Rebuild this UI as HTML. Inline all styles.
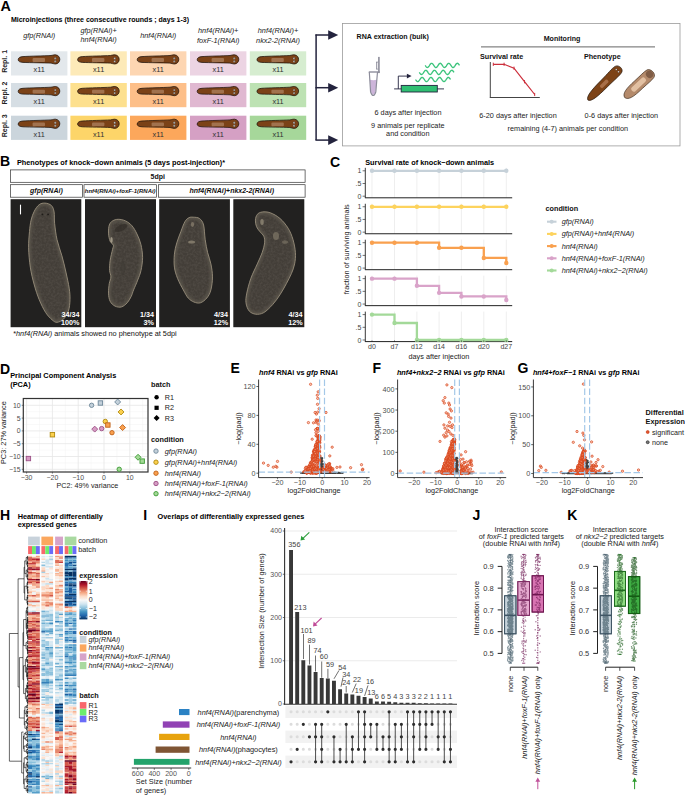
<!DOCTYPE html>
<html><head><meta charset="utf-8"><style>
html,body{margin:0;padding:0;background:#fff;width:685px;height:795px;overflow:hidden}
svg{display:block;font-family:"Liberation Sans", sans-serif}
</style></head><body>
<svg width="685" height="795" viewBox="0 0 685 795">
<defs>
<g id="worm">
<path d="M0.2,5 C0.2,2.8 2,2.1 5,1.8 C12,1.3 26,1.1 33,0.7 C35,0.4 36,-0.1 37.5,0 C40.5,0.3 41.8,2.5 41.8,4.6 C41.8,7 40,9.2 37.3,9.2 C35.5,9.2 34.5,8.4 33,8.3 C26,8.0 12,7.9 5,7.6 C2,7.4 0.2,6.6 0.2,5 Z" fill="#7b4217" stroke="#1e1209" stroke-width="0.75"/>
<rect x="14.6" y="3.3" width="12.4" height="3.8" rx="1" fill="#a87a58" opacity="0.85"/>
<circle cx="37.3" cy="3.6" r="0.95" fill="#fff" stroke="#222" stroke-width="0.35"/><circle cx="37.6" cy="3.6" r="0.4" fill="#222"/>
<circle cx="37.3" cy="6.6" r="0.95" fill="#fff" stroke="#222" stroke-width="0.35"/><circle cx="37.6" cy="6.6" r="0.4" fill="#222"/>
</g>
<filter id="bl" x="-20%" y="-20%" width="140%" height="140%"><feGaussianBlur stdDeviation="1.3"/></filter>
<filter id="grain" x="0" y="0" width="100%" height="100%"><feTurbulence type="fractalNoise" baseFrequency="0.45" numOctaves="2" seed="3" result="n"/><feColorMatrix in="n" type="matrix" values="0 0 0 0 0.54  0 0 0 0 0.5  0 0 0 0 0.44  0 0 0 1.6 -0.55" result="m"/><feComposite in="m" in2="SourceGraphic" operator="in"/></filter>
<radialGradient id="wg" cx="50%" cy="50%" r="60%">
<stop offset="0" stop-color="#46423b"/><stop offset="0.75" stop-color="#4f4a42"/><stop offset="1" stop-color="#6a6356"/>
</radialGradient>
</defs>
<text x="0.4" y="10.5" font-size="14.4" font-weight="bold">A</text>
<text x="10.9" y="22.3" font-size="7.04" font-weight="bold">Microinjections (three consecutive rounds ; days 1-3)</text>
<text x="39.2" y="37.6" font-size="7.3" text-anchor="middle" font-style="italic" fill="#222">gfp(RNAi)</text>
<rect x="11.00" y="51.30" width="56.40" height="24.20" fill="#e3e8ec"/>
<use href="#worm" x="18.00" y="54.80"/>
<text x="39.2" y="72.3" font-size="7.3" text-anchor="middle" fill="#333">x11</text>
<rect x="11.00" y="83.00" width="56.40" height="24.20" fill="#d6dee4"/>
<use href="#worm" x="18.00" y="86.50"/>
<text x="39.2" y="104.0" font-size="7.3" text-anchor="middle" fill="#333">x11</text>
<rect x="11.00" y="115.70" width="56.40" height="24.20" fill="#cbd5dc"/>
<use href="#worm" x="18.00" y="119.20"/>
<text x="39.2" y="136.7" font-size="7.3" text-anchor="middle" fill="#333">x11</text>
<text x="98.6" y="32.9" font-size="7.3" text-anchor="middle" font-style="italic" fill="#222">gfp(RNAi)+</text>
<text x="98.6" y="42.2" font-size="7.3" text-anchor="middle" font-style="italic" fill="#222">hnf4(RNAi)</text>
<rect x="70.40" y="51.30" width="56.40" height="24.20" fill="#fdeab8"/>
<use href="#worm" x="77.40" y="54.80"/>
<text x="98.6" y="72.3" font-size="7.3" text-anchor="middle" fill="#333">x11</text>
<rect x="70.40" y="83.00" width="56.40" height="24.20" fill="#fde08e"/>
<use href="#worm" x="77.40" y="86.50"/>
<text x="98.6" y="104.0" font-size="7.3" text-anchor="middle" fill="#333">x11</text>
<rect x="70.40" y="115.70" width="56.40" height="24.20" fill="#fdd569"/>
<use href="#worm" x="77.40" y="119.20"/>
<text x="98.6" y="136.7" font-size="7.3" text-anchor="middle" fill="#333">x11</text>
<text x="158.2" y="37.6" font-size="7.3" text-anchor="middle" font-style="italic" fill="#222">hnf4(RNAi)</text>
<rect x="130.00" y="51.30" width="56.40" height="24.20" fill="#fdd6b2"/>
<use href="#worm" x="137.00" y="54.80"/>
<text x="158.2" y="72.3" font-size="7.3" text-anchor="middle" fill="#333">x11</text>
<rect x="130.00" y="83.00" width="56.40" height="24.20" fill="#fdbf89"/>
<use href="#worm" x="137.00" y="86.50"/>
<text x="158.2" y="104.0" font-size="7.3" text-anchor="middle" fill="#333">x11</text>
<rect x="130.00" y="115.70" width="56.40" height="24.20" fill="#fca75b"/>
<use href="#worm" x="137.00" y="119.20"/>
<text x="158.2" y="136.7" font-size="7.3" text-anchor="middle" fill="#333">x11</text>
<text x="218.2" y="32.9" font-size="7.3" text-anchor="middle" font-style="italic" fill="#222">hnf4(RNAi)+</text>
<text x="218.2" y="42.5" font-size="7.3" text-anchor="middle" font-style="italic" fill="#222">foxF-1(RNAi)</text>
<rect x="190.00" y="51.30" width="56.40" height="24.20" fill="#ecd4e3"/>
<use href="#worm" x="197.00" y="54.80"/>
<text x="218.2" y="72.3" font-size="7.3" text-anchor="middle" fill="#333">x11</text>
<rect x="190.00" y="83.00" width="56.40" height="24.20" fill="#e0b8d1"/>
<use href="#worm" x="197.00" y="86.50"/>
<text x="218.2" y="104.0" font-size="7.3" text-anchor="middle" fill="#333">x11</text>
<rect x="190.00" y="115.70" width="56.40" height="24.20" fill="#d5a0c4"/>
<use href="#worm" x="197.00" y="119.20"/>
<text x="218.2" y="136.7" font-size="7.3" text-anchor="middle" fill="#333">x11</text>
<text x="278.0" y="32.9" font-size="7.3" text-anchor="middle" font-style="italic" fill="#222">hnf4(RNAi)+</text>
<text x="278.0" y="42.5" font-size="7.3" text-anchor="middle" font-style="italic" fill="#222">nkx2-2(RNAi)</text>
<rect x="249.80" y="51.30" width="56.40" height="24.20" fill="#d6edd0"/>
<use href="#worm" x="256.80" y="54.80"/>
<text x="278.0" y="72.3" font-size="7.3" text-anchor="middle" fill="#333">x11</text>
<rect x="249.80" y="83.00" width="56.40" height="24.20" fill="#bde2b3"/>
<use href="#worm" x="256.80" y="86.50"/>
<text x="278.0" y="104.0" font-size="7.3" text-anchor="middle" fill="#333">x11</text>
<rect x="249.80" y="115.70" width="56.40" height="24.20" fill="#a6d79a"/>
<use href="#worm" x="256.80" y="119.20"/>
<text x="278.0" y="136.7" font-size="7.3" text-anchor="middle" fill="#333">x11</text>
<text transform="translate(7.3,61.4) rotate(-90)" font-size="7.0" font-weight="bold" text-anchor="middle" fill="#222">Repl. 1</text>
<text transform="translate(7.3,93.1) rotate(-90)" font-size="7.0" font-weight="bold" text-anchor="middle" fill="#222">Repl. 2</text>
<text transform="translate(7.3,125.8) rotate(-90)" font-size="7.0" font-weight="bold" text-anchor="middle" fill="#222">Repl. 3</text>
<line x1="316.10" y1="34.60" x2="316.10" y2="140.10" stroke="#23233d" stroke-width="1.5"/>
<line x1="315.40" y1="35.00" x2="330.00" y2="35.00" stroke="#23233d" stroke-width="1.5"/>
<path d="M328.2,30.2 L338.2,35.0 L328.2,39.8 Z" fill="#23233d"/>
<line x1="315.40" y1="87.70" x2="330.00" y2="87.70" stroke="#23233d" stroke-width="1.5"/>
<path d="M328.2,82.9 L338.2,87.7 L328.2,92.5 Z" fill="#23233d"/>
<line x1="315.40" y1="140.10" x2="330.00" y2="140.10" stroke="#23233d" stroke-width="1.5"/>
<path d="M328.2,135.3 L338.2,140.1 L328.2,144.9 Z" fill="#23233d"/>
<rect x="342.40" y="23.40" width="337.60" height="122.50" fill="#fff" stroke="#9a9a9a" stroke-width="0.8"/>
<text x="356.6" y="38.6" font-size="7.1" font-weight="bold" fill="#111">RNA extraction (bulk)</text>
<path d="M369.8,79.8 L371.0,92 Q373.2,97.8 375.4,92 L376.9,79.8 Q373.4,80.6 369.8,79.8 Z" fill="#cdb5da"/>
<path d="M369.3,72 L370.6,92 Q373.2,99 375.8,92 L377.5,72" fill="none" stroke="#8d8d9b" stroke-width="1.2"/>
<line x1="368.80" y1="72.00" x2="379.80" y2="72.00" stroke="#8d8d9b" stroke-width="1.4"/>
<rect x="378.10" y="56.90" width="1.60" height="16.20" fill="#8d8d9b"/>
<rect x="376.40" y="62.10" width="1.80" height="7.00" fill="#fff" stroke="#8d8d9b" stroke-width="0.8"/>
<line x1="394.10" y1="88.90" x2="444.00" y2="88.90" stroke="#23233d" stroke-width="0.9"/>
<rect x="401.20" y="85.40" width="36.10" height="6.60" fill="#2fbf72" stroke="#23233d" stroke-width="0.9"/>
<path d="M398.3,88.9 L398.3,76.1 L407.6,76.1" fill="none" stroke="#23233d" stroke-width="0.9"/>
<path d="M406.9,73.7 L411.6,76.1 L406.9,78.5 Z" fill="#23233d"/>
<polyline points="425.20,65.40 425.55,65.93 425.90,66.43 426.25,66.86 426.60,67.20 426.95,67.41 427.30,67.50 427.65,67.45 428.00,67.26 428.35,66.95 428.70,66.55 429.05,66.06 429.40,65.53 429.75,65.00 430.10,64.49 430.45,64.04 430.80,63.68 431.15,63.43 431.50,63.31 431.85,63.33 432.20,63.48 432.55,63.76 432.90,64.14 433.25,64.61 433.60,65.13 433.95,65.67 434.30,66.19 434.65,66.66 435.00,67.04 435.35,67.32 435.70,67.47 436.05,67.49 436.40,67.37 436.75,67.12 437.10,66.76 437.45,66.31 437.80,65.80 438.15,65.27 438.50,64.74 438.85,64.25 439.20,63.85 439.55,63.54 439.90,63.35 440.25,63.30 440.60,63.39 440.95,63.60 441.30,63.94 441.65,64.37 442.00,64.87 442.35,65.40 442.70,65.93 443.05,66.43 443.40,66.86 443.75,67.20 444.10,67.41 444.45,67.50 444.80,67.45 445.15,67.26 445.50,66.95 445.85,66.55 446.20,66.06 446.55,65.53 446.90,65.00 447.25,64.49 447.60,64.04 447.95,63.68 448.30,63.43 448.65,63.31 449.00,63.33 449.35,63.48 449.70,63.76 450.05,64.14 450.40,64.61 450.75,65.13 451.10,65.67 451.45,66.19 451.80,66.66 452.15,67.04 452.50,67.32 452.85,67.47 453.20,67.49 453.55,67.37 453.90,67.12 454.25,66.76 454.60,66.31 454.95,65.80 455.30,65.27 455.65,64.74 456.00,64.25 456.35,63.85 456.70,63.54 457.05,63.35 457.40,63.30 457.75,63.39 458.10,63.60 458.45,63.94 458.80,64.37 459.15,64.87 459.50,65.40" fill="none" stroke="#3cc47c" stroke-width="1.35"/>
<polyline points="419.30,72.40 419.65,72.93 420.00,73.42 420.35,73.85 420.70,74.18 421.05,74.41 421.40,74.50 421.75,74.46 422.10,74.28 422.45,73.99 422.81,73.59 423.16,73.12 423.51,72.60 423.86,72.07 424.21,71.56 424.56,71.10 424.91,70.73 425.26,70.46 425.61,70.32 425.96,70.31 426.31,70.44 426.66,70.69 427.01,71.05 427.36,71.50 427.71,72.00 428.06,72.53 428.41,73.06 428.76,73.54 429.11,73.94 429.46,74.25 429.82,74.44 430.17,74.50 430.52,74.42 430.87,74.22 431.22,73.90 431.57,73.48 431.92,72.99 432.27,72.47 432.62,71.94 432.97,71.44 433.32,71.00 433.67,70.65 434.02,70.42 434.37,70.31 434.72,70.33 435.07,70.49 435.42,70.77 435.77,71.15 436.12,71.62 436.47,72.13 436.83,72.67 437.18,73.18 437.53,73.65 437.88,74.03 438.23,74.31 438.58,74.47 438.93,74.49 439.28,74.38 439.63,74.15 439.98,73.80 440.33,73.36 440.68,72.86 441.03,72.33 441.38,71.81 441.73,71.32 442.08,70.90 442.43,70.58 442.78,70.38 443.13,70.30 443.48,70.36 443.84,70.55 444.19,70.86 444.54,71.26 444.89,71.74 445.24,72.27 445.59,72.80 445.94,73.30 446.29,73.75 446.64,74.11 446.99,74.36 447.34,74.49 447.69,74.48 448.04,74.34 448.39,74.07 448.74,73.70 449.09,73.24 449.44,72.73 449.79,72.20 450.14,71.68 450.49,71.21 450.85,70.81 451.20,70.52 451.55,70.34 451.90,70.30 452.25,70.39 452.60,70.62 452.95,70.95 453.30,71.38 453.65,71.87 454.00,72.40" fill="none" stroke="#3cc47c" stroke-width="1.35"/>
<polyline points="415.60,79.50 415.95,80.03 416.31,80.52 416.66,80.95 417.01,81.28 417.36,81.51 417.72,81.60 418.07,81.56 418.42,81.38 418.77,81.09 419.13,80.69 419.48,80.22 419.83,79.70 420.18,79.17 420.54,78.66 420.89,78.20 421.24,77.83 421.59,77.56 421.95,77.42 422.30,77.41 422.65,77.54 423.00,77.79 423.36,78.15 423.71,78.60 424.06,79.10 424.41,79.63 424.77,80.16 425.12,80.64 425.47,81.04 425.82,81.35 426.18,81.54 426.53,81.60 426.88,81.52 427.23,81.32 427.59,81.00 427.94,80.58 428.29,80.09 428.64,79.57 429.00,79.04 429.35,78.54 429.70,78.10 430.05,77.75 430.41,77.52 430.76,77.41 431.11,77.43 431.46,77.59 431.82,77.87 432.17,78.25 432.52,78.72 432.87,79.23 433.23,79.77 433.58,80.28 433.93,80.75 434.28,81.13 434.64,81.41 434.99,81.57 435.34,81.59 435.69,81.48 436.05,81.25 436.40,80.90 436.75,80.46 437.10,79.96 437.46,79.43 437.81,78.91 438.16,78.42 438.51,78.00 438.87,77.68 439.22,77.48 439.57,77.40 439.92,77.46 440.28,77.65 440.63,77.96 440.98,78.36 441.33,78.84 441.69,79.37 442.04,79.90 442.39,80.40 442.74,80.85 443.10,81.21 443.45,81.46 443.80,81.59 444.15,81.58 444.51,81.44 444.86,81.17 445.21,80.80 445.56,80.34 445.92,79.83 446.27,79.30 446.62,78.78 446.97,78.31 447.33,77.91 447.68,77.62 448.03,77.44 448.38,77.40 448.74,77.49 449.09,77.72 449.44,78.05 449.79,78.48 450.15,78.97 450.50,79.50" fill="none" stroke="#3cc47c" stroke-width="1.35"/>
<text x="408.0" y="114.8" font-size="7.3" text-anchor="middle" fill="#222">6 days after injection</text>
<text x="407.8" y="128.0" font-size="7.3" text-anchor="middle" fill="#222">9 animals per replicate</text>
<text x="407.8" y="136.2" font-size="7.3" text-anchor="middle" fill="#222">and condition</text>
<text x="562.0" y="41.3" font-size="7.1" text-anchor="middle" font-weight="bold" fill="#111">Monitoring</text>
<line x1="481.00" y1="46.90" x2="655.00" y2="46.90" stroke="#555" stroke-width="0.9"/>
<text x="480.0" y="59.0" font-size="7.2" font-weight="bold" fill="#111">Survival rate</text>
<text x="583.9" y="59.0" font-size="7.2" font-weight="bold" fill="#111">Phenotype</text>
<line x1="490.30" y1="62.00" x2="490.30" y2="97.50" stroke="#444" stroke-width="1.0"/>
<line x1="489.80" y1="97.50" x2="539.80" y2="97.50" stroke="#444" stroke-width="1.0"/>
<polyline points="493.3,64.3 504.1,64.3 514.0,68.2 524.5,81.7 534.7,94.5" fill="none" stroke="#cc2f3c" stroke-width="1.2"/>
<line x1="493.30" y1="62.70" x2="493.30" y2="65.90" stroke="#cc2f3c" stroke-width="1.0"/>
<line x1="504.10" y1="62.70" x2="504.10" y2="65.90" stroke="#cc2f3c" stroke-width="1.0"/>
<line x1="514.00" y1="66.60" x2="514.00" y2="69.80" stroke="#cc2f3c" stroke-width="1.0"/>
<line x1="524.50" y1="80.10" x2="524.50" y2="83.30" stroke="#cc2f3c" stroke-width="1.0"/>
<line x1="534.70" y1="92.90" x2="534.70" y2="96.10" stroke="#cc2f3c" stroke-width="1.0"/>
<text x="518.0" y="118.3" font-size="7.3" text-anchor="middle" fill="#222">6-20 days after injection</text>
<text x="621.3" y="118.3" font-size="7.3" text-anchor="middle" fill="#222">0-6 days after injection</text>
<text x="567.8" y="130.8" font-size="7.3" text-anchor="middle" fill="#222">remaining (4-7) animals per condition</text>
<g transform="translate(604.2,83.8) rotate(-45)"><path d="M-23,0 C-22,-3.6 -14,-4.6 0,-4.6 C10,-4.6 16,-5.6 20,-4.6 C24,-3.6 24.5,3.6 20,4.4 C16,5.2 10,4.4 0,4.4 C-14,4.4 -22,3.6 -23,0 Z" fill="#7d4317" stroke="#2a1a0e" stroke-width="0.7"/><rect x="-5" y="-1.8" width="10" height="3.6" rx="1.2" fill="#a86f48"/><circle cx="18.6" cy="-1.6" r="0.8" fill="#fff" stroke="#222" stroke-width="0.3"/><circle cx="18.6" cy="1.6" r="0.8" fill="#fff" stroke="#222" stroke-width="0.3"/></g>
<g transform="translate(638.6,84.6) rotate(-43)"><path d="M-19,0 C-18,-4.6 -12,-5.6 0,-5.4 C8,-5.3 12,-5.8 16,-5 C20,-4 20.5,4.2 16,5.2 C12,6 8,5.4 0,5.4 C-12,5.6 -18,4.6 -19,0 Z" fill="#b48a6b" stroke="#4a3526" stroke-width="0.7"/><rect x="-9" y="-2.6" width="18" height="5.2" rx="2.2" fill="#e2c0a2"/><ellipse cx="15" cy="0" rx="3.6" ry="3.8" fill="#6a4a36" opacity="0.7"/></g>
<text x="0.0" y="166.2" font-size="14.0" font-weight="bold">B</text>
<text x="16.9" y="164.9" font-size="7.3" font-weight="bold">Phenotypes of knock−down animals (5 days post-injection)*</text>
<rect x="10.40" y="169.90" width="294.70" height="12.40" fill="#fff" stroke="#333" stroke-width="0.7"/>
<text x="157.8" y="178.6" font-size="7.0" text-anchor="middle" font-weight="bold" fill="#111">5dpi</text>
<rect x="10.40" y="184.70" width="72.00" height="12.50" fill="#fff" stroke="#333" stroke-width="0.7"/>
<text x="46.4" y="193.3" font-size="7.0" text-anchor="middle" font-weight="bold" fill="#111"><tspan font-style="italic">gfp(RNAi)</tspan></text>
<rect x="84.00" y="184.70" width="72.40" height="12.50" fill="#fff" stroke="#333" stroke-width="0.7"/>
<text x="120.2" y="193.3" font-size="5.95" text-anchor="middle" font-weight="bold" fill="#111"><tspan font-style="italic">hnf4(RNAi)</tspan>+<tspan font-style="italic">foxF-1(RNAi)</tspan></text>
<rect x="158.50" y="184.70" width="146.60" height="12.50" fill="#fff" stroke="#333" stroke-width="0.7"/>
<text x="231.8" y="193.3" font-size="7.0" text-anchor="middle" font-weight="bold" fill="#111"><tspan font-style="italic">hnf4(RNAi)</tspan>+<tspan font-style="italic">nkx2-2(RNAi)</tspan></text>
<rect x="10.60" y="199.20" width="70.70" height="128.00" fill="#222120"/>
<rect x="85.00" y="199.20" width="71.00" height="128.00" fill="#222120"/>
<rect x="159.20" y="199.20" width="70.70" height="128.00" fill="#222120"/>
<rect x="233.30" y="199.20" width="71.00" height="128.00" fill="#222120"/>
<clipPath id="wc0"><path d="M44.9,203.1 C46.9,203.2 49.9,204.0 51.4,205.5 C52.9,207.0 53.6,209.0 54.1,212.0 C54.6,215.0 54.1,218.7 54.6,223.3 C55.1,227.9 55.8,234.2 57.0,239.6 C58.2,245.0 60.4,250.4 61.9,255.8 C63.4,261.2 64.7,266.6 65.9,272.0 C67.1,277.4 68.5,283.6 69.2,288.2 C69.9,292.8 70.1,295.8 70.0,299.6 C69.9,303.4 69.5,307.8 68.4,311.0 C67.3,314.2 65.4,317.2 63.5,319.1 C61.6,321.0 58.9,322.2 57.0,322.3 C55.1,322.4 54.1,321.5 52.2,319.9 C50.3,318.3 47.9,316.0 45.7,312.6 C43.5,309.2 41.1,304.2 39.2,299.6 C37.3,295.0 35.8,290.4 34.3,285.0 C32.8,279.6 31.2,273.3 30.3,267.1 C29.4,260.9 28.7,253.6 28.6,247.7 C28.5,241.8 29.1,236.1 29.5,231.5 C29.9,226.9 30.3,223.5 31.1,220.1 C31.9,216.7 32.9,213.8 34.3,211.2 C35.6,208.6 37.4,206.0 39.2,204.7 C41.0,203.3 42.9,203.0 44.9,203.1 Z"/></clipPath>
<path d="M44.9,203.1 C46.9,203.2 49.9,204.0 51.4,205.5 C52.9,207.0 53.6,209.0 54.1,212.0 C54.6,215.0 54.1,218.7 54.6,223.3 C55.1,227.9 55.8,234.2 57.0,239.6 C58.2,245.0 60.4,250.4 61.9,255.8 C63.4,261.2 64.7,266.6 65.9,272.0 C67.1,277.4 68.5,283.6 69.2,288.2 C69.9,292.8 70.1,295.8 70.0,299.6 C69.9,303.4 69.5,307.8 68.4,311.0 C67.3,314.2 65.4,317.2 63.5,319.1 C61.6,321.0 58.9,322.2 57.0,322.3 C55.1,322.4 54.1,321.5 52.2,319.9 C50.3,318.3 47.9,316.0 45.7,312.6 C43.5,309.2 41.1,304.2 39.2,299.6 C37.3,295.0 35.8,290.4 34.3,285.0 C32.8,279.6 31.2,273.3 30.3,267.1 C29.4,260.9 28.7,253.6 28.6,247.7 C28.5,241.8 29.1,236.1 29.5,231.5 C29.9,226.9 30.3,223.5 31.1,220.1 C31.9,216.7 32.9,213.8 34.3,211.2 C35.6,208.6 37.4,206.0 39.2,204.7 C41.0,203.3 42.9,203.0 44.9,203.1 Z" fill="#433e38"/>
<path d="M44.9,203.1 C46.9,203.2 49.9,204.0 51.4,205.5 C52.9,207.0 53.6,209.0 54.1,212.0 C54.6,215.0 54.1,218.7 54.6,223.3 C55.1,227.9 55.8,234.2 57.0,239.6 C58.2,245.0 60.4,250.4 61.9,255.8 C63.4,261.2 64.7,266.6 65.9,272.0 C67.1,277.4 68.5,283.6 69.2,288.2 C69.9,292.8 70.1,295.8 70.0,299.6 C69.9,303.4 69.5,307.8 68.4,311.0 C67.3,314.2 65.4,317.2 63.5,319.1 C61.6,321.0 58.9,322.2 57.0,322.3 C55.1,322.4 54.1,321.5 52.2,319.9 C50.3,318.3 47.9,316.0 45.7,312.6 C43.5,309.2 41.1,304.2 39.2,299.6 C37.3,295.0 35.8,290.4 34.3,285.0 C32.8,279.6 31.2,273.3 30.3,267.1 C29.4,260.9 28.7,253.6 28.6,247.7 C28.5,241.8 29.1,236.1 29.5,231.5 C29.9,226.9 30.3,223.5 31.1,220.1 C31.9,216.7 32.9,213.8 34.3,211.2 C35.6,208.6 37.4,206.0 39.2,204.7 C41.0,203.3 42.9,203.0 44.9,203.1 Z" fill="#8a8070" filter="url(#grain)" opacity="0.13"/>
<g clip-path="url(#wc0)"><path d="M44.9,203.1 C46.9,203.2 49.9,204.0 51.4,205.5 C52.9,207.0 53.6,209.0 54.1,212.0 C54.6,215.0 54.1,218.7 54.6,223.3 C55.1,227.9 55.8,234.2 57.0,239.6 C58.2,245.0 60.4,250.4 61.9,255.8 C63.4,261.2 64.7,266.6 65.9,272.0 C67.1,277.4 68.5,283.6 69.2,288.2 C69.9,292.8 70.1,295.8 70.0,299.6 C69.9,303.4 69.5,307.8 68.4,311.0 C67.3,314.2 65.4,317.2 63.5,319.1 C61.6,321.0 58.9,322.2 57.0,322.3 C55.1,322.4 54.1,321.5 52.2,319.9 C50.3,318.3 47.9,316.0 45.7,312.6 C43.5,309.2 41.1,304.2 39.2,299.6 C37.3,295.0 35.8,290.4 34.3,285.0 C32.8,279.6 31.2,273.3 30.3,267.1 C29.4,260.9 28.7,253.6 28.6,247.7 C28.5,241.8 29.1,236.1 29.5,231.5 C29.9,226.9 30.3,223.5 31.1,220.1 C31.9,216.7 32.9,213.8 34.3,211.2 C35.6,208.6 37.4,206.0 39.2,204.7 C41.0,203.3 42.9,203.0 44.9,203.1 Z" fill="none" stroke="#58524a" stroke-width="5" filter="url(#bl)"/></g>
<path d="M44.9,203.1 C46.9,203.2 49.9,204.0 51.4,205.5 C52.9,207.0 53.6,209.0 54.1,212.0 C54.6,215.0 54.1,218.7 54.6,223.3 C55.1,227.9 55.8,234.2 57.0,239.6 C58.2,245.0 60.4,250.4 61.9,255.8 C63.4,261.2 64.7,266.6 65.9,272.0 C67.1,277.4 68.5,283.6 69.2,288.2 C69.9,292.8 70.1,295.8 70.0,299.6 C69.9,303.4 69.5,307.8 68.4,311.0 C67.3,314.2 65.4,317.2 63.5,319.1 C61.6,321.0 58.9,322.2 57.0,322.3 C55.1,322.4 54.1,321.5 52.2,319.9 C50.3,318.3 47.9,316.0 45.7,312.6 C43.5,309.2 41.1,304.2 39.2,299.6 C37.3,295.0 35.8,290.4 34.3,285.0 C32.8,279.6 31.2,273.3 30.3,267.1 C29.4,260.9 28.7,253.6 28.6,247.7 C28.5,241.8 29.1,236.1 29.5,231.5 C29.9,226.9 30.3,223.5 31.1,220.1 C31.9,216.7 32.9,213.8 34.3,211.2 C35.6,208.6 37.4,206.0 39.2,204.7 C41.0,203.3 42.9,203.0 44.9,203.1 Z" fill="none" stroke="#918876" stroke-width="0.95"/>
<clipPath id="wc1"><path d="M118.2,219.3 C120.4,219.3 123.2,219.8 125.5,220.9 C127.8,222.0 130.1,223.6 132.0,225.8 C133.9,228.0 135.4,230.8 136.9,233.9 C138.4,237.0 140.0,240.5 140.9,244.4 C141.8,248.3 142.6,253.1 142.6,257.4 C142.6,261.7 141.8,266.6 141.0,270.4 C140.2,274.2 138.9,276.9 137.7,280.1 C136.5,283.4 134.7,287.2 133.6,289.9 C132.5,292.6 132.3,294.2 131.2,296.4 C130.1,298.5 128.8,301.1 127.2,302.8 C125.6,304.6 123.5,306.3 121.5,306.9 C119.5,307.4 116.9,307.1 115.0,306.1 C113.1,305.2 111.2,303.4 110.1,301.2 C109.0,299.0 108.6,296.1 108.5,293.1 C108.4,290.1 108.9,286.1 109.3,283.4 C109.7,280.7 110.9,279.1 110.9,276.9 C111.0,274.7 109.7,273.1 109.6,270.4 C109.5,267.7 109.6,264.2 110.1,260.7 C110.6,257.2 112.0,251.9 112.6,249.3 C113.1,246.7 113.8,246.5 113.4,245.2 C113.0,243.8 110.9,243.2 110.1,241.2 C109.3,239.2 108.6,235.8 108.5,233.1 C108.4,230.4 108.6,227.0 109.3,225.0 C110.0,223.0 111.1,221.8 112.6,220.9 C114.1,220.0 116.0,219.3 118.2,219.3 Z"/></clipPath>
<path d="M118.2,219.3 C120.4,219.3 123.2,219.8 125.5,220.9 C127.8,222.0 130.1,223.6 132.0,225.8 C133.9,228.0 135.4,230.8 136.9,233.9 C138.4,237.0 140.0,240.5 140.9,244.4 C141.8,248.3 142.6,253.1 142.6,257.4 C142.6,261.7 141.8,266.6 141.0,270.4 C140.2,274.2 138.9,276.9 137.7,280.1 C136.5,283.4 134.7,287.2 133.6,289.9 C132.5,292.6 132.3,294.2 131.2,296.4 C130.1,298.5 128.8,301.1 127.2,302.8 C125.6,304.6 123.5,306.3 121.5,306.9 C119.5,307.4 116.9,307.1 115.0,306.1 C113.1,305.2 111.2,303.4 110.1,301.2 C109.0,299.0 108.6,296.1 108.5,293.1 C108.4,290.1 108.9,286.1 109.3,283.4 C109.7,280.7 110.9,279.1 110.9,276.9 C111.0,274.7 109.7,273.1 109.6,270.4 C109.5,267.7 109.6,264.2 110.1,260.7 C110.6,257.2 112.0,251.9 112.6,249.3 C113.1,246.7 113.8,246.5 113.4,245.2 C113.0,243.8 110.9,243.2 110.1,241.2 C109.3,239.2 108.6,235.8 108.5,233.1 C108.4,230.4 108.6,227.0 109.3,225.0 C110.0,223.0 111.1,221.8 112.6,220.9 C114.1,220.0 116.0,219.3 118.2,219.3 Z" fill="#433e38"/>
<path d="M118.2,219.3 C120.4,219.3 123.2,219.8 125.5,220.9 C127.8,222.0 130.1,223.6 132.0,225.8 C133.9,228.0 135.4,230.8 136.9,233.9 C138.4,237.0 140.0,240.5 140.9,244.4 C141.8,248.3 142.6,253.1 142.6,257.4 C142.6,261.7 141.8,266.6 141.0,270.4 C140.2,274.2 138.9,276.9 137.7,280.1 C136.5,283.4 134.7,287.2 133.6,289.9 C132.5,292.6 132.3,294.2 131.2,296.4 C130.1,298.5 128.8,301.1 127.2,302.8 C125.6,304.6 123.5,306.3 121.5,306.9 C119.5,307.4 116.9,307.1 115.0,306.1 C113.1,305.2 111.2,303.4 110.1,301.2 C109.0,299.0 108.6,296.1 108.5,293.1 C108.4,290.1 108.9,286.1 109.3,283.4 C109.7,280.7 110.9,279.1 110.9,276.9 C111.0,274.7 109.7,273.1 109.6,270.4 C109.5,267.7 109.6,264.2 110.1,260.7 C110.6,257.2 112.0,251.9 112.6,249.3 C113.1,246.7 113.8,246.5 113.4,245.2 C113.0,243.8 110.9,243.2 110.1,241.2 C109.3,239.2 108.6,235.8 108.5,233.1 C108.4,230.4 108.6,227.0 109.3,225.0 C110.0,223.0 111.1,221.8 112.6,220.9 C114.1,220.0 116.0,219.3 118.2,219.3 Z" fill="#8a8070" filter="url(#grain)" opacity="0.13"/>
<g clip-path="url(#wc1)"><path d="M118.2,219.3 C120.4,219.3 123.2,219.8 125.5,220.9 C127.8,222.0 130.1,223.6 132.0,225.8 C133.9,228.0 135.4,230.8 136.9,233.9 C138.4,237.0 140.0,240.5 140.9,244.4 C141.8,248.3 142.6,253.1 142.6,257.4 C142.6,261.7 141.8,266.6 141.0,270.4 C140.2,274.2 138.9,276.9 137.7,280.1 C136.5,283.4 134.7,287.2 133.6,289.9 C132.5,292.6 132.3,294.2 131.2,296.4 C130.1,298.5 128.8,301.1 127.2,302.8 C125.6,304.6 123.5,306.3 121.5,306.9 C119.5,307.4 116.9,307.1 115.0,306.1 C113.1,305.2 111.2,303.4 110.1,301.2 C109.0,299.0 108.6,296.1 108.5,293.1 C108.4,290.1 108.9,286.1 109.3,283.4 C109.7,280.7 110.9,279.1 110.9,276.9 C111.0,274.7 109.7,273.1 109.6,270.4 C109.5,267.7 109.6,264.2 110.1,260.7 C110.6,257.2 112.0,251.9 112.6,249.3 C113.1,246.7 113.8,246.5 113.4,245.2 C113.0,243.8 110.9,243.2 110.1,241.2 C109.3,239.2 108.6,235.8 108.5,233.1 C108.4,230.4 108.6,227.0 109.3,225.0 C110.0,223.0 111.1,221.8 112.6,220.9 C114.1,220.0 116.0,219.3 118.2,219.3 Z" fill="none" stroke="#58524a" stroke-width="5" filter="url(#bl)"/></g>
<path d="M118.2,219.3 C120.4,219.3 123.2,219.8 125.5,220.9 C127.8,222.0 130.1,223.6 132.0,225.8 C133.9,228.0 135.4,230.8 136.9,233.9 C138.4,237.0 140.0,240.5 140.9,244.4 C141.8,248.3 142.6,253.1 142.6,257.4 C142.6,261.7 141.8,266.6 141.0,270.4 C140.2,274.2 138.9,276.9 137.7,280.1 C136.5,283.4 134.7,287.2 133.6,289.9 C132.5,292.6 132.3,294.2 131.2,296.4 C130.1,298.5 128.8,301.1 127.2,302.8 C125.6,304.6 123.5,306.3 121.5,306.9 C119.5,307.4 116.9,307.1 115.0,306.1 C113.1,305.2 111.2,303.4 110.1,301.2 C109.0,299.0 108.6,296.1 108.5,293.1 C108.4,290.1 108.9,286.1 109.3,283.4 C109.7,280.7 110.9,279.1 110.9,276.9 C111.0,274.7 109.7,273.1 109.6,270.4 C109.5,267.7 109.6,264.2 110.1,260.7 C110.6,257.2 112.0,251.9 112.6,249.3 C113.1,246.7 113.8,246.5 113.4,245.2 C113.0,243.8 110.9,243.2 110.1,241.2 C109.3,239.2 108.6,235.8 108.5,233.1 C108.4,230.4 108.6,227.0 109.3,225.0 C110.0,223.0 111.1,221.8 112.6,220.9 C114.1,220.0 116.0,219.3 118.2,219.3 Z" fill="none" stroke="#918876" stroke-width="0.95"/>
<clipPath id="wc2"><path d="M193.1,217.2 C194.8,217.3 197.8,217.2 199.5,218.5 C201.2,219.8 202.7,221.5 203.6,225.0 C204.5,228.5 204.5,235.0 205.2,239.6 C205.9,244.2 206.6,248.4 207.6,252.5 C208.6,256.6 210.1,259.8 210.9,263.9 C211.7,268.0 212.5,272.6 212.5,276.9 C212.5,281.2 211.8,286.4 210.9,289.9 C210.0,293.4 208.6,295.9 206.8,298.0 C205.1,300.1 202.6,302.1 200.4,302.8 C198.2,303.5 195.9,302.8 193.9,302.0 C191.9,301.2 190.0,300.0 188.2,298.0 C186.4,296.0 185.1,293.1 183.3,289.9 C181.5,286.6 179.1,282.3 177.6,278.5 C176.1,274.7 174.9,271.2 174.4,267.1 C173.9,263.1 174.0,258.2 174.4,254.2 C174.8,250.1 175.7,246.6 176.8,242.8 C177.9,239.0 179.6,235.0 180.9,231.5 C182.2,228.0 183.6,224.0 184.9,221.7 C186.2,219.4 187.6,218.4 189.0,217.7 C190.4,216.9 191.3,217.1 193.1,217.2 Z"/></clipPath>
<path d="M193.1,217.2 C194.8,217.3 197.8,217.2 199.5,218.5 C201.2,219.8 202.7,221.5 203.6,225.0 C204.5,228.5 204.5,235.0 205.2,239.6 C205.9,244.2 206.6,248.4 207.6,252.5 C208.6,256.6 210.1,259.8 210.9,263.9 C211.7,268.0 212.5,272.6 212.5,276.9 C212.5,281.2 211.8,286.4 210.9,289.9 C210.0,293.4 208.6,295.9 206.8,298.0 C205.1,300.1 202.6,302.1 200.4,302.8 C198.2,303.5 195.9,302.8 193.9,302.0 C191.9,301.2 190.0,300.0 188.2,298.0 C186.4,296.0 185.1,293.1 183.3,289.9 C181.5,286.6 179.1,282.3 177.6,278.5 C176.1,274.7 174.9,271.2 174.4,267.1 C173.9,263.1 174.0,258.2 174.4,254.2 C174.8,250.1 175.7,246.6 176.8,242.8 C177.9,239.0 179.6,235.0 180.9,231.5 C182.2,228.0 183.6,224.0 184.9,221.7 C186.2,219.4 187.6,218.4 189.0,217.7 C190.4,216.9 191.3,217.1 193.1,217.2 Z" fill="#433e38"/>
<path d="M193.1,217.2 C194.8,217.3 197.8,217.2 199.5,218.5 C201.2,219.8 202.7,221.5 203.6,225.0 C204.5,228.5 204.5,235.0 205.2,239.6 C205.9,244.2 206.6,248.4 207.6,252.5 C208.6,256.6 210.1,259.8 210.9,263.9 C211.7,268.0 212.5,272.6 212.5,276.9 C212.5,281.2 211.8,286.4 210.9,289.9 C210.0,293.4 208.6,295.9 206.8,298.0 C205.1,300.1 202.6,302.1 200.4,302.8 C198.2,303.5 195.9,302.8 193.9,302.0 C191.9,301.2 190.0,300.0 188.2,298.0 C186.4,296.0 185.1,293.1 183.3,289.9 C181.5,286.6 179.1,282.3 177.6,278.5 C176.1,274.7 174.9,271.2 174.4,267.1 C173.9,263.1 174.0,258.2 174.4,254.2 C174.8,250.1 175.7,246.6 176.8,242.8 C177.9,239.0 179.6,235.0 180.9,231.5 C182.2,228.0 183.6,224.0 184.9,221.7 C186.2,219.4 187.6,218.4 189.0,217.7 C190.4,216.9 191.3,217.1 193.1,217.2 Z" fill="#8a8070" filter="url(#grain)" opacity="0.13"/>
<g clip-path="url(#wc2)"><path d="M193.1,217.2 C194.8,217.3 197.8,217.2 199.5,218.5 C201.2,219.8 202.7,221.5 203.6,225.0 C204.5,228.5 204.5,235.0 205.2,239.6 C205.9,244.2 206.6,248.4 207.6,252.5 C208.6,256.6 210.1,259.8 210.9,263.9 C211.7,268.0 212.5,272.6 212.5,276.9 C212.5,281.2 211.8,286.4 210.9,289.9 C210.0,293.4 208.6,295.9 206.8,298.0 C205.1,300.1 202.6,302.1 200.4,302.8 C198.2,303.5 195.9,302.8 193.9,302.0 C191.9,301.2 190.0,300.0 188.2,298.0 C186.4,296.0 185.1,293.1 183.3,289.9 C181.5,286.6 179.1,282.3 177.6,278.5 C176.1,274.7 174.9,271.2 174.4,267.1 C173.9,263.1 174.0,258.2 174.4,254.2 C174.8,250.1 175.7,246.6 176.8,242.8 C177.9,239.0 179.6,235.0 180.9,231.5 C182.2,228.0 183.6,224.0 184.9,221.7 C186.2,219.4 187.6,218.4 189.0,217.7 C190.4,216.9 191.3,217.1 193.1,217.2 Z" fill="none" stroke="#58524a" stroke-width="5" filter="url(#bl)"/></g>
<path d="M193.1,217.2 C194.8,217.3 197.8,217.2 199.5,218.5 C201.2,219.8 202.7,221.5 203.6,225.0 C204.5,228.5 204.5,235.0 205.2,239.6 C205.9,244.2 206.6,248.4 207.6,252.5 C208.6,256.6 210.1,259.8 210.9,263.9 C211.7,268.0 212.5,272.6 212.5,276.9 C212.5,281.2 211.8,286.4 210.9,289.9 C210.0,293.4 208.6,295.9 206.8,298.0 C205.1,300.1 202.6,302.1 200.4,302.8 C198.2,303.5 195.9,302.8 193.9,302.0 C191.9,301.2 190.0,300.0 188.2,298.0 C186.4,296.0 185.1,293.1 183.3,289.9 C181.5,286.6 179.1,282.3 177.6,278.5 C176.1,274.7 174.9,271.2 174.4,267.1 C173.9,263.1 174.0,258.2 174.4,254.2 C174.8,250.1 175.7,246.6 176.8,242.8 C177.9,239.0 179.6,235.0 180.9,231.5 C182.2,228.0 183.6,224.0 184.9,221.7 C186.2,219.4 187.6,218.4 189.0,217.7 C190.4,216.9 191.3,217.1 193.1,217.2 Z" fill="none" stroke="#918876" stroke-width="0.95"/>
<clipPath id="wc3"><path d="M262.2,212.0 C264.4,211.7 267.3,211.7 270.3,212.8 C273.3,213.9 277.0,215.9 280.0,218.5 C283.0,221.1 285.9,224.7 288.1,228.2 C290.3,231.7 291.8,235.5 293.0,239.6 C294.2,243.7 295.1,248.4 295.4,252.5 C295.7,256.6 295.3,260.4 294.6,263.9 C293.9,267.4 292.8,270.4 291.4,273.6 C290.0,276.9 288.4,279.9 286.5,283.4 C284.6,286.9 282.3,291.2 280.0,294.7 C277.7,298.2 275.4,301.5 272.7,304.5 C270.0,307.5 266.6,311.0 263.8,312.6 C261.0,314.2 258.1,314.5 255.7,314.2 C253.3,313.9 250.8,312.9 249.2,311.0 C247.6,309.1 246.4,305.8 246.0,302.8 C245.6,299.8 246.0,297.2 246.8,293.1 C247.6,289.1 249.1,283.4 250.8,278.5 C252.6,273.6 255.4,268.2 257.3,263.9 C259.2,259.6 261.0,256.0 262.2,252.5 C263.4,249.0 264.3,245.5 264.6,242.8 C264.9,240.1 264.6,238.2 263.8,236.3 C263.0,234.4 261.0,233.1 259.8,231.5 C258.6,229.9 257.2,228.5 256.5,226.6 C255.8,224.7 255.3,222.1 255.4,220.1 C255.5,218.1 256.2,215.8 257.3,214.4 C258.4,213.1 260.0,212.3 262.2,212.0 Z"/></clipPath>
<path d="M262.2,212.0 C264.4,211.7 267.3,211.7 270.3,212.8 C273.3,213.9 277.0,215.9 280.0,218.5 C283.0,221.1 285.9,224.7 288.1,228.2 C290.3,231.7 291.8,235.5 293.0,239.6 C294.2,243.7 295.1,248.4 295.4,252.5 C295.7,256.6 295.3,260.4 294.6,263.9 C293.9,267.4 292.8,270.4 291.4,273.6 C290.0,276.9 288.4,279.9 286.5,283.4 C284.6,286.9 282.3,291.2 280.0,294.7 C277.7,298.2 275.4,301.5 272.7,304.5 C270.0,307.5 266.6,311.0 263.8,312.6 C261.0,314.2 258.1,314.5 255.7,314.2 C253.3,313.9 250.8,312.9 249.2,311.0 C247.6,309.1 246.4,305.8 246.0,302.8 C245.6,299.8 246.0,297.2 246.8,293.1 C247.6,289.1 249.1,283.4 250.8,278.5 C252.6,273.6 255.4,268.2 257.3,263.9 C259.2,259.6 261.0,256.0 262.2,252.5 C263.4,249.0 264.3,245.5 264.6,242.8 C264.9,240.1 264.6,238.2 263.8,236.3 C263.0,234.4 261.0,233.1 259.8,231.5 C258.6,229.9 257.2,228.5 256.5,226.6 C255.8,224.7 255.3,222.1 255.4,220.1 C255.5,218.1 256.2,215.8 257.3,214.4 C258.4,213.1 260.0,212.3 262.2,212.0 Z" fill="#433e38"/>
<path d="M262.2,212.0 C264.4,211.7 267.3,211.7 270.3,212.8 C273.3,213.9 277.0,215.9 280.0,218.5 C283.0,221.1 285.9,224.7 288.1,228.2 C290.3,231.7 291.8,235.5 293.0,239.6 C294.2,243.7 295.1,248.4 295.4,252.5 C295.7,256.6 295.3,260.4 294.6,263.9 C293.9,267.4 292.8,270.4 291.4,273.6 C290.0,276.9 288.4,279.9 286.5,283.4 C284.6,286.9 282.3,291.2 280.0,294.7 C277.7,298.2 275.4,301.5 272.7,304.5 C270.0,307.5 266.6,311.0 263.8,312.6 C261.0,314.2 258.1,314.5 255.7,314.2 C253.3,313.9 250.8,312.9 249.2,311.0 C247.6,309.1 246.4,305.8 246.0,302.8 C245.6,299.8 246.0,297.2 246.8,293.1 C247.6,289.1 249.1,283.4 250.8,278.5 C252.6,273.6 255.4,268.2 257.3,263.9 C259.2,259.6 261.0,256.0 262.2,252.5 C263.4,249.0 264.3,245.5 264.6,242.8 C264.9,240.1 264.6,238.2 263.8,236.3 C263.0,234.4 261.0,233.1 259.8,231.5 C258.6,229.9 257.2,228.5 256.5,226.6 C255.8,224.7 255.3,222.1 255.4,220.1 C255.5,218.1 256.2,215.8 257.3,214.4 C258.4,213.1 260.0,212.3 262.2,212.0 Z" fill="#8a8070" filter="url(#grain)" opacity="0.13"/>
<g clip-path="url(#wc3)"><path d="M262.2,212.0 C264.4,211.7 267.3,211.7 270.3,212.8 C273.3,213.9 277.0,215.9 280.0,218.5 C283.0,221.1 285.9,224.7 288.1,228.2 C290.3,231.7 291.8,235.5 293.0,239.6 C294.2,243.7 295.1,248.4 295.4,252.5 C295.7,256.6 295.3,260.4 294.6,263.9 C293.9,267.4 292.8,270.4 291.4,273.6 C290.0,276.9 288.4,279.9 286.5,283.4 C284.6,286.9 282.3,291.2 280.0,294.7 C277.7,298.2 275.4,301.5 272.7,304.5 C270.0,307.5 266.6,311.0 263.8,312.6 C261.0,314.2 258.1,314.5 255.7,314.2 C253.3,313.9 250.8,312.9 249.2,311.0 C247.6,309.1 246.4,305.8 246.0,302.8 C245.6,299.8 246.0,297.2 246.8,293.1 C247.6,289.1 249.1,283.4 250.8,278.5 C252.6,273.6 255.4,268.2 257.3,263.9 C259.2,259.6 261.0,256.0 262.2,252.5 C263.4,249.0 264.3,245.5 264.6,242.8 C264.9,240.1 264.6,238.2 263.8,236.3 C263.0,234.4 261.0,233.1 259.8,231.5 C258.6,229.9 257.2,228.5 256.5,226.6 C255.8,224.7 255.3,222.1 255.4,220.1 C255.5,218.1 256.2,215.8 257.3,214.4 C258.4,213.1 260.0,212.3 262.2,212.0 Z" fill="none" stroke="#58524a" stroke-width="5" filter="url(#bl)"/></g>
<path d="M262.2,212.0 C264.4,211.7 267.3,211.7 270.3,212.8 C273.3,213.9 277.0,215.9 280.0,218.5 C283.0,221.1 285.9,224.7 288.1,228.2 C290.3,231.7 291.8,235.5 293.0,239.6 C294.2,243.7 295.1,248.4 295.4,252.5 C295.7,256.6 295.3,260.4 294.6,263.9 C293.9,267.4 292.8,270.4 291.4,273.6 C290.0,276.9 288.4,279.9 286.5,283.4 C284.6,286.9 282.3,291.2 280.0,294.7 C277.7,298.2 275.4,301.5 272.7,304.5 C270.0,307.5 266.6,311.0 263.8,312.6 C261.0,314.2 258.1,314.5 255.7,314.2 C253.3,313.9 250.8,312.9 249.2,311.0 C247.6,309.1 246.4,305.8 246.0,302.8 C245.6,299.8 246.0,297.2 246.8,293.1 C247.6,289.1 249.1,283.4 250.8,278.5 C252.6,273.6 255.4,268.2 257.3,263.9 C259.2,259.6 261.0,256.0 262.2,252.5 C263.4,249.0 264.3,245.5 264.6,242.8 C264.9,240.1 264.6,238.2 263.8,236.3 C263.0,234.4 261.0,233.1 259.8,231.5 C258.6,229.9 257.2,228.5 256.5,226.6 C255.8,224.7 255.3,222.1 255.4,220.1 C255.5,218.1 256.2,215.8 257.3,214.4 C258.4,213.1 260.0,212.3 262.2,212.0 Z" fill="none" stroke="#918876" stroke-width="0.95"/>
<ellipse cx="121" cy="228" rx="7" ry="3" fill="#2e2a25" opacity="0.6" transform="rotate(-25 121 228)"/>
<ellipse cx="111.5" cy="240" rx="1.2" ry="3" fill="#bdb3a0" opacity="0.7"/>
<ellipse cx="123" cy="268" rx="2.2" ry="7" fill="#3e3a33" opacity="0.5"/>
<ellipse cx="191.6" cy="242" rx="3.5" ry="1.6" fill="#8d8473" opacity="0.8"/>
<ellipse cx="192.5" cy="224.5" rx="1.6" ry="2.4" fill="#847b6a" opacity="0.8"/>
<ellipse cx="276" cy="236" rx="3" ry="4" fill="#8a8270" opacity="0.6"/>
<ellipse cx="285" cy="242" rx="3" ry="1.8" fill="#8a8270" opacity="0.5"/>
<ellipse cx="262" cy="222" rx="1.8" ry="3" fill="#9a917e" opacity="0.7"/>
<circle cx="42.40" cy="214.40" r="0.9" fill="#1e1b18"/>
<circle cx="48.10" cy="214.40" r="0.9" fill="#1e1b18"/>
<line x1="20.50" y1="204.70" x2="20.50" y2="214.40" stroke="#fff" stroke-width="1.1"/>
<text x="79.4" y="316.8" font-size="7.2" text-anchor="end" font-weight="bold" fill="#fff">34/34</text>
<text x="79.4" y="325.0" font-size="7.2" text-anchor="end" font-weight="bold" fill="#fff">100%</text>
<text x="154.0" y="316.8" font-size="7.2" text-anchor="end" font-weight="bold" fill="#fff">1/34</text>
<text x="154.0" y="325.0" font-size="7.2" text-anchor="end" font-weight="bold" fill="#fff">3%</text>
<text x="228.1" y="316.8" font-size="7.2" text-anchor="end" font-weight="bold" fill="#fff">4/34</text>
<text x="228.1" y="325.0" font-size="7.2" text-anchor="end" font-weight="bold" fill="#fff">12%</text>
<text x="302.6" y="316.8" font-size="7.2" text-anchor="end" font-weight="bold" fill="#fff">4/34</text>
<text x="302.6" y="325.0" font-size="7.2" text-anchor="end" font-weight="bold" fill="#fff">12%</text>
<text x="13.2" y="336.0" font-size="7.3" fill="#111">*<tspan font-style="italic">hnf4(RNAi)</tspan> animals showed no phenotype at 5dpi</text>
<text x="330.0" y="166.5" font-size="14.0" font-weight="bold">C</text>
<text x="365.2" y="164.9" font-size="7.33" font-weight="bold">Survival rate of knock−down animals</text>
<line x1="372.00" y1="167.80" x2="372.00" y2="197.80" stroke="#e3e3e3" stroke-width="0.6"/>
<line x1="394.50" y1="167.80" x2="394.50" y2="197.80" stroke="#e3e3e3" stroke-width="0.6"/>
<line x1="416.90" y1="167.80" x2="416.90" y2="197.80" stroke="#e3e3e3" stroke-width="0.6"/>
<line x1="439.10" y1="167.80" x2="439.10" y2="197.80" stroke="#e3e3e3" stroke-width="0.6"/>
<line x1="461.40" y1="167.80" x2="461.40" y2="197.80" stroke="#e3e3e3" stroke-width="0.6"/>
<line x1="483.80" y1="167.80" x2="483.80" y2="197.80" stroke="#e3e3e3" stroke-width="0.6"/>
<line x1="506.30" y1="167.80" x2="506.30" y2="197.80" stroke="#e3e3e3" stroke-width="0.6"/>
<line x1="365.30" y1="167.80" x2="365.30" y2="197.80" stroke="#222" stroke-width="0.9"/>
<line x1="364.90" y1="197.80" x2="512.20" y2="197.80" stroke="#222" stroke-width="1.0"/>
<line x1="362.60" y1="170.80" x2="365.30" y2="170.80" stroke="#333" stroke-width="0.7"/>
<text x="361.3" y="173.3" font-size="7.0" text-anchor="end" fill="#444">1</text>
<line x1="362.60" y1="183.50" x2="365.30" y2="183.50" stroke="#333" stroke-width="0.7"/>
<text x="361.3" y="186.0" font-size="7.0" text-anchor="end" fill="#444">.5</text>
<line x1="362.60" y1="196.20" x2="365.30" y2="196.20" stroke="#333" stroke-width="0.7"/>
<text x="361.3" y="198.7" font-size="7.0" text-anchor="end" fill="#444">0</text>
<path d="M372.0,170.8 H394.5 V170.8 H416.9 V170.8 H439.1 V170.8 H461.4 V170.8 H483.8 V170.8 H506.3 V170.8" fill="none" stroke="#c6d1d9" stroke-width="2.3"/>
<circle cx="372.00" cy="170.80" r="2.2" fill="#c6d1d9"/>
<circle cx="394.50" cy="170.80" r="2.2" fill="#c6d1d9"/>
<circle cx="416.90" cy="170.80" r="2.2" fill="#c6d1d9"/>
<circle cx="439.10" cy="170.80" r="2.2" fill="#c6d1d9"/>
<circle cx="461.40" cy="170.80" r="2.2" fill="#c6d1d9"/>
<circle cx="483.80" cy="170.80" r="2.2" fill="#c6d1d9"/>
<circle cx="506.30" cy="170.80" r="2.2" fill="#c6d1d9"/>
<line x1="372.00" y1="203.75" x2="372.00" y2="233.75" stroke="#e3e3e3" stroke-width="0.6"/>
<line x1="394.50" y1="203.75" x2="394.50" y2="233.75" stroke="#e3e3e3" stroke-width="0.6"/>
<line x1="416.90" y1="203.75" x2="416.90" y2="233.75" stroke="#e3e3e3" stroke-width="0.6"/>
<line x1="439.10" y1="203.75" x2="439.10" y2="233.75" stroke="#e3e3e3" stroke-width="0.6"/>
<line x1="461.40" y1="203.75" x2="461.40" y2="233.75" stroke="#e3e3e3" stroke-width="0.6"/>
<line x1="483.80" y1="203.75" x2="483.80" y2="233.75" stroke="#e3e3e3" stroke-width="0.6"/>
<line x1="506.30" y1="203.75" x2="506.30" y2="233.75" stroke="#e3e3e3" stroke-width="0.6"/>
<line x1="365.30" y1="203.75" x2="365.30" y2="233.75" stroke="#222" stroke-width="0.9"/>
<line x1="364.90" y1="233.75" x2="512.20" y2="233.75" stroke="#222" stroke-width="1.0"/>
<line x1="362.60" y1="206.75" x2="365.30" y2="206.75" stroke="#333" stroke-width="0.7"/>
<text x="361.3" y="209.2" font-size="7.0" text-anchor="end" fill="#444">1</text>
<line x1="362.60" y1="219.45" x2="365.30" y2="219.45" stroke="#333" stroke-width="0.7"/>
<text x="361.3" y="222.0" font-size="7.0" text-anchor="end" fill="#444">.5</text>
<line x1="362.60" y1="232.15" x2="365.30" y2="232.15" stroke="#333" stroke-width="0.7"/>
<text x="361.3" y="234.7" font-size="7.0" text-anchor="end" fill="#444">0</text>
<path d="M372.0,206.8 H394.5 V206.8 H416.9 V206.8 H439.1 V206.8 H461.4 V206.8 H483.8 V206.8 H506.3 V206.8" fill="none" stroke="#fdd35d" stroke-width="2.3"/>
<circle cx="372.00" cy="206.75" r="2.2" fill="#fdd35d"/>
<circle cx="394.50" cy="206.75" r="2.2" fill="#fdd35d"/>
<circle cx="416.90" cy="206.75" r="2.2" fill="#fdd35d"/>
<circle cx="439.10" cy="206.75" r="2.2" fill="#fdd35d"/>
<circle cx="461.40" cy="206.75" r="2.2" fill="#fdd35d"/>
<circle cx="483.80" cy="206.75" r="2.2" fill="#fdd35d"/>
<circle cx="506.30" cy="206.75" r="2.2" fill="#fdd35d"/>
<line x1="372.00" y1="239.70" x2="372.00" y2="269.70" stroke="#e3e3e3" stroke-width="0.6"/>
<line x1="394.50" y1="239.70" x2="394.50" y2="269.70" stroke="#e3e3e3" stroke-width="0.6"/>
<line x1="416.90" y1="239.70" x2="416.90" y2="269.70" stroke="#e3e3e3" stroke-width="0.6"/>
<line x1="439.10" y1="239.70" x2="439.10" y2="269.70" stroke="#e3e3e3" stroke-width="0.6"/>
<line x1="461.40" y1="239.70" x2="461.40" y2="269.70" stroke="#e3e3e3" stroke-width="0.6"/>
<line x1="483.80" y1="239.70" x2="483.80" y2="269.70" stroke="#e3e3e3" stroke-width="0.6"/>
<line x1="506.30" y1="239.70" x2="506.30" y2="269.70" stroke="#e3e3e3" stroke-width="0.6"/>
<line x1="365.30" y1="239.70" x2="365.30" y2="269.70" stroke="#222" stroke-width="0.9"/>
<line x1="364.90" y1="269.70" x2="512.20" y2="269.70" stroke="#222" stroke-width="1.0"/>
<line x1="362.60" y1="242.70" x2="365.30" y2="242.70" stroke="#333" stroke-width="0.7"/>
<text x="361.3" y="245.2" font-size="7.0" text-anchor="end" fill="#444">1</text>
<line x1="362.60" y1="255.40" x2="365.30" y2="255.40" stroke="#333" stroke-width="0.7"/>
<text x="361.3" y="257.9" font-size="7.0" text-anchor="end" fill="#444">.5</text>
<line x1="362.60" y1="268.10" x2="365.30" y2="268.10" stroke="#333" stroke-width="0.7"/>
<text x="361.3" y="270.6" font-size="7.0" text-anchor="end" fill="#444">0</text>
<path d="M372.0,242.7 H394.5 V242.7 H416.9 V242.7 H439.1 V247.8 H461.4 V247.8 H483.8 V257.9 H506.3 V263.0" fill="none" stroke="#f9a04e" stroke-width="2.3"/>
<circle cx="372.00" cy="242.70" r="2.2" fill="#f9a04e"/>
<circle cx="394.50" cy="242.70" r="2.2" fill="#f9a04e"/>
<circle cx="416.90" cy="242.70" r="2.2" fill="#f9a04e"/>
<circle cx="439.10" cy="247.78" r="2.2" fill="#f9a04e"/>
<circle cx="461.40" cy="247.78" r="2.2" fill="#f9a04e"/>
<circle cx="483.80" cy="257.94" r="2.2" fill="#f9a04e"/>
<circle cx="506.30" cy="263.02" r="2.2" fill="#f9a04e"/>
<line x1="372.00" y1="275.65" x2="372.00" y2="305.65" stroke="#e3e3e3" stroke-width="0.6"/>
<line x1="394.50" y1="275.65" x2="394.50" y2="305.65" stroke="#e3e3e3" stroke-width="0.6"/>
<line x1="416.90" y1="275.65" x2="416.90" y2="305.65" stroke="#e3e3e3" stroke-width="0.6"/>
<line x1="439.10" y1="275.65" x2="439.10" y2="305.65" stroke="#e3e3e3" stroke-width="0.6"/>
<line x1="461.40" y1="275.65" x2="461.40" y2="305.65" stroke="#e3e3e3" stroke-width="0.6"/>
<line x1="483.80" y1="275.65" x2="483.80" y2="305.65" stroke="#e3e3e3" stroke-width="0.6"/>
<line x1="506.30" y1="275.65" x2="506.30" y2="305.65" stroke="#e3e3e3" stroke-width="0.6"/>
<line x1="365.30" y1="275.65" x2="365.30" y2="305.65" stroke="#222" stroke-width="0.9"/>
<line x1="364.90" y1="305.65" x2="512.20" y2="305.65" stroke="#222" stroke-width="1.0"/>
<line x1="362.60" y1="278.65" x2="365.30" y2="278.65" stroke="#333" stroke-width="0.7"/>
<text x="361.3" y="281.2" font-size="7.0" text-anchor="end" fill="#444">1</text>
<line x1="362.60" y1="291.35" x2="365.30" y2="291.35" stroke="#333" stroke-width="0.7"/>
<text x="361.3" y="293.9" font-size="7.0" text-anchor="end" fill="#444">.5</text>
<line x1="362.60" y1="304.05" x2="365.30" y2="304.05" stroke="#333" stroke-width="0.7"/>
<text x="361.3" y="306.6" font-size="7.0" text-anchor="end" fill="#444">0</text>
<path d="M372.0,278.7 H394.5 V278.7 H416.9 V285.8 H439.1 V292.9 H461.4 V296.4 H483.8 V296.4 H506.3 V300.0" fill="none" stroke="#d9a3c9" stroke-width="2.3"/>
<circle cx="372.00" cy="278.65" r="2.2" fill="#d9a3c9"/>
<circle cx="394.50" cy="278.65" r="2.2" fill="#d9a3c9"/>
<circle cx="416.90" cy="285.76" r="2.2" fill="#d9a3c9"/>
<circle cx="439.10" cy="292.87" r="2.2" fill="#d9a3c9"/>
<circle cx="461.40" cy="296.43" r="2.2" fill="#d9a3c9"/>
<circle cx="483.80" cy="296.43" r="2.2" fill="#d9a3c9"/>
<circle cx="506.30" cy="299.99" r="2.2" fill="#d9a3c9"/>
<line x1="372.00" y1="311.60" x2="372.00" y2="341.60" stroke="#e3e3e3" stroke-width="0.6"/>
<line x1="394.50" y1="311.60" x2="394.50" y2="341.60" stroke="#e3e3e3" stroke-width="0.6"/>
<line x1="416.90" y1="311.60" x2="416.90" y2="341.60" stroke="#e3e3e3" stroke-width="0.6"/>
<line x1="439.10" y1="311.60" x2="439.10" y2="341.60" stroke="#e3e3e3" stroke-width="0.6"/>
<line x1="461.40" y1="311.60" x2="461.40" y2="341.60" stroke="#e3e3e3" stroke-width="0.6"/>
<line x1="483.80" y1="311.60" x2="483.80" y2="341.60" stroke="#e3e3e3" stroke-width="0.6"/>
<line x1="506.30" y1="311.60" x2="506.30" y2="341.60" stroke="#e3e3e3" stroke-width="0.6"/>
<line x1="365.30" y1="311.60" x2="365.30" y2="341.60" stroke="#222" stroke-width="0.9"/>
<line x1="364.90" y1="341.60" x2="512.20" y2="341.60" stroke="#222" stroke-width="1.0"/>
<line x1="362.60" y1="314.60" x2="365.30" y2="314.60" stroke="#333" stroke-width="0.7"/>
<text x="361.3" y="317.1" font-size="7.0" text-anchor="end" fill="#444">1</text>
<line x1="362.60" y1="327.30" x2="365.30" y2="327.30" stroke="#333" stroke-width="0.7"/>
<text x="361.3" y="329.8" font-size="7.0" text-anchor="end" fill="#444">.5</text>
<line x1="362.60" y1="340.00" x2="365.30" y2="340.00" stroke="#333" stroke-width="0.7"/>
<text x="361.3" y="342.5" font-size="7.0" text-anchor="end" fill="#444">0</text>
<path d="M372.0,314.6 H394.5 V323.0 H416.9 V340.0 H439.1 V340.0 H461.4 V340.0 H483.8 V340.0 H506.3 V340.0" fill="none" stroke="#a3d999" stroke-width="2.3"/>
<circle cx="372.00" cy="314.60" r="2.2" fill="#a3d999"/>
<circle cx="394.50" cy="322.98" r="2.2" fill="#a3d999"/>
<circle cx="416.90" cy="340.00" r="2.2" fill="#a3d999"/>
<circle cx="439.10" cy="340.00" r="2.2" fill="#a3d999"/>
<circle cx="461.40" cy="340.00" r="2.2" fill="#a3d999"/>
<circle cx="483.80" cy="340.00" r="2.2" fill="#a3d999"/>
<circle cx="506.30" cy="340.00" r="2.2" fill="#a3d999"/>
<line x1="372.00" y1="340.40" x2="372.00" y2="342.00" stroke="#222" stroke-width="0.6"/>
<text x="372.0" y="349.3" font-size="7.0" text-anchor="middle" fill="#444">d0</text>
<line x1="394.50" y1="340.40" x2="394.50" y2="342.00" stroke="#222" stroke-width="0.6"/>
<text x="394.5" y="349.3" font-size="7.0" text-anchor="middle" fill="#444">d7</text>
<line x1="416.90" y1="340.40" x2="416.90" y2="342.00" stroke="#222" stroke-width="0.6"/>
<text x="416.9" y="349.3" font-size="7.0" text-anchor="middle" fill="#444">d12</text>
<line x1="439.10" y1="340.40" x2="439.10" y2="342.00" stroke="#222" stroke-width="0.6"/>
<text x="439.1" y="349.3" font-size="7.0" text-anchor="middle" fill="#444">d14</text>
<line x1="461.40" y1="340.40" x2="461.40" y2="342.00" stroke="#222" stroke-width="0.6"/>
<text x="461.4" y="349.3" font-size="7.0" text-anchor="middle" fill="#444">d16</text>
<line x1="483.80" y1="340.40" x2="483.80" y2="342.00" stroke="#222" stroke-width="0.6"/>
<text x="483.8" y="349.3" font-size="7.0" text-anchor="middle" fill="#444">d20</text>
<line x1="506.30" y1="340.40" x2="506.30" y2="342.00" stroke="#222" stroke-width="0.6"/>
<text x="506.3" y="349.3" font-size="7.0" text-anchor="middle" fill="#444">d27</text>
<text x="438.9" y="358.6" font-size="7.3" text-anchor="middle" fill="#222">days after injection</text>
<text transform="translate(348.5,249.3) rotate(-90)" font-size="7.3" text-anchor="middle" fill="#222">fraction of surviving animals</text>
<text x="545.5" y="210.8" font-size="7.25" font-weight="bold" fill="#111">condition</text>
<line x1="547.00" y1="221.70" x2="556.50" y2="221.70" stroke="#c6d1d9" stroke-width="2.1"/>
<circle cx="551.70" cy="221.70" r="2.0" fill="#c6d1d9"/>
<text x="561.7" y="224.2" font-size="7.3" font-style="italic" fill="#222">gfp(RNAi)</text>
<line x1="547.00" y1="233.90" x2="556.50" y2="233.90" stroke="#fdd35d" stroke-width="2.1"/>
<circle cx="551.70" cy="233.90" r="2.0" fill="#fdd35d"/>
<text x="561.7" y="236.4" font-size="7.3" font-style="italic" fill="#222">gfp(RNAi)+hnf4(RNAi)</text>
<line x1="547.00" y1="246.10" x2="556.50" y2="246.10" stroke="#f9a04e" stroke-width="2.1"/>
<circle cx="551.70" cy="246.10" r="2.0" fill="#f9a04e"/>
<text x="561.7" y="248.6" font-size="7.3" font-style="italic" fill="#222">hnf4(RNAi)</text>
<line x1="547.00" y1="258.30" x2="556.50" y2="258.30" stroke="#d9a3c9" stroke-width="2.1"/>
<circle cx="551.70" cy="258.30" r="2.0" fill="#d9a3c9"/>
<text x="561.7" y="260.8" font-size="7.3" font-style="italic" fill="#222">hnf4(RNAi)+foxF-1(RNAi)</text>
<line x1="547.00" y1="270.50" x2="556.50" y2="270.50" stroke="#a3d999" stroke-width="2.1"/>
<circle cx="551.70" cy="270.50" r="2.0" fill="#a3d999"/>
<text x="561.7" y="273.0" font-size="7.3" font-style="italic" fill="#222">hnf4(RNAi)+nkx2−2(RNAi)</text>
<text x="0.0" y="374.0" font-size="14.0" font-weight="bold">D</text>
<text x="10.2" y="377.8" font-size="7.36" font-weight="bold">Principal Component Analysis</text>
<text x="10.2" y="386.5" font-size="7.36" font-weight="bold">(PCA)</text>
<line x1="39.50" y1="398.50" x2="39.50" y2="472.00" stroke="#f3f3f3" stroke-width="0.5"/>
<line x1="65.30" y1="398.50" x2="65.30" y2="472.00" stroke="#f3f3f3" stroke-width="0.5"/>
<line x1="91.10" y1="398.50" x2="91.10" y2="472.00" stroke="#f3f3f3" stroke-width="0.5"/>
<line x1="116.90" y1="398.50" x2="116.90" y2="472.00" stroke="#f3f3f3" stroke-width="0.5"/>
<line x1="142.70" y1="398.50" x2="142.70" y2="472.00" stroke="#f3f3f3" stroke-width="0.5"/>
<line x1="23.30" y1="462.90" x2="148.00" y2="462.90" stroke="#f3f3f3" stroke-width="0.5"/>
<line x1="23.30" y1="450.10" x2="148.00" y2="450.10" stroke="#f3f3f3" stroke-width="0.5"/>
<line x1="23.30" y1="437.30" x2="148.00" y2="437.30" stroke="#f3f3f3" stroke-width="0.5"/>
<line x1="23.30" y1="424.50" x2="148.00" y2="424.50" stroke="#f3f3f3" stroke-width="0.5"/>
<line x1="23.30" y1="411.70" x2="148.00" y2="411.70" stroke="#f3f3f3" stroke-width="0.5"/>
<line x1="23.30" y1="398.90" x2="148.00" y2="398.90" stroke="#f3f3f3" stroke-width="0.5"/>
<line x1="26.60" y1="398.50" x2="26.60" y2="472.00" stroke="#e6e6e6" stroke-width="0.8"/>
<line x1="52.40" y1="398.50" x2="52.40" y2="472.00" stroke="#e6e6e6" stroke-width="0.8"/>
<line x1="78.20" y1="398.50" x2="78.20" y2="472.00" stroke="#e6e6e6" stroke-width="0.8"/>
<line x1="104.00" y1="398.50" x2="104.00" y2="472.00" stroke="#e6e6e6" stroke-width="0.8"/>
<line x1="129.80" y1="398.50" x2="129.80" y2="472.00" stroke="#e6e6e6" stroke-width="0.8"/>
<line x1="23.30" y1="469.30" x2="148.00" y2="469.30" stroke="#e6e6e6" stroke-width="0.8"/>
<line x1="23.30" y1="456.50" x2="148.00" y2="456.50" stroke="#e6e6e6" stroke-width="0.8"/>
<line x1="23.30" y1="443.70" x2="148.00" y2="443.70" stroke="#e6e6e6" stroke-width="0.8"/>
<line x1="23.30" y1="430.90" x2="148.00" y2="430.90" stroke="#e6e6e6" stroke-width="0.8"/>
<line x1="23.30" y1="418.10" x2="148.00" y2="418.10" stroke="#e6e6e6" stroke-width="0.8"/>
<line x1="23.30" y1="405.30" x2="148.00" y2="405.30" stroke="#e6e6e6" stroke-width="0.8"/>
<rect x="23.30" y="398.50" width="124.70" height="73.50" fill="none" stroke="#333" stroke-width="1.2"/>
<line x1="26.60" y1="472.00" x2="26.60" y2="473.60" stroke="#333" stroke-width="0.6"/>
<text x="26.6" y="480.0" font-size="6.9" text-anchor="middle" fill="#4d4d4d">−30</text>
<line x1="52.40" y1="472.00" x2="52.40" y2="473.60" stroke="#333" stroke-width="0.6"/>
<text x="52.4" y="480.0" font-size="6.9" text-anchor="middle" fill="#4d4d4d">−20</text>
<line x1="78.20" y1="472.00" x2="78.20" y2="473.60" stroke="#333" stroke-width="0.6"/>
<text x="78.2" y="480.0" font-size="6.9" text-anchor="middle" fill="#4d4d4d">−10</text>
<line x1="104.00" y1="472.00" x2="104.00" y2="473.60" stroke="#333" stroke-width="0.6"/>
<text x="104.0" y="480.0" font-size="6.9" text-anchor="middle" fill="#4d4d4d">0</text>
<line x1="129.80" y1="472.00" x2="129.80" y2="473.60" stroke="#333" stroke-width="0.6"/>
<text x="129.8" y="480.0" font-size="6.9" text-anchor="middle" fill="#4d4d4d">10</text>
<line x1="21.70" y1="469.30" x2="23.30" y2="469.30" stroke="#333" stroke-width="0.6"/>
<text x="20.6" y="471.7" font-size="6.9" text-anchor="end" fill="#4d4d4d">−15</text>
<line x1="21.70" y1="456.50" x2="23.30" y2="456.50" stroke="#333" stroke-width="0.6"/>
<text x="20.6" y="458.9" font-size="6.9" text-anchor="end" fill="#4d4d4d">−10</text>
<line x1="21.70" y1="443.70" x2="23.30" y2="443.70" stroke="#333" stroke-width="0.6"/>
<text x="20.6" y="446.1" font-size="6.9" text-anchor="end" fill="#4d4d4d">−5</text>
<line x1="21.70" y1="430.90" x2="23.30" y2="430.90" stroke="#333" stroke-width="0.6"/>
<text x="20.6" y="433.3" font-size="6.9" text-anchor="end" fill="#4d4d4d">0</text>
<line x1="21.70" y1="418.10" x2="23.30" y2="418.10" stroke="#333" stroke-width="0.6"/>
<text x="20.6" y="420.5" font-size="6.9" text-anchor="end" fill="#4d4d4d">5</text>
<line x1="21.70" y1="405.30" x2="23.30" y2="405.30" stroke="#333" stroke-width="0.6"/>
<text x="20.6" y="407.7" font-size="6.9" text-anchor="end" fill="#4d4d4d">10</text>
<text x="87.4" y="488.0" font-size="7.23" text-anchor="middle" fill="#222">PC2: 49% variance</text>
<text transform="translate(5.7,432.6) rotate(-90)" font-size="7.35" text-anchor="middle" fill="#222">PC3: 27% variance</text>
<circle cx="91.62" cy="405.30" r="2.2" fill="#c3d0da" stroke="#6d8799" stroke-width="0.9"/>
<rect x="98.19" y="400.80" width="4.40" height="4.40" fill="#c3d0da" stroke="#6d8799" stroke-width="0.9"/>
<path d="M117.67,399.00 L120.64,401.97 L117.67,404.94 L114.70,401.97 Z" fill="#c3d0da" stroke="#6d8799" stroke-width="0.9"/>
<path d="M121.03,408.99 L124.00,411.96 L121.03,414.93 L118.06,411.96 Z" fill="#fcd04e" stroke="#b08a10" stroke-width="0.9"/>
<circle cx="105.29" cy="421.43" r="2.2" fill="#fcd04e" stroke="#b08a10" stroke-width="0.9"/>
<rect x="50.20" y="432.54" width="4.40" height="4.40" fill="#fcd04e" stroke="#b08a10" stroke-width="0.9"/>
<rect x="105.67" y="422.81" width="4.40" height="4.40" fill="#f9a04e" stroke="#c0621a" stroke-width="0.9"/>
<path d="M122.58,424.60 L125.55,427.57 L122.58,430.54 L119.61,427.57 Z" fill="#f9a04e" stroke="#c0621a" stroke-width="0.9"/>
<circle cx="112.00" cy="432.69" r="2.2" fill="#f9a04e" stroke="#c0621a" stroke-width="0.9"/>
<path d="M94.71,426.14 L97.68,429.11 L94.71,432.08 L91.74,429.11 Z" fill="#d69bc3" stroke="#9c4f86" stroke-width="0.9"/>
<circle cx="101.68" cy="428.60" r="2.2" fill="#d69bc3" stroke="#9c4f86" stroke-width="0.9"/>
<rect x="26.21" y="456.35" width="4.40" height="4.40" fill="#d69bc3" stroke="#9c4f86" stroke-width="0.9"/>
<path d="M138.06,454.30 L141.03,457.27 L138.06,460.24 L135.09,457.27 Z" fill="#a3d996" stroke="#3c9a34" stroke-width="0.9"/>
<rect x="139.98" y="458.91" width="4.40" height="4.40" fill="#a3d996" stroke="#3c9a34" stroke-width="0.9"/>
<circle cx="119.22" cy="469.30" r="2.2" fill="#a3d996" stroke="#3c9a34" stroke-width="0.9"/>
<text x="151.0" y="387.0" font-size="7.3" font-weight="bold" fill="#111">batch</text>
<circle cx="156.60" cy="397.30" r="2.2" fill="#000"/>
<text x="164.8" y="399.8" font-size="7.2" fill="#222">R1</text>
<rect x="154.50" y="405.70" width="4.20" height="4.20" fill="#000"/>
<text x="164.8" y="410.3" font-size="7.2" fill="#222">R2</text>
<path d="M156.6,415.0 L159.6,418.0 L156.6,421.0 L153.6,418.0 Z" fill="#000"/>
<text x="164.8" y="420.5" font-size="7.2" fill="#222">R3</text>
<text x="151.0" y="442.0" font-size="7.3" font-weight="bold" fill="#111">condition</text>
<circle cx="156.00" cy="451.10" r="2.2" fill="#c3d0da" stroke="#6d8799" stroke-width="0.9"/>
<text x="164.8" y="453.6" font-size="7.3" font-style="italic" fill="#222">gfp(RNAi)</text>
<circle cx="156.00" cy="462.20" r="2.2" fill="#fcd04e" stroke="#b08a10" stroke-width="0.9"/>
<text x="164.8" y="464.7" font-size="7.3" font-style="italic" fill="#222">gfp(RNAi)+hnf4(RNAi)</text>
<circle cx="156.00" cy="473.20" r="2.2" fill="#f9a04e" stroke="#c0621a" stroke-width="0.9"/>
<text x="164.8" y="475.7" font-size="7.3" font-style="italic" fill="#222">hnf4(RNAi)</text>
<circle cx="156.00" cy="483.50" r="2.2" fill="#d69bc3" stroke="#9c4f86" stroke-width="0.9"/>
<text x="164.8" y="486.0" font-size="7.3" font-style="italic" fill="#222">hnf4(RNAi)+foxF-1(RNAi)</text>
<circle cx="156.00" cy="493.70" r="2.2" fill="#a3d996" stroke="#3c9a34" stroke-width="0.9"/>
<text x="164.8" y="496.2" font-size="7.3" font-style="italic" fill="#222">hnf4(RNAi)+nkx2−2(RNAi)</text>
<text x="230.6" y="373.4" font-size="14.0" font-weight="bold">E</text>
<text x="259.1" y="374.9" font-size="7.3" font-weight="bold"><tspan font-style="italic">hnf4</tspan> RNAi vs <tspan font-style="italic">gfp</tspan> RNAi</text>
<path d="M307.1 473.1h0M315.8 473.0h0M335.3 473.1h0M311.1 473.2h0M319.7 472.7h0M330.1 473.0h0M328.3 472.8h0M332.0 472.7h0M331.6 472.6h0M334.5 473.1h0M308.3 473.1h0M325.2 472.9h0M317.8 473.1h0M320.7 472.2h0M318.4 473.1h0M324.9 472.9h0M316.0 472.4h0M329.3 473.1h0M331.9 472.9h0M323.1 473.0h0M331.3 473.1h0M305.3 472.8h0M326.4 473.2h0M324.7 473.0h0M323.5 472.7h0M316.9 473.1h0M325.1 473.0h0M329.2 472.7h0M317.9 472.8h0M326.4 472.9h0M321.0 472.5h0M329.2 473.1h0M300.8 473.0h0M315.9 473.2h0M342.8 473.0h0M325.0 472.9h0M311.6 473.1h0M318.0 472.2h0M318.6 473.0h0M332.3 473.2h0M311.2 472.8h0M319.4 472.8h0M325.1 473.0h0M319.2 473.0h0M329.5 472.9h0M303.8 472.4h0M321.1 472.8h0M331.2 472.8h0M338.8 473.2h0M331.6 472.7h0M328.4 473.1h0M321.4 473.1h0M312.2 473.2h0M333.6 473.1h0M326.9 473.0h0M324.5 472.9h0M325.6 473.1h0M325.0 473.0h0M311.7 473.1h0M331.5 472.7h0M319.3 472.9h0M329.0 473.1h0M308.3 473.1h0M313.5 472.8h0M329.2 473.0h0M327.7 473.0h0M310.8 472.9h0M322.9 473.1h0M315.8 472.9h0M318.3 472.2h0M324.0 473.1h0M316.4 473.0h0M317.3 472.9h0M330.0 473.1h0M329.9 472.8h0M330.5 473.2h0M328.2 473.2h0M314.3 472.8h0M318.3 473.2h0M314.3 473.1h0M318.7 473.1h0M325.3 473.0h0M309.6 473.1h0M330.4 473.0h0M312.0 473.0h0M325.6 473.1h0M326.0 473.1h0M324.1 472.9h0M317.7 472.7h0M321.3 473.1h0M305.7 473.0h0M327.5 473.2h0M323.0 472.8h0M330.3 472.6h0M320.4 473.0h0M311.9 472.9h0M323.1 472.9h0M333.0 473.0h0M327.6 472.6h0M321.3 473.0h0M311.3 472.9h0M335.0 472.9h0M315.8 473.0h0M330.6 472.9h0M333.2 472.8h0M321.3 473.1h0M305.6 473.0h0M342.5 473.1h0M318.0 473.0h0M325.5 472.8h0M315.8 472.9h0M340.3 473.0h0M329.8 472.6h0M339.1 472.7h0M336.8 472.8h0M319.1 473.0h0M319.6 472.4h0M307.2 473.0h0M311.2 472.8h0M333.8 473.0h0M340.7 473.2h0M333.8 473.1h0M317.2 473.1h0M321.1 473.0h0M323.3 472.4h0M320.5 473.1h0M315.8 473.0h0M309.3 472.9h0M330.3 473.2h0M320.7 473.1h0M331.7 473.0h0M329.1 473.0h0M319.9 473.0h0M321.3 472.9h0M318.9 473.1h0M320.3 473.1h0M317.8 472.8h0M319.1 472.9h0M323.9 472.9h0M312.6 473.2h0M307.3 472.2h0M324.8 472.9h0M307.3 472.9h0M327.4 472.6h0M314.4 472.8h0M320.4 472.6h0M330.2 473.2h0M324.9 473.1h0M303.3 473.2h0M310.2 473.2h0M314.6 473.1h0M320.3 473.0h0M329.1 472.9h0M322.1 472.7h0M326.6 473.0h0M321.1 473.1h0M330.6 473.2h0M325.6 472.5h0M309.9 472.9h0M306.7 472.7h0M329.9 473.1h0M336.8 472.6h0M314.3 472.7h0M331.4 472.9h0M330.0 473.2h0M322.1 473.2h0M329.7 473.1h0M325.1 472.7h0M312.1 473.0h0M327.2 473.1h0M320.8 472.5h0M325.9 473.1h0M332.0 472.4h0M312.3 473.0h0M323.2 473.0h0M341.6 473.0h0M318.6 473.0h0M315.1 473.0h0M323.1 472.4h0M302.1 473.1h0M334.3 473.0h0M339.4 473.1h0M323.5 473.2h0M314.5 472.7h0M311.6 473.2h0M317.5 473.0h0M302.4 473.1h0M323.4 473.2h0M329.7 473.1h0M316.5 473.1h0M328.1 472.9h0M308.6 472.9h0M331.6 472.9h0M314.3 473.2h0M329.7 472.8h0M316.3 473.1h0M334.8 472.4h0M335.9 472.8h0M326.2 473.1h0M321.7 473.0h0M317.9 473.2h0M338.3 473.0h0M326.0 473.2h0M315.5 473.1h0M333.3 472.9h0M339.7 473.1h0M322.0 472.7h0M325.8 472.7h0M335.8 473.0h0M322.2 472.8h0M317.8 472.9h0M332.3 473.1h0M311.7 472.6h0M321.6 473.0h0M312.3 473.0h0M320.5 473.2h0M316.9 473.0h0M318.1 472.7h0M327.8 473.1h0M306.8 473.2h0M332.5 473.1h0M333.8 473.1h0M322.2 472.8h0M314.1 472.6h0M314.2 473.1h0M326.8 472.8h0M323.4 472.9h0M326.1 473.2h0M338.1 472.6h0M330.8 472.8h0M317.5 473.1h0M315.8 473.0h0M328.3 472.9h0M324.2 472.9h0M314.7 473.2h0M334.1 472.7h0M330.9 473.1h0M328.2 472.9h0M333.7 472.9h0M308.5 472.9h0M325.6 473.1h0M326.9 473.1h0M321.7 472.7h0M323.2 473.0h0M321.8 472.7h0M326.3 473.0h0M323.8 473.1h0M319.1 473.0h0M326.9 473.1h0M323.8 472.2h0M328.6 473.2h0M307.7 473.2h0M329.0 473.0h0M320.1 472.5h0M327.2 473.0h0M328.3 472.8h0M320.8 472.9h0M324.4 473.1h0M319.7 472.9h0M333.7 472.9h0M313.2 472.9h0M315.7 472.7h0M332.9 472.8h0M332.8 473.1h0M330.3 473.0h0M332.5 473.1h0M327.4 473.1h0M332.0 473.1h0M331.3 472.7h0M321.6 473.1h0M317.6 473.1h0M324.5 473.1h0M314.3 473.2h0M323.9 473.1h0M328.5 472.6h0M334.8 473.1h0M315.3 473.1h0M326.2 472.9h0M318.9 473.1h0M307.9 473.1h0M321.2 473.1h0M330.1 472.6h0M331.4 473.0h0M335.8 473.1h0M321.8 473.0h0M326.3 473.0h0M323.5 473.1h0M320.9 473.1h0M330.9 473.0h0M320.9 473.1h0M315.5 473.1h0M309.1 473.1h0M327.0 473.1h0M336.1 472.9h0M327.1 473.0h0M317.4 473.1h0M330.1 473.2h0M324.7 472.8h0M324.1 472.7h0M315.7 472.9h0M321.1 472.9h0M304.6 473.1h0M335.5 472.8h0M302.9 473.0h0M317.4 473.1h0M319.3 472.9h0M326.1 472.9h0M325.4 473.0h0M331.4 473.2h0M327.4 472.9h0M328.0 473.0h0M333.6 473.2h0M326.1 473.0h0M330.0 473.0h0M331.8 473.1h0M311.4 473.2h0M320.4 473.0h0M327.6 472.9h0M325.7 472.8h0M325.7 472.9h0M317.0 473.1h0M328.3 472.9h0M323.4 472.9h0M314.9 473.2h0M335.4 473.1h0M331.5 472.6h0M307.5 472.9h0M331.1 472.7h0M316.8 472.9h0M313.3 472.9h0M327.1 473.1h0M338.8 473.0h0M316.2 473.1h0M320.9 473.0h0M330.2 473.1h0M330.1 473.0h0M321.5 473.1h0M328.2 473.1h0M316.3 472.8h0M322.3 473.0h0M326.3 472.7h0M322.7 472.8h0M318.5 472.6h0M315.9 472.9h0M320.6 472.8h0M337.5 473.0h0M335.3 473.0h0M309.4 472.6h0M318.5 473.0h0M332.7 472.8h0M322.9 473.0h0M327.6 473.2h0M311.2 473.2h0M328.9 473.1h0M327.2 473.0h0M321.8 473.1h0M323.5 472.8h0M330.6 472.9h0M328.6 473.1h0M312.1 472.9h0M337.5 473.1h0M320.0 473.2h0M332.8 473.1h0M313.7 473.1h0M315.6 473.1h0M314.4 472.9h0M335.2 472.9h0M308.2 472.9h0M318.4 473.1h0M310.2 472.9h0M308.2 473.0h0M328.4 473.1h0M316.5 473.2h0M323.6 472.6h0M311.3 473.0h0M321.3 473.1h0M313.6 473.0h0M315.6 472.3h0M311.3 472.7h0M326.5 473.1h0M324.0 473.1h0M336.3 473.0h0M322.0 473.2h0M324.0 472.8h0M319.5 473.0h0M327.7 473.0h0M306.0 473.1h0M330.9 472.8h0M311.9 472.9h0M321.1 473.1h0M311.7 473.1h0M317.4 473.1h0M326.0 473.0h0M319.4 473.0h0M322.5 473.2h0M323.8 473.0h0M320.2 473.0h0M317.1 473.1h0M332.3 473.0h0M327.4 473.1h0M323.2 473.0h0M317.4 473.0h0M324.9 472.1h0M325.4 473.0h0M339.3 472.9h0M323.1 473.1h0M313.8 472.8h0M326.2 473.0h0M311.8 473.1h0M343.0 472.5h0M300.6 472.6h0M328.1 473.2h0M316.7 473.0h0M323.1 473.1h0M324.6 472.9h0M333.8 473.1h0M332.2 473.0h0M322.6 473.2h0M321.9 472.6h0M319.4 473.1h0M308.1 472.7h0M331.7 472.9h0M308.7 473.1h0M321.8 472.9h0M319.4 473.1h0M315.7 473.1h0M321.2 473.0h0M319.2 473.0h0M327.7 472.9h0M308.6 472.9h0M331.8 473.0h0M327.9 473.0h0M317.8 473.0h0M326.7 473.2h0M316.1 473.2h0M311.0 473.1h0M317.1 473.1h0M325.3 473.0h0M329.9 472.8h0M322.8 473.0h0M326.7 472.4h0M317.1 473.0h0M339.9 473.0h0M335.7 472.5h0M338.8 472.5h0M331.9 473.1h0M331.2 473.1h0M316.8 473.1h0M335.5 472.9h0M319.7 473.1h0M329.9 473.0h0M321.9 473.0h0M315.7 473.1h0M317.4 472.7h0M309.7 472.9h0M312.3 472.8h0M321.8 472.7h0M333.4 473.1h0M313.1 473.0h0M314.2 473.0h0M326.5 472.9h0M315.3 473.1h0M322.0 473.0h0M315.2 472.8h0M315.6 473.0h0M320.1 472.2h0M327.7 473.2h0M314.5 473.1h0M307.5 472.8h0M341.2 472.5h0M315.7 473.2h0M329.1 472.8h0M337.7 473.0h0M325.4 472.8h0M325.5 473.2h0M331.8 472.8h0M322.1 472.6h0M311.6 473.1h0M326.1 473.0h0M319.8 472.8h0M332.4 473.0h0M324.6 472.8h0M323.0 472.6h0M331.6 472.8h0M303.7 473.0h0M323.7 473.0h0M319.5 473.1h0M330.2 473.1h0M333.4 472.7h0M326.4 473.1h0M308.9 472.8h0M307.9 472.7h0M333.8 473.1h0M334.3 472.8h0M312.1 473.0h0M334.7 473.1h0M322.9 473.1h0M322.0 466.3h0M321.4 464.9h0M322.4 472.5h0M322.2 469.2h0M322.3 472.8h0M322.7 466.7h0M322.6 470.7h0M322.3 465.0h0M323.6 464.0h0M321.2 470.0h0M322.0 472.7h0M321.1 462.1h0M321.0 470.0h0M320.8 458.9h0M321.7 470.8h0M321.4 467.3h0M321.1 471.5h0M321.9 461.2h0M321.1 465.3h0M320.0 470.3h0M322.0 463.9h0M320.9 473.1h0M321.1 469.9h0M321.4 458.6h0M322.2 471.5h0M321.2 471.9h0M320.6 470.0h0M322.5 471.9h0M322.6 469.9h0M320.9 461.3h0M322.6 467.0h0M321.2 460.1h0M321.4 473.0h0M321.1 464.3h0M322.0 465.5h0M320.7 458.7h0M322.7 473.2h0M321.0 470.7h0M321.0 469.2h0M321.1 466.8h0M322.4 458.1h0M323.6 470.2h0M321.2 461.9h0M320.9 457.4h0M320.7 473.1h0M320.9 465.8h0M321.7 472.2h0M322.0 470.5h0M321.5 472.7h0M320.7 473.0h0M322.2 472.6h0M321.0 463.9h0M320.8 471.9h0M321.9 463.1h0M320.5 472.9h0M321.4 461.1h0M321.6 458.9h0M321.6 470.8h0M321.4 468.0h0M321.2 462.8h0M321.5 471.4h0M321.2 467.5h0M321.5 472.8h0M322.2 471.4h0M322.0 463.1h0M321.5 473.1h0M322.2 472.2h0M320.7 469.3h0M321.8 461.3h0M322.6 472.6h0M322.3 458.1h0M320.9 466.6h0M321.4 461.0h0M322.2 473.2h0M321.4 472.7h0M322.0 464.6h0M320.5 472.6h0M321.4 472.9h0M321.5 471.4h0M322.5 461.4h0M321.3 473.1h0M321.3 471.8h0M321.7 472.9h0M322.1 468.8h0M321.2 465.8h0M322.8 467.5h0M320.5 468.6h0M322.1 471.4h0M321.1 464.0h0M321.5 469.7h0M322.2 469.0h0M321.1 469.4h0M322.1 473.1h0M321.7 468.2h0M321.3 467.8h0M321.1 473.0h0M321.8 470.5h0M321.2 472.1h0M322.2 463.7h0M321.4 470.1h0M321.5 458.3h0M322.4 458.4h0M321.6 470.6h0M321.0 471.4h0M321.2 466.7h0M321.0 468.7h0M321.2 468.4h0M321.5 473.0h0M321.3 471.9h0M321.4 469.8h0M322.7 461.1h0M321.1 465.3h0M321.8 473.0h0M322.8 471.1h0M321.4 471.2h0M322.0 466.0h0M320.5 473.1h0M321.5 466.4h0M321.3 467.7h0M322.4 473.2h0M321.1 459.1h0M321.5 473.2h0M320.6 464.0h0M320.6 457.8h0M322.0 459.6h0M322.6 469.6h0M322.1 463.7h0M321.0 469.6h0M322.0 472.9h0M321.1 473.1h0M322.5 472.9h0M322.0 467.8h0M320.7 472.9h0M322.0 458.6h0M321.9 467.6h0M321.9 469.9h0M321.3 468.0h0M321.7 460.7h0M321.2 469.1h0M322.2 470.4h0M321.7 465.4h0M322.2 465.1h0M321.2 470.3h0M321.6 463.9h0M321.2 472.6h0M321.1 470.8h0M321.3 472.6h0M321.0 468.3h0M322.3 470.3h0M320.4 470.7h0M321.0 467.2h0M319.7 471.1h0M321.8 464.9h0M321.6 464.2h0M322.0 467.3h0M321.5 462.0h0M321.8 470.4h0M321.4 466.5h0M320.8 467.6h0M323.0 469.3h0" stroke="#000" stroke-opacity="0.75" stroke-width="1.7" stroke-linecap="round"/>
<g fill="#f0a080" fill-opacity="0.55" stroke="#d9441a" stroke-width="0.7"><circle cx="313.6" cy="462.2" r="1.15"/><circle cx="318.7" cy="440.0" r="1.15"/><circle cx="313.8" cy="460.1" r="1.15"/><circle cx="312.4" cy="470.5" r="1.15"/><circle cx="313.6" cy="454.8" r="1.15"/><circle cx="314.8" cy="472.2" r="1.15"/><circle cx="308.4" cy="472.3" r="1.15"/><circle cx="319.6" cy="451.9" r="1.15"/><circle cx="318.5" cy="436.7" r="1.15"/><circle cx="315.0" cy="453.8" r="1.15"/><circle cx="319.7" cy="471.1" r="1.15"/><circle cx="319.2" cy="459.2" r="1.15"/><circle cx="315.9" cy="470.3" r="1.15"/><circle cx="312.5" cy="473.0" r="1.15"/><circle cx="310.9" cy="462.7" r="1.15"/><circle cx="313.5" cy="459.6" r="1.15"/><circle cx="313.1" cy="460.4" r="1.15"/><circle cx="316.4" cy="462.0" r="1.15"/><circle cx="318.8" cy="435.8" r="1.15"/><circle cx="316.9" cy="444.5" r="1.15"/><circle cx="316.5" cy="466.9" r="1.15"/><circle cx="318.7" cy="467.7" r="1.15"/><circle cx="317.4" cy="448.3" r="1.15"/><circle cx="318.2" cy="444.2" r="1.15"/><circle cx="318.3" cy="438.0" r="1.15"/><circle cx="316.1" cy="473.2" r="1.15"/><circle cx="318.5" cy="440.7" r="1.15"/><circle cx="319.4" cy="436.8" r="1.15"/><circle cx="310.5" cy="472.5" r="1.15"/><circle cx="318.3" cy="447.7" r="1.15"/><circle cx="314.4" cy="472.3" r="1.15"/><circle cx="318.5" cy="437.7" r="1.15"/><circle cx="315.7" cy="471.8" r="1.15"/><circle cx="318.7" cy="472.1" r="1.15"/><circle cx="318.9" cy="446.8" r="1.15"/><circle cx="315.4" cy="457.9" r="1.15"/><circle cx="309.8" cy="470.3" r="1.15"/><circle cx="310.5" cy="471.6" r="1.15"/><circle cx="313.3" cy="471.9" r="1.15"/><circle cx="315.6" cy="469.8" r="1.15"/><circle cx="318.6" cy="437.3" r="1.15"/><circle cx="309.1" cy="467.3" r="1.15"/><circle cx="314.0" cy="469.8" r="1.15"/><circle cx="317.3" cy="443.8" r="1.15"/><circle cx="306.4" cy="472.1" r="1.15"/><circle cx="315.8" cy="469.8" r="1.15"/><circle cx="317.9" cy="448.0" r="1.15"/><circle cx="318.7" cy="467.5" r="1.15"/><circle cx="311.1" cy="472.3" r="1.15"/><circle cx="311.6" cy="469.0" r="1.15"/><circle cx="314.1" cy="465.1" r="1.15"/><circle cx="319.0" cy="438.0" r="1.15"/><circle cx="312.3" cy="457.3" r="1.15"/><circle cx="317.2" cy="470.5" r="1.15"/><circle cx="317.5" cy="440.8" r="1.15"/><circle cx="316.8" cy="468.8" r="1.15"/><circle cx="314.3" cy="449.7" r="1.15"/><circle cx="307.5" cy="470.2" r="1.15"/><circle cx="317.8" cy="442.3" r="1.15"/><circle cx="318.4" cy="463.4" r="1.15"/><circle cx="306.4" cy="473.0" r="1.15"/><circle cx="310.5" cy="469.1" r="1.15"/><circle cx="309.3" cy="468.6" r="1.15"/><circle cx="317.0" cy="456.3" r="1.15"/><circle cx="309.9" cy="470.7" r="1.15"/><circle cx="315.9" cy="472.6" r="1.15"/><circle cx="312.2" cy="457.9" r="1.15"/><circle cx="317.2" cy="455.5" r="1.15"/><circle cx="319.4" cy="440.3" r="1.15"/><circle cx="315.2" cy="473.1" r="1.15"/><circle cx="319.1" cy="462.5" r="1.15"/><circle cx="314.2" cy="470.7" r="1.15"/><circle cx="318.4" cy="457.4" r="1.15"/><circle cx="309.6" cy="465.4" r="1.15"/><circle cx="319.0" cy="436.8" r="1.15"/><circle cx="315.6" cy="452.0" r="1.15"/><circle cx="319.3" cy="471.4" r="1.15"/><circle cx="307.0" cy="473.1" r="1.15"/><circle cx="313.6" cy="451.5" r="1.15"/><circle cx="310.3" cy="473.1" r="1.15"/><circle cx="312.3" cy="461.1" r="1.15"/><circle cx="308.1" cy="466.8" r="1.15"/><circle cx="311.5" cy="472.5" r="1.15"/><circle cx="314.5" cy="449.8" r="1.15"/><circle cx="315.5" cy="449.8" r="1.15"/><circle cx="315.3" cy="447.0" r="1.15"/><circle cx="311.5" cy="465.8" r="1.15"/><circle cx="317.3" cy="441.2" r="1.15"/><circle cx="311.1" cy="463.5" r="1.15"/><circle cx="317.6" cy="443.3" r="1.15"/><circle cx="316.5" cy="455.1" r="1.15"/><circle cx="314.4" cy="456.9" r="1.15"/><circle cx="310.4" cy="472.4" r="1.15"/><circle cx="318.9" cy="436.0" r="1.15"/><circle cx="317.2" cy="450.2" r="1.15"/><circle cx="316.1" cy="449.9" r="1.15"/><circle cx="310.9" cy="462.7" r="1.15"/><circle cx="309.1" cy="472.4" r="1.15"/><circle cx="310.7" cy="473.0" r="1.15"/><circle cx="317.1" cy="461.1" r="1.15"/><circle cx="316.3" cy="451.7" r="1.15"/><circle cx="312.5" cy="455.5" r="1.15"/><circle cx="319.8" cy="468.7" r="1.15"/><circle cx="311.2" cy="467.4" r="1.15"/><circle cx="317.0" cy="470.0" r="1.15"/><circle cx="317.9" cy="441.0" r="1.15"/><circle cx="310.5" cy="462.6" r="1.15"/><circle cx="311.5" cy="466.6" r="1.15"/><circle cx="313.4" cy="470.1" r="1.15"/><circle cx="315.5" cy="446.3" r="1.15"/><circle cx="318.5" cy="442.4" r="1.15"/><circle cx="316.7" cy="456.9" r="1.15"/><circle cx="312.4" cy="471.5" r="1.15"/><circle cx="316.3" cy="444.7" r="1.15"/><circle cx="313.8" cy="451.0" r="1.15"/><circle cx="317.2" cy="468.1" r="1.15"/><circle cx="316.4" cy="462.3" r="1.15"/><circle cx="313.7" cy="469.8" r="1.15"/><circle cx="315.6" cy="455.0" r="1.15"/><circle cx="309.7" cy="466.9" r="1.15"/><circle cx="319.3" cy="436.7" r="1.15"/><circle cx="319.3" cy="472.5" r="1.15"/><circle cx="319.9" cy="442.8" r="1.15"/><circle cx="315.9" cy="451.2" r="1.15"/><circle cx="310.1" cy="467.1" r="1.15"/><circle cx="317.3" cy="473.1" r="1.15"/><circle cx="319.6" cy="462.1" r="1.15"/><circle cx="318.7" cy="445.1" r="1.15"/><circle cx="319.0" cy="471.4" r="1.15"/><circle cx="316.0" cy="454.9" r="1.15"/><circle cx="314.5" cy="454.8" r="1.15"/><circle cx="315.4" cy="446.2" r="1.15"/><circle cx="318.2" cy="452.3" r="1.15"/><circle cx="317.6" cy="461.3" r="1.15"/><circle cx="312.4" cy="473.2" r="1.15"/><circle cx="318.5" cy="450.9" r="1.15"/><circle cx="314.8" cy="468.2" r="1.15"/><circle cx="316.1" cy="451.7" r="1.15"/><circle cx="313.6" cy="455.5" r="1.15"/><circle cx="310.9" cy="464.3" r="1.15"/><circle cx="319.7" cy="440.9" r="1.15"/><circle cx="318.1" cy="439.5" r="1.15"/><circle cx="312.9" cy="471.6" r="1.15"/><circle cx="312.7" cy="455.0" r="1.15"/><circle cx="312.9" cy="464.9" r="1.15"/><circle cx="317.1" cy="442.4" r="1.15"/><circle cx="318.9" cy="438.8" r="1.15"/><circle cx="318.0" cy="453.9" r="1.15"/><circle cx="314.7" cy="450.5" r="1.15"/><circle cx="314.2" cy="454.3" r="1.15"/><circle cx="308.1" cy="469.8" r="1.15"/><circle cx="318.5" cy="436.8" r="1.15"/><circle cx="312.4" cy="458.9" r="1.15"/><circle cx="309.0" cy="466.8" r="1.15"/><circle cx="318.4" cy="443.7" r="1.15"/><circle cx="312.9" cy="472.4" r="1.15"/><circle cx="312.8" cy="458.3" r="1.15"/><circle cx="319.6" cy="460.9" r="1.15"/><circle cx="319.6" cy="446.1" r="1.15"/><circle cx="318.9" cy="446.6" r="1.15"/><circle cx="310.3" cy="466.3" r="1.15"/><circle cx="317.2" cy="471.4" r="1.15"/><circle cx="312.7" cy="459.7" r="1.15"/><circle cx="316.9" cy="444.5" r="1.15"/><circle cx="318.8" cy="438.7" r="1.15"/><circle cx="319.9" cy="438.5" r="1.15"/><circle cx="312.4" cy="469.6" r="1.15"/><circle cx="310.6" cy="467.7" r="1.15"/><circle cx="315.5" cy="454.4" r="1.15"/><circle cx="317.5" cy="444.3" r="1.15"/><circle cx="314.6" cy="467.0" r="1.15"/><circle cx="316.2" cy="444.2" r="1.15"/><circle cx="308.6" cy="469.9" r="1.15"/><circle cx="319.0" cy="437.5" r="1.15"/><circle cx="317.7" cy="457.4" r="1.15"/><circle cx="314.8" cy="458.9" r="1.15"/><circle cx="319.7" cy="455.9" r="1.15"/><circle cx="319.0" cy="437.4" r="1.15"/><circle cx="310.8" cy="464.1" r="1.15"/><circle cx="315.1" cy="457.8" r="1.15"/><circle cx="319.4" cy="452.0" r="1.15"/><circle cx="315.6" cy="458.8" r="1.15"/><circle cx="318.1" cy="438.1" r="1.15"/><circle cx="313.3" cy="468.3" r="1.15"/><circle cx="313.1" cy="471.7" r="1.15"/><circle cx="315.7" cy="445.8" r="1.15"/><circle cx="316.1" cy="461.3" r="1.15"/><circle cx="311.1" cy="470.3" r="1.15"/><circle cx="319.6" cy="439.9" r="1.15"/><circle cx="319.9" cy="447.7" r="1.15"/><circle cx="316.1" cy="470.2" r="1.15"/><circle cx="317.3" cy="452.2" r="1.15"/><circle cx="312.2" cy="465.6" r="1.15"/><circle cx="309.4" cy="472.1" r="1.15"/><circle cx="312.1" cy="471.7" r="1.15"/><circle cx="316.7" cy="468.8" r="1.15"/><circle cx="315.3" cy="459.1" r="1.15"/><circle cx="314.5" cy="465.0" r="1.15"/><circle cx="318.0" cy="459.2" r="1.15"/><circle cx="311.1" cy="470.0" r="1.15"/><circle cx="315.5" cy="454.5" r="1.15"/><circle cx="317.4" cy="443.9" r="1.15"/><circle cx="318.9" cy="443.6" r="1.15"/><circle cx="315.0" cy="449.6" r="1.15"/><circle cx="318.9" cy="441.1" r="1.15"/><circle cx="308.8" cy="466.9" r="1.15"/><circle cx="307.1" cy="469.7" r="1.15"/><circle cx="319.5" cy="442.0" r="1.15"/><circle cx="310.2" cy="469.1" r="1.15"/><circle cx="318.2" cy="468.6" r="1.15"/><circle cx="317.9" cy="444.9" r="1.15"/><circle cx="319.2" cy="447.1" r="1.15"/><circle cx="312.0" cy="464.0" r="1.15"/><circle cx="316.2" cy="473.1" r="1.15"/><circle cx="313.6" cy="452.4" r="1.15"/><circle cx="319.8" cy="437.5" r="1.15"/><circle cx="312.3" cy="460.1" r="1.15"/><circle cx="312.9" cy="460.3" r="1.15"/><circle cx="318.6" cy="470.4" r="1.15"/><circle cx="319.2" cy="472.0" r="1.15"/><circle cx="314.8" cy="458.3" r="1.15"/><circle cx="318.3" cy="457.5" r="1.15"/><circle cx="316.4" cy="470.5" r="1.15"/><circle cx="315.8" cy="444.5" r="1.15"/><circle cx="319.8" cy="439.8" r="1.15"/><circle cx="306.6" cy="472.7" r="1.15"/><circle cx="311.8" cy="461.8" r="1.15"/><circle cx="313.7" cy="466.6" r="1.15"/><circle cx="315.3" cy="459.8" r="1.15"/><circle cx="319.9" cy="456.1" r="1.15"/><circle cx="314.2" cy="451.5" r="1.15"/><circle cx="313.1" cy="470.5" r="1.15"/><circle cx="317.2" cy="449.7" r="1.15"/><circle cx="317.1" cy="470.2" r="1.15"/><circle cx="319.8" cy="459.9" r="1.15"/><circle cx="317.3" cy="441.7" r="1.15"/><circle cx="314.2" cy="451.4" r="1.15"/><circle cx="316.3" cy="454.9" r="1.15"/><circle cx="315.3" cy="456.2" r="1.15"/><circle cx="318.8" cy="436.6" r="1.15"/><circle cx="308.4" cy="468.6" r="1.15"/><circle cx="315.2" cy="449.4" r="1.15"/><circle cx="317.8" cy="445.9" r="1.15"/><circle cx="317.2" cy="441.5" r="1.15"/><circle cx="314.6" cy="451.8" r="1.15"/><circle cx="317.4" cy="448.4" r="1.15"/><circle cx="319.4" cy="450.5" r="1.15"/><circle cx="313.7" cy="466.1" r="1.15"/><circle cx="313.9" cy="473.2" r="1.15"/><circle cx="314.8" cy="454.4" r="1.15"/><circle cx="307.8" cy="469.3" r="1.15"/><circle cx="317.1" cy="453.2" r="1.15"/><circle cx="315.4" cy="453.5" r="1.15"/><circle cx="315.8" cy="459.0" r="1.15"/><circle cx="319.2" cy="435.6" r="1.15"/><circle cx="314.7" cy="451.5" r="1.15"/><circle cx="320.1" cy="436.8" r="1.15"/><circle cx="313.8" cy="455.5" r="1.15"/><circle cx="314.1" cy="468.6" r="1.15"/><circle cx="316.4" cy="472.8" r="1.15"/><circle cx="318.4" cy="465.0" r="1.15"/><circle cx="308.4" cy="468.8" r="1.15"/><circle cx="314.9" cy="458.3" r="1.15"/><circle cx="318.9" cy="437.5" r="1.15"/><circle cx="319.2" cy="435.9" r="1.15"/><circle cx="319.6" cy="446.1" r="1.15"/><circle cx="313.4" cy="456.3" r="1.15"/><circle cx="306.8" cy="472.9" r="1.15"/><circle cx="312.8" cy="471.0" r="1.15"/><circle cx="312.5" cy="470.8" r="1.15"/><circle cx="319.3" cy="455.7" r="1.15"/><circle cx="319.0" cy="438.8" r="1.15"/><circle cx="313.9" cy="459.3" r="1.15"/><circle cx="315.9" cy="465.3" r="1.15"/><circle cx="315.4" cy="453.7" r="1.15"/><circle cx="310.6" cy="467.9" r="1.15"/><circle cx="319.8" cy="467.5" r="1.15"/><circle cx="319.2" cy="469.0" r="1.15"/><circle cx="309.4" cy="471.1" r="1.15"/><circle cx="309.8" cy="464.5" r="1.15"/><circle cx="316.8" cy="436.2" r="1.15"/><circle cx="316.0" cy="420.0" r="1.15"/><circle cx="319.3" cy="420.7" r="1.15"/><circle cx="318.0" cy="428.4" r="1.15"/><circle cx="316.0" cy="432.7" r="1.15"/><circle cx="317.7" cy="420.1" r="1.15"/><circle cx="316.9" cy="428.6" r="1.15"/><circle cx="316.0" cy="422.3" r="1.15"/><circle cx="317.4" cy="435.0" r="1.15"/><circle cx="317.3" cy="428.8" r="1.15"/><circle cx="310.6" cy="384.3" r="1.15"/><circle cx="318.2" cy="391.8" r="1.15"/><circle cx="317.3" cy="395.2" r="1.15"/><circle cx="317.7" cy="398.4" r="1.15"/><circle cx="317.5" cy="404.3" r="1.15"/><circle cx="319.1" cy="408.7" r="1.15"/><circle cx="315.1" cy="412.5" r="1.15"/><circle cx="316.4" cy="414.0" r="1.15"/><circle cx="317.7" cy="412.1" r="1.15"/><circle cx="326.0" cy="412.5" r="1.15"/><circle cx="308.4" cy="422.6" r="1.15"/><circle cx="313.5" cy="422.8" r="1.15"/><circle cx="316.8" cy="421.2" r="1.15"/><circle cx="318.2" cy="424.1" r="1.15"/><circle cx="317.5" cy="428.4" r="1.15"/><circle cx="315.5" cy="429.8" r="1.15"/><circle cx="318.2" cy="431.3" r="1.15"/><circle cx="312.2" cy="439.2" r="1.15"/><circle cx="315.9" cy="435.6" r="1.15"/><circle cx="332.2" cy="447.2" r="1.15"/><circle cx="329.8" cy="455.9" r="1.15"/><circle cx="350.6" cy="467.7" r="1.15"/><circle cx="361.5" cy="464.7" r="1.15"/><circle cx="362.8" cy="469.2" r="1.15"/><circle cx="362.4" cy="469.9" r="1.15"/><circle cx="291.2" cy="472.1" r="1.15"/><circle cx="263.5" cy="463.1" r="1.15"/><circle cx="268.2" cy="465.4" r="1.15"/><circle cx="273.3" cy="467.2" r="1.15"/><circle cx="276.9" cy="467.2" r="1.15"/><circle cx="277.5" cy="461.4" r="1.15"/><circle cx="275.8" cy="466.3" r="1.15"/><circle cx="309.8" cy="471.8" r="1.15"/><circle cx="322.2" cy="471.4" r="1.15"/><circle cx="318.9" cy="468.5" r="1.15"/><circle cx="319.4" cy="470.7" r="1.15"/><circle cx="324.2" cy="469.8" r="1.15"/><circle cx="331.6" cy="469.2" r="1.15"/><circle cx="340.0" cy="467.0" r="1.15"/><circle cx="330.0" cy="470.8" r="1.15"/><circle cx="306.4" cy="467.3" r="1.15"/><circle cx="331.9" cy="468.7" r="1.15"/><circle cx="315.7" cy="470.6" r="1.15"/><circle cx="328.1" cy="469.1" r="1.15"/><circle cx="324.6" cy="468.7" r="1.15"/><circle cx="330.7" cy="471.1" r="1.15"/><circle cx="311.6" cy="466.8" r="1.15"/><circle cx="336.9" cy="467.4" r="1.15"/><circle cx="303.6" cy="471.8" r="1.15"/><circle cx="312.4" cy="469.8" r="1.15"/><circle cx="325.8" cy="471.6" r="1.15"/><circle cx="322.7" cy="471.7" r="1.15"/><circle cx="305.4" cy="468.5" r="1.15"/><circle cx="323.0" cy="468.7" r="1.15"/><circle cx="316.3" cy="469.5" r="1.15"/><circle cx="310.1" cy="470.3" r="1.15"/><circle cx="330.4" cy="467.6" r="1.15"/><circle cx="304.9" cy="471.5" r="1.15"/><circle cx="332.8" cy="468.7" r="1.15"/><circle cx="331.3" cy="471.0" r="1.15"/><circle cx="318.2" cy="470.7" r="1.15"/><circle cx="332.8" cy="470.1" r="1.15"/><circle cx="326.9" cy="466.8" r="1.15"/><circle cx="314.5" cy="469.1" r="1.15"/><circle cx="330.4" cy="467.1" r="1.15"/><circle cx="318.3" cy="470.1" r="1.15"/><circle cx="305.8" cy="467.4" r="1.15"/><circle cx="305.1" cy="471.7" r="1.15"/><circle cx="323.5" cy="469.5" r="1.15"/><circle cx="328.1" cy="470.5" r="1.15"/><circle cx="331.5" cy="471.7" r="1.15"/><circle cx="310.2" cy="468.5" r="1.15"/><circle cx="305.2" cy="470.5" r="1.15"/><circle cx="329.6" cy="468.4" r="1.15"/><circle cx="312.8" cy="471.3" r="1.15"/><circle cx="315.7" cy="468.2" r="1.15"/><circle cx="316.0" cy="471.5" r="1.15"/><circle cx="328.3" cy="467.0" r="1.15"/><circle cx="329.5" cy="463.6" r="1.15"/><circle cx="329.5" cy="468.2" r="1.15"/><circle cx="328.9" cy="469.4" r="1.15"/><circle cx="326.1" cy="468.5" r="1.15"/><circle cx="329.6" cy="464.0" r="1.15"/><circle cx="325.7" cy="468.8" r="1.15"/><circle cx="326.3" cy="468.8" r="1.15"/><circle cx="326.5" cy="468.6" r="1.15"/><circle cx="325.3" cy="467.0" r="1.15"/><circle cx="328.8" cy="467.2" r="1.15"/><circle cx="329.1" cy="467.0" r="1.15"/><circle cx="325.2" cy="465.3" r="1.15"/><circle cx="329.3" cy="469.6" r="1.15"/><circle cx="324.3" cy="467.5" r="1.15"/><circle cx="327.4" cy="467.0" r="1.15"/><circle cx="329.8" cy="466.2" r="1.15"/><circle cx="328.9" cy="471.5" r="1.15"/><circle cx="327.4" cy="465.0" r="1.15"/><circle cx="324.7" cy="471.4" r="1.15"/><circle cx="328.5" cy="464.0" r="1.15"/><circle cx="324.7" cy="466.4" r="1.15"/><circle cx="325.0" cy="465.4" r="1.15"/><circle cx="328.0" cy="469.9" r="1.15"/><circle cx="325.5" cy="465.2" r="1.15"/></g>
<line x1="319.6" y1="379.5" x2="319.6" y2="477.6" stroke="#a4c8e8" stroke-width="1.2" stroke-dasharray="6.5,2.6"/>
<line x1="324.5" y1="379.5" x2="324.5" y2="477.6" stroke="#a4c8e8" stroke-width="1.2" stroke-dasharray="6.5,2.6"/>
<line x1="258.6" y1="472.1" x2="369.6" y2="472.1" stroke="#a4c8e8" stroke-width="1.2" stroke-dasharray="6.5,2.6"/>
<line x1="258.60" y1="379.50" x2="258.60" y2="477.60" stroke="#222" stroke-width="0.9"/>
<line x1="258.60" y1="477.60" x2="369.60" y2="477.60" stroke="#222" stroke-width="0.9"/>
<line x1="277.54" y1="477.60" x2="277.54" y2="479.20" stroke="#222" stroke-width="0.6"/>
<text x="277.5" y="485.1" font-size="7.2" text-anchor="middle" fill="#4d4d4d">−20</text>
<line x1="299.87" y1="477.60" x2="299.87" y2="479.20" stroke="#222" stroke-width="0.6"/>
<text x="299.9" y="485.1" font-size="7.2" text-anchor="middle" fill="#4d4d4d">−10</text>
<line x1="322.20" y1="477.60" x2="322.20" y2="479.20" stroke="#222" stroke-width="0.6"/>
<text x="322.2" y="485.1" font-size="7.2" text-anchor="middle" fill="#4d4d4d">0</text>
<line x1="344.53" y1="477.60" x2="344.53" y2="479.20" stroke="#222" stroke-width="0.6"/>
<text x="344.5" y="485.1" font-size="7.2" text-anchor="middle" fill="#4d4d4d">10</text>
<line x1="366.86" y1="477.60" x2="366.86" y2="479.20" stroke="#222" stroke-width="0.6"/>
<text x="366.9" y="485.1" font-size="7.2" text-anchor="middle" fill="#4d4d4d">20</text>
<line x1="256.40" y1="473.20" x2="258.60" y2="473.20" stroke="#222" stroke-width="0.7"/>
<text x="255.5" y="475.8" font-size="7.2" text-anchor="end" fill="#4d4d4d">0</text>
<line x1="256.40" y1="444.30" x2="258.60" y2="444.30" stroke="#222" stroke-width="0.7"/>
<text x="255.5" y="446.9" font-size="7.2" text-anchor="end" fill="#4d4d4d">40</text>
<line x1="256.40" y1="415.40" x2="258.60" y2="415.40" stroke="#222" stroke-width="0.7"/>
<text x="255.5" y="418.0" font-size="7.2" text-anchor="end" fill="#4d4d4d">80</text>
<line x1="256.40" y1="386.50" x2="258.60" y2="386.50" stroke="#222" stroke-width="0.7"/>
<text x="255.5" y="389.1" font-size="7.2" text-anchor="end" fill="#4d4d4d">120</text>
<text x="314.1" y="492.6" font-size="7.23" text-anchor="middle" fill="#222">log2FoldChange</text>
<text transform="translate(240.6,428.6) rotate(-90)" font-size="7.23" text-anchor="middle" fill="#222">−log(padj)</text>
<text x="372.4" y="373.4" font-size="14.0" font-weight="bold">F</text>
<text x="396.9" y="374.7" font-size="7.3" font-weight="bold"><tspan font-style="italic">hnf4+nkx2−2</tspan> RNAi vs <tspan font-style="italic">gfp</tspan> RNAi</text>
<path d="M454.9 473.1h0M451.2 473.4h0M464.5 473.2h0M455.5 473.1h0M452.6 473.3h0M457.7 473.4h0M453.2 473.0h0M462.3 473.1h0M472.2 473.4h0M456.1 473.3h0M453.1 473.3h0M447.1 473.5h0M454.8 472.9h0M459.8 473.4h0M460.8 473.3h0M458.0 472.7h0M460.1 473.4h0M462.0 473.4h0M453.3 473.2h0M450.1 473.4h0M456.4 473.2h0M454.6 473.4h0M452.5 473.5h0M452.9 472.7h0M457.8 473.5h0M462.8 473.1h0M452.1 473.3h0M459.0 473.5h0M462.9 473.2h0M448.3 473.0h0M455.9 473.3h0M452.3 473.4h0M449.3 473.2h0M460.1 473.2h0M462.8 473.4h0M457.7 473.2h0M456.5 473.4h0M460.6 472.9h0M448.8 473.3h0M464.5 473.0h0M457.2 473.3h0M455.2 473.3h0M467.5 472.9h0M463.7 473.3h0M458.1 472.9h0M459.9 473.1h0M449.4 473.5h0M446.2 472.9h0M461.3 473.4h0M460.5 473.4h0M457.6 473.3h0M452.5 473.4h0M458.3 473.3h0M449.5 473.4h0M456.2 473.3h0M460.9 473.4h0M460.3 473.4h0M466.6 473.4h0M460.8 473.2h0M455.7 473.3h0M464.4 473.2h0M456.9 473.4h0M457.5 473.3h0M454.2 473.5h0M458.0 473.2h0M451.3 473.2h0M462.6 473.3h0M455.8 473.1h0M464.4 473.2h0M465.0 473.4h0M456.1 473.4h0M462.8 473.5h0M445.1 473.3h0M442.3 473.4h0M463.5 473.2h0M447.8 472.8h0M469.7 473.5h0M443.4 473.2h0M464.4 472.8h0M453.4 472.9h0M450.5 472.9h0M457.1 473.1h0M442.7 473.3h0M462.7 473.3h0M455.8 473.5h0M454.8 473.3h0M453.2 473.3h0M465.6 473.4h0M464.2 472.9h0M441.4 473.5h0M463.7 473.4h0M453.0 473.4h0M453.5 473.2h0M455.0 473.5h0M457.2 473.2h0M457.3 473.3h0M455.6 473.4h0M456.1 473.3h0M446.3 473.4h0M467.2 472.9h0M451.9 473.4h0M452.4 473.3h0M456.8 473.1h0M455.6 473.3h0M460.9 472.7h0M460.0 473.1h0M458.2 473.4h0M453.4 473.4h0M456.1 473.1h0M449.0 472.8h0M460.1 473.4h0M464.6 473.4h0M461.9 473.1h0M444.3 473.3h0M454.9 473.4h0M456.2 473.4h0M457.4 473.4h0M458.5 473.4h0M453.7 473.5h0M447.0 473.1h0M455.3 473.4h0M451.9 473.0h0M463.7 473.2h0M445.3 473.2h0M449.0 472.7h0M454.5 473.0h0M452.0 473.2h0M465.0 473.5h0M456.4 473.1h0M449.0 473.5h0M460.6 473.4h0M449.0 473.2h0M469.4 473.5h0M455.3 473.2h0M444.8 473.5h0M445.0 473.1h0M450.3 473.5h0M450.8 473.5h0M459.3 473.5h0M454.9 473.4h0M455.5 473.3h0M461.5 473.2h0M447.8 473.2h0M451.8 473.4h0M447.5 473.0h0M457.4 473.5h0M463.2 473.3h0M459.7 473.4h0M466.0 473.2h0M466.7 473.3h0M458.9 473.2h0M455.4 473.4h0M462.9 473.4h0M464.6 473.1h0M458.7 473.4h0M452.7 473.2h0M467.1 473.2h0M457.8 473.4h0M451.0 473.3h0M452.4 472.8h0M459.7 473.1h0M471.2 473.2h0M466.3 473.4h0M452.5 473.0h0M467.3 473.2h0M465.1 473.4h0M462.7 473.2h0M470.3 473.3h0M457.3 473.1h0M455.5 473.3h0M456.7 473.0h0M453.5 473.2h0M453.5 473.0h0M453.8 473.5h0M460.7 473.4h0M460.9 473.2h0M453.2 473.3h0M454.3 473.4h0M466.5 473.4h0M464.6 473.1h0M449.5 473.2h0M458.4 473.1h0M470.2 472.9h0M448.9 473.2h0M452.2 473.3h0M450.6 473.2h0M453.4 473.3h0M464.2 473.0h0M451.3 473.0h0M449.8 473.2h0M457.2 473.2h0M467.1 473.2h0M462.3 473.4h0M454.7 473.4h0M463.3 473.1h0M459.4 473.4h0M456.9 473.0h0M459.3 472.9h0M452.5 473.2h0M458.9 473.2h0M452.3 473.4h0M457.0 473.4h0M449.2 473.1h0M455.1 473.3h0M459.2 473.4h0M459.6 473.1h0M464.7 473.5h0M452.3 473.3h0M464.2 473.4h0M446.0 472.8h0M447.3 472.9h0M463.3 473.2h0M466.0 473.1h0M464.6 473.3h0M459.7 473.4h0M453.8 473.4h0M466.2 473.5h0M471.0 473.0h0M457.7 473.0h0M445.4 473.4h0M455.2 473.3h0M450.2 473.4h0M446.4 473.5h0M453.9 473.1h0M460.3 472.9h0M460.4 473.4h0M461.1 473.4h0M462.9 473.4h0M450.1 473.4h0M452.1 473.4h0M458.3 473.2h0M464.2 473.0h0M465.9 473.5h0M469.1 473.1h0M462.1 473.4h0M458.3 473.1h0M453.7 473.2h0M452.6 473.5h0M452.0 473.4h0M455.7 473.4h0M460.2 473.3h0M448.3 473.4h0M457.6 473.3h0M451.4 473.2h0M468.0 473.3h0M456.6 473.5h0M444.5 473.3h0M455.4 473.4h0M460.0 473.4h0M471.9 473.2h0M453.0 473.3h0M461.8 473.5h0M467.1 473.4h0M445.5 473.2h0M460.1 473.2h0M458.5 473.0h0M460.1 473.4h0M451.3 473.3h0M455.6 473.2h0M459.1 473.4h0M458.6 473.2h0M460.7 472.9h0M452.5 473.2h0M458.3 473.3h0M461.6 473.2h0M464.2 473.3h0M451.5 473.4h0M460.1 473.0h0M458.3 473.4h0M468.2 473.5h0M454.4 473.4h0M462.8 473.4h0M446.0 473.4h0M464.3 473.3h0M463.3 473.4h0M452.0 473.2h0M442.8 472.9h0M446.9 473.3h0M455.6 473.3h0M457.0 473.4h0M453.9 473.4h0M464.2 473.2h0M448.4 473.3h0M471.3 473.2h0M451.1 473.3h0M459.0 473.4h0M464.1 473.1h0M453.9 473.4h0M454.8 473.5h0M468.3 473.4h0M461.4 473.4h0M458.1 473.2h0M461.7 473.2h0M462.4 473.5h0M458.4 473.4h0M451.7 473.2h0M457.6 473.5h0M459.4 473.4h0M462.7 473.4h0M458.3 473.4h0M457.4 473.3h0M452.7 473.1h0M460.1 473.4h0M457.7 473.4h0M448.6 473.2h0M457.5 473.5h0M449.1 473.3h0M444.6 473.1h0M450.4 473.3h0M450.4 473.1h0M455.3 472.9h0M455.2 473.4h0M455.4 473.5h0M447.7 472.9h0M448.5 473.2h0M459.6 473.0h0M469.0 473.3h0M464.8 473.2h0M466.3 473.0h0M458.0 473.3h0M470.6 473.3h0M457.4 473.4h0M443.1 473.5h0M451.8 473.1h0M462.5 473.5h0M454.8 473.1h0M453.8 473.1h0M458.8 473.4h0M459.9 472.9h0M446.6 473.3h0M462.5 473.4h0M467.4 473.3h0M461.1 473.2h0M461.4 473.1h0M460.9 472.8h0M451.4 473.0h0M450.1 473.5h0M462.3 473.1h0M459.7 473.3h0M453.2 473.2h0M456.9 473.4h0M457.6 473.4h0M468.0 473.4h0M455.5 473.5h0M462.3 473.3h0M442.9 473.5h0M460.4 472.7h0M453.4 473.4h0M449.6 473.5h0M445.5 473.2h0M456.9 473.0h0M455.6 473.3h0M466.0 473.0h0M471.8 473.4h0M462.0 472.7h0M453.0 473.0h0M451.2 473.2h0M446.8 473.4h0M456.1 473.4h0M444.2 473.5h0M455.5 473.0h0M461.4 472.8h0M458.3 473.2h0M456.8 473.3h0M448.1 473.4h0M451.0 473.4h0M455.2 473.1h0M450.7 473.4h0M450.0 473.4h0M464.4 473.3h0M449.3 473.5h0M457.6 473.3h0M460.3 473.5h0M462.0 473.1h0M462.6 473.1h0M451.8 472.9h0M459.0 473.1h0M450.1 473.3h0M453.0 473.4h0M459.4 473.4h0M455.2 473.2h0M443.5 473.3h0M449.0 473.2h0M440.9 473.1h0M456.1 473.5h0M449.8 473.2h0M463.4 473.2h0M456.8 473.5h0M461.9 473.1h0M466.4 473.5h0M464.3 473.1h0M464.9 473.5h0M462.7 473.3h0M463.3 473.5h0M444.4 472.7h0M452.8 473.3h0M456.1 473.4h0M454.8 473.2h0M463.8 473.2h0M446.2 473.2h0M447.1 472.8h0M460.0 473.1h0M457.4 473.4h0M452.5 472.9h0M455.1 473.1h0M451.9 473.5h0M454.7 473.5h0M453.9 473.3h0M461.9 473.0h0M454.4 473.1h0M464.8 473.1h0M460.6 473.4h0M457.0 472.9h0M469.1 473.5h0M462.1 473.2h0M450.5 473.2h0M469.2 472.9h0M451.8 473.5h0M463.9 473.5h0M466.5 473.3h0M456.9 473.3h0M454.2 473.1h0M452.9 473.1h0M445.4 473.0h0M447.2 473.5h0M470.0 473.1h0M462.1 473.4h0M458.6 473.3h0M456.1 473.4h0M449.0 472.9h0M457.3 472.9h0M462.5 473.3h0M449.9 473.4h0M457.7 473.5h0M455.4 472.8h0M454.6 473.4h0M454.1 473.4h0M446.7 473.2h0M467.6 473.2h0M453.8 473.2h0M456.3 473.3h0M471.2 473.2h0M466.8 473.4h0M460.5 472.7h0M457.4 473.5h0M455.1 473.4h0M458.3 473.4h0M449.9 473.2h0M462.7 473.4h0M457.7 473.3h0M458.2 473.4h0M450.0 473.5h0M445.8 472.9h0M452.2 473.0h0M454.1 473.5h0M466.5 473.4h0M458.8 473.4h0M455.7 473.3h0M452.2 472.9h0M456.5 473.3h0M467.2 472.8h0M470.7 473.1h0M455.0 473.5h0M446.9 473.0h0M462.5 473.4h0M470.9 473.3h0M455.5 473.4h0M454.3 473.3h0M448.5 473.3h0M455.5 473.4h0M454.9 473.5h0M445.5 473.3h0M456.2 472.9h0M457.5 473.2h0M457.4 473.5h0M449.2 473.4h0M453.5 472.7h0M455.5 473.3h0M459.7 473.2h0M455.5 473.1h0M466.2 473.2h0M455.3 473.4h0M468.9 473.0h0M465.5 473.0h0M441.9 472.9h0M462.5 473.1h0M461.6 473.4h0M460.8 473.5h0M467.9 473.2h0M451.1 473.3h0M464.6 473.2h0M459.6 473.4h0M449.0 473.2h0M461.2 472.9h0M461.0 473.3h0M457.0 473.5h0M457.1 461.2h0M456.1 469.1h0M455.5 460.1h0M457.2 462.7h0M455.5 472.5h0M456.4 463.7h0M456.7 469.4h0M457.1 470.0h0M456.5 461.2h0M457.6 460.8h0M456.3 459.7h0M456.4 473.4h0M457.4 465.6h0M457.3 473.0h0M456.3 467.7h0M457.2 473.3h0M456.8 470.2h0M457.0 461.6h0M455.6 469.6h0M456.4 463.1h0M456.6 467.7h0M456.3 469.6h0M456.8 473.4h0M456.7 470.1h0M456.7 473.1h0M457.0 461.2h0M455.8 468.0h0M456.8 461.9h0M457.0 467.5h0M456.0 473.4h0M455.8 472.6h0M455.4 459.2h0M457.1 467.3h0M456.5 467.9h0M456.8 470.3h0M457.0 472.6h0M456.4 473.5h0M457.7 461.1h0M456.8 473.0h0M457.4 472.2h0M456.6 466.9h0M457.5 471.9h0M456.0 467.0h0M456.3 472.1h0M457.6 461.2h0M456.0 471.2h0M455.3 458.9h0M456.1 466.3h0M456.3 471.6h0M456.7 467.0h0M456.7 472.3h0M457.5 473.0h0M457.2 463.9h0M456.5 459.5h0M457.2 462.2h0M457.5 467.1h0M455.0 459.4h0M455.9 471.4h0M456.0 470.7h0M456.1 466.4h0M456.3 461.3h0M456.5 473.5h0M456.1 470.9h0M455.4 468.1h0M457.1 468.6h0M455.9 465.6h0M456.1 468.0h0M456.1 473.1h0M456.4 469.9h0M457.7 471.8h0M455.5 467.6h0M455.9 472.8h0M456.5 463.1h0M457.0 471.9h0M456.8 472.6h0M456.6 468.6h0M456.8 472.8h0M456.0 466.7h0M455.9 469.3h0M456.1 469.5h0M456.2 465.4h0M456.8 467.4h0M457.6 458.4h0M455.9 463.6h0M456.0 471.8h0M456.1 464.4h0M457.0 464.7h0M457.2 458.1h0M458.0 469.0h0M457.5 470.7h0M456.5 473.3h0M457.4 464.8h0M456.6 466.9h0M456.7 464.2h0M455.9 467.1h0M456.0 465.8h0M455.9 467.9h0M457.4 465.1h0M457.1 470.1h0M457.3 472.9h0M456.4 468.8h0M456.3 460.7h0M456.9 472.8h0M456.5 468.7h0M456.2 457.7h0M457.6 473.5h0M457.2 458.3h0M457.1 466.4h0M456.2 469.6h0M456.9 469.9h0M457.1 461.2h0M457.2 469.4h0M457.1 468.0h0M456.8 471.4h0M455.7 458.9h0M456.1 468.1h0M456.3 461.2h0M457.4 469.1h0M456.8 471.8h0M456.8 469.9h0M456.9 470.1h0M456.1 466.8h0M456.3 469.4h0M456.9 472.3h0M455.4 458.3h0M456.0 472.1h0M456.4 464.9h0M455.7 472.1h0M456.9 461.4h0M456.4 469.9h0M457.9 470.4h0M455.9 468.1h0M456.2 467.9h0M457.6 473.3h0M456.2 458.0h0M456.8 462.4h0M456.6 471.9h0M456.9 469.0h0M456.6 461.8h0M456.9 473.5h0M456.6 473.4h0M456.3 458.5h0M457.2 466.2h0M457.1 460.1h0M455.9 465.7h0M456.6 469.3h0M457.2 473.2h0M457.2 472.6h0M456.2 469.1h0M456.7 467.4h0M456.1 473.3h0M456.6 468.9h0M457.0 465.4h0M456.7 467.4h0M457.5 464.0h0M457.1 457.7h0M456.5 469.7h0M456.2 473.3h0M456.5 466.3h0" stroke="#000" stroke-opacity="0.75" stroke-width="1.7" stroke-linecap="round"/>
<g fill="#f0a080" fill-opacity="0.55" stroke="#d9441a" stroke-width="0.7"><circle cx="451.9" cy="460.3" r="1.15"/><circle cx="454.0" cy="449.7" r="1.15"/><circle cx="444.7" cy="466.4" r="1.15"/><circle cx="444.3" cy="473.1" r="1.15"/><circle cx="449.8" cy="457.2" r="1.15"/><circle cx="452.3" cy="465.6" r="1.15"/><circle cx="453.1" cy="440.9" r="1.15"/><circle cx="454.1" cy="447.4" r="1.15"/><circle cx="453.4" cy="448.4" r="1.15"/><circle cx="447.1" cy="469.5" r="1.15"/><circle cx="453.4" cy="455.6" r="1.15"/><circle cx="451.5" cy="449.2" r="1.15"/><circle cx="452.0" cy="443.3" r="1.15"/><circle cx="452.0" cy="452.4" r="1.15"/><circle cx="453.2" cy="440.9" r="1.15"/><circle cx="444.4" cy="466.9" r="1.15"/><circle cx="452.8" cy="450.8" r="1.15"/><circle cx="454.3" cy="468.2" r="1.15"/><circle cx="452.0" cy="458.4" r="1.15"/><circle cx="450.9" cy="466.8" r="1.15"/><circle cx="447.4" cy="471.2" r="1.15"/><circle cx="450.5" cy="467.5" r="1.15"/><circle cx="447.9" cy="467.3" r="1.15"/><circle cx="454.0" cy="444.4" r="1.15"/><circle cx="451.6" cy="445.0" r="1.15"/><circle cx="450.2" cy="455.6" r="1.15"/><circle cx="451.4" cy="450.5" r="1.15"/><circle cx="448.5" cy="453.6" r="1.15"/><circle cx="453.1" cy="448.8" r="1.15"/><circle cx="441.6" cy="472.8" r="1.15"/><circle cx="445.8" cy="464.6" r="1.15"/><circle cx="448.3" cy="468.6" r="1.15"/><circle cx="446.4" cy="464.4" r="1.15"/><circle cx="453.5" cy="441.2" r="1.15"/><circle cx="451.3" cy="457.3" r="1.15"/><circle cx="442.9" cy="468.6" r="1.15"/><circle cx="442.0" cy="471.7" r="1.15"/><circle cx="454.0" cy="453.7" r="1.15"/><circle cx="454.4" cy="443.2" r="1.15"/><circle cx="453.3" cy="457.3" r="1.15"/><circle cx="454.3" cy="439.1" r="1.15"/><circle cx="454.5" cy="444.5" r="1.15"/><circle cx="454.1" cy="453.3" r="1.15"/><circle cx="445.8" cy="473.2" r="1.15"/><circle cx="453.7" cy="439.4" r="1.15"/><circle cx="451.8" cy="445.2" r="1.15"/><circle cx="453.7" cy="459.0" r="1.15"/><circle cx="452.6" cy="458.8" r="1.15"/><circle cx="451.0" cy="458.8" r="1.15"/><circle cx="452.3" cy="459.8" r="1.15"/><circle cx="451.8" cy="451.7" r="1.15"/><circle cx="453.6" cy="460.3" r="1.15"/><circle cx="449.0" cy="460.3" r="1.15"/><circle cx="453.7" cy="439.9" r="1.15"/><circle cx="449.7" cy="471.2" r="1.15"/><circle cx="446.4" cy="465.5" r="1.15"/><circle cx="452.5" cy="441.5" r="1.15"/><circle cx="452.8" cy="440.9" r="1.15"/><circle cx="451.3" cy="445.1" r="1.15"/><circle cx="446.9" cy="473.3" r="1.15"/><circle cx="449.0" cy="456.4" r="1.15"/><circle cx="449.7" cy="455.5" r="1.15"/><circle cx="454.5" cy="441.7" r="1.15"/><circle cx="446.3" cy="459.1" r="1.15"/><circle cx="452.4" cy="473.2" r="1.15"/><circle cx="451.4" cy="444.6" r="1.15"/><circle cx="453.9" cy="473.3" r="1.15"/><circle cx="451.7" cy="446.4" r="1.15"/><circle cx="449.1" cy="459.1" r="1.15"/><circle cx="450.3" cy="449.5" r="1.15"/><circle cx="453.2" cy="473.5" r="1.15"/><circle cx="450.2" cy="447.9" r="1.15"/><circle cx="452.8" cy="446.2" r="1.15"/><circle cx="450.0" cy="465.5" r="1.15"/><circle cx="443.4" cy="473.4" r="1.15"/><circle cx="447.0" cy="467.8" r="1.15"/><circle cx="451.2" cy="458.8" r="1.15"/><circle cx="451.3" cy="453.0" r="1.15"/><circle cx="443.6" cy="468.6" r="1.15"/><circle cx="452.0" cy="470.2" r="1.15"/><circle cx="448.1" cy="468.0" r="1.15"/><circle cx="452.8" cy="448.4" r="1.15"/><circle cx="446.1" cy="468.5" r="1.15"/><circle cx="447.6" cy="467.8" r="1.15"/><circle cx="443.9" cy="468.0" r="1.15"/><circle cx="450.8" cy="469.9" r="1.15"/><circle cx="450.0" cy="466.6" r="1.15"/><circle cx="450.6" cy="450.8" r="1.15"/><circle cx="451.9" cy="448.1" r="1.15"/><circle cx="443.7" cy="472.4" r="1.15"/><circle cx="451.2" cy="468.3" r="1.15"/><circle cx="444.7" cy="462.9" r="1.15"/><circle cx="450.1" cy="464.4" r="1.15"/><circle cx="452.0" cy="442.7" r="1.15"/><circle cx="452.7" cy="463.8" r="1.15"/><circle cx="450.9" cy="448.1" r="1.15"/><circle cx="445.6" cy="465.4" r="1.15"/><circle cx="450.9" cy="464.1" r="1.15"/><circle cx="448.7" cy="456.3" r="1.15"/><circle cx="446.8" cy="460.7" r="1.15"/><circle cx="446.7" cy="473.4" r="1.15"/><circle cx="453.6" cy="464.0" r="1.15"/><circle cx="454.3" cy="442.6" r="1.15"/><circle cx="443.4" cy="469.4" r="1.15"/><circle cx="453.0" cy="440.5" r="1.15"/><circle cx="444.3" cy="465.3" r="1.15"/><circle cx="444.7" cy="471.0" r="1.15"/><circle cx="454.2" cy="441.1" r="1.15"/><circle cx="445.1" cy="471.1" r="1.15"/><circle cx="452.3" cy="444.0" r="1.15"/><circle cx="453.7" cy="441.0" r="1.15"/><circle cx="452.9" cy="464.3" r="1.15"/><circle cx="443.5" cy="467.5" r="1.15"/><circle cx="451.3" cy="472.5" r="1.15"/><circle cx="453.8" cy="465.1" r="1.15"/><circle cx="451.9" cy="466.4" r="1.15"/><circle cx="446.8" cy="471.4" r="1.15"/><circle cx="449.4" cy="458.3" r="1.15"/><circle cx="451.7" cy="449.3" r="1.15"/><circle cx="454.5" cy="441.1" r="1.15"/><circle cx="453.2" cy="468.9" r="1.15"/><circle cx="445.6" cy="466.3" r="1.15"/><circle cx="453.3" cy="442.1" r="1.15"/><circle cx="449.4" cy="470.6" r="1.15"/><circle cx="451.8" cy="457.2" r="1.15"/><circle cx="450.2" cy="448.0" r="1.15"/><circle cx="448.4" cy="461.3" r="1.15"/><circle cx="452.7" cy="445.7" r="1.15"/><circle cx="442.6" cy="469.8" r="1.15"/><circle cx="454.7" cy="439.6" r="1.15"/><circle cx="452.3" cy="449.3" r="1.15"/><circle cx="451.6" cy="472.9" r="1.15"/><circle cx="444.7" cy="470.2" r="1.15"/><circle cx="454.3" cy="469.2" r="1.15"/><circle cx="444.4" cy="469.0" r="1.15"/><circle cx="448.3" cy="459.8" r="1.15"/><circle cx="452.4" cy="461.1" r="1.15"/><circle cx="449.4" cy="473.4" r="1.15"/><circle cx="450.1" cy="473.0" r="1.15"/><circle cx="451.5" cy="455.2" r="1.15"/><circle cx="448.3" cy="460.8" r="1.15"/><circle cx="449.8" cy="466.1" r="1.15"/><circle cx="452.7" cy="444.0" r="1.15"/><circle cx="448.6" cy="462.8" r="1.15"/><circle cx="450.8" cy="461.3" r="1.15"/><circle cx="454.0" cy="442.6" r="1.15"/><circle cx="452.7" cy="441.6" r="1.15"/><circle cx="454.1" cy="444.0" r="1.15"/><circle cx="445.9" cy="459.5" r="1.15"/><circle cx="452.0" cy="467.0" r="1.15"/><circle cx="453.0" cy="451.0" r="1.15"/><circle cx="453.0" cy="456.6" r="1.15"/><circle cx="454.0" cy="441.1" r="1.15"/><circle cx="444.7" cy="472.0" r="1.15"/><circle cx="447.9" cy="465.1" r="1.15"/><circle cx="446.2" cy="459.9" r="1.15"/><circle cx="450.7" cy="459.3" r="1.15"/><circle cx="446.7" cy="473.5" r="1.15"/><circle cx="447.1" cy="467.6" r="1.15"/><circle cx="450.9" cy="454.7" r="1.15"/><circle cx="447.0" cy="472.1" r="1.15"/><circle cx="448.3" cy="460.5" r="1.15"/><circle cx="454.2" cy="440.0" r="1.15"/><circle cx="453.5" cy="461.9" r="1.15"/><circle cx="453.4" cy="447.7" r="1.15"/><circle cx="451.4" cy="446.4" r="1.15"/><circle cx="443.6" cy="468.0" r="1.15"/><circle cx="450.2" cy="459.7" r="1.15"/><circle cx="446.8" cy="457.7" r="1.15"/><circle cx="449.7" cy="460.2" r="1.15"/><circle cx="444.6" cy="466.9" r="1.15"/><circle cx="451.0" cy="459.7" r="1.15"/><circle cx="451.1" cy="469.6" r="1.15"/><circle cx="451.4" cy="446.2" r="1.15"/><circle cx="453.3" cy="439.6" r="1.15"/><circle cx="449.5" cy="452.6" r="1.15"/><circle cx="449.7" cy="451.5" r="1.15"/><circle cx="453.7" cy="447.6" r="1.15"/><circle cx="453.1" cy="447.0" r="1.15"/><circle cx="443.4" cy="468.3" r="1.15"/><circle cx="446.6" cy="473.3" r="1.15"/><circle cx="445.6" cy="465.3" r="1.15"/><circle cx="447.8" cy="455.6" r="1.15"/><circle cx="453.1" cy="441.7" r="1.15"/><circle cx="444.8" cy="472.6" r="1.15"/><circle cx="441.5" cy="471.7" r="1.15"/><circle cx="453.5" cy="444.5" r="1.15"/><circle cx="445.2" cy="469.9" r="1.15"/><circle cx="449.6" cy="449.5" r="1.15"/><circle cx="453.4" cy="455.1" r="1.15"/><circle cx="454.2" cy="450.8" r="1.15"/><circle cx="452.0" cy="444.7" r="1.15"/><circle cx="450.5" cy="448.3" r="1.15"/><circle cx="447.0" cy="457.2" r="1.15"/><circle cx="450.8" cy="454.4" r="1.15"/><circle cx="450.2" cy="463.9" r="1.15"/><circle cx="451.6" cy="473.3" r="1.15"/><circle cx="453.4" cy="447.9" r="1.15"/><circle cx="449.2" cy="453.8" r="1.15"/><circle cx="451.1" cy="452.2" r="1.15"/><circle cx="450.8" cy="466.1" r="1.15"/><circle cx="445.8" cy="469.9" r="1.15"/><circle cx="448.7" cy="452.5" r="1.15"/><circle cx="444.2" cy="465.7" r="1.15"/><circle cx="453.8" cy="442.7" r="1.15"/><circle cx="453.4" cy="440.8" r="1.15"/><circle cx="453.3" cy="440.4" r="1.15"/><circle cx="450.8" cy="465.6" r="1.15"/><circle cx="449.9" cy="459.0" r="1.15"/><circle cx="442.4" cy="473.1" r="1.15"/><circle cx="450.1" cy="458.5" r="1.15"/><circle cx="453.0" cy="450.1" r="1.15"/><circle cx="446.6" cy="469.5" r="1.15"/><circle cx="449.8" cy="468.4" r="1.15"/><circle cx="453.5" cy="472.5" r="1.15"/><circle cx="448.2" cy="464.9" r="1.15"/><circle cx="453.3" cy="441.0" r="1.15"/><circle cx="449.8" cy="462.9" r="1.15"/><circle cx="448.0" cy="468.5" r="1.15"/><circle cx="454.5" cy="440.5" r="1.15"/><circle cx="447.4" cy="462.2" r="1.15"/><circle cx="451.6" cy="449.3" r="1.15"/><circle cx="448.1" cy="454.3" r="1.15"/><circle cx="453.9" cy="443.1" r="1.15"/><circle cx="446.3" cy="458.3" r="1.15"/><circle cx="452.5" cy="458.8" r="1.15"/><circle cx="454.3" cy="449.1" r="1.15"/><circle cx="446.6" cy="470.8" r="1.15"/><circle cx="445.6" cy="467.5" r="1.15"/><circle cx="452.5" cy="450.8" r="1.15"/><circle cx="451.2" cy="449.1" r="1.15"/><circle cx="451.6" cy="451.7" r="1.15"/><circle cx="453.2" cy="462.2" r="1.15"/><circle cx="445.7" cy="460.7" r="1.15"/><circle cx="454.5" cy="443.8" r="1.15"/><circle cx="450.0" cy="472.5" r="1.15"/><circle cx="451.6" cy="452.2" r="1.15"/><circle cx="448.1" cy="471.3" r="1.15"/><circle cx="448.4" cy="457.0" r="1.15"/><circle cx="447.5" cy="463.3" r="1.15"/><circle cx="450.4" cy="452.7" r="1.15"/><circle cx="444.2" cy="472.9" r="1.15"/><circle cx="453.5" cy="471.3" r="1.15"/><circle cx="454.5" cy="460.8" r="1.15"/><circle cx="448.3" cy="472.5" r="1.15"/><circle cx="453.3" cy="461.0" r="1.15"/><circle cx="453.0" cy="440.8" r="1.15"/><circle cx="448.7" cy="460.3" r="1.15"/><circle cx="443.5" cy="466.1" r="1.15"/><circle cx="449.6" cy="471.5" r="1.15"/><circle cx="443.7" cy="469.0" r="1.15"/><circle cx="450.4" cy="459.5" r="1.15"/><circle cx="445.3" cy="463.4" r="1.15"/><circle cx="444.8" cy="467.9" r="1.15"/><circle cx="451.6" cy="451.6" r="1.15"/><circle cx="449.2" cy="464.5" r="1.15"/><circle cx="451.0" cy="461.5" r="1.15"/><circle cx="451.2" cy="455.0" r="1.15"/><circle cx="445.4" cy="466.5" r="1.15"/><circle cx="449.5" cy="461.4" r="1.15"/><circle cx="453.1" cy="444.2" r="1.15"/><circle cx="445.0" cy="464.2" r="1.15"/><circle cx="453.4" cy="439.7" r="1.15"/><circle cx="447.3" cy="463.3" r="1.15"/><circle cx="452.7" cy="450.2" r="1.15"/><circle cx="449.2" cy="450.9" r="1.15"/><circle cx="449.8" cy="453.8" r="1.15"/><circle cx="447.7" cy="462.2" r="1.15"/><circle cx="444.7" cy="468.8" r="1.15"/><circle cx="446.4" cy="458.3" r="1.15"/><circle cx="446.3" cy="465.3" r="1.15"/><circle cx="447.8" cy="473.4" r="1.15"/><circle cx="453.1" cy="449.1" r="1.15"/><circle cx="452.6" cy="455.5" r="1.15"/><circle cx="444.4" cy="463.4" r="1.15"/><circle cx="443.0" cy="469.6" r="1.15"/><circle cx="445.8" cy="472.7" r="1.15"/><circle cx="451.1" cy="446.7" r="1.15"/><circle cx="447.9" cy="463.7" r="1.15"/><circle cx="450.0" cy="451.4" r="1.15"/><circle cx="451.3" cy="450.0" r="1.15"/><circle cx="445.6" cy="468.1" r="1.15"/><circle cx="449.7" cy="457.5" r="1.15"/><circle cx="454.5" cy="439.2" r="1.15"/><circle cx="452.8" cy="448.5" r="1.15"/><circle cx="449.3" cy="450.8" r="1.15"/><circle cx="447.3" cy="467.4" r="1.15"/><circle cx="449.9" cy="458.8" r="1.15"/><circle cx="445.9" cy="470.4" r="1.15"/><circle cx="452.6" cy="443.5" r="1.15"/><circle cx="444.9" cy="467.0" r="1.15"/><circle cx="452.7" cy="462.7" r="1.15"/><circle cx="450.7" cy="455.8" r="1.15"/><circle cx="446.2" cy="458.7" r="1.15"/><circle cx="447.0" cy="457.2" r="1.15"/><circle cx="446.0" cy="465.0" r="1.15"/><circle cx="449.6" cy="472.4" r="1.15"/><circle cx="450.1" cy="452.3" r="1.15"/><circle cx="452.9" cy="446.4" r="1.15"/><circle cx="449.6" cy="467.4" r="1.15"/><circle cx="446.9" cy="384.9" r="1.15"/><circle cx="451.8" cy="387.6" r="1.15"/><circle cx="444.9" cy="397.6" r="1.15"/><circle cx="443.2" cy="400.7" r="1.15"/><circle cx="444.3" cy="403.1" r="1.15"/><circle cx="448.8" cy="403.1" r="1.15"/><circle cx="449.5" cy="405.0" r="1.15"/><circle cx="450.1" cy="409.0" r="1.15"/><circle cx="451.4" cy="410.9" r="1.15"/><circle cx="446.2" cy="412.8" r="1.15"/><circle cx="448.2" cy="414.1" r="1.15"/><circle cx="449.5" cy="422.3" r="1.15"/><circle cx="444.9" cy="428.2" r="1.15"/><circle cx="450.1" cy="426.3" r="1.15"/><circle cx="452.0" cy="427.6" r="1.15"/><circle cx="446.2" cy="432.7" r="1.15"/><circle cx="443.7" cy="435.2" r="1.15"/><circle cx="444.9" cy="437.1" r="1.15"/><circle cx="450.8" cy="433.9" r="1.15"/><circle cx="440.0" cy="441.4" r="1.15"/><circle cx="451.4" cy="441.6" r="1.15"/><circle cx="447.5" cy="430.1" r="1.15"/><circle cx="452.5" cy="424.9" r="1.15"/><circle cx="446.9" cy="435.9" r="1.15"/><circle cx="449.0" cy="431.6" r="1.15"/><circle cx="451.0" cy="418.1" r="1.15"/><circle cx="448.6" cy="416.4" r="1.15"/><circle cx="443.9" cy="424.9" r="1.15"/><circle cx="452.9" cy="435.4" r="1.15"/><circle cx="447.7" cy="425.9" r="1.15"/><circle cx="465.6" cy="451.7" r="1.15"/><circle cx="461.1" cy="454.9" r="1.15"/><circle cx="400.2" cy="471.0" r="1.15"/><circle cx="423.9" cy="472.2" r="1.15"/><circle cx="501.3" cy="472.0" r="1.15"/><circle cx="436.1" cy="472.7" r="1.15"/><circle cx="465.6" cy="473.5" r="1.15"/><circle cx="463.2" cy="465.9" r="1.15"/><circle cx="460.5" cy="471.2" r="1.15"/><circle cx="471.1" cy="460.2" r="1.15"/><circle cx="461.7" cy="472.6" r="1.15"/><circle cx="460.2" cy="473.2" r="1.15"/><circle cx="469.7" cy="464.4" r="1.15"/><circle cx="461.8" cy="468.8" r="1.15"/><circle cx="468.1" cy="473.5" r="1.15"/><circle cx="470.1" cy="461.9" r="1.15"/><circle cx="461.2" cy="465.1" r="1.15"/><circle cx="468.1" cy="470.9" r="1.15"/><circle cx="471.2" cy="472.2" r="1.15"/><circle cx="464.6" cy="471.2" r="1.15"/><circle cx="464.2" cy="462.9" r="1.15"/><circle cx="466.1" cy="466.8" r="1.15"/><circle cx="473.1" cy="472.2" r="1.15"/><circle cx="461.3" cy="466.6" r="1.15"/><circle cx="460.5" cy="459.5" r="1.15"/><circle cx="462.8" cy="469.5" r="1.15"/><circle cx="464.0" cy="462.6" r="1.15"/><circle cx="471.8" cy="465.6" r="1.15"/><circle cx="460.8" cy="470.7" r="1.15"/><circle cx="468.2" cy="472.2" r="1.15"/><circle cx="471.2" cy="461.6" r="1.15"/><circle cx="461.4" cy="470.6" r="1.15"/><circle cx="461.4" cy="464.8" r="1.15"/><circle cx="459.6" cy="465.2" r="1.15"/><circle cx="459.7" cy="462.3" r="1.15"/><circle cx="465.7" cy="467.3" r="1.15"/><circle cx="460.0" cy="473.4" r="1.15"/><circle cx="463.0" cy="459.1" r="1.15"/><circle cx="466.5" cy="461.8" r="1.15"/><circle cx="459.7" cy="473.1" r="1.15"/><circle cx="459.4" cy="465.2" r="1.15"/><circle cx="460.8" cy="471.6" r="1.15"/><circle cx="467.6" cy="465.2" r="1.15"/><circle cx="462.6" cy="469.1" r="1.15"/><circle cx="462.1" cy="467.6" r="1.15"/><circle cx="463.0" cy="470.6" r="1.15"/><circle cx="461.6" cy="471.4" r="1.15"/><circle cx="461.8" cy="473.5" r="1.15"/><circle cx="462.4" cy="467.1" r="1.15"/><circle cx="461.9" cy="473.0" r="1.15"/><circle cx="470.6" cy="469.1" r="1.15"/><circle cx="465.2" cy="471.2" r="1.15"/><circle cx="471.3" cy="464.1" r="1.15"/><circle cx="466.9" cy="465.9" r="1.15"/><circle cx="468.0" cy="468.6" r="1.15"/><circle cx="463.8" cy="470.2" r="1.15"/><circle cx="465.1" cy="469.1" r="1.15"/><circle cx="465.5" cy="468.1" r="1.15"/><circle cx="469.6" cy="461.2" r="1.15"/><circle cx="461.3" cy="473.5" r="1.15"/><circle cx="462.3" cy="473.4" r="1.15"/><circle cx="449.6" cy="470.7" r="1.15"/><circle cx="441.4" cy="472.3" r="1.15"/><circle cx="450.8" cy="469.9" r="1.15"/><circle cx="447.8" cy="470.4" r="1.15"/><circle cx="448.8" cy="471.3" r="1.15"/><circle cx="443.2" cy="471.0" r="1.15"/><circle cx="451.0" cy="469.3" r="1.15"/><circle cx="451.6" cy="469.9" r="1.15"/><circle cx="438.0" cy="472.1" r="1.15"/><circle cx="452.4" cy="471.0" r="1.15"/><circle cx="445.1" cy="471.9" r="1.15"/><circle cx="450.7" cy="471.1" r="1.15"/><circle cx="452.7" cy="472.8" r="1.15"/><circle cx="452.8" cy="473.0" r="1.15"/><circle cx="439.2" cy="471.6" r="1.15"/><circle cx="447.1" cy="472.7" r="1.15"/><circle cx="445.8" cy="469.5" r="1.15"/><circle cx="443.8" cy="470.2" r="1.15"/><circle cx="446.3" cy="470.9" r="1.15"/><circle cx="439.6" cy="471.3" r="1.15"/></g>
<line x1="454.7" y1="379.5" x2="454.7" y2="477.6" stroke="#a4c8e8" stroke-width="1.2" stroke-dasharray="6.5,2.6"/>
<line x1="459.4" y1="379.5" x2="459.4" y2="477.6" stroke="#a4c8e8" stroke-width="1.2" stroke-dasharray="6.5,2.6"/>
<line x1="397.6" y1="473.2" x2="506.2" y2="473.2" stroke="#a4c8e8" stroke-width="1.2" stroke-dasharray="6.5,2.6"/>
<line x1="397.60" y1="379.50" x2="397.60" y2="477.60" stroke="#222" stroke-width="0.9"/>
<line x1="397.60" y1="477.60" x2="506.20" y2="477.60" stroke="#222" stroke-width="0.9"/>
<line x1="414.20" y1="477.60" x2="414.20" y2="479.20" stroke="#222" stroke-width="0.6"/>
<text x="414.2" y="485.1" font-size="7.2" text-anchor="middle" fill="#4d4d4d">−20</text>
<line x1="435.70" y1="477.60" x2="435.70" y2="479.20" stroke="#222" stroke-width="0.6"/>
<text x="435.7" y="485.1" font-size="7.2" text-anchor="middle" fill="#4d4d4d">−10</text>
<line x1="457.20" y1="477.60" x2="457.20" y2="479.20" stroke="#222" stroke-width="0.6"/>
<text x="457.2" y="485.1" font-size="7.2" text-anchor="middle" fill="#4d4d4d">0</text>
<line x1="478.70" y1="477.60" x2="478.70" y2="479.20" stroke="#222" stroke-width="0.6"/>
<text x="478.7" y="485.1" font-size="7.2" text-anchor="middle" fill="#4d4d4d">10</text>
<line x1="500.20" y1="477.60" x2="500.20" y2="479.20" stroke="#222" stroke-width="0.6"/>
<text x="500.2" y="485.1" font-size="7.2" text-anchor="middle" fill="#4d4d4d">20</text>
<line x1="395.40" y1="473.50" x2="397.60" y2="473.50" stroke="#222" stroke-width="0.7"/>
<text x="394.5" y="476.1" font-size="7.2" text-anchor="end" fill="#4d4d4d">0</text>
<line x1="395.40" y1="452.35" x2="397.60" y2="452.35" stroke="#222" stroke-width="0.7"/>
<text x="394.5" y="455.0" font-size="7.2" text-anchor="end" fill="#4d4d4d">100</text>
<line x1="395.40" y1="431.20" x2="397.60" y2="431.20" stroke="#222" stroke-width="0.7"/>
<text x="394.5" y="433.8" font-size="7.2" text-anchor="end" fill="#4d4d4d">200</text>
<line x1="395.40" y1="410.05" x2="397.60" y2="410.05" stroke="#222" stroke-width="0.7"/>
<text x="394.5" y="412.7" font-size="7.2" text-anchor="end" fill="#4d4d4d">300</text>
<line x1="395.40" y1="388.90" x2="397.60" y2="388.90" stroke="#222" stroke-width="0.7"/>
<text x="394.5" y="391.5" font-size="7.2" text-anchor="end" fill="#4d4d4d">400</text>
<text x="451.9" y="492.6" font-size="7.23" text-anchor="middle" fill="#222">log2FoldChange</text>
<text transform="translate(379.0,428.6) rotate(-90)" font-size="7.23" text-anchor="middle" fill="#222">−log(padj)</text>
<text x="517.6" y="373.4" font-size="14.0" font-weight="bold">G</text>
<text x="532.9" y="374.7" font-size="7.3" font-weight="bold"><tspan font-style="italic">hnf4+foxF−1</tspan> RNAi vs <tspan font-style="italic">gfp</tspan> RNAi</text>
<path d="M597.5 473.5h0M589.2 473.2h0M591.6 473.5h0M572.9 473.4h0M610.2 473.4h0M579.3 473.1h0M591.2 473.4h0M603.0 473.2h0M608.9 473.3h0M583.1 473.5h0M589.6 473.2h0M590.5 473.1h0M581.7 473.4h0M590.1 473.4h0M579.8 473.4h0M590.6 473.5h0M587.8 473.4h0M606.0 473.1h0M590.1 473.1h0M578.6 473.4h0M584.2 473.4h0M584.2 473.2h0M572.2 473.2h0M597.1 473.4h0M573.1 473.0h0M582.6 473.4h0M585.8 473.5h0M583.6 473.5h0M595.4 473.2h0M580.6 473.5h0M579.8 473.4h0M586.5 473.4h0M593.6 473.2h0M591.5 473.3h0M584.3 473.4h0M593.7 473.4h0M584.1 473.4h0M594.6 473.4h0M593.4 473.1h0M583.2 473.4h0M593.2 473.3h0M582.9 473.1h0M590.2 473.2h0M573.8 473.4h0M581.9 473.4h0M600.4 473.2h0M577.9 473.3h0M585.0 473.5h0M591.8 473.2h0M592.3 473.0h0M598.4 473.3h0M586.0 473.1h0M584.4 473.2h0M587.9 473.3h0M594.3 473.3h0M590.6 473.2h0M588.7 473.3h0M588.4 473.0h0M577.7 473.0h0M587.5 473.2h0M601.2 473.5h0M578.1 473.5h0M578.0 473.4h0M597.0 473.2h0M598.2 473.5h0M599.6 473.4h0M574.5 473.1h0M578.5 473.3h0M571.7 473.3h0M566.0 473.2h0M579.0 473.2h0M583.6 473.3h0M584.4 473.4h0M598.8 473.3h0M602.6 473.5h0M587.0 473.4h0M601.3 473.2h0M596.9 473.4h0M588.5 473.2h0M599.4 473.3h0M576.8 473.3h0M575.3 473.5h0M608.3 473.5h0M570.2 473.3h0M578.3 473.1h0M591.5 473.5h0M589.3 473.3h0M597.3 472.9h0M589.3 473.2h0M600.2 473.2h0M568.9 473.2h0M591.5 473.4h0M595.8 473.5h0M574.6 473.2h0M585.1 473.3h0M602.6 473.2h0M592.0 473.5h0M575.7 473.2h0M603.4 473.4h0M586.6 473.4h0M591.2 473.3h0M579.3 473.4h0M590.1 473.4h0M580.1 473.0h0M596.3 473.3h0M597.2 473.5h0M569.2 473.4h0M608.2 473.4h0M590.1 473.1h0M580.9 473.2h0M590.9 473.5h0M600.3 473.3h0M593.1 473.5h0M591.8 473.2h0M590.7 473.2h0M585.7 473.4h0M591.8 473.2h0M586.8 473.4h0M595.0 473.4h0M579.5 473.4h0M589.4 473.4h0M571.9 473.0h0M572.1 473.0h0M597.4 473.2h0M574.3 473.1h0M575.9 473.3h0M609.6 473.1h0M594.7 473.3h0M598.8 473.3h0M590.1 473.1h0M586.7 473.5h0M591.6 473.4h0M586.1 473.2h0M604.1 473.3h0M586.4 473.4h0M583.6 473.4h0M583.0 473.5h0M585.3 473.2h0M573.1 473.4h0M595.8 473.4h0M583.4 473.3h0M586.7 473.2h0M589.1 473.3h0M570.3 473.2h0M570.1 473.3h0M574.1 473.4h0M587.1 473.2h0M586.8 473.4h0M580.0 473.4h0M585.1 473.3h0M591.8 473.2h0M594.8 473.4h0M586.9 473.3h0M595.4 473.1h0M591.7 473.4h0M590.9 473.3h0M568.0 473.5h0M597.8 473.0h0M589.9 473.5h0M581.9 473.2h0M597.0 473.5h0M602.0 473.1h0M589.7 473.3h0M596.6 473.0h0M595.9 473.3h0M588.9 473.3h0M603.8 473.5h0M586.7 473.2h0M583.7 473.4h0M581.9 473.2h0M591.4 472.9h0M589.2 473.0h0M587.3 473.5h0M585.3 473.4h0M594.3 472.8h0M592.3 473.1h0M586.3 473.4h0M595.5 473.4h0M589.2 473.2h0M575.0 473.5h0M604.5 473.2h0M571.7 473.2h0M591.8 473.3h0M586.1 473.4h0M587.0 473.5h0M606.1 473.4h0M583.9 473.5h0M586.0 473.0h0M586.3 473.4h0M575.4 473.3h0M594.5 473.3h0M571.6 473.3h0M605.0 473.5h0M604.6 473.0h0M598.4 473.3h0M585.7 473.3h0M567.9 473.1h0M603.0 473.2h0M585.0 473.4h0M571.6 473.2h0M583.3 473.3h0M605.0 473.4h0M563.2 473.2h0M593.1 473.4h0M580.6 472.9h0M590.4 473.4h0M571.6 473.4h0M597.1 473.5h0M583.3 473.4h0M571.6 472.8h0M593.4 473.1h0M571.8 473.4h0M597.4 473.4h0M599.2 473.5h0M604.5 473.2h0M604.0 473.4h0M587.1 473.4h0M577.5 473.3h0M605.0 473.1h0M582.1 473.4h0M598.6 473.3h0M574.5 472.9h0M580.3 473.3h0M589.3 473.4h0M582.1 473.1h0M575.3 473.5h0M568.6 473.2h0M594.5 473.4h0M589.9 473.3h0M582.1 473.2h0M582.6 473.1h0M598.3 473.3h0M585.4 473.3h0M586.3 473.2h0M584.1 473.4h0M582.1 473.2h0M578.7 473.3h0M600.0 473.4h0M592.9 473.3h0M591.2 473.1h0M588.0 473.4h0M600.4 473.3h0M600.5 473.2h0M569.8 473.2h0M592.2 473.3h0M567.1 473.0h0M601.3 473.4h0M581.1 473.3h0M595.2 473.4h0M589.2 473.1h0M579.4 473.2h0M587.8 473.5h0M588.8 473.4h0M571.9 473.1h0M569.5 473.4h0M591.4 473.3h0M590.1 473.3h0M585.8 473.1h0M586.1 473.4h0M568.5 472.9h0M581.6 473.3h0M601.2 473.5h0M583.6 473.2h0M580.2 473.3h0M586.2 473.3h0M589.7 473.1h0M591.9 473.4h0M586.1 473.4h0M572.5 473.5h0M580.5 473.4h0M587.4 473.4h0M587.2 473.4h0M591.0 473.3h0M597.1 473.5h0M591.5 473.0h0M604.9 472.9h0M585.3 473.4h0M592.7 473.5h0M586.2 473.3h0M599.5 472.9h0M582.3 473.4h0M580.0 473.4h0M563.5 472.9h0M571.4 473.5h0M569.5 473.4h0M577.2 472.9h0M577.0 473.4h0M586.5 473.0h0M594.3 473.4h0M576.1 473.1h0M580.6 473.4h0M603.3 473.5h0M586.6 473.2h0M583.3 473.5h0M586.2 473.4h0M595.4 473.4h0M602.2 473.4h0M573.2 473.4h0M584.8 473.4h0M597.6 473.4h0M571.3 472.9h0M586.3 473.1h0M584.3 473.4h0M576.2 473.3h0M569.3 473.4h0M582.3 473.1h0M590.5 473.4h0M581.4 473.2h0M573.6 473.4h0M592.6 473.3h0M575.5 473.2h0M606.5 473.4h0M606.5 473.4h0M585.8 473.4h0M575.1 473.2h0M581.8 473.3h0M591.4 473.4h0M580.1 473.4h0M586.1 473.5h0M586.2 473.4h0M562.7 473.3h0M599.9 473.4h0M589.4 473.3h0M577.3 473.5h0M584.9 473.4h0M593.9 473.5h0M585.5 473.2h0M588.9 473.1h0M600.5 473.4h0M581.6 473.5h0M577.8 473.5h0M572.5 473.2h0M592.4 473.2h0M592.8 473.1h0M582.1 473.2h0M594.7 473.3h0M573.8 473.4h0M592.7 473.4h0M612.5 473.1h0M601.3 473.1h0M584.0 473.2h0M600.0 472.8h0M587.2 473.1h0M587.4 473.3h0M574.2 473.3h0M599.5 473.1h0M594.3 473.5h0M580.6 473.4h0M593.3 473.2h0M584.6 472.8h0M595.7 473.4h0M567.6 473.4h0M587.4 473.4h0M590.6 473.3h0M594.1 472.7h0M591.1 473.3h0M586.2 473.3h0M601.5 473.2h0M586.4 473.2h0M587.9 473.3h0M575.1 473.2h0M591.1 473.5h0M601.1 473.0h0M591.5 473.1h0M583.8 473.3h0M579.2 473.2h0M598.4 473.4h0M597.0 473.3h0M583.4 473.3h0M577.7 473.4h0M587.1 473.3h0M589.5 473.1h0M580.8 472.9h0M574.3 473.3h0M591.1 473.5h0M574.4 473.4h0M610.5 473.5h0M591.5 472.9h0M582.2 473.2h0M572.5 473.2h0M579.6 473.5h0M593.5 473.0h0M594.3 472.8h0M577.8 473.4h0M575.3 473.3h0M581.7 473.1h0M576.8 473.2h0M607.4 473.4h0M578.8 473.5h0M576.7 473.4h0M576.1 473.1h0M570.5 473.3h0M580.0 473.2h0M598.1 473.4h0M583.5 473.3h0M587.0 473.4h0M582.5 473.4h0M595.0 473.4h0M600.5 473.2h0M576.4 473.2h0M573.6 473.3h0M594.4 473.4h0M581.8 473.5h0M564.3 473.4h0M584.9 473.3h0M583.8 473.2h0M597.9 473.4h0M592.8 473.2h0M579.5 473.2h0M584.7 473.1h0M575.6 473.4h0M571.7 473.4h0M577.3 473.4h0M583.6 473.2h0M593.0 473.4h0M580.7 473.3h0M585.4 473.2h0M588.1 473.3h0M586.4 473.5h0M602.1 473.3h0M594.7 473.1h0M604.4 473.2h0M592.3 473.5h0M611.6 473.2h0M597.3 473.2h0M592.6 473.2h0M610.0 473.0h0M594.9 473.3h0M588.9 473.2h0M586.7 473.3h0M589.4 473.3h0M597.1 473.3h0M593.4 473.2h0M589.4 473.4h0M598.8 473.2h0M581.3 473.5h0M576.2 473.3h0M611.4 473.3h0M593.4 473.3h0M592.8 473.4h0M607.3 473.4h0M599.7 473.4h0M584.1 473.4h0M589.8 473.1h0M583.1 473.1h0M568.2 473.3h0M594.9 473.4h0M578.9 473.2h0M583.4 473.4h0M584.7 473.2h0M597.7 473.3h0M577.3 473.2h0M574.0 473.1h0M595.9 473.4h0M587.0 473.1h0M575.8 473.3h0M582.8 473.5h0M584.7 473.3h0M587.5 473.2h0M587.2 473.2h0M584.1 473.5h0M572.5 473.5h0M594.2 473.5h0M596.6 473.2h0M593.0 473.4h0M586.9 473.3h0M586.3 473.5h0M585.6 473.4h0M576.1 473.3h0M564.2 472.9h0M586.8 473.5h0M593.5 473.4h0M586.2 473.0h0M574.6 473.0h0M591.3 473.3h0M576.1 473.4h0M589.7 473.3h0M599.4 473.3h0M582.5 473.2h0M590.7 473.2h0M589.2 473.5h0M583.2 473.3h0M587.0 473.0h0M584.2 473.4h0M581.6 473.0h0M589.3 473.5h0M570.5 473.2h0M575.9 473.4h0M576.4 473.3h0M599.3 473.3h0M587.2 473.2h0M600.6 473.2h0M586.2 471.9h0M586.8 460.2h0M586.6 469.2h0M586.6 470.5h0M586.4 461.9h0M586.5 469.8h0M587.1 462.3h0M586.3 468.8h0M586.1 461.1h0M586.6 468.6h0M586.2 470.1h0M586.7 472.2h0M586.3 473.4h0M587.0 471.2h0M587.8 473.3h0M587.0 461.9h0M586.6 468.8h0M587.3 472.0h0M586.7 461.6h0M586.2 473.5h0M588.1 466.4h0M587.3 472.2h0M586.4 469.4h0M586.3 472.1h0M585.9 463.2h0M586.6 472.3h0M586.0 462.6h0M586.4 469.8h0M587.8 470.7h0M585.6 470.8h0M587.7 469.1h0M586.6 464.7h0M586.2 467.0h0M586.3 472.3h0M586.7 465.8h0M586.9 463.7h0M586.7 465.1h0M585.0 473.3h0M586.1 473.3h0M588.2 462.5h0M586.9 472.7h0M586.4 465.6h0M586.7 469.1h0M586.7 472.8h0M587.3 473.5h0M586.2 470.9h0M588.3 462.3h0M586.9 465.9h0M588.4 472.2h0M586.8 467.1h0M586.9 473.2h0M585.9 472.4h0M586.8 471.1h0M586.5 461.3h0M586.5 467.1h0M587.0 471.4h0M587.0 463.6h0M586.2 463.7h0M587.2 470.3h0M587.6 473.2h0M587.3 467.8h0M586.5 473.4h0M588.6 466.5h0M586.2 473.1h0M586.4 469.9h0M586.2 472.6h0M587.6 467.9h0M587.9 465.3h0M586.8 468.8h0M586.1 471.9h0M586.4 464.6h0M586.2 472.0h0M586.6 473.5h0M587.0 472.6h0M587.5 471.1h0M586.9 462.5h0M588.7 473.3h0M587.3 463.6h0M586.5 467.8h0M587.2 471.3h0M587.2 466.6h0M586.9 465.8h0M587.3 464.9h0M586.8 471.5h0M586.3 470.7h0M586.8 461.7h0M586.8 461.8h0M587.5 470.2h0M587.1 471.4h0M586.0 465.8h0M586.4 459.7h0M586.3 473.3h0M587.5 466.0h0M585.9 469.9h0M586.8 466.8h0M586.6 462.8h0M585.9 466.3h0M587.4 469.5h0M586.9 473.2h0M586.0 469.2h0M586.8 470.1h0M586.4 463.5h0M588.2 471.4h0M586.9 471.3h0M586.5 472.0h0M586.0 473.0h0M585.6 459.8h0M587.5 465.9h0M586.5 461.7h0M585.8 473.0h0M587.6 473.5h0M587.9 469.2h0M585.6 467.6h0M587.7 472.6h0M587.5 468.8h0M587.1 470.0h0M586.6 471.3h0M586.7 463.6h0M586.7 472.9h0M587.2 461.1h0M587.3 471.6h0M586.3 471.2h0M587.9 460.8h0M585.8 463.0h0M586.7 461.1h0M586.5 472.9h0M586.8 473.5h0M586.2 467.0h0M586.8 472.9h0M588.2 466.8h0M586.6 472.1h0M586.9 471.8h0M587.0 461.2h0M585.7 473.0h0M587.0 471.7h0M587.5 472.7h0M586.8 469.0h0M586.7 473.1h0M586.6 470.0h0M587.3 461.1h0M586.8 459.9h0M586.1 472.3h0M587.2 464.8h0M587.7 465.8h0M585.7 471.6h0M586.8 460.9h0M586.7 468.9h0M585.6 461.6h0M585.2 470.3h0M587.1 460.9h0M586.5 468.6h0M587.6 468.8h0M587.6 472.9h0M585.7 466.1h0M586.1 473.2h0M586.7 461.8h0M587.9 468.4h0M586.7 473.3h0M586.6 473.3h0M587.4 471.1h0" stroke="#000" stroke-opacity="0.75" stroke-width="1.7" stroke-linecap="round"/>
<g fill="#f0a080" fill-opacity="0.55" stroke="#d9441a" stroke-width="0.7"><circle cx="584.5" cy="472.7" r="1.15"/><circle cx="579.2" cy="472.9" r="1.15"/><circle cx="582.0" cy="471.4" r="1.15"/><circle cx="583.0" cy="457.2" r="1.15"/><circle cx="578.2" cy="472.1" r="1.15"/><circle cx="584.2" cy="449.5" r="1.15"/><circle cx="580.7" cy="466.3" r="1.15"/><circle cx="580.9" cy="459.2" r="1.15"/><circle cx="583.9" cy="456.6" r="1.15"/><circle cx="584.6" cy="456.8" r="1.15"/><circle cx="579.6" cy="472.4" r="1.15"/><circle cx="579.3" cy="471.6" r="1.15"/><circle cx="576.9" cy="469.8" r="1.15"/><circle cx="578.8" cy="466.6" r="1.15"/><circle cx="584.1" cy="451.2" r="1.15"/><circle cx="582.8" cy="457.2" r="1.15"/><circle cx="583.7" cy="467.4" r="1.15"/><circle cx="580.1" cy="460.5" r="1.15"/><circle cx="583.2" cy="459.7" r="1.15"/><circle cx="582.3" cy="464.3" r="1.15"/><circle cx="578.8" cy="467.6" r="1.15"/><circle cx="579.6" cy="473.5" r="1.15"/><circle cx="583.7" cy="464.6" r="1.15"/><circle cx="583.7" cy="458.3" r="1.15"/><circle cx="582.7" cy="467.3" r="1.15"/><circle cx="582.1" cy="462.3" r="1.15"/><circle cx="582.6" cy="459.8" r="1.15"/><circle cx="582.7" cy="456.7" r="1.15"/><circle cx="579.7" cy="472.7" r="1.15"/><circle cx="581.8" cy="470.4" r="1.15"/><circle cx="584.1" cy="451.1" r="1.15"/><circle cx="584.2" cy="458.1" r="1.15"/><circle cx="584.2" cy="461.4" r="1.15"/><circle cx="583.5" cy="471.0" r="1.15"/><circle cx="575.9" cy="473.4" r="1.15"/><circle cx="584.4" cy="450.5" r="1.15"/><circle cx="577.4" cy="473.5" r="1.15"/><circle cx="584.8" cy="460.4" r="1.15"/><circle cx="584.7" cy="457.2" r="1.15"/><circle cx="577.8" cy="470.8" r="1.15"/><circle cx="583.9" cy="457.2" r="1.15"/><circle cx="579.4" cy="464.7" r="1.15"/><circle cx="581.6" cy="462.1" r="1.15"/><circle cx="584.1" cy="471.6" r="1.15"/><circle cx="579.6" cy="471.5" r="1.15"/><circle cx="582.0" cy="462.3" r="1.15"/><circle cx="581.6" cy="461.2" r="1.15"/><circle cx="582.5" cy="460.9" r="1.15"/><circle cx="583.2" cy="454.8" r="1.15"/><circle cx="582.4" cy="453.5" r="1.15"/><circle cx="582.4" cy="455.2" r="1.15"/><circle cx="582.1" cy="459.6" r="1.15"/><circle cx="583.8" cy="470.5" r="1.15"/><circle cx="583.4" cy="460.5" r="1.15"/><circle cx="581.6" cy="461.9" r="1.15"/><circle cx="582.2" cy="462.0" r="1.15"/><circle cx="581.7" cy="470.7" r="1.15"/><circle cx="580.7" cy="459.4" r="1.15"/><circle cx="581.9" cy="469.1" r="1.15"/><circle cx="581.4" cy="466.2" r="1.15"/><circle cx="580.7" cy="461.3" r="1.15"/><circle cx="581.7" cy="457.2" r="1.15"/><circle cx="580.6" cy="458.5" r="1.15"/><circle cx="581.3" cy="466.2" r="1.15"/><circle cx="583.0" cy="460.8" r="1.15"/><circle cx="583.5" cy="455.2" r="1.15"/><circle cx="581.4" cy="463.4" r="1.15"/><circle cx="585.0" cy="468.2" r="1.15"/><circle cx="580.4" cy="469.9" r="1.15"/><circle cx="584.8" cy="451.0" r="1.15"/><circle cx="582.7" cy="452.7" r="1.15"/><circle cx="583.8" cy="456.4" r="1.15"/><circle cx="576.2" cy="473.4" r="1.15"/><circle cx="581.5" cy="473.1" r="1.15"/><circle cx="583.6" cy="451.5" r="1.15"/><circle cx="582.1" cy="455.4" r="1.15"/><circle cx="579.8" cy="471.7" r="1.15"/><circle cx="580.7" cy="472.8" r="1.15"/><circle cx="579.2" cy="465.0" r="1.15"/><circle cx="578.9" cy="469.7" r="1.15"/><circle cx="582.0" cy="472.2" r="1.15"/><circle cx="578.8" cy="473.2" r="1.15"/><circle cx="580.5" cy="462.6" r="1.15"/><circle cx="577.9" cy="466.9" r="1.15"/><circle cx="582.2" cy="458.6" r="1.15"/><circle cx="584.5" cy="453.7" r="1.15"/><circle cx="579.8" cy="469.7" r="1.15"/><circle cx="579.4" cy="462.3" r="1.15"/><circle cx="584.8" cy="459.9" r="1.15"/><circle cx="584.1" cy="451.3" r="1.15"/><circle cx="577.8" cy="471.2" r="1.15"/><circle cx="580.2" cy="461.4" r="1.15"/><circle cx="583.0" cy="463.6" r="1.15"/><circle cx="581.3" cy="465.7" r="1.15"/><circle cx="579.9" cy="468.4" r="1.15"/><circle cx="582.0" cy="472.1" r="1.15"/><circle cx="584.7" cy="472.5" r="1.15"/><circle cx="579.9" cy="464.3" r="1.15"/><circle cx="578.0" cy="467.3" r="1.15"/><circle cx="581.0" cy="462.0" r="1.15"/><circle cx="577.2" cy="469.8" r="1.15"/><circle cx="578.0" cy="468.5" r="1.15"/><circle cx="576.6" cy="470.6" r="1.15"/><circle cx="583.9" cy="459.8" r="1.15"/><circle cx="584.2" cy="458.3" r="1.15"/><circle cx="581.5" cy="467.7" r="1.15"/><circle cx="581.5" cy="468.8" r="1.15"/><circle cx="580.7" cy="471.9" r="1.15"/><circle cx="577.0" cy="472.8" r="1.15"/><circle cx="578.9" cy="468.4" r="1.15"/><circle cx="577.7" cy="466.7" r="1.15"/><circle cx="583.0" cy="453.5" r="1.15"/><circle cx="582.1" cy="454.8" r="1.15"/><circle cx="584.1" cy="451.8" r="1.15"/><circle cx="584.5" cy="462.4" r="1.15"/><circle cx="581.9" cy="468.2" r="1.15"/><circle cx="585.1" cy="461.6" r="1.15"/><circle cx="584.7" cy="457.6" r="1.15"/><circle cx="580.9" cy="466.8" r="1.15"/><circle cx="582.9" cy="454.8" r="1.15"/><circle cx="578.3" cy="472.1" r="1.15"/><circle cx="579.1" cy="470.7" r="1.15"/><circle cx="577.7" cy="467.1" r="1.15"/><circle cx="582.6" cy="466.2" r="1.15"/><circle cx="577.0" cy="469.3" r="1.15"/><circle cx="582.6" cy="468.5" r="1.15"/><circle cx="580.4" cy="464.0" r="1.15"/><circle cx="584.9" cy="451.4" r="1.15"/><circle cx="578.7" cy="468.9" r="1.15"/><circle cx="580.0" cy="465.1" r="1.15"/><circle cx="584.4" cy="460.1" r="1.15"/><circle cx="582.7" cy="473.2" r="1.15"/><circle cx="583.0" cy="469.4" r="1.15"/><circle cx="583.7" cy="469.8" r="1.15"/><circle cx="579.2" cy="473.4" r="1.15"/><circle cx="584.2" cy="457.5" r="1.15"/><circle cx="577.6" cy="472.8" r="1.15"/><circle cx="583.2" cy="473.0" r="1.15"/><circle cx="582.5" cy="465.2" r="1.15"/><circle cx="582.9" cy="456.6" r="1.15"/><circle cx="582.1" cy="464.3" r="1.15"/><circle cx="576.7" cy="473.4" r="1.15"/><circle cx="578.4" cy="467.6" r="1.15"/><circle cx="580.2" cy="472.7" r="1.15"/><circle cx="583.7" cy="463.9" r="1.15"/><circle cx="575.9" cy="473.0" r="1.15"/><circle cx="583.1" cy="451.5" r="1.15"/><circle cx="580.1" cy="463.8" r="1.15"/><circle cx="581.9" cy="462.2" r="1.15"/><circle cx="578.6" cy="471.8" r="1.15"/><circle cx="579.7" cy="466.4" r="1.15"/><circle cx="581.5" cy="473.3" r="1.15"/><circle cx="577.4" cy="472.6" r="1.15"/><circle cx="582.6" cy="465.5" r="1.15"/><circle cx="582.8" cy="456.8" r="1.15"/><circle cx="581.1" cy="469.7" r="1.15"/><circle cx="584.1" cy="473.5" r="1.15"/><circle cx="575.5" cy="473.3" r="1.15"/><circle cx="583.4" cy="453.5" r="1.15"/><circle cx="583.9" cy="451.4" r="1.15"/><circle cx="584.4" cy="459.9" r="1.15"/><circle cx="580.1" cy="466.5" r="1.15"/><circle cx="579.7" cy="467.2" r="1.15"/><circle cx="579.3" cy="468.6" r="1.15"/><circle cx="580.0" cy="471.2" r="1.15"/><circle cx="580.7" cy="466.7" r="1.15"/><circle cx="582.0" cy="473.2" r="1.15"/><circle cx="584.1" cy="458.8" r="1.15"/><circle cx="578.0" cy="465.5" r="1.15"/><circle cx="580.6" cy="462.0" r="1.15"/><circle cx="581.1" cy="457.1" r="1.15"/><circle cx="581.4" cy="467.7" r="1.15"/><circle cx="585.0" cy="457.6" r="1.15"/><circle cx="582.7" cy="465.7" r="1.15"/><circle cx="580.2" cy="463.4" r="1.15"/><circle cx="583.4" cy="454.1" r="1.15"/><circle cx="584.5" cy="459.6" r="1.15"/><circle cx="580.1" cy="460.5" r="1.15"/><circle cx="581.9" cy="461.8" r="1.15"/><circle cx="581.8" cy="464.6" r="1.15"/><circle cx="582.7" cy="471.7" r="1.15"/><circle cx="582.9" cy="456.3" r="1.15"/><circle cx="578.4" cy="473.3" r="1.15"/><circle cx="582.7" cy="455.2" r="1.15"/><circle cx="576.2" cy="471.6" r="1.15"/><circle cx="579.8" cy="471.6" r="1.15"/><circle cx="583.5" cy="465.9" r="1.15"/><circle cx="582.9" cy="470.2" r="1.15"/><circle cx="584.5" cy="471.8" r="1.15"/><circle cx="581.2" cy="460.9" r="1.15"/><circle cx="576.6" cy="470.4" r="1.15"/><circle cx="581.1" cy="466.8" r="1.15"/><circle cx="583.6" cy="451.9" r="1.15"/><circle cx="579.4" cy="465.8" r="1.15"/><circle cx="583.5" cy="458.1" r="1.15"/><circle cx="577.5" cy="473.1" r="1.15"/><circle cx="582.3" cy="457.8" r="1.15"/><circle cx="577.6" cy="472.5" r="1.15"/><circle cx="577.4" cy="471.7" r="1.15"/><circle cx="581.2" cy="461.6" r="1.15"/><circle cx="580.8" cy="473.0" r="1.15"/><circle cx="584.4" cy="458.3" r="1.15"/><circle cx="580.3" cy="473.3" r="1.15"/><circle cx="583.0" cy="454.4" r="1.15"/><circle cx="584.0" cy="470.8" r="1.15"/><circle cx="582.2" cy="454.9" r="1.15"/><circle cx="583.8" cy="459.3" r="1.15"/><circle cx="585.1" cy="457.7" r="1.15"/><circle cx="581.4" cy="471.8" r="1.15"/><circle cx="585.1" cy="450.8" r="1.15"/><circle cx="583.4" cy="384.1" r="1.15"/><circle cx="577.0" cy="431.5" r="1.15"/><circle cx="582.9" cy="433.1" r="1.15"/><circle cx="583.8" cy="435.4" r="1.15"/><circle cx="584.5" cy="439.8" r="1.15"/><circle cx="573.3" cy="442.3" r="1.15"/><circle cx="591.6" cy="441.9" r="1.15"/><circle cx="579.7" cy="445.8" r="1.15"/><circle cx="582.5" cy="448.1" r="1.15"/><circle cx="598.0" cy="459.7" r="1.15"/><circle cx="596.0" cy="462.5" r="1.15"/><circle cx="602.8" cy="466.6" r="1.15"/><circle cx="598.9" cy="471.2" r="1.15"/><circle cx="622.5" cy="471.2" r="1.15"/><circle cx="638.5" cy="470.0" r="1.15"/><circle cx="540.4" cy="466.1" r="1.15"/><circle cx="541.3" cy="467.4" r="1.15"/><circle cx="538.8" cy="470.6" r="1.15"/><circle cx="545.9" cy="470.3" r="1.15"/><circle cx="561.2" cy="472.3" r="1.15"/><circle cx="609.2" cy="472.1" r="1.15"/><circle cx="592.1" cy="456.2" r="1.15"/><circle cx="590.9" cy="462.0" r="1.15"/><circle cx="593.2" cy="465.4" r="1.15"/><circle cx="574.4" cy="470.7" r="1.15"/><circle cx="593.6" cy="471.9" r="1.15"/><circle cx="571.7" cy="470.4" r="1.15"/><circle cx="600.3" cy="470.3" r="1.15"/><circle cx="587.3" cy="472.4" r="1.15"/><circle cx="592.9" cy="470.9" r="1.15"/><circle cx="595.8" cy="470.7" r="1.15"/><circle cx="585.3" cy="470.1" r="1.15"/><circle cx="584.0" cy="471.5" r="1.15"/><circle cx="589.6" cy="470.6" r="1.15"/><circle cx="588.0" cy="470.2" r="1.15"/><circle cx="577.9" cy="470.3" r="1.15"/><circle cx="597.3" cy="471.7" r="1.15"/><circle cx="570.1" cy="471.1" r="1.15"/><circle cx="589.0" cy="470.1" r="1.15"/><circle cx="587.1" cy="470.8" r="1.15"/><circle cx="593.5" cy="472.2" r="1.15"/><circle cx="590.6" cy="471.5" r="1.15"/><circle cx="576.1" cy="471.9" r="1.15"/><circle cx="580.8" cy="470.7" r="1.15"/><circle cx="586.9" cy="471.8" r="1.15"/><circle cx="571.0" cy="470.6" r="1.15"/><circle cx="593.3" cy="470.5" r="1.15"/><circle cx="594.4" cy="472.5" r="1.15"/><circle cx="578.2" cy="471.4" r="1.15"/><circle cx="578.7" cy="470.5" r="1.15"/><circle cx="575.8" cy="472.6" r="1.15"/><circle cx="583.7" cy="472.5" r="1.15"/><circle cx="570.1" cy="471.1" r="1.15"/><circle cx="588.6" cy="471.2" r="1.15"/><circle cx="590.3" cy="467.9" r="1.15"/><circle cx="593.4" cy="470.1" r="1.15"/><circle cx="591.3" cy="471.3" r="1.15"/><circle cx="593.1" cy="469.6" r="1.15"/><circle cx="593.8" cy="467.0" r="1.15"/><circle cx="591.7" cy="467.6" r="1.15"/><circle cx="591.6" cy="466.4" r="1.15"/><circle cx="591.2" cy="467.7" r="1.15"/><circle cx="594.8" cy="465.9" r="1.15"/><circle cx="593.4" cy="465.0" r="1.15"/><circle cx="596.5" cy="466.0" r="1.15"/><circle cx="592.2" cy="470.4" r="1.15"/><circle cx="594.1" cy="471.6" r="1.15"/><circle cx="591.0" cy="471.8" r="1.15"/><circle cx="594.2" cy="469.4" r="1.15"/><circle cx="596.1" cy="465.9" r="1.15"/><circle cx="593.4" cy="469.8" r="1.15"/><circle cx="592.0" cy="472.2" r="1.15"/><circle cx="590.5" cy="465.3" r="1.15"/><circle cx="591.8" cy="472.6" r="1.15"/></g>
<line x1="584.7" y1="379.5" x2="584.7" y2="477.6" stroke="#a4c8e8" stroke-width="1.2" stroke-dasharray="6.5,2.6"/>
<line x1="589.6" y1="379.5" x2="589.6" y2="477.6" stroke="#a4c8e8" stroke-width="1.2" stroke-dasharray="6.5,2.6"/>
<line x1="533.4" y1="472.6" x2="643.0" y2="472.6" stroke="#a4c8e8" stroke-width="1.2" stroke-dasharray="6.5,2.6"/>
<line x1="533.40" y1="379.50" x2="533.40" y2="477.60" stroke="#222" stroke-width="0.9"/>
<line x1="533.40" y1="477.60" x2="643.00" y2="477.60" stroke="#222" stroke-width="0.9"/>
<line x1="541.80" y1="477.60" x2="541.80" y2="479.20" stroke="#222" stroke-width="0.6"/>
<text x="541.8" y="485.1" font-size="7.2" text-anchor="middle" fill="#4d4d4d">−20</text>
<line x1="564.65" y1="477.60" x2="564.65" y2="479.20" stroke="#222" stroke-width="0.6"/>
<text x="564.6" y="485.1" font-size="7.2" text-anchor="middle" fill="#4d4d4d">−10</text>
<line x1="587.50" y1="477.60" x2="587.50" y2="479.20" stroke="#222" stroke-width="0.6"/>
<text x="587.5" y="485.1" font-size="7.2" text-anchor="middle" fill="#4d4d4d">0</text>
<line x1="610.35" y1="477.60" x2="610.35" y2="479.20" stroke="#222" stroke-width="0.6"/>
<text x="610.4" y="485.1" font-size="7.2" text-anchor="middle" fill="#4d4d4d">10</text>
<line x1="633.20" y1="477.60" x2="633.20" y2="479.20" stroke="#222" stroke-width="0.6"/>
<text x="633.2" y="485.1" font-size="7.2" text-anchor="middle" fill="#4d4d4d">20</text>
<line x1="531.20" y1="473.50" x2="533.40" y2="473.50" stroke="#222" stroke-width="0.7"/>
<text x="530.3" y="476.1" font-size="7.2" text-anchor="end" fill="#4d4d4d">0</text>
<line x1="531.20" y1="444.65" x2="533.40" y2="444.65" stroke="#222" stroke-width="0.7"/>
<text x="530.3" y="447.2" font-size="7.2" text-anchor="end" fill="#4d4d4d">50</text>
<line x1="531.20" y1="415.80" x2="533.40" y2="415.80" stroke="#222" stroke-width="0.7"/>
<text x="530.3" y="418.4" font-size="7.2" text-anchor="end" fill="#4d4d4d">100</text>
<line x1="531.20" y1="386.95" x2="533.40" y2="386.95" stroke="#222" stroke-width="0.7"/>
<text x="530.3" y="389.6" font-size="7.2" text-anchor="end" fill="#4d4d4d">150</text>
<text x="588.2" y="492.6" font-size="7.23" text-anchor="middle" fill="#222">log2FoldChange</text>
<text transform="translate(515.0,428.6) rotate(-90)" font-size="7.23" text-anchor="middle" fill="#222">−log(padj)</text>
<text x="645.6" y="414.9" font-size="7.3" font-weight="bold" fill="#111">Differential</text>
<text x="645.6" y="423.8" font-size="7.3" font-weight="bold" fill="#111">Expression</text>
<circle cx="647.70" cy="432.00" r="1.5" fill="#e4572e" stroke="#c0300c" stroke-width="0.6"/>
<text x="652.0" y="434.5" font-size="7.2" fill="#222">significant</text>
<circle cx="647.70" cy="442.20" r="1.5" fill="#777" stroke="#222" stroke-width="0.6"/>
<text x="652.0" y="444.7" font-size="7.2" fill="#222">none</text>
<text x="0.0" y="519.6" font-size="14.0" font-weight="bold">H</text>
<text x="17.7" y="518.5" font-size="7.3" font-weight="bold">Heatmap of differentially</text>
<text x="17.7" y="527.3" font-size="7.3" font-weight="bold">expressed genes</text>
<rect x="28.10" y="536.60" width="11.70" height="8.70" fill="#c8d2db"/>
<rect x="41.40" y="536.60" width="11.70" height="8.70" fill="#fba75e"/>
<rect x="55.10" y="536.60" width="7.90" height="8.70" fill="#d6a3c9"/>
<rect x="64.70" y="536.60" width="11.70" height="8.70" fill="#a9d9a0"/>
<rect x="28.10" y="546.10" width="3.90" height="8.00" fill="#f8676b"/>
<rect x="32.00" y="546.10" width="3.90" height="8.00" fill="#6ced6c"/>
<rect x="35.90" y="546.10" width="3.90" height="8.00" fill="#6a6cf8"/>
<rect x="41.40" y="546.10" width="3.90" height="8.00" fill="#f8676b"/>
<rect x="45.30" y="546.10" width="3.90" height="8.00" fill="#6ced6c"/>
<rect x="49.20" y="546.10" width="3.90" height="8.00" fill="#6a6cf8"/>
<rect x="55.10" y="546.10" width="3.90" height="8.00" fill="#f8676b"/>
<rect x="59.05" y="546.10" width="3.90" height="8.00" fill="#6a6cf8"/>
<rect x="64.70" y="546.10" width="3.90" height="8.00" fill="#f8676b"/>
<rect x="68.60" y="546.10" width="3.90" height="8.00" fill="#6ced6c"/>
<rect x="72.50" y="546.10" width="3.90" height="8.00" fill="#6a6cf8"/>
<text x="78.2" y="543.4" font-size="7.3" fill="#222">condition</text>
<text x="78.2" y="552.2" font-size="7.3" fill="#222">batch</text>
<path fill="#fac6ac" d="M28.1 555.7h3.9v1.50h-3.9zM55.1 563.0h3.9v1.50h-3.9zM35.9 570.2h3.9v1.50h-3.9zM45.3 573.1h3.9v1.50h-3.9zM59.05 573.1h3.9v1.50h-3.9zM55.1 574.6h3.9v1.50h-3.9zM41.4 576.0h3.9v1.50h-3.9zM32 577.5h3.9v1.50h-3.9zM41.4 580.4h3.9v1.50h-3.9zM55.1 580.4h3.9v1.50h-3.9zM55.1 584.7h3.9v1.50h-3.9zM41.4 586.2h3.9v1.50h-3.9zM55.1 586.2h3.9v1.50h-3.9zM45.3 587.6h3.9v1.50h-3.9zM28.1 590.5h3.9v1.50h-3.9zM41.4 592.0h3.9v1.50h-3.9zM55.1 594.9h3.9v1.50h-3.9zM32 596.3h3.9v1.50h-3.9zM55.1 596.3h3.9v1.50h-3.9zM32 599.2h3.9v1.50h-3.9zM35.9 599.2h3.9v1.50h-3.9zM45.3 600.7h3.9v1.50h-3.9zM41.4 602.1h3.9v1.50h-3.9zM28.1 603.6h3.9v1.50h-3.9zM28.1 605.0h3.9v1.50h-3.9zM41.4 605.0h3.9v1.50h-3.9zM55.1 605.0h3.9v1.50h-3.9zM55.1 606.5h3.9v1.50h-3.9zM28.1 615.2h3.9v1.50h-3.9zM32 615.2h3.9v1.50h-3.9zM35.9 616.6h3.9v1.50h-3.9zM35.9 645.6h3.9v1.50h-3.9zM28.1 648.5h3.9v1.50h-3.9zM32 664.5h3.9v1.50h-3.9zM35.9 679.0h3.9v1.50h-3.9zM32 702.2h3.9v1.50h-3.9zM28.1 706.5h3.9v1.50h-3.9zM32 706.5h3.9v1.50h-3.9zM72.5 706.5h3.9v1.50h-3.9zM32 708.0h3.9v1.50h-3.9zM32 709.4h3.9v1.50h-3.9zM64.7 710.9h3.9v1.50h-3.9zM72.5 712.3h3.9v1.50h-3.9zM32 713.8h3.9v1.50h-3.9zM41.4 718.1h3.9v1.50h-3.9zM68.6 721.0h3.9v1.50h-3.9zM72.5 723.9h3.9v1.50h-3.9zM45.3 726.8h3.9v1.50h-3.9zM32 728.3h3.9v1.50h-3.9zM41.4 728.3h3.9v1.50h-3.9zM72.5 728.3h3.9v1.50h-3.9zM32 729.7h3.9v1.50h-3.9zM45.3 729.7h3.9v1.50h-3.9zM45.3 731.2h3.9v1.50h-3.9zM64.7 731.2h3.9v1.50h-3.9zM59.05 734.1h3.9v1.50h-3.9zM41.4 735.5h3.9v1.50h-3.9zM41.4 737.0h3.9v1.50h-3.9zM68.6 737.0h3.9v1.50h-3.9zM72.5 737.0h3.9v1.50h-3.9zM59.05 741.3h3.9v1.50h-3.9zM59.05 742.8h3.9v1.50h-3.9zM72.5 742.8h3.9v1.50h-3.9zM55.1 744.2h3.9v1.50h-3.9zM41.4 745.7h3.9v1.50h-3.9zM49.2 745.7h3.9v1.50h-3.9zM68.6 745.7h3.9v1.50h-3.9zM45.3 747.1h3.9v1.50h-3.9zM68.6 747.1h3.9v1.50h-3.9zM68.6 748.6h3.9v1.50h-3.9zM45.3 750.0h3.9v1.50h-3.9zM64.7 751.5h3.9v1.50h-3.9zM68.6 751.5h3.9v1.50h-3.9zM55.1 752.9h3.9v1.50h-3.9zM72.5 752.9h3.9v1.50h-3.9zM59.05 754.4h3.9v1.50h-3.9zM64.7 758.7h3.9v1.50h-3.9zM45.3 761.6h3.9v1.50h-3.9zM55.1 770.3h3.9v1.50h-3.9zM59.05 777.6h3.9v1.50h-3.9zM41.4 784.8h3.9v1.50h-3.9zM45.3 792.1h3.9v1.40h-3.9z"/>
<path fill="#f9ede6" d="M32 555.7h3.9v1.50h-3.9zM41.4 557.2h3.9v1.50h-3.9zM49.2 557.2h3.9v1.50h-3.9zM59.05 558.6h3.9v1.50h-3.9zM49.2 568.8h3.9v1.50h-3.9zM45.3 570.2h3.9v1.50h-3.9zM49.2 573.1h3.9v1.50h-3.9zM41.4 574.6h3.9v1.50h-3.9zM45.3 574.6h3.9v1.50h-3.9zM55.1 576.0h3.9v1.50h-3.9zM55.1 577.5h3.9v1.50h-3.9zM49.2 580.4h3.9v1.50h-3.9zM45.3 581.8h3.9v1.50h-3.9zM59.05 581.8h3.9v1.50h-3.9zM59.05 583.3h3.9v1.50h-3.9zM49.2 586.2h3.9v1.50h-3.9zM35.9 587.6h3.9v1.50h-3.9zM35.9 590.5h3.9v1.50h-3.9zM41.4 590.5h3.9v1.50h-3.9zM32 593.4h3.9v1.50h-3.9zM59.05 596.3h3.9v1.50h-3.9zM41.4 600.7h3.9v1.50h-3.9zM59.05 600.7h3.9v1.50h-3.9zM55.1 602.1h3.9v1.50h-3.9zM32 606.5h3.9v1.50h-3.9zM45.3 606.5h3.9v1.50h-3.9zM35.9 607.9h3.9v1.50h-3.9zM45.3 607.9h3.9v1.50h-3.9zM32 609.4h3.9v1.50h-3.9zM64.7 609.4h3.9v1.50h-3.9zM59.05 636.9h3.9v1.50h-3.9zM49.2 638.4h3.9v1.50h-3.9zM28.1 639.8h3.9v1.50h-3.9zM59.05 639.8h3.9v1.50h-3.9zM72.5 642.7h3.9v1.50h-3.9zM49.2 658.7h3.9v1.50h-3.9zM59.05 667.4h3.9v1.50h-3.9zM45.3 692.0h3.9v1.50h-3.9zM45.3 693.5h3.9v1.50h-3.9zM55.1 694.9h3.9v1.50h-3.9zM64.7 705.1h3.9v1.50h-3.9zM64.7 706.5h3.9v1.50h-3.9zM41.4 708.0h3.9v1.50h-3.9zM45.3 708.0h3.9v1.50h-3.9zM49.2 708.0h3.9v1.50h-3.9zM68.6 709.4h3.9v1.50h-3.9zM68.6 712.3h3.9v1.50h-3.9zM45.3 713.8h3.9v1.50h-3.9zM28.1 715.2h3.9v1.50h-3.9zM68.6 715.2h3.9v1.50h-3.9zM72.5 716.7h3.9v1.50h-3.9zM45.3 718.1h3.9v1.50h-3.9zM49.2 721.0h3.9v1.50h-3.9zM64.7 722.5h3.9v1.50h-3.9zM49.2 723.9h3.9v1.50h-3.9zM41.4 725.4h3.9v1.50h-3.9zM49.2 725.4h3.9v1.50h-3.9zM49.2 726.8h3.9v1.50h-3.9zM64.7 726.8h3.9v1.50h-3.9zM72.5 729.7h3.9v1.50h-3.9zM72.5 731.2h3.9v1.50h-3.9zM45.3 732.6h3.9v1.50h-3.9zM41.4 734.1h3.9v1.50h-3.9zM45.3 734.1h3.9v1.50h-3.9zM72.5 735.5h3.9v1.50h-3.9zM45.3 737.0h3.9v1.50h-3.9zM41.4 738.4h3.9v1.50h-3.9zM49.2 738.4h3.9v1.50h-3.9zM49.2 739.9h3.9v1.50h-3.9zM64.7 739.9h3.9v1.50h-3.9zM64.7 741.3h3.9v1.50h-3.9zM68.6 741.3h3.9v1.50h-3.9zM45.3 744.2h3.9v1.50h-3.9zM68.6 744.2h3.9v1.50h-3.9zM64.7 745.7h3.9v1.50h-3.9zM49.2 747.1h3.9v1.50h-3.9zM49.2 751.5h3.9v1.50h-3.9zM41.4 752.9h3.9v1.50h-3.9zM41.4 755.8h3.9v1.50h-3.9zM45.3 755.8h3.9v1.50h-3.9zM49.2 757.3h3.9v1.50h-3.9zM49.2 761.6h3.9v1.50h-3.9zM41.4 767.4h3.9v1.50h-3.9zM49.2 767.4h3.9v1.50h-3.9zM45.3 770.3h3.9v1.50h-3.9zM45.3 771.8h3.9v1.50h-3.9zM41.4 777.6h3.9v1.50h-3.9zM64.7 784.8h3.9v1.50h-3.9zM49.2 789.2h3.9v1.50h-3.9z"/>
<path fill="#f19f7e" d="M35.9 555.7h3.9v1.50h-3.9zM55.1 555.7h3.9v1.50h-3.9zM32 557.2h3.9v1.50h-3.9zM59.05 560.1h3.9v1.50h-3.9zM28.1 564.4h3.9v1.50h-3.9zM32 564.4h3.9v1.50h-3.9zM28.1 565.9h3.9v1.50h-3.9zM41.4 570.2h3.9v1.50h-3.9zM32 573.1h3.9v1.50h-3.9zM32 576.0h3.9v1.50h-3.9zM32 581.8h3.9v1.50h-3.9zM49.2 581.8h3.9v1.50h-3.9zM35.9 583.3h3.9v1.50h-3.9zM49.2 587.6h3.9v1.50h-3.9zM59.05 590.5h3.9v1.50h-3.9zM49.2 592.0h3.9v1.50h-3.9zM35.9 593.4h3.9v1.50h-3.9zM41.4 593.4h3.9v1.50h-3.9zM45.3 593.4h3.9v1.50h-3.9zM49.2 593.4h3.9v1.50h-3.9zM35.9 594.9h3.9v1.50h-3.9zM45.3 596.3h3.9v1.50h-3.9zM45.3 603.6h3.9v1.50h-3.9zM55.1 603.6h3.9v1.50h-3.9zM68.6 606.5h3.9v1.50h-3.9zM64.7 610.8h3.9v1.50h-3.9zM32 616.6h3.9v1.50h-3.9zM32 622.4h3.9v1.50h-3.9zM35.9 622.4h3.9v1.50h-3.9zM28.1 623.9h3.9v1.50h-3.9zM35.9 623.9h3.9v1.50h-3.9zM35.9 626.8h3.9v1.50h-3.9zM35.9 631.1h3.9v1.50h-3.9zM28.1 632.6h3.9v1.50h-3.9zM32 634.0h3.9v1.50h-3.9zM35.9 639.8h3.9v1.50h-3.9zM32 648.5h3.9v1.50h-3.9zM28.1 652.9h3.9v1.50h-3.9zM28.1 657.2h3.9v1.50h-3.9zM28.1 658.7h3.9v1.50h-3.9zM32 660.1h3.9v1.50h-3.9zM28.1 664.5h3.9v1.50h-3.9zM35.9 673.2h3.9v1.50h-3.9zM32 679.0h3.9v1.50h-3.9zM28.1 710.9h3.9v1.50h-3.9zM32 712.3h3.9v1.50h-3.9zM35.9 712.3h3.9v1.50h-3.9zM32 716.7h3.9v1.50h-3.9zM28.1 718.1h3.9v1.50h-3.9zM35.9 718.1h3.9v1.50h-3.9zM28.1 719.6h3.9v1.50h-3.9zM35.9 725.4h3.9v1.50h-3.9zM28.1 726.8h3.9v1.50h-3.9zM41.4 726.8h3.9v1.50h-3.9zM59.05 731.2h3.9v1.50h-3.9zM55.1 732.6h3.9v1.50h-3.9zM68.6 732.6h3.9v1.50h-3.9zM64.7 738.4h3.9v1.50h-3.9zM68.6 738.4h3.9v1.50h-3.9zM59.05 744.2h3.9v1.50h-3.9zM59.05 745.7h3.9v1.50h-3.9zM72.5 745.7h3.9v1.50h-3.9zM41.4 747.1h3.9v1.50h-3.9zM68.6 754.4h3.9v1.50h-3.9zM68.6 757.3h3.9v1.50h-3.9zM68.6 758.7h3.9v1.50h-3.9zM72.5 784.8h3.9v1.50h-3.9z"/>
<path fill="#ddeaf2" d="M41.4 555.7h3.9v1.50h-3.9zM45.3 558.6h3.9v1.50h-3.9zM49.2 560.1h3.9v1.50h-3.9zM41.4 565.9h3.9v1.50h-3.9zM45.3 578.9h3.9v1.50h-3.9zM49.2 578.9h3.9v1.50h-3.9zM41.4 583.3h3.9v1.50h-3.9zM28.1 602.1h3.9v1.50h-3.9zM49.2 606.5h3.9v1.50h-3.9zM41.4 609.4h3.9v1.50h-3.9zM49.2 610.8h3.9v1.50h-3.9zM49.2 612.3h3.9v1.50h-3.9zM64.7 616.6h3.9v1.50h-3.9zM59.05 618.1h3.9v1.50h-3.9zM59.05 619.5h3.9v1.50h-3.9zM64.7 626.8h3.9v1.50h-3.9zM59.05 631.1h3.9v1.50h-3.9zM55.1 632.6h3.9v1.50h-3.9zM59.05 632.6h3.9v1.50h-3.9zM49.2 642.7h3.9v1.50h-3.9zM45.3 645.6h3.9v1.50h-3.9zM41.4 650.0h3.9v1.50h-3.9zM55.1 650.0h3.9v1.50h-3.9zM59.05 652.9h3.9v1.50h-3.9zM41.4 658.7h3.9v1.50h-3.9zM49.2 660.1h3.9v1.50h-3.9zM64.7 664.5h3.9v1.50h-3.9zM45.3 665.9h3.9v1.50h-3.9zM49.2 665.9h3.9v1.50h-3.9zM72.5 667.4h3.9v1.50h-3.9zM41.4 671.7h3.9v1.50h-3.9zM45.3 676.1h3.9v1.50h-3.9zM64.7 676.1h3.9v1.50h-3.9zM72.5 676.1h3.9v1.50h-3.9zM41.4 677.5h3.9v1.50h-3.9zM72.5 679.0h3.9v1.50h-3.9zM59.05 680.4h3.9v1.50h-3.9zM45.3 687.7h3.9v1.50h-3.9zM55.1 687.7h3.9v1.50h-3.9zM49.2 689.1h3.9v1.50h-3.9zM41.4 694.9h3.9v1.50h-3.9zM49.2 694.9h3.9v1.50h-3.9zM55.1 697.8h3.9v1.50h-3.9zM59.05 700.7h3.9v1.50h-3.9zM64.7 700.7h3.9v1.50h-3.9zM72.5 703.6h3.9v1.50h-3.9zM49.2 705.1h3.9v1.50h-3.9zM68.6 705.1h3.9v1.50h-3.9zM72.5 705.1h3.9v1.50h-3.9zM64.7 709.4h3.9v1.50h-3.9zM72.5 709.4h3.9v1.50h-3.9zM41.4 710.9h3.9v1.50h-3.9zM49.2 713.8h3.9v1.50h-3.9zM68.6 713.8h3.9v1.50h-3.9zM32 715.2h3.9v1.50h-3.9zM45.3 715.2h3.9v1.50h-3.9zM49.2 715.2h3.9v1.50h-3.9zM64.7 715.2h3.9v1.50h-3.9zM41.4 716.7h3.9v1.50h-3.9zM72.5 718.1h3.9v1.50h-3.9zM68.6 735.5h3.9v1.50h-3.9zM41.4 742.8h3.9v1.50h-3.9zM49.2 742.8h3.9v1.50h-3.9zM41.4 754.4h3.9v1.50h-3.9zM49.2 754.4h3.9v1.50h-3.9zM49.2 758.7h3.9v1.50h-3.9zM59.05 761.6h3.9v1.50h-3.9zM59.05 767.4h3.9v1.50h-3.9zM45.3 768.9h3.9v1.50h-3.9zM49.2 770.3h3.9v1.50h-3.9zM45.3 773.2h3.9v1.50h-3.9zM41.4 774.7h3.9v1.50h-3.9zM49.2 774.7h3.9v1.50h-3.9zM59.05 774.7h3.9v1.50h-3.9zM49.2 779.0h3.9v1.50h-3.9zM59.05 779.0h3.9v1.50h-3.9zM55.1 786.3h3.9v1.50h-3.9zM59.05 786.3h3.9v1.50h-3.9zM49.2 787.7h3.9v1.50h-3.9zM59.05 789.2h3.9v1.50h-3.9zM59.05 790.6h3.9v1.50h-3.9z"/>
<path fill="#eaf1f5" d="M45.3 555.7h3.9v1.50h-3.9zM49.2 561.5h3.9v1.50h-3.9zM45.3 564.4h3.9v1.50h-3.9zM45.3 568.8h3.9v1.50h-3.9zM49.2 571.7h3.9v1.50h-3.9zM55.1 571.7h3.9v1.50h-3.9zM59.05 578.9h3.9v1.50h-3.9zM41.4 584.7h3.9v1.50h-3.9zM35.9 589.1h3.9v1.50h-3.9zM32 592.0h3.9v1.50h-3.9zM32 602.1h3.9v1.50h-3.9zM35.9 602.1h3.9v1.50h-3.9zM59.05 602.1h3.9v1.50h-3.9zM32 603.6h3.9v1.50h-3.9zM28.1 606.5h3.9v1.50h-3.9zM35.9 606.5h3.9v1.50h-3.9zM49.2 607.9h3.9v1.50h-3.9zM45.3 609.4h3.9v1.50h-3.9zM35.9 610.8h3.9v1.50h-3.9zM59.05 610.8h3.9v1.50h-3.9zM45.3 621.0h3.9v1.50h-3.9zM55.1 622.4h3.9v1.50h-3.9zM45.3 626.8h3.9v1.50h-3.9zM49.2 626.8h3.9v1.50h-3.9zM55.1 631.1h3.9v1.50h-3.9zM45.3 632.6h3.9v1.50h-3.9zM41.4 635.5h3.9v1.50h-3.9zM45.3 635.5h3.9v1.50h-3.9zM59.05 642.7h3.9v1.50h-3.9zM64.7 642.7h3.9v1.50h-3.9zM55.1 644.2h3.9v1.50h-3.9zM55.1 648.5h3.9v1.50h-3.9zM55.1 657.2h3.9v1.50h-3.9zM41.4 661.6h3.9v1.50h-3.9zM41.4 676.1h3.9v1.50h-3.9zM49.2 676.1h3.9v1.50h-3.9zM41.4 687.7h3.9v1.50h-3.9zM59.05 690.6h3.9v1.50h-3.9zM55.1 693.5h3.9v1.50h-3.9zM59.05 693.5h3.9v1.50h-3.9zM59.05 694.9h3.9v1.50h-3.9zM64.7 697.8h3.9v1.50h-3.9zM72.5 697.8h3.9v1.50h-3.9zM41.4 700.7h3.9v1.50h-3.9zM64.7 713.8h3.9v1.50h-3.9zM41.4 715.2h3.9v1.50h-3.9zM64.7 718.1h3.9v1.50h-3.9zM68.6 718.1h3.9v1.50h-3.9zM45.3 719.6h3.9v1.50h-3.9zM45.3 722.5h3.9v1.50h-3.9zM68.6 726.8h3.9v1.50h-3.9zM45.3 738.4h3.9v1.50h-3.9zM41.4 739.9h3.9v1.50h-3.9zM45.3 742.8h3.9v1.50h-3.9zM41.4 744.2h3.9v1.50h-3.9zM68.6 750.0h3.9v1.50h-3.9zM41.4 751.5h3.9v1.50h-3.9zM45.3 752.9h3.9v1.50h-3.9zM45.3 754.4h3.9v1.50h-3.9zM55.1 758.7h3.9v1.50h-3.9zM59.05 760.2h3.9v1.50h-3.9zM55.1 761.6h3.9v1.50h-3.9zM59.05 763.1h3.9v1.50h-3.9zM41.4 764.5h3.9v1.50h-3.9zM59.05 764.5h3.9v1.50h-3.9zM41.4 766.0h3.9v1.50h-3.9zM45.3 766.0h3.9v1.50h-3.9zM59.05 766.0h3.9v1.50h-3.9zM45.3 767.4h3.9v1.50h-3.9zM41.4 768.9h3.9v1.50h-3.9zM59.05 768.9h3.9v1.50h-3.9zM41.4 773.2h3.9v1.50h-3.9zM41.4 779.0h3.9v1.50h-3.9zM55.1 779.0h3.9v1.50h-3.9zM49.2 783.4h3.9v1.50h-3.9zM45.3 786.3h3.9v1.50h-3.9zM45.3 790.6h3.9v1.50h-3.9z"/>
<path fill="#b9d9e9" d="M49.2 555.7h3.9v1.50h-3.9zM41.4 561.5h3.9v1.50h-3.9zM45.3 583.3h3.9v1.50h-3.9zM49.2 583.3h3.9v1.50h-3.9zM32 610.8h3.9v1.50h-3.9zM41.4 612.3h3.9v1.50h-3.9zM45.3 612.3h3.9v1.50h-3.9zM59.05 612.3h3.9v1.50h-3.9zM41.4 613.7h3.9v1.50h-3.9zM55.1 613.7h3.9v1.50h-3.9zM55.1 615.2h3.9v1.50h-3.9zM68.6 615.2h3.9v1.50h-3.9zM45.3 616.6h3.9v1.50h-3.9zM59.05 616.6h3.9v1.50h-3.9zM72.5 616.6h3.9v1.50h-3.9zM45.3 618.1h3.9v1.50h-3.9zM55.1 618.1h3.9v1.50h-3.9zM55.1 619.5h3.9v1.50h-3.9zM41.4 621.0h3.9v1.50h-3.9zM41.4 623.9h3.9v1.50h-3.9zM45.3 623.9h3.9v1.50h-3.9zM45.3 625.3h3.9v1.50h-3.9zM41.4 626.8h3.9v1.50h-3.9zM64.7 629.7h3.9v1.50h-3.9zM68.6 629.7h3.9v1.50h-3.9zM72.5 629.7h3.9v1.50h-3.9zM41.4 632.6h3.9v1.50h-3.9zM64.7 635.5h3.9v1.50h-3.9zM41.4 636.9h3.9v1.50h-3.9zM68.6 638.4h3.9v1.50h-3.9zM41.4 642.7h3.9v1.50h-3.9zM41.4 648.5h3.9v1.50h-3.9zM59.05 650.0h3.9v1.50h-3.9zM45.3 651.4h3.9v1.50h-3.9zM55.1 652.9h3.9v1.50h-3.9zM45.3 654.3h3.9v1.50h-3.9zM68.6 654.3h3.9v1.50h-3.9zM41.4 655.8h3.9v1.50h-3.9zM45.3 655.8h3.9v1.50h-3.9zM49.2 657.2h3.9v1.50h-3.9zM41.4 660.1h3.9v1.50h-3.9zM45.3 660.1h3.9v1.50h-3.9zM59.05 660.1h3.9v1.50h-3.9zM41.4 663.0h3.9v1.50h-3.9zM59.05 663.0h3.9v1.50h-3.9zM68.6 664.5h3.9v1.50h-3.9zM68.6 667.4h3.9v1.50h-3.9zM55.1 668.8h3.9v1.50h-3.9zM64.7 668.8h3.9v1.50h-3.9zM49.2 674.6h3.9v1.50h-3.9zM59.05 677.5h3.9v1.50h-3.9zM49.2 679.0h3.9v1.50h-3.9zM68.6 679.0h3.9v1.50h-3.9zM72.5 680.4h3.9v1.50h-3.9zM55.1 681.9h3.9v1.50h-3.9zM59.05 683.3h3.9v1.50h-3.9zM68.6 683.3h3.9v1.50h-3.9zM41.4 686.2h3.9v1.50h-3.9zM55.1 686.2h3.9v1.50h-3.9zM59.05 686.2h3.9v1.50h-3.9zM55.1 689.1h3.9v1.50h-3.9zM59.05 689.1h3.9v1.50h-3.9zM49.2 692.0h3.9v1.50h-3.9zM55.1 692.0h3.9v1.50h-3.9zM68.6 692.0h3.9v1.50h-3.9zM41.4 693.5h3.9v1.50h-3.9zM45.3 694.9h3.9v1.50h-3.9zM59.05 696.4h3.9v1.50h-3.9zM64.7 696.4h3.9v1.50h-3.9zM49.2 697.8h3.9v1.50h-3.9zM68.6 697.8h3.9v1.50h-3.9zM55.1 700.7h3.9v1.50h-3.9zM59.05 702.2h3.9v1.50h-3.9zM64.7 703.6h3.9v1.50h-3.9zM41.4 709.4h3.9v1.50h-3.9zM41.4 712.3h3.9v1.50h-3.9zM32 732.6h3.9v1.50h-3.9zM28.1 748.6h3.9v1.50h-3.9zM32 754.4h3.9v1.50h-3.9zM59.05 755.8h3.9v1.50h-3.9zM41.4 758.7h3.9v1.50h-3.9zM32 760.2h3.9v1.50h-3.9zM41.4 760.2h3.9v1.50h-3.9zM49.2 760.2h3.9v1.50h-3.9zM35.9 761.6h3.9v1.50h-3.9zM32 763.1h3.9v1.50h-3.9zM41.4 763.1h3.9v1.50h-3.9zM49.2 763.1h3.9v1.50h-3.9zM55.1 764.5h3.9v1.50h-3.9zM28.1 777.6h3.9v1.50h-3.9zM35.9 777.6h3.9v1.50h-3.9zM49.2 777.6h3.9v1.50h-3.9zM41.4 780.5h3.9v1.50h-3.9zM55.1 780.5h3.9v1.50h-3.9zM59.05 781.9h3.9v1.50h-3.9zM28.1 784.8h3.9v1.50h-3.9zM55.1 787.7h3.9v1.50h-3.9zM49.2 790.6h3.9v1.50h-3.9zM55.1 790.6h3.9v1.50h-3.9zM28.1 792.1h3.9v1.40h-3.9zM55.1 792.1h3.9v1.40h-3.9z"/>
<path fill="#f6b394" d="M59.05 555.7h3.9v1.50h-3.9zM35.9 557.2h3.9v1.50h-3.9zM28.1 561.5h3.9v1.50h-3.9zM35.9 563.0h3.9v1.50h-3.9zM55.1 564.4h3.9v1.50h-3.9zM35.9 565.9h3.9v1.50h-3.9zM55.1 568.8h3.9v1.50h-3.9zM28.1 570.2h3.9v1.50h-3.9zM55.1 570.2h3.9v1.50h-3.9zM35.9 571.7h3.9v1.50h-3.9zM59.05 571.7h3.9v1.50h-3.9zM55.1 573.1h3.9v1.50h-3.9zM28.1 574.6h3.9v1.50h-3.9zM32 574.6h3.9v1.50h-3.9zM59.05 574.6h3.9v1.50h-3.9zM28.1 576.0h3.9v1.50h-3.9zM35.9 577.5h3.9v1.50h-3.9zM59.05 580.4h3.9v1.50h-3.9zM28.1 583.3h3.9v1.50h-3.9zM32 584.7h3.9v1.50h-3.9zM35.9 584.7h3.9v1.50h-3.9zM59.05 586.2h3.9v1.50h-3.9zM59.05 589.1h3.9v1.50h-3.9zM55.1 590.5h3.9v1.50h-3.9zM28.1 592.0h3.9v1.50h-3.9zM45.3 592.0h3.9v1.50h-3.9zM59.05 592.0h3.9v1.50h-3.9zM59.05 594.9h3.9v1.50h-3.9zM35.9 596.3h3.9v1.50h-3.9zM55.1 597.8h3.9v1.50h-3.9zM28.1 599.2h3.9v1.50h-3.9zM41.4 599.2h3.9v1.50h-3.9zM45.3 599.2h3.9v1.50h-3.9zM49.2 599.2h3.9v1.50h-3.9zM59.05 599.2h3.9v1.50h-3.9zM41.4 603.6h3.9v1.50h-3.9zM32 605.0h3.9v1.50h-3.9zM49.2 605.0h3.9v1.50h-3.9zM59.05 605.0h3.9v1.50h-3.9zM68.6 609.4h3.9v1.50h-3.9zM68.6 610.8h3.9v1.50h-3.9zM72.5 610.8h3.9v1.50h-3.9zM28.1 616.6h3.9v1.50h-3.9zM28.1 618.1h3.9v1.50h-3.9zM28.1 619.5h3.9v1.50h-3.9zM28.1 626.8h3.9v1.50h-3.9zM28.1 645.6h3.9v1.50h-3.9zM32 657.2h3.9v1.50h-3.9zM28.1 703.6h3.9v1.50h-3.9zM41.4 703.6h3.9v1.50h-3.9zM32 705.1h3.9v1.50h-3.9zM35.9 705.1h3.9v1.50h-3.9zM28.1 708.0h3.9v1.50h-3.9zM72.5 708.0h3.9v1.50h-3.9zM35.9 709.4h3.9v1.50h-3.9zM35.9 710.9h3.9v1.50h-3.9zM72.5 710.9h3.9v1.50h-3.9zM72.5 721.0h3.9v1.50h-3.9zM64.7 728.3h3.9v1.50h-3.9zM41.4 732.6h3.9v1.50h-3.9zM59.05 732.6h3.9v1.50h-3.9zM64.7 734.1h3.9v1.50h-3.9zM72.5 734.1h3.9v1.50h-3.9zM59.05 739.9h3.9v1.50h-3.9zM68.6 739.9h3.9v1.50h-3.9zM72.5 739.9h3.9v1.50h-3.9zM49.2 741.3h3.9v1.50h-3.9zM55.1 741.3h3.9v1.50h-3.9zM45.3 745.7h3.9v1.50h-3.9zM55.1 745.7h3.9v1.50h-3.9zM55.1 747.1h3.9v1.50h-3.9zM72.5 747.1h3.9v1.50h-3.9zM45.3 748.6h3.9v1.50h-3.9zM49.2 748.6h3.9v1.50h-3.9zM64.7 748.6h3.9v1.50h-3.9zM45.3 751.5h3.9v1.50h-3.9zM72.5 751.5h3.9v1.50h-3.9zM64.7 752.9h3.9v1.50h-3.9zM55.1 754.4h3.9v1.50h-3.9zM72.5 754.4h3.9v1.50h-3.9zM72.5 758.7h3.9v1.50h-3.9zM64.7 771.8h3.9v1.50h-3.9zM45.3 784.8h3.9v1.50h-3.9zM55.1 784.8h3.9v1.50h-3.9zM68.6 784.8h3.9v1.50h-3.9zM41.4 792.1h3.9v1.40h-3.9zM49.2 792.1h3.9v1.40h-3.9z"/>
<path fill="#053061" d="M64.7 555.7h3.9v1.50h-3.9zM68.6 555.7h3.9v1.50h-3.9zM72.5 555.7h3.9v1.50h-3.9zM64.7 568.8h3.9v1.50h-3.9zM68.6 568.8h3.9v1.50h-3.9zM72.5 568.8h3.9v1.50h-3.9zM68.6 571.7h3.9v1.50h-3.9zM64.7 573.1h3.9v1.50h-3.9zM68.6 573.1h3.9v1.50h-3.9zM68.6 574.6h3.9v1.50h-3.9zM68.6 577.5h3.9v1.50h-3.9zM72.5 577.5h3.9v1.50h-3.9zM68.6 583.3h3.9v1.50h-3.9zM72.5 584.7h3.9v1.50h-3.9zM68.6 593.4h3.9v1.50h-3.9zM72.5 593.4h3.9v1.50h-3.9zM64.7 596.3h3.9v1.50h-3.9zM68.6 596.3h3.9v1.50h-3.9zM64.7 600.7h3.9v1.50h-3.9zM68.6 600.7h3.9v1.50h-3.9zM72.5 600.7h3.9v1.50h-3.9zM59.05 703.6h3.9v1.50h-3.9zM55.1 709.4h3.9v1.50h-3.9zM59.05 712.3h3.9v1.50h-3.9zM55.1 721.0h3.9v1.50h-3.9zM59.05 721.0h3.9v1.50h-3.9zM28.1 734.1h3.9v1.50h-3.9zM35.9 776.1h3.9v1.50h-3.9z"/>
<path fill="#c53e3d" d="M28.1 557.2h3.9v1.50h-3.9zM59.05 561.5h3.9v1.50h-3.9zM28.1 563.0h3.9v1.50h-3.9zM32 563.0h3.9v1.50h-3.9zM28.1 571.7h3.9v1.50h-3.9zM28.1 581.8h3.9v1.50h-3.9zM32 621.0h3.9v1.50h-3.9zM35.9 625.3h3.9v1.50h-3.9zM28.1 635.5h3.9v1.50h-3.9zM32 636.9h3.9v1.50h-3.9zM28.1 638.4h3.9v1.50h-3.9zM32 639.8h3.9v1.50h-3.9zM28.1 641.3h3.9v1.50h-3.9zM35.9 644.2h3.9v1.50h-3.9zM28.1 654.3h3.9v1.50h-3.9zM32 654.3h3.9v1.50h-3.9zM35.9 654.3h3.9v1.50h-3.9zM32 655.8h3.9v1.50h-3.9zM35.9 655.8h3.9v1.50h-3.9zM28.1 661.6h3.9v1.50h-3.9zM32 668.8h3.9v1.50h-3.9zM28.1 670.3h3.9v1.50h-3.9zM28.1 671.7h3.9v1.50h-3.9zM32 674.6h3.9v1.50h-3.9zM35.9 680.4h3.9v1.50h-3.9zM32 681.9h3.9v1.50h-3.9zM32 687.7h3.9v1.50h-3.9zM35.9 689.1h3.9v1.50h-3.9zM28.1 690.6h3.9v1.50h-3.9zM28.1 692.0h3.9v1.50h-3.9zM32 692.0h3.9v1.50h-3.9zM35.9 723.9h3.9v1.50h-3.9zM32 726.8h3.9v1.50h-3.9zM55.1 731.2h3.9v1.50h-3.9zM68.6 755.8h3.9v1.50h-3.9zM64.7 757.3h3.9v1.50h-3.9zM72.5 757.3h3.9v1.50h-3.9zM72.5 766.0h3.9v1.50h-3.9zM64.7 767.4h3.9v1.50h-3.9zM64.7 770.3h3.9v1.50h-3.9zM68.6 770.3h3.9v1.50h-3.9zM68.6 773.2h3.9v1.50h-3.9zM72.5 774.7h3.9v1.50h-3.9zM64.7 776.1h3.9v1.50h-3.9zM72.5 776.1h3.9v1.50h-3.9zM68.6 779.0h3.9v1.50h-3.9zM64.7 780.5h3.9v1.50h-3.9zM64.7 786.3h3.9v1.50h-3.9zM64.7 787.7h3.9v1.50h-3.9zM72.5 787.7h3.9v1.50h-3.9zM68.6 789.2h3.9v1.50h-3.9zM72.5 792.1h3.9v1.40h-3.9z"/>
<path fill="#f7f7f7" d="M45.3 557.2h3.9v1.50h-3.9zM41.4 560.1h3.9v1.50h-3.9zM41.4 563.0h3.9v1.50h-3.9zM59.05 563.0h3.9v1.50h-3.9zM49.2 564.4h3.9v1.50h-3.9zM55.1 565.9h3.9v1.50h-3.9zM45.3 567.3h3.9v1.50h-3.9zM49.2 570.2h3.9v1.50h-3.9zM45.3 571.7h3.9v1.50h-3.9zM49.2 574.6h3.9v1.50h-3.9zM49.2 576.0h3.9v1.50h-3.9zM41.4 577.5h3.9v1.50h-3.9zM49.2 577.5h3.9v1.50h-3.9zM41.4 578.9h3.9v1.50h-3.9zM55.1 578.9h3.9v1.50h-3.9zM28.1 584.7h3.9v1.50h-3.9zM49.2 584.7h3.9v1.50h-3.9zM59.05 587.6h3.9v1.50h-3.9zM32 589.1h3.9v1.50h-3.9zM35.9 597.8h3.9v1.50h-3.9zM49.2 597.8h3.9v1.50h-3.9zM55.1 600.7h3.9v1.50h-3.9zM28.1 607.9h3.9v1.50h-3.9zM32 607.9h3.9v1.50h-3.9zM72.5 607.9h3.9v1.50h-3.9zM28.1 609.4h3.9v1.50h-3.9zM55.1 623.9h3.9v1.50h-3.9zM49.2 635.5h3.9v1.50h-3.9zM45.3 638.4h3.9v1.50h-3.9zM45.3 639.8h3.9v1.50h-3.9zM49.2 639.8h3.9v1.50h-3.9zM68.6 642.7h3.9v1.50h-3.9zM59.05 645.6h3.9v1.50h-3.9zM59.05 648.5h3.9v1.50h-3.9zM59.05 657.2h3.9v1.50h-3.9zM55.1 660.1h3.9v1.50h-3.9zM55.1 664.5h3.9v1.50h-3.9zM68.6 676.1h3.9v1.50h-3.9zM49.2 677.5h3.9v1.50h-3.9zM55.1 690.6h3.9v1.50h-3.9zM49.2 693.5h3.9v1.50h-3.9zM41.4 697.8h3.9v1.50h-3.9zM68.6 703.6h3.9v1.50h-3.9zM41.4 705.1h3.9v1.50h-3.9zM45.3 709.4h3.9v1.50h-3.9zM49.2 709.4h3.9v1.50h-3.9zM45.3 710.9h3.9v1.50h-3.9zM28.1 713.8h3.9v1.50h-3.9zM35.9 713.8h3.9v1.50h-3.9zM35.9 715.2h3.9v1.50h-3.9zM72.5 715.2h3.9v1.50h-3.9zM45.3 716.7h3.9v1.50h-3.9zM49.2 716.7h3.9v1.50h-3.9zM72.5 719.6h3.9v1.50h-3.9zM41.4 721.0h3.9v1.50h-3.9zM45.3 721.0h3.9v1.50h-3.9zM45.3 723.9h3.9v1.50h-3.9zM45.3 725.4h3.9v1.50h-3.9zM64.7 729.7h3.9v1.50h-3.9zM68.6 729.7h3.9v1.50h-3.9zM49.2 734.1h3.9v1.50h-3.9zM49.2 737.0h3.9v1.50h-3.9zM72.5 738.4h3.9v1.50h-3.9zM45.3 739.9h3.9v1.50h-3.9zM68.6 742.8h3.9v1.50h-3.9zM49.2 744.2h3.9v1.50h-3.9zM41.4 750.0h3.9v1.50h-3.9zM49.2 752.9h3.9v1.50h-3.9zM49.2 755.8h3.9v1.50h-3.9zM45.3 757.3h3.9v1.50h-3.9zM45.3 758.7h3.9v1.50h-3.9zM41.4 761.6h3.9v1.50h-3.9zM49.2 764.5h3.9v1.50h-3.9zM49.2 766.0h3.9v1.50h-3.9zM41.4 770.3h3.9v1.50h-3.9zM59.05 773.2h3.9v1.50h-3.9zM49.2 780.5h3.9v1.50h-3.9zM41.4 781.9h3.9v1.50h-3.9zM45.3 781.9h3.9v1.50h-3.9zM49.2 781.9h3.9v1.50h-3.9zM55.1 781.9h3.9v1.50h-3.9zM41.4 783.4h3.9v1.50h-3.9zM41.4 787.7h3.9v1.50h-3.9z"/>
<path fill="#fdd9c4" d="M55.1 557.2h3.9v1.50h-3.9zM41.4 558.6h3.9v1.50h-3.9zM55.1 558.6h3.9v1.50h-3.9zM35.9 564.4h3.9v1.50h-3.9zM59.05 564.4h3.9v1.50h-3.9zM41.4 567.3h3.9v1.50h-3.9zM49.2 567.3h3.9v1.50h-3.9zM59.05 567.3h3.9v1.50h-3.9zM41.4 568.8h3.9v1.50h-3.9zM59.05 568.8h3.9v1.50h-3.9zM59.05 570.2h3.9v1.50h-3.9zM59.05 576.0h3.9v1.50h-3.9zM45.3 584.7h3.9v1.50h-3.9zM28.1 586.2h3.9v1.50h-3.9zM32 586.2h3.9v1.50h-3.9zM45.3 586.2h3.9v1.50h-3.9zM32 587.6h3.9v1.50h-3.9zM41.4 587.6h3.9v1.50h-3.9zM55.1 587.6h3.9v1.50h-3.9zM41.4 589.1h3.9v1.50h-3.9zM32 590.5h3.9v1.50h-3.9zM45.3 590.5h3.9v1.50h-3.9zM35.9 592.0h3.9v1.50h-3.9zM28.1 593.4h3.9v1.50h-3.9zM55.1 593.4h3.9v1.50h-3.9zM59.05 593.4h3.9v1.50h-3.9zM28.1 596.3h3.9v1.50h-3.9zM41.4 596.3h3.9v1.50h-3.9zM49.2 596.3h3.9v1.50h-3.9zM32 597.8h3.9v1.50h-3.9zM41.4 597.8h3.9v1.50h-3.9zM45.3 597.8h3.9v1.50h-3.9zM59.05 597.8h3.9v1.50h-3.9zM55.1 599.2h3.9v1.50h-3.9zM35.9 605.0h3.9v1.50h-3.9zM55.1 607.9h3.9v1.50h-3.9zM59.05 607.9h3.9v1.50h-3.9zM68.6 607.9h3.9v1.50h-3.9zM55.1 609.4h3.9v1.50h-3.9zM59.05 609.4h3.9v1.50h-3.9zM28.1 679.0h3.9v1.50h-3.9zM35.9 702.2h3.9v1.50h-3.9zM45.3 703.6h3.9v1.50h-3.9zM49.2 703.6h3.9v1.50h-3.9zM28.1 705.1h3.9v1.50h-3.9zM45.3 705.1h3.9v1.50h-3.9zM35.9 706.5h3.9v1.50h-3.9zM68.6 706.5h3.9v1.50h-3.9zM68.6 708.0h3.9v1.50h-3.9zM68.6 710.9h3.9v1.50h-3.9zM28.1 712.3h3.9v1.50h-3.9zM64.7 716.7h3.9v1.50h-3.9zM64.7 719.6h3.9v1.50h-3.9zM68.6 719.6h3.9v1.50h-3.9zM72.5 722.5h3.9v1.50h-3.9zM64.7 723.9h3.9v1.50h-3.9zM68.6 723.9h3.9v1.50h-3.9zM35.9 728.3h3.9v1.50h-3.9zM45.3 728.3h3.9v1.50h-3.9zM49.2 728.3h3.9v1.50h-3.9zM41.4 729.7h3.9v1.50h-3.9zM49.2 729.7h3.9v1.50h-3.9zM49.2 732.6h3.9v1.50h-3.9zM55.1 734.1h3.9v1.50h-3.9zM49.2 735.5h3.9v1.50h-3.9zM55.1 735.5h3.9v1.50h-3.9zM55.1 739.9h3.9v1.50h-3.9zM41.4 741.3h3.9v1.50h-3.9zM64.7 744.2h3.9v1.50h-3.9zM72.5 744.2h3.9v1.50h-3.9zM72.5 748.6h3.9v1.50h-3.9zM49.2 750.0h3.9v1.50h-3.9zM64.7 750.0h3.9v1.50h-3.9zM68.6 752.9h3.9v1.50h-3.9zM41.4 757.3h3.9v1.50h-3.9zM59.05 758.7h3.9v1.50h-3.9zM45.3 764.5h3.9v1.50h-3.9zM55.1 766.0h3.9v1.50h-3.9zM59.05 770.3h3.9v1.50h-3.9zM55.1 771.8h3.9v1.50h-3.9zM59.05 771.8h3.9v1.50h-3.9zM45.3 779.0h3.9v1.50h-3.9zM59.05 784.8h3.9v1.50h-3.9zM45.3 789.2h3.9v1.50h-3.9z"/>
<path fill="#e7876b" d="M59.05 557.2h3.9v1.50h-3.9zM32 560.1h3.9v1.50h-3.9zM35.9 561.5h3.9v1.50h-3.9zM32 565.9h3.9v1.50h-3.9zM35.9 574.6h3.9v1.50h-3.9zM35.9 576.0h3.9v1.50h-3.9zM28.1 577.5h3.9v1.50h-3.9zM32 583.3h3.9v1.50h-3.9zM59.05 584.7h3.9v1.50h-3.9zM35.9 586.2h3.9v1.50h-3.9zM55.1 589.1h3.9v1.50h-3.9zM55.1 592.0h3.9v1.50h-3.9zM28.1 594.9h3.9v1.50h-3.9zM41.4 594.9h3.9v1.50h-3.9zM45.3 594.9h3.9v1.50h-3.9zM45.3 602.1h3.9v1.50h-3.9zM49.2 602.1h3.9v1.50h-3.9zM49.2 603.6h3.9v1.50h-3.9zM59.05 603.6h3.9v1.50h-3.9zM35.9 615.2h3.9v1.50h-3.9zM35.9 618.1h3.9v1.50h-3.9zM32 619.5h3.9v1.50h-3.9zM35.9 619.5h3.9v1.50h-3.9zM32 625.3h3.9v1.50h-3.9zM32 631.1h3.9v1.50h-3.9zM32 645.6h3.9v1.50h-3.9zM32 671.7h3.9v1.50h-3.9zM35.9 671.7h3.9v1.50h-3.9zM32 673.2h3.9v1.50h-3.9zM35.9 676.1h3.9v1.50h-3.9zM32 677.5h3.9v1.50h-3.9zM32 680.4h3.9v1.50h-3.9zM28.1 686.2h3.9v1.50h-3.9zM28.1 702.2h3.9v1.50h-3.9zM35.9 703.6h3.9v1.50h-3.9zM32 710.9h3.9v1.50h-3.9zM32 719.6h3.9v1.50h-3.9zM35.9 719.6h3.9v1.50h-3.9zM32 721.0h3.9v1.50h-3.9zM28.1 728.3h3.9v1.50h-3.9zM68.6 731.2h3.9v1.50h-3.9zM68.6 734.1h3.9v1.50h-3.9zM59.05 735.5h3.9v1.50h-3.9zM59.05 738.4h3.9v1.50h-3.9zM45.3 741.3h3.9v1.50h-3.9zM64.7 747.1h3.9v1.50h-3.9zM41.4 748.6h3.9v1.50h-3.9zM55.1 748.6h3.9v1.50h-3.9zM59.05 748.6h3.9v1.50h-3.9zM55.1 750.0h3.9v1.50h-3.9zM59.05 750.0h3.9v1.50h-3.9zM55.1 751.5h3.9v1.50h-3.9zM72.5 771.8h3.9v1.50h-3.9zM64.7 777.6h3.9v1.50h-3.9zM68.6 783.4h3.9v1.50h-3.9z"/>
<path fill="#134a85" d="M64.7 557.2h3.9v1.50h-3.9zM68.6 561.5h3.9v1.50h-3.9zM72.5 564.4h3.9v1.50h-3.9zM72.5 567.3h3.9v1.50h-3.9zM64.7 577.5h3.9v1.50h-3.9zM72.5 578.9h3.9v1.50h-3.9zM72.5 583.3h3.9v1.50h-3.9zM72.5 596.3h3.9v1.50h-3.9zM64.7 597.8h3.9v1.50h-3.9zM68.6 597.8h3.9v1.50h-3.9zM72.5 599.2h3.9v1.50h-3.9zM72.5 603.6h3.9v1.50h-3.9zM64.7 605.0h3.9v1.50h-3.9zM55.1 703.6h3.9v1.50h-3.9zM59.05 709.4h3.9v1.50h-3.9zM59.05 710.9h3.9v1.50h-3.9zM59.05 715.2h3.9v1.50h-3.9zM59.05 723.9h3.9v1.50h-3.9zM28.1 751.5h3.9v1.50h-3.9z"/>
<path fill="#1c5da0" d="M68.6 557.2h3.9v1.50h-3.9zM72.5 561.5h3.9v1.50h-3.9zM72.5 570.2h3.9v1.50h-3.9zM72.5 576.0h3.9v1.50h-3.9zM68.6 578.9h3.9v1.50h-3.9zM64.7 583.3h3.9v1.50h-3.9zM64.7 584.7h3.9v1.50h-3.9zM72.5 586.2h3.9v1.50h-3.9zM68.6 587.6h3.9v1.50h-3.9zM68.6 589.1h3.9v1.50h-3.9zM64.7 590.5h3.9v1.50h-3.9zM68.6 590.5h3.9v1.50h-3.9zM64.7 593.4h3.9v1.50h-3.9zM64.7 594.9h3.9v1.50h-3.9zM68.6 594.9h3.9v1.50h-3.9zM72.5 594.9h3.9v1.50h-3.9zM72.5 597.8h3.9v1.50h-3.9zM64.7 602.1h3.9v1.50h-3.9zM68.6 602.1h3.9v1.50h-3.9zM68.6 603.6h3.9v1.50h-3.9zM41.4 631.1h3.9v1.50h-3.9zM72.5 639.8h3.9v1.50h-3.9zM72.5 689.1h3.9v1.50h-3.9zM64.7 693.5h3.9v1.50h-3.9zM55.1 716.7h3.9v1.50h-3.9zM59.05 716.7h3.9v1.50h-3.9zM55.1 718.1h3.9v1.50h-3.9zM59.05 728.3h3.9v1.50h-3.9zM32 734.1h3.9v1.50h-3.9zM35.9 738.4h3.9v1.50h-3.9zM28.1 745.7h3.9v1.50h-3.9zM28.1 771.8h3.9v1.50h-3.9zM28.1 776.1h3.9v1.50h-3.9zM28.1 780.5h3.9v1.50h-3.9zM28.1 786.3h3.9v1.50h-3.9z"/>
<path fill="#276eb0" d="M72.5 557.2h3.9v1.50h-3.9zM64.7 563.0h3.9v1.50h-3.9zM68.6 563.0h3.9v1.50h-3.9zM64.7 564.4h3.9v1.50h-3.9zM64.7 581.8h3.9v1.50h-3.9zM72.5 589.1h3.9v1.50h-3.9zM68.6 592.0h3.9v1.50h-3.9zM68.6 622.4h3.9v1.50h-3.9zM68.6 628.2h3.9v1.50h-3.9zM64.7 631.1h3.9v1.50h-3.9zM72.5 631.1h3.9v1.50h-3.9zM72.5 632.6h3.9v1.50h-3.9zM68.6 639.8h3.9v1.50h-3.9zM72.5 641.3h3.9v1.50h-3.9zM68.6 647.1h3.9v1.50h-3.9zM64.7 655.8h3.9v1.50h-3.9zM64.7 684.8h3.9v1.50h-3.9zM68.6 693.5h3.9v1.50h-3.9zM55.1 705.1h3.9v1.50h-3.9zM59.05 705.1h3.9v1.50h-3.9zM59.05 718.1h3.9v1.50h-3.9zM59.05 719.6h3.9v1.50h-3.9zM55.1 728.3h3.9v1.50h-3.9zM59.05 729.7h3.9v1.50h-3.9zM35.9 731.2h3.9v1.50h-3.9zM35.9 734.1h3.9v1.50h-3.9zM28.1 744.2h3.9v1.50h-3.9zM28.1 750.0h3.9v1.50h-3.9zM32 750.0h3.9v1.50h-3.9zM32 751.5h3.9v1.50h-3.9zM28.1 774.7h3.9v1.50h-3.9zM32 776.1h3.9v1.50h-3.9z"/>
<path fill="#d25749" d="M28.1 558.6h3.9v1.50h-3.9zM35.9 560.1h3.9v1.50h-3.9zM32 561.5h3.9v1.50h-3.9zM32 567.3h3.9v1.50h-3.9zM35.9 573.1h3.9v1.50h-3.9zM32 594.9h3.9v1.50h-3.9zM49.2 594.9h3.9v1.50h-3.9zM32 600.7h3.9v1.50h-3.9zM35.9 600.7h3.9v1.50h-3.9zM28.1 613.7h3.9v1.50h-3.9zM32 613.7h3.9v1.50h-3.9zM32 623.9h3.9v1.50h-3.9zM35.9 628.2h3.9v1.50h-3.9zM28.1 634.0h3.9v1.50h-3.9zM32 635.5h3.9v1.50h-3.9zM28.1 642.7h3.9v1.50h-3.9zM35.9 642.7h3.9v1.50h-3.9zM35.9 648.5h3.9v1.50h-3.9zM35.9 650.0h3.9v1.50h-3.9zM32 651.4h3.9v1.50h-3.9zM32 652.9h3.9v1.50h-3.9zM32 658.7h3.9v1.50h-3.9zM35.9 658.7h3.9v1.50h-3.9zM35.9 668.8h3.9v1.50h-3.9zM35.9 670.3h3.9v1.50h-3.9zM28.1 680.4h3.9v1.50h-3.9zM35.9 681.9h3.9v1.50h-3.9zM32 684.8h3.9v1.50h-3.9zM32 686.2h3.9v1.50h-3.9zM35.9 686.2h3.9v1.50h-3.9zM35.9 687.7h3.9v1.50h-3.9zM28.1 699.3h3.9v1.50h-3.9zM32 699.3h3.9v1.50h-3.9zM28.1 716.7h3.9v1.50h-3.9zM35.9 721.0h3.9v1.50h-3.9zM28.1 722.5h3.9v1.50h-3.9zM32 722.5h3.9v1.50h-3.9zM28.1 723.9h3.9v1.50h-3.9zM32 725.4h3.9v1.50h-3.9zM68.6 725.4h3.9v1.50h-3.9zM55.1 737.0h3.9v1.50h-3.9zM55.1 738.4h3.9v1.50h-3.9zM64.7 761.6h3.9v1.50h-3.9zM64.7 763.1h3.9v1.50h-3.9zM64.7 764.5h3.9v1.50h-3.9zM68.6 764.5h3.9v1.50h-3.9zM72.5 767.4h3.9v1.50h-3.9zM64.7 768.9h3.9v1.50h-3.9zM72.5 773.2h3.9v1.50h-3.9zM68.6 777.6h3.9v1.50h-3.9zM68.6 780.5h3.9v1.50h-3.9zM72.5 789.2h3.9v1.50h-3.9z"/>
<path fill="#b82531" d="M32 558.6h3.9v1.50h-3.9zM35.9 567.3h3.9v1.50h-3.9zM28.1 568.8h3.9v1.50h-3.9zM35.9 581.8h3.9v1.50h-3.9zM28.1 612.3h3.9v1.50h-3.9zM28.1 621.0h3.9v1.50h-3.9zM28.1 628.2h3.9v1.50h-3.9zM28.1 636.9h3.9v1.50h-3.9zM32 641.3h3.9v1.50h-3.9zM32 647.1h3.9v1.50h-3.9zM32 650.0h3.9v1.50h-3.9zM28.1 651.4h3.9v1.50h-3.9zM35.9 651.4h3.9v1.50h-3.9zM32 663.0h3.9v1.50h-3.9zM35.9 663.0h3.9v1.50h-3.9zM35.9 665.9h3.9v1.50h-3.9zM28.1 668.8h3.9v1.50h-3.9zM32 670.3h3.9v1.50h-3.9zM35.9 674.6h3.9v1.50h-3.9zM28.1 683.3h3.9v1.50h-3.9zM32 689.1h3.9v1.50h-3.9zM35.9 693.5h3.9v1.50h-3.9zM28.1 694.9h3.9v1.50h-3.9zM28.1 700.7h3.9v1.50h-3.9zM35.9 700.7h3.9v1.50h-3.9zM59.05 751.5h3.9v1.50h-3.9zM68.6 763.1h3.9v1.50h-3.9zM64.7 773.2h3.9v1.50h-3.9zM64.7 774.7h3.9v1.50h-3.9zM72.5 777.6h3.9v1.50h-3.9zM64.7 783.4h3.9v1.50h-3.9zM72.5 786.3h3.9v1.50h-3.9zM64.7 789.2h3.9v1.50h-3.9zM64.7 790.6h3.9v1.50h-3.9z"/>
<path fill="#a51429" d="M35.9 558.6h3.9v1.50h-3.9zM35.9 568.8h3.9v1.50h-3.9zM28.1 578.9h3.9v1.50h-3.9zM32 578.9h3.9v1.50h-3.9zM32 628.2h3.9v1.50h-3.9zM35.9 629.7h3.9v1.50h-3.9zM35.9 638.4h3.9v1.50h-3.9zM35.9 641.3h3.9v1.50h-3.9zM28.1 655.8h3.9v1.50h-3.9zM35.9 661.6h3.9v1.50h-3.9zM28.1 667.4h3.9v1.50h-3.9zM28.1 677.5h3.9v1.50h-3.9zM28.1 684.8h3.9v1.50h-3.9zM28.1 687.7h3.9v1.50h-3.9zM32 690.6h3.9v1.50h-3.9zM35.9 696.4h3.9v1.50h-3.9zM32 700.7h3.9v1.50h-3.9zM35.9 726.8h3.9v1.50h-3.9zM35.9 729.7h3.9v1.50h-3.9zM64.7 755.8h3.9v1.50h-3.9zM72.5 755.8h3.9v1.50h-3.9zM68.6 761.6h3.9v1.50h-3.9zM64.7 766.0h3.9v1.50h-3.9zM68.6 766.0h3.9v1.50h-3.9zM68.6 767.4h3.9v1.50h-3.9zM68.6 768.9h3.9v1.50h-3.9zM72.5 768.9h3.9v1.50h-3.9zM72.5 770.3h3.9v1.50h-3.9zM64.7 779.0h3.9v1.50h-3.9zM68.6 787.7h3.9v1.50h-3.9zM64.7 792.1h3.9v1.40h-3.9z"/>
<path fill="#a3cde3" d="M49.2 558.6h3.9v1.50h-3.9zM41.4 571.7h3.9v1.50h-3.9zM72.5 580.4h3.9v1.50h-3.9zM45.3 610.8h3.9v1.50h-3.9zM45.3 613.7h3.9v1.50h-3.9zM64.7 615.2h3.9v1.50h-3.9zM41.4 616.6h3.9v1.50h-3.9zM49.2 616.6h3.9v1.50h-3.9zM49.2 618.1h3.9v1.50h-3.9zM59.05 622.4h3.9v1.50h-3.9zM49.2 623.9h3.9v1.50h-3.9zM41.4 625.3h3.9v1.50h-3.9zM72.5 626.8h3.9v1.50h-3.9zM45.3 628.2h3.9v1.50h-3.9zM55.1 628.2h3.9v1.50h-3.9zM55.1 634.0h3.9v1.50h-3.9zM68.6 634.0h3.9v1.50h-3.9zM72.5 634.0h3.9v1.50h-3.9zM68.6 635.5h3.9v1.50h-3.9zM72.5 635.5h3.9v1.50h-3.9zM45.3 636.9h3.9v1.50h-3.9zM49.2 636.9h3.9v1.50h-3.9zM59.05 638.4h3.9v1.50h-3.9zM55.1 639.8h3.9v1.50h-3.9zM41.4 641.3h3.9v1.50h-3.9zM55.1 641.3h3.9v1.50h-3.9zM68.6 641.3h3.9v1.50h-3.9zM45.3 642.7h3.9v1.50h-3.9zM55.1 642.7h3.9v1.50h-3.9zM49.2 648.5h3.9v1.50h-3.9zM45.3 650.0h3.9v1.50h-3.9zM49.2 650.0h3.9v1.50h-3.9zM41.4 651.4h3.9v1.50h-3.9zM41.4 652.9h3.9v1.50h-3.9zM45.3 652.9h3.9v1.50h-3.9zM72.5 652.9h3.9v1.50h-3.9zM55.1 655.8h3.9v1.50h-3.9zM45.3 657.2h3.9v1.50h-3.9zM45.3 658.7h3.9v1.50h-3.9zM64.7 658.7h3.9v1.50h-3.9zM64.7 660.1h3.9v1.50h-3.9zM72.5 660.1h3.9v1.50h-3.9zM49.2 661.6h3.9v1.50h-3.9zM49.2 663.0h3.9v1.50h-3.9zM64.7 663.0h3.9v1.50h-3.9zM72.5 663.0h3.9v1.50h-3.9zM45.3 664.5h3.9v1.50h-3.9zM49.2 664.5h3.9v1.50h-3.9zM45.3 668.8h3.9v1.50h-3.9zM49.2 668.8h3.9v1.50h-3.9zM41.4 670.3h3.9v1.50h-3.9zM49.2 670.3h3.9v1.50h-3.9zM55.1 670.3h3.9v1.50h-3.9zM59.05 670.3h3.9v1.50h-3.9zM68.6 671.7h3.9v1.50h-3.9zM55.1 673.2h3.9v1.50h-3.9zM59.05 673.2h3.9v1.50h-3.9zM45.3 674.6h3.9v1.50h-3.9zM55.1 676.1h3.9v1.50h-3.9zM59.05 676.1h3.9v1.50h-3.9zM55.1 677.5h3.9v1.50h-3.9zM68.6 677.5h3.9v1.50h-3.9zM59.05 681.9h3.9v1.50h-3.9zM68.6 681.9h3.9v1.50h-3.9zM41.4 684.8h3.9v1.50h-3.9zM49.2 684.8h3.9v1.50h-3.9zM45.3 686.2h3.9v1.50h-3.9zM64.7 686.2h3.9v1.50h-3.9zM72.5 686.2h3.9v1.50h-3.9zM49.2 687.7h3.9v1.50h-3.9zM41.4 689.1h3.9v1.50h-3.9zM45.3 689.1h3.9v1.50h-3.9zM41.4 690.6h3.9v1.50h-3.9zM64.7 692.0h3.9v1.50h-3.9zM68.6 696.4h3.9v1.50h-3.9zM45.3 697.8h3.9v1.50h-3.9zM41.4 699.3h3.9v1.50h-3.9zM55.1 699.3h3.9v1.50h-3.9zM68.6 700.7h3.9v1.50h-3.9zM45.3 702.2h3.9v1.50h-3.9zM45.3 712.3h3.9v1.50h-3.9zM32 737.0h3.9v1.50h-3.9zM28.1 741.3h3.9v1.50h-3.9zM32 748.6h3.9v1.50h-3.9zM35.9 748.6h3.9v1.50h-3.9zM28.1 754.4h3.9v1.50h-3.9zM28.1 760.2h3.9v1.50h-3.9zM35.9 760.2h3.9v1.50h-3.9zM45.3 760.2h3.9v1.50h-3.9zM28.1 763.1h3.9v1.50h-3.9zM45.3 763.1h3.9v1.50h-3.9zM28.1 768.9h3.9v1.50h-3.9zM55.1 773.2h3.9v1.50h-3.9zM45.3 774.7h3.9v1.50h-3.9zM59.05 776.1h3.9v1.50h-3.9zM59.05 780.5h3.9v1.50h-3.9zM59.05 783.4h3.9v1.50h-3.9zM35.9 784.8h3.9v1.50h-3.9z"/>
<path fill="#70afd2" d="M64.7 558.6h3.9v1.50h-3.9zM68.6 570.2h3.9v1.50h-3.9zM64.7 580.4h3.9v1.50h-3.9zM68.6 580.4h3.9v1.50h-3.9zM64.7 592.0h3.9v1.50h-3.9zM64.7 599.2h3.9v1.50h-3.9zM41.4 610.8h3.9v1.50h-3.9zM64.7 612.3h3.9v1.50h-3.9zM72.5 613.7h3.9v1.50h-3.9zM41.4 615.2h3.9v1.50h-3.9zM45.3 615.2h3.9v1.50h-3.9zM64.7 618.1h3.9v1.50h-3.9zM68.6 618.1h3.9v1.50h-3.9zM45.3 619.5h3.9v1.50h-3.9zM49.2 619.5h3.9v1.50h-3.9zM64.7 621.0h3.9v1.50h-3.9zM72.5 621.0h3.9v1.50h-3.9zM41.4 622.4h3.9v1.50h-3.9zM72.5 623.9h3.9v1.50h-3.9zM55.1 625.3h3.9v1.50h-3.9zM59.05 625.3h3.9v1.50h-3.9zM68.6 625.3h3.9v1.50h-3.9zM49.2 628.2h3.9v1.50h-3.9zM41.4 629.7h3.9v1.50h-3.9zM45.3 629.7h3.9v1.50h-3.9zM49.2 629.7h3.9v1.50h-3.9zM55.1 629.7h3.9v1.50h-3.9zM49.2 632.6h3.9v1.50h-3.9zM64.7 634.0h3.9v1.50h-3.9zM72.5 636.9h3.9v1.50h-3.9zM72.5 638.4h3.9v1.50h-3.9zM64.7 641.3h3.9v1.50h-3.9zM41.4 644.2h3.9v1.50h-3.9zM64.7 645.6h3.9v1.50h-3.9zM72.5 645.6h3.9v1.50h-3.9zM55.1 647.1h3.9v1.50h-3.9zM59.05 647.1h3.9v1.50h-3.9zM45.3 648.5h3.9v1.50h-3.9zM64.7 648.5h3.9v1.50h-3.9zM68.6 648.5h3.9v1.50h-3.9zM49.2 651.4h3.9v1.50h-3.9zM64.7 651.4h3.9v1.50h-3.9zM68.6 651.4h3.9v1.50h-3.9zM64.7 652.9h3.9v1.50h-3.9zM41.4 654.3h3.9v1.50h-3.9zM64.7 657.2h3.9v1.50h-3.9zM68.6 658.7h3.9v1.50h-3.9zM68.6 660.1h3.9v1.50h-3.9zM55.1 663.0h3.9v1.50h-3.9zM68.6 663.0h3.9v1.50h-3.9zM72.5 664.5h3.9v1.50h-3.9zM55.1 665.9h3.9v1.50h-3.9zM59.05 665.9h3.9v1.50h-3.9zM68.6 668.8h3.9v1.50h-3.9zM68.6 670.3h3.9v1.50h-3.9zM72.5 670.3h3.9v1.50h-3.9zM72.5 671.7h3.9v1.50h-3.9zM41.4 673.2h3.9v1.50h-3.9zM49.2 673.2h3.9v1.50h-3.9zM72.5 677.5h3.9v1.50h-3.9zM41.4 679.0h3.9v1.50h-3.9zM41.4 680.4h3.9v1.50h-3.9zM49.2 680.4h3.9v1.50h-3.9zM72.5 681.9h3.9v1.50h-3.9zM41.4 683.3h3.9v1.50h-3.9zM45.3 683.3h3.9v1.50h-3.9zM68.6 686.2h3.9v1.50h-3.9zM59.05 687.7h3.9v1.50h-3.9zM72.5 687.7h3.9v1.50h-3.9zM68.6 690.6h3.9v1.50h-3.9zM72.5 692.0h3.9v1.50h-3.9zM41.4 696.4h3.9v1.50h-3.9zM49.2 696.4h3.9v1.50h-3.9zM72.5 702.2h3.9v1.50h-3.9zM55.1 713.8h3.9v1.50h-3.9zM59.05 725.4h3.9v1.50h-3.9zM28.1 738.4h3.9v1.50h-3.9zM32 741.3h3.9v1.50h-3.9zM35.9 742.8h3.9v1.50h-3.9zM32 744.2h3.9v1.50h-3.9zM35.9 752.9h3.9v1.50h-3.9zM35.9 754.4h3.9v1.50h-3.9zM35.9 766.0h3.9v1.50h-3.9zM32 767.4h3.9v1.50h-3.9zM32 771.8h3.9v1.50h-3.9zM35.9 771.8h3.9v1.50h-3.9zM41.4 776.1h3.9v1.50h-3.9zM49.2 776.1h3.9v1.50h-3.9zM45.3 777.6h3.9v1.50h-3.9zM32 781.9h3.9v1.50h-3.9zM32 789.2h3.9v1.50h-3.9zM28.1 790.6h3.9v1.50h-3.9zM35.9 790.6h3.9v1.50h-3.9z"/>
<path fill="#8bc1dc" d="M68.6 558.6h3.9v1.50h-3.9zM72.5 558.6h3.9v1.50h-3.9zM72.5 563.0h3.9v1.50h-3.9zM41.4 564.4h3.9v1.50h-3.9zM68.6 565.9h3.9v1.50h-3.9zM72.5 565.9h3.9v1.50h-3.9zM72.5 587.6h3.9v1.50h-3.9zM55.1 612.3h3.9v1.50h-3.9zM72.5 612.3h3.9v1.50h-3.9zM49.2 613.7h3.9v1.50h-3.9zM49.2 615.2h3.9v1.50h-3.9zM72.5 615.2h3.9v1.50h-3.9zM55.1 616.6h3.9v1.50h-3.9zM68.6 616.6h3.9v1.50h-3.9zM41.4 619.5h3.9v1.50h-3.9zM68.6 619.5h3.9v1.50h-3.9zM68.6 621.0h3.9v1.50h-3.9zM45.3 622.4h3.9v1.50h-3.9zM41.4 628.2h3.9v1.50h-3.9zM59.05 628.2h3.9v1.50h-3.9zM64.7 628.2h3.9v1.50h-3.9zM59.05 629.7h3.9v1.50h-3.9zM45.3 634.0h3.9v1.50h-3.9zM59.05 635.5h3.9v1.50h-3.9zM55.1 638.4h3.9v1.50h-3.9zM41.4 639.8h3.9v1.50h-3.9zM45.3 641.3h3.9v1.50h-3.9zM45.3 644.2h3.9v1.50h-3.9zM64.7 644.2h3.9v1.50h-3.9zM41.4 645.6h3.9v1.50h-3.9zM68.6 645.6h3.9v1.50h-3.9zM64.7 650.0h3.9v1.50h-3.9zM68.6 650.0h3.9v1.50h-3.9zM72.5 651.4h3.9v1.50h-3.9zM49.2 654.3h3.9v1.50h-3.9zM49.2 655.8h3.9v1.50h-3.9zM59.05 655.8h3.9v1.50h-3.9zM59.05 658.7h3.9v1.50h-3.9zM45.3 661.6h3.9v1.50h-3.9zM41.4 664.5h3.9v1.50h-3.9zM41.4 667.4h3.9v1.50h-3.9zM49.2 667.4h3.9v1.50h-3.9zM64.7 667.4h3.9v1.50h-3.9zM59.05 668.8h3.9v1.50h-3.9zM45.3 670.3h3.9v1.50h-3.9zM45.3 671.7h3.9v1.50h-3.9zM49.2 671.7h3.9v1.50h-3.9zM64.7 671.7h3.9v1.50h-3.9zM45.3 673.2h3.9v1.50h-3.9zM41.4 674.6h3.9v1.50h-3.9zM59.05 674.6h3.9v1.50h-3.9zM64.7 683.3h3.9v1.50h-3.9zM45.3 684.8h3.9v1.50h-3.9zM55.1 684.8h3.9v1.50h-3.9zM64.7 687.7h3.9v1.50h-3.9zM68.6 687.7h3.9v1.50h-3.9zM45.3 690.6h3.9v1.50h-3.9zM45.3 696.4h3.9v1.50h-3.9zM72.5 696.4h3.9v1.50h-3.9zM45.3 699.3h3.9v1.50h-3.9zM68.6 699.3h3.9v1.50h-3.9zM68.6 702.2h3.9v1.50h-3.9zM59.05 713.8h3.9v1.50h-3.9zM55.1 726.8h3.9v1.50h-3.9zM32 731.2h3.9v1.50h-3.9zM28.1 732.6h3.9v1.50h-3.9zM35.9 732.6h3.9v1.50h-3.9zM28.1 737.0h3.9v1.50h-3.9zM32 739.9h3.9v1.50h-3.9zM35.9 739.9h3.9v1.50h-3.9zM35.9 741.3h3.9v1.50h-3.9zM28.1 742.8h3.9v1.50h-3.9zM32 742.8h3.9v1.50h-3.9zM32 752.9h3.9v1.50h-3.9zM28.1 758.7h3.9v1.50h-3.9zM28.1 761.6h3.9v1.50h-3.9zM32 761.6h3.9v1.50h-3.9zM32 768.9h3.9v1.50h-3.9zM28.1 770.3h3.9v1.50h-3.9zM35.9 770.3h3.9v1.50h-3.9zM45.3 776.1h3.9v1.50h-3.9zM32 777.6h3.9v1.50h-3.9zM32 786.3h3.9v1.50h-3.9zM28.1 787.7h3.9v1.50h-3.9zM32 787.7h3.9v1.50h-3.9zM59.05 787.7h3.9v1.50h-3.9zM35.9 789.2h3.9v1.50h-3.9zM32 790.6h3.9v1.50h-3.9z"/>
<path fill="#dd6f59" d="M28.1 560.1h3.9v1.50h-3.9zM55.1 560.1h3.9v1.50h-3.9zM55.1 561.5h3.9v1.50h-3.9zM32 571.7h3.9v1.50h-3.9zM28.1 573.1h3.9v1.50h-3.9zM28.1 580.4h3.9v1.50h-3.9zM32 580.4h3.9v1.50h-3.9zM35.9 580.4h3.9v1.50h-3.9zM28.1 600.7h3.9v1.50h-3.9zM45.3 605.0h3.9v1.50h-3.9zM64.7 606.5h3.9v1.50h-3.9zM35.9 613.7h3.9v1.50h-3.9zM32 618.1h3.9v1.50h-3.9zM28.1 622.4h3.9v1.50h-3.9zM28.1 625.3h3.9v1.50h-3.9zM32 626.8h3.9v1.50h-3.9zM32 632.6h3.9v1.50h-3.9zM35.9 632.6h3.9v1.50h-3.9zM35.9 634.0h3.9v1.50h-3.9zM35.9 635.5h3.9v1.50h-3.9zM35.9 636.9h3.9v1.50h-3.9zM32 638.4h3.9v1.50h-3.9zM32 642.7h3.9v1.50h-3.9zM28.1 644.2h3.9v1.50h-3.9zM32 644.2h3.9v1.50h-3.9zM35.9 647.1h3.9v1.50h-3.9zM35.9 652.9h3.9v1.50h-3.9zM35.9 657.2h3.9v1.50h-3.9zM28.1 660.1h3.9v1.50h-3.9zM35.9 660.1h3.9v1.50h-3.9zM28.1 663.0h3.9v1.50h-3.9zM35.9 664.5h3.9v1.50h-3.9zM28.1 673.2h3.9v1.50h-3.9zM28.1 674.6h3.9v1.50h-3.9zM28.1 676.1h3.9v1.50h-3.9zM32 676.1h3.9v1.50h-3.9zM35.9 677.5h3.9v1.50h-3.9zM28.1 681.9h3.9v1.50h-3.9zM35.9 684.8h3.9v1.50h-3.9zM28.1 689.1h3.9v1.50h-3.9zM35.9 692.0h3.9v1.50h-3.9zM35.9 694.9h3.9v1.50h-3.9zM28.1 696.4h3.9v1.50h-3.9zM32 696.4h3.9v1.50h-3.9zM35.9 699.3h3.9v1.50h-3.9zM32 703.6h3.9v1.50h-3.9zM35.9 708.0h3.9v1.50h-3.9zM35.9 716.7h3.9v1.50h-3.9zM32 718.1h3.9v1.50h-3.9zM28.1 721.0h3.9v1.50h-3.9zM35.9 722.5h3.9v1.50h-3.9zM32 723.9h3.9v1.50h-3.9zM28.1 725.4h3.9v1.50h-3.9zM64.7 725.4h3.9v1.50h-3.9zM72.5 725.4h3.9v1.50h-3.9zM28.1 729.7h3.9v1.50h-3.9zM64.7 732.6h3.9v1.50h-3.9zM72.5 732.6h3.9v1.50h-3.9zM59.05 737.0h3.9v1.50h-3.9zM59.05 747.1h3.9v1.50h-3.9zM64.7 754.4h3.9v1.50h-3.9zM72.5 761.6h3.9v1.50h-3.9zM72.5 763.1h3.9v1.50h-3.9zM72.5 764.5h3.9v1.50h-3.9zM68.6 771.8h3.9v1.50h-3.9zM72.5 780.5h3.9v1.50h-3.9zM68.6 790.6h3.9v1.50h-3.9zM72.5 790.6h3.9v1.50h-3.9z"/>
<path fill="#cee4ef" d="M45.3 560.1h3.9v1.50h-3.9zM45.3 561.5h3.9v1.50h-3.9zM45.3 563.0h3.9v1.50h-3.9zM49.2 563.0h3.9v1.50h-3.9zM45.3 565.9h3.9v1.50h-3.9zM49.2 565.9h3.9v1.50h-3.9zM45.3 577.5h3.9v1.50h-3.9zM49.2 609.4h3.9v1.50h-3.9zM28.1 610.8h3.9v1.50h-3.9zM55.1 610.8h3.9v1.50h-3.9zM41.4 618.1h3.9v1.50h-3.9zM49.2 621.0h3.9v1.50h-3.9zM59.05 623.9h3.9v1.50h-3.9zM68.6 623.9h3.9v1.50h-3.9zM49.2 625.3h3.9v1.50h-3.9zM55.1 626.8h3.9v1.50h-3.9zM59.05 626.8h3.9v1.50h-3.9zM68.6 626.8h3.9v1.50h-3.9zM41.4 634.0h3.9v1.50h-3.9zM49.2 634.0h3.9v1.50h-3.9zM55.1 635.5h3.9v1.50h-3.9zM55.1 636.9h3.9v1.50h-3.9zM41.4 638.4h3.9v1.50h-3.9zM49.2 641.3h3.9v1.50h-3.9zM59.05 641.3h3.9v1.50h-3.9zM49.2 644.2h3.9v1.50h-3.9zM59.05 644.2h3.9v1.50h-3.9zM49.2 645.6h3.9v1.50h-3.9zM41.4 647.1h3.9v1.50h-3.9zM55.1 651.4h3.9v1.50h-3.9zM59.05 651.4h3.9v1.50h-3.9zM68.6 652.9h3.9v1.50h-3.9zM55.1 654.3h3.9v1.50h-3.9zM59.05 654.3h3.9v1.50h-3.9zM55.1 658.7h3.9v1.50h-3.9zM55.1 661.6h3.9v1.50h-3.9zM59.05 661.6h3.9v1.50h-3.9zM59.05 664.5h3.9v1.50h-3.9zM41.4 665.9h3.9v1.50h-3.9zM45.3 667.4h3.9v1.50h-3.9zM55.1 667.4h3.9v1.50h-3.9zM55.1 671.7h3.9v1.50h-3.9zM59.05 671.7h3.9v1.50h-3.9zM55.1 674.6h3.9v1.50h-3.9zM45.3 677.5h3.9v1.50h-3.9zM64.7 679.0h3.9v1.50h-3.9zM55.1 680.4h3.9v1.50h-3.9zM64.7 680.4h3.9v1.50h-3.9zM68.6 680.4h3.9v1.50h-3.9zM49.2 683.3h3.9v1.50h-3.9zM55.1 683.3h3.9v1.50h-3.9zM49.2 686.2h3.9v1.50h-3.9zM49.2 690.6h3.9v1.50h-3.9zM41.4 692.0h3.9v1.50h-3.9zM59.05 692.0h3.9v1.50h-3.9zM55.1 696.4h3.9v1.50h-3.9zM59.05 697.8h3.9v1.50h-3.9zM49.2 699.3h3.9v1.50h-3.9zM59.05 699.3h3.9v1.50h-3.9zM45.3 700.7h3.9v1.50h-3.9zM49.2 700.7h3.9v1.50h-3.9zM72.5 700.7h3.9v1.50h-3.9zM41.4 702.2h3.9v1.50h-3.9zM49.2 702.2h3.9v1.50h-3.9zM55.1 702.2h3.9v1.50h-3.9zM49.2 710.9h3.9v1.50h-3.9zM49.2 722.5h3.9v1.50h-3.9zM64.7 735.5h3.9v1.50h-3.9zM35.9 737.0h3.9v1.50h-3.9zM55.1 757.3h3.9v1.50h-3.9zM59.05 757.3h3.9v1.50h-3.9zM55.1 760.2h3.9v1.50h-3.9zM35.9 763.1h3.9v1.50h-3.9zM55.1 767.4h3.9v1.50h-3.9zM55.1 768.9h3.9v1.50h-3.9zM49.2 773.2h3.9v1.50h-3.9zM55.1 776.1h3.9v1.50h-3.9zM45.3 783.4h3.9v1.50h-3.9zM55.1 783.4h3.9v1.50h-3.9zM32 784.8h3.9v1.50h-3.9zM55.1 789.2h3.9v1.50h-3.9zM41.4 790.6h3.9v1.50h-3.9zM59.05 792.1h3.9v1.40h-3.9z"/>
<path fill="#3f8dc0" d="M64.7 560.1h3.9v1.50h-3.9zM72.5 560.1h3.9v1.50h-3.9zM64.7 565.9h3.9v1.50h-3.9zM68.6 567.3h3.9v1.50h-3.9zM64.7 570.2h3.9v1.50h-3.9zM64.7 576.0h3.9v1.50h-3.9zM68.6 576.0h3.9v1.50h-3.9zM64.7 587.6h3.9v1.50h-3.9zM64.7 589.1h3.9v1.50h-3.9zM72.5 590.5h3.9v1.50h-3.9zM64.7 619.5h3.9v1.50h-3.9zM49.2 622.4h3.9v1.50h-3.9zM72.5 622.4h3.9v1.50h-3.9zM72.5 625.3h3.9v1.50h-3.9zM72.5 628.2h3.9v1.50h-3.9zM68.6 631.1h3.9v1.50h-3.9zM64.7 632.6h3.9v1.50h-3.9zM72.5 644.2h3.9v1.50h-3.9zM45.3 647.1h3.9v1.50h-3.9zM64.7 647.1h3.9v1.50h-3.9zM64.7 654.3h3.9v1.50h-3.9zM68.6 657.2h3.9v1.50h-3.9zM64.7 661.6h3.9v1.50h-3.9zM68.6 661.6h3.9v1.50h-3.9zM64.7 665.9h3.9v1.50h-3.9zM72.5 673.2h3.9v1.50h-3.9zM64.7 677.5h3.9v1.50h-3.9zM55.1 679.0h3.9v1.50h-3.9zM68.6 684.8h3.9v1.50h-3.9zM72.5 684.8h3.9v1.50h-3.9zM64.7 690.6h3.9v1.50h-3.9zM72.5 693.5h3.9v1.50h-3.9zM68.6 694.9h3.9v1.50h-3.9zM55.1 725.4h3.9v1.50h-3.9zM28.1 731.2h3.9v1.50h-3.9zM28.1 735.5h3.9v1.50h-3.9zM35.9 750.0h3.9v1.50h-3.9zM28.1 755.8h3.9v1.50h-3.9zM35.9 755.8h3.9v1.50h-3.9zM28.1 757.3h3.9v1.50h-3.9zM32 757.3h3.9v1.50h-3.9zM28.1 764.5h3.9v1.50h-3.9zM32 766.0h3.9v1.50h-3.9zM35.9 767.4h3.9v1.50h-3.9zM32 770.3h3.9v1.50h-3.9zM32 773.2h3.9v1.50h-3.9zM35.9 780.5h3.9v1.50h-3.9zM35.9 781.9h3.9v1.50h-3.9zM35.9 783.4h3.9v1.50h-3.9zM35.9 786.3h3.9v1.50h-3.9zM28.1 789.2h3.9v1.50h-3.9z"/>
<path fill="#559ec9" d="M68.6 560.1h3.9v1.50h-3.9zM64.7 561.5h3.9v1.50h-3.9zM64.7 586.2h3.9v1.50h-3.9zM68.6 612.3h3.9v1.50h-3.9zM59.05 613.7h3.9v1.50h-3.9zM64.7 613.7h3.9v1.50h-3.9zM68.6 613.7h3.9v1.50h-3.9zM72.5 618.1h3.9v1.50h-3.9zM59.05 621.0h3.9v1.50h-3.9zM64.7 623.9h3.9v1.50h-3.9zM64.7 625.3h3.9v1.50h-3.9zM45.3 631.1h3.9v1.50h-3.9zM49.2 631.1h3.9v1.50h-3.9zM68.6 632.6h3.9v1.50h-3.9zM59.05 634.0h3.9v1.50h-3.9zM68.6 636.9h3.9v1.50h-3.9zM64.7 638.4h3.9v1.50h-3.9zM68.6 644.2h3.9v1.50h-3.9zM49.2 647.1h3.9v1.50h-3.9zM72.5 647.1h3.9v1.50h-3.9zM72.5 648.5h3.9v1.50h-3.9zM72.5 650.0h3.9v1.50h-3.9zM49.2 652.9h3.9v1.50h-3.9zM72.5 654.3h3.9v1.50h-3.9zM68.6 655.8h3.9v1.50h-3.9zM72.5 655.8h3.9v1.50h-3.9zM41.4 657.2h3.9v1.50h-3.9zM72.5 658.7h3.9v1.50h-3.9zM72.5 661.6h3.9v1.50h-3.9zM45.3 663.0h3.9v1.50h-3.9zM68.6 665.9h3.9v1.50h-3.9zM72.5 665.9h3.9v1.50h-3.9zM41.4 668.8h3.9v1.50h-3.9zM72.5 668.8h3.9v1.50h-3.9zM64.7 673.2h3.9v1.50h-3.9zM68.6 673.2h3.9v1.50h-3.9zM45.3 679.0h3.9v1.50h-3.9zM59.05 679.0h3.9v1.50h-3.9zM45.3 680.4h3.9v1.50h-3.9zM49.2 681.9h3.9v1.50h-3.9zM64.7 681.9h3.9v1.50h-3.9zM72.5 683.3h3.9v1.50h-3.9zM59.05 684.8h3.9v1.50h-3.9zM68.6 689.1h3.9v1.50h-3.9zM72.5 690.6h3.9v1.50h-3.9zM64.7 694.9h3.9v1.50h-3.9zM64.7 699.3h3.9v1.50h-3.9zM72.5 699.3h3.9v1.50h-3.9zM64.7 702.2h3.9v1.50h-3.9zM55.1 708.0h3.9v1.50h-3.9zM59.05 708.0h3.9v1.50h-3.9zM49.2 712.3h3.9v1.50h-3.9zM55.1 722.5h3.9v1.50h-3.9zM59.05 722.5h3.9v1.50h-3.9zM59.05 726.8h3.9v1.50h-3.9zM55.1 729.7h3.9v1.50h-3.9zM35.9 735.5h3.9v1.50h-3.9zM28.1 739.9h3.9v1.50h-3.9zM32 745.7h3.9v1.50h-3.9zM32 747.1h3.9v1.50h-3.9zM28.1 752.9h3.9v1.50h-3.9zM32 755.8h3.9v1.50h-3.9zM32 758.7h3.9v1.50h-3.9zM32 764.5h3.9v1.50h-3.9zM35.9 768.9h3.9v1.50h-3.9zM32 774.7h3.9v1.50h-3.9zM28.1 779.0h3.9v1.50h-3.9zM32 779.0h3.9v1.50h-3.9zM28.1 783.4h3.9v1.50h-3.9zM35.9 787.7h3.9v1.50h-3.9zM32 792.1h3.9v1.40h-3.9zM35.9 792.1h3.9v1.40h-3.9z"/>
<path fill="#337eb8" d="M68.6 564.4h3.9v1.50h-3.9zM64.7 567.3h3.9v1.50h-3.9zM68.6 581.8h3.9v1.50h-3.9zM72.5 581.8h3.9v1.50h-3.9zM68.6 586.2h3.9v1.50h-3.9zM72.5 592.0h3.9v1.50h-3.9zM68.6 599.2h3.9v1.50h-3.9zM72.5 602.1h3.9v1.50h-3.9zM68.6 605.0h3.9v1.50h-3.9zM72.5 605.0h3.9v1.50h-3.9zM72.5 619.5h3.9v1.50h-3.9zM55.1 621.0h3.9v1.50h-3.9zM64.7 622.4h3.9v1.50h-3.9zM64.7 636.9h3.9v1.50h-3.9zM64.7 639.8h3.9v1.50h-3.9zM72.5 657.2h3.9v1.50h-3.9zM64.7 670.3h3.9v1.50h-3.9zM64.7 674.6h3.9v1.50h-3.9zM68.6 674.6h3.9v1.50h-3.9zM72.5 674.6h3.9v1.50h-3.9zM41.4 681.9h3.9v1.50h-3.9zM45.3 681.9h3.9v1.50h-3.9zM64.7 689.1h3.9v1.50h-3.9zM72.5 694.9h3.9v1.50h-3.9zM55.1 715.2h3.9v1.50h-3.9zM55.1 723.9h3.9v1.50h-3.9zM32 735.5h3.9v1.50h-3.9zM35.9 744.2h3.9v1.50h-3.9zM35.9 745.7h3.9v1.50h-3.9zM35.9 747.1h3.9v1.50h-3.9zM35.9 751.5h3.9v1.50h-3.9zM35.9 757.3h3.9v1.50h-3.9zM35.9 758.7h3.9v1.50h-3.9zM35.9 764.5h3.9v1.50h-3.9zM28.1 766.0h3.9v1.50h-3.9zM28.1 767.4h3.9v1.50h-3.9zM35.9 773.2h3.9v1.50h-3.9zM35.9 774.7h3.9v1.50h-3.9zM35.9 779.0h3.9v1.50h-3.9zM32 780.5h3.9v1.50h-3.9zM28.1 781.9h3.9v1.50h-3.9zM32 783.4h3.9v1.50h-3.9z"/>
<path fill="#fbe4d6" d="M59.05 565.9h3.9v1.50h-3.9zM55.1 567.3h3.9v1.50h-3.9zM32 570.2h3.9v1.50h-3.9zM41.4 573.1h3.9v1.50h-3.9zM45.3 576.0h3.9v1.50h-3.9zM59.05 577.5h3.9v1.50h-3.9zM45.3 580.4h3.9v1.50h-3.9zM41.4 581.8h3.9v1.50h-3.9zM55.1 581.8h3.9v1.50h-3.9zM55.1 583.3h3.9v1.50h-3.9zM28.1 587.6h3.9v1.50h-3.9zM28.1 589.1h3.9v1.50h-3.9zM45.3 589.1h3.9v1.50h-3.9zM49.2 589.1h3.9v1.50h-3.9zM49.2 590.5h3.9v1.50h-3.9zM28.1 597.8h3.9v1.50h-3.9zM49.2 600.7h3.9v1.50h-3.9zM35.9 603.6h3.9v1.50h-3.9zM41.4 606.5h3.9v1.50h-3.9zM59.05 606.5h3.9v1.50h-3.9zM72.5 606.5h3.9v1.50h-3.9zM41.4 607.9h3.9v1.50h-3.9zM64.7 607.9h3.9v1.50h-3.9zM35.9 609.4h3.9v1.50h-3.9zM72.5 609.4h3.9v1.50h-3.9zM59.05 615.2h3.9v1.50h-3.9zM55.1 645.6h3.9v1.50h-3.9zM41.4 706.5h3.9v1.50h-3.9zM45.3 706.5h3.9v1.50h-3.9zM49.2 706.5h3.9v1.50h-3.9zM64.7 708.0h3.9v1.50h-3.9zM28.1 709.4h3.9v1.50h-3.9zM64.7 712.3h3.9v1.50h-3.9zM41.4 713.8h3.9v1.50h-3.9zM72.5 713.8h3.9v1.50h-3.9zM68.6 716.7h3.9v1.50h-3.9zM49.2 718.1h3.9v1.50h-3.9zM41.4 719.6h3.9v1.50h-3.9zM49.2 719.6h3.9v1.50h-3.9zM64.7 721.0h3.9v1.50h-3.9zM41.4 722.5h3.9v1.50h-3.9zM68.6 722.5h3.9v1.50h-3.9zM41.4 723.9h3.9v1.50h-3.9zM72.5 726.8h3.9v1.50h-3.9zM68.6 728.3h3.9v1.50h-3.9zM41.4 731.2h3.9v1.50h-3.9zM49.2 731.2h3.9v1.50h-3.9zM45.3 735.5h3.9v1.50h-3.9zM64.7 737.0h3.9v1.50h-3.9zM72.5 741.3h3.9v1.50h-3.9zM55.1 742.8h3.9v1.50h-3.9zM64.7 742.8h3.9v1.50h-3.9zM72.5 750.0h3.9v1.50h-3.9zM59.05 752.9h3.9v1.50h-3.9zM55.1 755.8h3.9v1.50h-3.9zM55.1 763.1h3.9v1.50h-3.9zM49.2 768.9h3.9v1.50h-3.9zM41.4 771.8h3.9v1.50h-3.9zM49.2 771.8h3.9v1.50h-3.9zM55.1 774.7h3.9v1.50h-3.9zM55.1 777.6h3.9v1.50h-3.9zM45.3 780.5h3.9v1.50h-3.9zM49.2 784.8h3.9v1.50h-3.9zM41.4 786.3h3.9v1.50h-3.9zM49.2 786.3h3.9v1.50h-3.9zM45.3 787.7h3.9v1.50h-3.9zM41.4 789.2h3.9v1.50h-3.9z"/>
<path fill="#8b0c25" d="M28.1 567.3h3.9v1.50h-3.9zM32 568.8h3.9v1.50h-3.9zM32 612.3h3.9v1.50h-3.9zM35.9 612.3h3.9v1.50h-3.9zM35.9 621.0h3.9v1.50h-3.9zM28.1 631.1h3.9v1.50h-3.9zM28.1 647.1h3.9v1.50h-3.9zM32 661.6h3.9v1.50h-3.9zM32 667.4h3.9v1.50h-3.9zM35.9 667.4h3.9v1.50h-3.9zM32 683.3h3.9v1.50h-3.9zM35.9 683.3h3.9v1.50h-3.9zM35.9 690.6h3.9v1.50h-3.9zM32 694.9h3.9v1.50h-3.9zM68.6 774.7h3.9v1.50h-3.9zM72.5 779.0h3.9v1.50h-3.9zM64.7 781.9h3.9v1.50h-3.9zM68.6 781.9h3.9v1.50h-3.9zM72.5 781.9h3.9v1.50h-3.9zM68.6 786.3h3.9v1.50h-3.9z"/>
<path fill="#09376b" d="M64.7 571.7h3.9v1.50h-3.9zM72.5 571.7h3.9v1.50h-3.9zM72.5 573.1h3.9v1.50h-3.9zM64.7 574.6h3.9v1.50h-3.9zM72.5 574.6h3.9v1.50h-3.9zM64.7 578.9h3.9v1.50h-3.9zM68.6 584.7h3.9v1.50h-3.9zM64.7 603.6h3.9v1.50h-3.9zM55.1 706.5h3.9v1.50h-3.9zM59.05 706.5h3.9v1.50h-3.9zM55.1 710.9h3.9v1.50h-3.9zM55.1 712.3h3.9v1.50h-3.9zM55.1 719.6h3.9v1.50h-3.9zM32 738.4h3.9v1.50h-3.9zM28.1 747.1h3.9v1.50h-3.9zM28.1 773.2h3.9v1.50h-3.9z"/>
<path fill="#710321" d="M35.9 578.9h3.9v1.50h-3.9zM32 629.7h3.9v1.50h-3.9zM28.1 650.0h3.9v1.50h-3.9zM32 665.9h3.9v1.50h-3.9zM28.1 693.5h3.9v1.50h-3.9zM28.1 697.8h3.9v1.50h-3.9zM32 697.8h3.9v1.50h-3.9zM68.6 776.1h3.9v1.50h-3.9zM72.5 783.4h3.9v1.50h-3.9z"/>
<path fill="#67001f" d="M28.1 629.7h3.9v1.50h-3.9zM28.1 665.9h3.9v1.50h-3.9zM32 693.5h3.9v1.50h-3.9zM35.9 697.8h3.9v1.50h-3.9zM64.7 760.2h3.9v1.50h-3.9zM68.6 760.2h3.9v1.50h-3.9zM72.5 760.2h3.9v1.50h-3.9zM68.6 792.1h3.9v1.40h-3.9z"/>
<path d="M9.4,633.5L9.4,761.2M9.4,633.5L18.1,633.5M18.1,578.8L18.1,687.0M18.1,578.8L24.1,578.8M18.1,687.0L19.4,687.0M19.4,657.6L19.4,718.0M19.4,657.6L23.0,657.6M19.4,718.0L24.3,718.0M9.4,761.2L21.7,761.2M21.7,732.1L21.7,773.0M21.7,732.1L23.5,732.1M21.7,773.0L23.6,773.0M27.7,556.1L27.8,556.1M27.7,556.8L27.8,556.8M27.6,556.1L27.6,556.8M27.6,556.1L27.7,556.1M27.6,556.8L27.7,556.8M27.8,557.3L27.8,557.3M27.8,558.1L27.8,558.1M27.7,557.3L27.7,558.1M27.7,557.3L27.8,557.3M27.7,558.1L27.8,558.1M27.8,559.0L27.8,559.0M27.8,559.7L27.8,559.7M27.7,559.0L27.7,559.7M27.7,559.0L27.8,559.0M27.7,559.7L27.8,559.7M27.6,557.7L27.6,559.4M27.6,557.7L27.7,557.7M27.6,559.4L27.7,559.4M27.3,556.5L27.3,558.5M27.3,556.5L27.6,556.5M27.3,558.5L27.6,558.5M27.8,560.5L27.8,560.5M27.8,561.4L27.8,561.4M27.6,560.5L27.6,561.4M27.6,560.5L27.8,560.5M27.6,561.4L27.8,561.4M27.8,562.2L27.8,562.2M27.8,563.0L27.8,563.0M27.7,562.2L27.7,563.0M27.7,562.2L27.8,562.2M27.7,563.0L27.8,563.0M27.8,563.6L27.8,563.6M27.8,564.2L27.8,564.2M27.7,563.6L27.7,564.2M27.7,563.6L27.8,563.6M27.7,564.2L27.8,564.2M27.6,562.6L27.6,563.9M27.6,562.6L27.7,562.6M27.6,563.9L27.7,563.9M27.5,561.0L27.5,563.3M27.5,561.0L27.6,561.0M27.5,563.3L27.6,563.3M27.7,565.1L27.8,565.1M27.7,566.0L27.8,566.0M27.7,565.1L27.7,566.0M27.7,565.1L27.7,565.1M27.7,566.0L27.7,566.0M27.7,566.8L27.8,566.8M27.7,567.5L27.8,567.5M27.7,566.8L27.7,567.5M27.7,566.8L27.7,566.8M27.7,567.5L27.7,567.5M27.5,565.6L27.5,567.1M27.5,565.6L27.7,565.6M27.5,567.1L27.7,567.1M27.3,562.1L27.3,566.4M27.3,562.1L27.5,562.1M27.3,566.4L27.5,566.4M26.2,557.5L26.2,564.2M26.2,557.5L27.3,557.5M26.2,564.2L27.3,564.2M27.8,568.2L27.8,568.2M27.8,568.9L27.8,568.9M27.7,568.2L27.7,568.9M27.7,568.2L27.8,568.2M27.7,568.9L27.8,568.9M27.7,569.6L27.8,569.6M27.7,568.5L27.7,569.6M27.7,568.5L27.7,568.5M27.7,569.6L27.7,569.6M27.7,570.4L27.8,570.4M27.8,571.4L27.8,571.4M27.8,572.1L27.8,572.1M27.8,571.4L27.8,572.1M27.8,571.4L27.8,571.4M27.8,572.1L27.8,572.1M27.8,572.9L27.8,572.9M27.7,571.7L27.7,572.9M27.7,571.7L27.8,571.7M27.7,572.9L27.8,572.9M27.7,570.4L27.7,572.3M27.7,570.4L27.7,570.4M27.7,572.3L27.7,572.3M27.3,569.1L27.3,571.4M27.3,569.1L27.7,569.1M27.3,571.4L27.7,571.4M27.8,573.5L27.8,573.5M27.8,574.3L27.8,574.3M27.7,573.5L27.7,574.3M27.7,573.5L27.8,573.5M27.7,574.3L27.8,574.3M27.7,575.2L27.8,575.2M27.8,576.0L27.8,576.0M27.8,576.9L27.8,576.9M27.7,576.0L27.7,576.9M27.7,576.0L27.8,576.0M27.7,576.9L27.8,576.9M27.7,575.2L27.7,576.4M27.7,575.2L27.7,575.2M27.7,576.4L27.7,576.4M27.7,573.9L27.7,575.8M27.7,573.9L27.7,573.9M27.7,575.8L27.7,575.8M27.8,577.7L27.8,577.7M27.8,578.6L27.8,578.6M27.7,577.7L27.7,578.6M27.7,577.7L27.8,577.7M27.7,578.6L27.8,578.6M27.8,579.5L27.8,579.5M27.8,580.4L27.8,580.4M27.7,579.5L27.7,580.4M27.7,579.5L27.8,579.5M27.7,580.4L27.8,580.4M27.7,578.2L27.7,579.9M27.7,578.2L27.7,578.2M27.7,579.9L27.7,579.9M27.3,574.8L27.3,579.0M27.3,574.8L27.7,574.8M27.3,579.0L27.7,579.0M26.2,570.2L26.2,576.9M26.2,570.2L27.3,570.2M26.2,576.9L27.3,576.9M24.7,560.9L24.7,573.6M24.7,560.9L26.2,560.9M24.7,573.6L26.2,573.6M27.7,581.3L27.8,581.3M27.8,582.3L27.8,582.3M27.8,583.0L27.8,583.0M27.7,582.3L27.7,583.0M27.7,582.3L27.8,582.3M27.7,583.0L27.8,583.0M27.6,581.3L27.6,582.7M27.6,581.3L27.7,581.3M27.6,582.7L27.7,582.7M27.7,583.8L27.8,583.8M27.7,584.8L27.8,584.8M27.6,583.8L27.6,584.8M27.6,583.8L27.7,583.8M27.6,584.8L27.7,584.8M27.4,582.0L27.4,584.3M27.4,582.0L27.6,582.0M27.4,584.3L27.6,584.3M27.7,585.8L27.8,585.8M27.8,586.8L27.8,586.8M27.8,587.6L27.8,587.6M27.8,586.8L27.8,587.6M27.8,586.8L27.8,586.8M27.8,587.6L27.8,587.6M27.8,588.4L27.8,588.4M27.7,587.2L27.7,588.4M27.7,587.2L27.8,587.2M27.7,588.4L27.8,588.4M27.7,585.8L27.7,587.8M27.7,585.8L27.7,585.8M27.7,587.8L27.7,587.8M27.8,589.2L27.8,589.2M27.8,589.9L27.8,589.9M27.8,589.2L27.8,589.9M27.8,589.2L27.8,589.2M27.8,589.9L27.8,589.9M27.8,590.8L27.8,590.8M27.8,589.5L27.8,590.8M27.8,589.5L27.8,589.5M27.8,590.8L27.8,590.8M27.8,591.9L27.8,591.9M27.8,592.7L27.8,592.7M27.8,591.9L27.8,592.7M27.8,591.9L27.8,591.9M27.8,592.7L27.8,592.7M27.8,593.4L27.8,593.4M27.8,594.1L27.8,594.1M27.8,593.4L27.8,594.1M27.8,593.4L27.8,593.4M27.8,594.1L27.8,594.1M27.8,592.3L27.8,593.8M27.8,592.3L27.8,592.3M27.8,593.8L27.8,593.8M27.7,590.2L27.7,593.0M27.7,590.2L27.8,590.2M27.7,593.0L27.8,593.0M27.4,586.8L27.4,591.6M27.4,586.8L27.7,586.8M27.4,591.6L27.7,591.6M27.0,583.2L27.0,589.2M27.0,583.2L27.4,583.2M27.0,589.2L27.4,589.2M27.7,594.8L27.8,594.8M27.8,595.3L27.8,595.3M27.8,595.9L27.8,595.9M27.7,595.3L27.7,595.9M27.7,595.3L27.8,595.3M27.7,595.9L27.8,595.9M27.6,594.8L27.6,595.6M27.6,594.8L27.7,594.8M27.6,595.6L27.7,595.6M27.8,596.8L27.8,596.8M27.8,597.4L27.8,597.4M27.8,596.8L27.8,597.4M27.8,596.8L27.8,596.8M27.8,597.4L27.8,597.4M27.8,598.2L27.8,598.2M27.7,597.1L27.7,598.2M27.7,597.1L27.8,597.1M27.7,598.2L27.8,598.2M27.8,598.9L27.8,598.9M27.8,599.6L27.8,599.6M27.7,598.9L27.7,599.6M27.7,598.9L27.8,598.9M27.7,599.6L27.8,599.6M27.6,597.6L27.6,599.2M27.6,597.6L27.7,597.6M27.6,599.2L27.7,599.2M27.4,595.2L27.4,598.4M27.4,595.2L27.6,595.2M27.4,598.4L27.6,598.4M27.7,600.5L27.8,600.5M27.7,601.4L27.8,601.4M27.7,600.5L27.7,601.4M27.7,600.5L27.7,600.5M27.7,601.4L27.7,601.4M27.7,602.3L27.8,602.3M27.6,601.0L27.6,602.3M27.6,601.0L27.7,601.0M27.6,602.3L27.7,602.3M27.8,603.1L27.8,603.1M27.8,603.7L27.8,603.7M27.8,604.4L27.8,604.4M27.8,603.7L27.8,604.4M27.8,603.7L27.8,603.7M27.8,604.4L27.8,604.4M27.7,603.1L27.7,604.0M27.7,603.1L27.8,603.1M27.7,604.0L27.8,604.0M27.7,605.4L27.8,605.4M27.6,603.6L27.6,605.4M27.6,603.6L27.7,603.6M27.6,605.4L27.7,605.4M27.4,601.6L27.4,604.5M27.4,601.6L27.6,601.6M27.4,604.5L27.6,604.5M27.0,596.8L27.0,603.1M27.0,596.8L27.4,596.8M27.0,603.1L27.4,603.1M24.7,586.2L24.7,599.9M24.7,586.2L27.0,586.2M24.7,599.9L27.0,599.9M24.1,567.2L24.1,593.1M24.1,567.2L24.7,567.2M24.1,593.1L24.7,593.1M27.7,606.5L27.8,606.5M27.8,607.3L27.8,607.3M27.8,607.9L27.8,607.9M27.7,607.3L27.7,607.9M27.7,607.3L27.8,607.3M27.7,607.9L27.8,607.9M27.7,606.5L27.7,607.6M27.7,606.5L27.7,606.5M27.7,607.6L27.7,607.6M27.7,608.5L27.8,608.5M27.8,609.1L27.8,609.1M27.8,609.7L27.8,609.7M27.7,609.1L27.7,609.7M27.7,609.1L27.8,609.1M27.7,609.7L27.8,609.7M27.7,608.5L27.7,609.4M27.7,608.5L27.7,608.5M27.7,609.4L27.7,609.4M27.3,607.0L27.3,608.9M27.3,607.0L27.7,607.0M27.3,608.9L27.7,608.9M27.8,610.3L27.8,610.3M27.8,610.9L27.8,610.9M27.7,610.3L27.7,610.9M27.7,610.3L27.8,610.3M27.7,610.9L27.8,610.9M27.7,611.5L27.8,611.5M27.7,610.6L27.7,611.5M27.7,610.6L27.7,610.6M27.7,611.5L27.7,611.5M27.8,612.2L27.8,612.2M27.8,612.8L27.8,612.8M27.7,612.2L27.7,612.8M27.7,612.2L27.8,612.2M27.7,612.8L27.8,612.8M27.6,611.1L27.6,612.5M27.6,611.1L27.7,611.1M27.6,612.5L27.7,612.5M27.7,613.6L27.8,613.6M27.7,614.7L27.8,614.7M27.7,615.8L27.8,615.8M27.7,614.7L27.7,615.8M27.7,614.7L27.7,614.7M27.7,615.8L27.7,615.8M27.6,613.6L27.6,615.3M27.6,613.6L27.7,613.6M27.6,615.3L27.7,615.3M27.3,611.8L27.3,614.4M27.3,611.8L27.6,611.8M27.3,614.4L27.6,614.4M26.7,608.0L26.7,613.1M26.7,608.0L27.3,608.0M26.7,613.1L27.3,613.1M27.7,617.0L27.8,617.0M27.7,617.8L27.8,617.8M27.7,618.5L27.8,618.5M27.7,617.8L27.7,618.5M27.7,617.8L27.7,617.8M27.7,618.5L27.7,618.5M27.6,617.0L27.6,618.2M27.6,617.0L27.7,617.0M27.6,618.2L27.7,618.2M27.8,619.0L27.8,619.0M27.8,619.7L27.8,619.7M27.8,619.0L27.8,619.7M27.8,619.0L27.8,619.0M27.8,619.7L27.8,619.7M27.8,620.7L27.8,620.7M27.8,621.3L27.8,621.3M27.8,620.7L27.8,621.3M27.8,620.7L27.8,620.7M27.8,621.3L27.8,621.3M27.7,619.4L27.7,621.0M27.7,619.4L27.8,619.4M27.7,621.0L27.8,621.0M27.8,622.0L27.8,622.0M27.8,622.7L27.8,622.7M27.8,622.0L27.8,622.7M27.8,622.0L27.8,622.0M27.8,622.7L27.8,622.7M27.8,623.4L27.8,623.4M27.8,624.1L27.8,624.1M27.8,623.4L27.8,624.1M27.8,623.4L27.8,623.4M27.8,624.1L27.8,624.1M27.7,622.4L27.7,623.7M27.7,622.4L27.8,622.4M27.7,623.7L27.8,623.7M27.6,620.2L27.6,623.0M27.6,620.2L27.7,620.2M27.6,623.0L27.7,623.0M27.4,617.6L27.4,621.6M27.4,617.6L27.6,617.6M27.4,621.6L27.6,621.6M27.8,624.7L27.8,624.7M27.8,625.4L27.8,625.4M27.7,624.7L27.7,625.4M27.7,624.7L27.8,624.7M27.7,625.4L27.8,625.4M27.7,626.1L27.8,626.1M27.7,625.0L27.7,626.1M27.7,625.0L27.7,625.0M27.7,626.1L27.7,626.1M27.8,626.7L27.8,626.7M27.8,627.5L27.8,627.5M27.7,626.7L27.7,627.5M27.7,626.7L27.8,626.7M27.7,627.5L27.8,627.5M27.8,628.3L27.8,628.3M27.8,629.0L27.8,629.0M27.7,628.3L27.7,629.0M27.7,628.3L27.8,628.3M27.7,629.0L27.8,629.0M27.7,627.1L27.7,628.6M27.7,627.1L27.7,627.1M27.7,628.6L27.7,628.6M27.4,625.5L27.4,627.9M27.4,625.5L27.7,625.5M27.4,627.9L27.7,627.9M27.1,619.6L27.1,626.7M27.1,619.6L27.4,619.6M27.1,626.7L27.4,626.7M27.8,629.9L27.8,629.9M27.8,630.7L27.8,630.7M27.7,629.9L27.7,630.7M27.7,629.9L27.8,629.9M27.7,630.7L27.8,630.7M27.7,631.5L27.8,631.5M27.7,630.3L27.7,631.5M27.7,630.3L27.7,630.3M27.7,631.5L27.7,631.5M27.8,632.4L27.8,632.4M27.8,633.2L27.8,633.2M27.7,632.4L27.7,633.2M27.7,632.4L27.8,632.4M27.7,633.2L27.8,633.2M27.6,630.9L27.6,632.8M27.6,630.9L27.7,630.9M27.6,632.8L27.7,632.8M27.7,634.2L27.8,634.2M27.7,635.2L27.8,635.2M27.7,634.2L27.7,635.2M27.7,634.2L27.7,634.2M27.7,635.2L27.7,635.2M27.8,636.0L27.8,636.0M27.8,636.7L27.8,636.7M27.7,636.0L27.7,636.7M27.7,636.0L27.8,636.0M27.7,636.7L27.8,636.7M27.8,637.6L27.8,637.6M27.8,638.5L27.8,638.5M27.8,639.5L27.8,639.5M27.8,638.5L27.8,639.5M27.8,638.5L27.8,638.5M27.8,639.5L27.8,639.5M27.7,637.6L27.7,639.0M27.7,637.6L27.8,637.6M27.7,639.0L27.8,639.0M27.7,636.4L27.7,638.3M27.7,636.4L27.7,636.4M27.7,638.3L27.7,638.3M27.6,634.7L27.6,637.3M27.6,634.7L27.7,634.7M27.6,637.3L27.7,637.3M27.1,631.8L27.1,636.0M27.1,631.8L27.6,631.8M27.1,636.0L27.6,636.0M26.7,623.1L26.7,633.9M26.7,623.1L27.1,623.1M26.7,633.9L27.1,633.9M26.1,610.6L26.1,628.5M26.1,610.6L26.7,610.6M26.1,628.5L26.7,628.5M27.8,640.3L27.8,640.3M27.8,641.2L27.8,641.2M27.8,640.3L27.8,641.2M27.8,640.3L27.8,640.3M27.8,641.2L27.8,641.2M27.8,642.1L27.8,642.1M27.7,640.7L27.7,642.1M27.7,640.7L27.8,640.7M27.7,642.1L27.8,642.1M27.8,642.9L27.8,642.9M27.8,643.5L27.8,643.5M27.8,644.2L27.8,644.2M27.8,643.5L27.8,644.2M27.8,643.5L27.8,643.5M27.8,644.2L27.8,644.2M27.7,642.9L27.7,643.9M27.7,642.9L27.8,642.9M27.7,643.9L27.8,643.9M27.3,641.4L27.3,643.4M27.3,641.4L27.7,641.4M27.3,643.4L27.7,643.4M27.8,645.1L27.8,645.1M27.8,646.0L27.8,646.0M27.8,646.7L27.8,646.7M27.8,646.0L27.8,646.7M27.8,646.0L27.8,646.0M27.8,646.7L27.8,646.7M27.7,645.1L27.7,646.3M27.7,645.1L27.8,645.1M27.7,646.3L27.8,646.3M27.7,647.6L27.8,647.6M27.5,645.7L27.5,647.6M27.5,645.7L27.7,645.7M27.5,647.6L27.7,647.6M27.8,648.5L27.8,648.5M27.8,649.1L27.8,649.1M27.7,648.5L27.7,649.1M27.7,648.5L27.8,648.5M27.7,649.1L27.8,649.1M27.8,649.8L27.8,649.8M27.8,650.7L27.8,650.7M27.7,649.8L27.7,650.7M27.7,649.8L27.8,649.8M27.7,650.7L27.8,650.7M27.7,648.8L27.7,650.3M27.7,648.8L27.7,648.8M27.7,650.3L27.7,650.3M27.7,651.8L27.8,651.8M27.8,652.7L27.8,652.7M27.8,653.5L27.8,653.5M27.8,652.7L27.8,653.5M27.8,652.7L27.8,652.7M27.8,653.5L27.8,653.5M27.8,654.5L27.8,654.5M27.7,653.1L27.7,654.5M27.7,653.1L27.8,653.1M27.7,654.5L27.8,654.5M27.7,651.8L27.7,653.8M27.7,651.8L27.7,651.8M27.7,653.8L27.7,653.8M27.5,649.5L27.5,652.8M27.5,649.5L27.7,649.5M27.5,652.8L27.7,652.8M27.3,646.6L27.3,651.2M27.3,646.6L27.5,646.6M27.3,651.2L27.5,651.2M26.1,642.4L26.1,648.9M26.1,642.4L27.3,642.4M26.1,648.9L27.3,648.9M23.6,619.5L23.6,645.6M23.6,619.5L26.1,619.5M23.6,645.6L26.1,645.6M27.8,655.5L27.8,655.5M27.8,656.4L27.8,656.4M27.8,655.5L27.8,656.4M27.8,655.5L27.8,655.5M27.8,656.4L27.8,656.4M27.8,657.1L27.8,657.1M27.7,655.9L27.7,657.1M27.7,655.9L27.8,655.9M27.7,657.1L27.8,657.1M27.7,658.0L27.8,658.0M27.4,656.5L27.4,658.0M27.4,656.5L27.7,656.5M27.4,658.0L27.7,658.0M27.7,659.0L27.8,659.0M27.7,659.7L27.8,659.7M27.7,659.0L27.7,659.7M27.7,659.0L27.7,659.0M27.7,659.7L27.7,659.7M27.8,660.5L27.8,660.5M27.8,661.5L27.8,661.5M27.7,660.5L27.7,661.5M27.7,660.5L27.8,660.5M27.7,661.5L27.8,661.5M27.5,659.4L27.5,661.0M27.5,659.4L27.7,659.4M27.5,661.0L27.7,661.0M27.7,662.4L27.8,662.4M27.7,663.2L27.8,663.2M27.5,662.4L27.5,663.2M27.5,662.4L27.7,662.4M27.5,663.2L27.7,663.2M27.4,660.2L27.4,662.8M27.4,660.2L27.5,660.2M27.4,662.8L27.5,662.8M26.5,657.3L26.5,661.5M26.5,657.3L27.4,657.3M26.5,661.5L27.4,661.5M27.7,664.0L27.8,664.0M27.7,665.0L27.8,665.0M27.7,664.0L27.7,665.0M27.7,664.0L27.7,664.0M27.7,665.0L27.7,665.0M27.7,665.9L27.8,665.9M27.8,666.5L27.8,666.5M27.8,667.2L27.8,667.2M27.7,666.5L27.7,667.2M27.7,666.5L27.8,666.5M27.7,667.2L27.8,667.2M27.7,665.9L27.7,666.9M27.7,665.9L27.7,665.9M27.7,666.9L27.7,666.9M27.5,664.5L27.5,666.4M27.5,664.5L27.7,664.5M27.5,666.4L27.7,666.4M27.7,668.1L27.8,668.1M27.7,669.1L27.8,669.1M27.7,668.1L27.7,669.1M27.7,668.1L27.7,668.1M27.7,669.1L27.7,669.1M27.7,669.9L27.8,669.9M27.7,670.6L27.8,670.6M27.7,669.9L27.7,670.6M27.7,669.9L27.7,669.9M27.7,670.6L27.7,670.6M27.5,668.6L27.5,670.2M27.5,668.6L27.7,668.6M27.5,670.2L27.7,670.2M27.2,665.4L27.2,669.4M27.2,665.4L27.5,665.4M27.2,669.4L27.5,669.4M27.8,671.3L27.8,671.3M27.8,671.9L27.8,671.9M27.8,672.6L27.8,672.6M27.8,671.9L27.8,672.6M27.8,671.9L27.8,671.9M27.8,672.6L27.8,672.6M27.7,671.3L27.7,672.2M27.7,671.3L27.8,671.3M27.7,672.2L27.8,672.2M27.8,673.3L27.8,673.3M27.8,674.2L27.8,674.2M27.7,673.3L27.7,674.2M27.7,673.3L27.8,673.3M27.7,674.2L27.8,674.2M27.7,671.8L27.7,673.8M27.7,671.8L27.7,671.8M27.7,673.8L27.7,673.8M27.8,675.2L27.8,675.2M27.8,675.8L27.8,675.8M27.7,675.2L27.7,675.8M27.7,675.2L27.8,675.2M27.7,675.8L27.8,675.8M27.8,676.4L27.8,676.4M27.8,677.1L27.8,677.1M27.7,676.4L27.7,677.1M27.7,676.4L27.8,676.4M27.7,677.1L27.8,677.1M27.7,675.5L27.7,676.7M27.7,675.5L27.7,675.5M27.7,676.7L27.7,676.7M27.6,672.8L27.6,676.1M27.6,672.8L27.7,672.8M27.6,676.1L27.7,676.1M27.8,677.6L27.8,677.6M27.8,678.2L27.8,678.2M27.8,677.6L27.8,678.2M27.8,677.6L27.8,677.6M27.8,678.2L27.8,678.2M27.8,679.2L27.8,679.2M27.8,680.3L27.8,680.3M27.8,681.2L27.8,681.2M27.8,680.3L27.8,681.2M27.8,680.3L27.8,680.3M27.8,681.2L27.8,681.2M27.8,679.2L27.8,680.8M27.8,679.2L27.8,679.2M27.8,680.8L27.8,680.8M27.6,677.9L27.6,680.0M27.6,677.9L27.8,677.9M27.6,680.0L27.8,680.0M27.2,674.4L27.2,678.9M27.2,674.4L27.6,674.4M27.2,678.9L27.6,678.9M26.5,667.4L26.5,676.7M26.5,667.4L27.2,667.4M26.5,676.7L27.2,676.7M25.4,659.4L25.4,672.1M25.4,659.4L26.5,659.4M25.4,672.1L26.5,672.1M27.7,681.8L27.8,681.8M27.7,682.5L27.8,682.5M27.7,681.8L27.7,682.5M27.7,681.8L27.7,681.8M27.7,682.5L27.7,682.5M27.8,683.2L27.8,683.2M27.8,684.0L27.8,684.0M27.7,683.2L27.7,684.0M27.7,683.2L27.8,683.2M27.7,684.0L27.8,684.0M27.6,682.2L27.6,683.6M27.6,682.2L27.7,682.2M27.6,683.6L27.7,683.6M27.8,685.0L27.8,685.0M27.8,685.9L27.8,685.9M27.8,686.8L27.8,686.8M27.8,687.6L27.8,687.6M27.8,686.8L27.8,687.6M27.8,686.8L27.8,686.8M27.8,687.6L27.8,687.6M27.8,685.9L27.8,687.2M27.8,685.9L27.8,685.9M27.8,687.2L27.8,687.2M27.7,685.0L27.7,686.6M27.7,685.0L27.8,685.0M27.7,686.6L27.8,686.6M27.8,688.2L27.8,688.2M27.8,688.8L27.8,688.8M27.8,688.2L27.8,688.8M27.8,688.2L27.8,688.2M27.8,688.8L27.8,688.8M27.8,689.5L27.8,689.5M27.7,688.5L27.7,689.5M27.7,688.5L27.8,688.5M27.7,689.5L27.8,689.5M27.6,685.8L27.6,689.0M27.6,685.8L27.7,685.8M27.6,689.0L27.7,689.0M27.3,682.9L27.3,687.4M27.3,682.9L27.6,682.9M27.3,687.4L27.6,687.4M27.7,690.2L27.8,690.2M27.7,691.0L27.8,691.0M27.7,691.6L27.8,691.6M27.7,691.0L27.7,691.6M27.7,691.0L27.7,691.0M27.7,691.6L27.7,691.6M27.6,690.2L27.6,691.3M27.6,690.2L27.7,690.2M27.6,691.3L27.7,691.3M27.7,692.3L27.8,692.3M27.7,692.9L27.8,692.9M27.7,692.3L27.7,692.9M27.7,692.3L27.7,692.3M27.7,692.9L27.7,692.9M27.7,693.6L27.8,693.6M27.6,692.6L27.6,693.6M27.6,692.6L27.7,692.6M27.6,693.6L27.7,693.6M27.3,690.8L27.3,693.1M27.3,690.8L27.6,690.8M27.3,693.1L27.6,693.1M26.6,685.1L26.6,691.9M26.6,685.1L27.3,685.1M26.6,691.9L27.3,691.9M27.7,694.5L27.8,694.5M27.8,695.2L27.8,695.2M27.8,695.9L27.8,695.9M27.7,695.2L27.7,695.9M27.7,695.2L27.8,695.2M27.7,695.9L27.8,695.9M27.6,694.5L27.6,695.6M27.6,694.5L27.7,694.5M27.6,695.6L27.7,695.6M27.7,696.5L27.8,696.5M27.7,697.3L27.8,697.3M27.6,696.5L27.6,697.3M27.6,696.5L27.7,696.5M27.6,697.3L27.7,697.3M27.4,695.0L27.4,696.9M27.4,695.0L27.6,695.0M27.4,696.9L27.6,696.9M27.8,698.2L27.8,698.2M27.8,699.0L27.8,699.0M27.8,698.2L27.8,699.0M27.8,698.2L27.8,698.2M27.8,699.0L27.8,699.0M27.8,699.7L27.8,699.7M27.8,698.6L27.8,699.7M27.8,698.6L27.8,698.6M27.8,699.7L27.8,699.7M27.8,700.5L27.8,700.5M27.8,701.1L27.8,701.1M27.8,700.5L27.8,701.1M27.8,700.5L27.8,700.5M27.8,701.1L27.8,701.1M27.6,699.2L27.6,700.8M27.6,699.2L27.8,699.2M27.6,700.8L27.8,700.8M27.8,701.8L27.8,701.8M27.8,702.4L27.8,702.4M27.7,701.8L27.7,702.4M27.7,701.8L27.8,701.8M27.7,702.4L27.8,702.4M27.8,703.1L27.8,703.1M27.8,703.8L27.8,703.8M27.7,703.1L27.7,703.8M27.7,703.1L27.8,703.1M27.7,703.8L27.8,703.8M27.6,702.1L27.6,703.4M27.6,702.1L27.7,702.1M27.6,703.4L27.7,703.4M27.4,700.0L27.4,702.8M27.4,700.0L27.6,700.0M27.4,702.8L27.6,702.8M26.6,696.0L26.6,701.4M26.6,696.0L27.4,696.0M26.6,701.4L27.4,701.4M25.4,688.5L25.4,698.7M25.4,688.5L26.6,688.5M25.4,698.7L26.6,698.7M23.6,665.7L23.6,693.6M23.6,665.7L25.4,665.7M23.6,693.6L25.4,693.6M23.0,632.6L23.0,679.7M23.0,632.6L23.6,632.6M23.0,679.7L23.6,679.7M27.7,704.5L27.8,704.5M27.7,705.5L27.8,705.5M27.5,704.5L27.5,705.5M27.5,704.5L27.7,704.5M27.5,705.5L27.7,705.5M27.5,706.5L27.8,706.5M27.3,705.0L27.3,706.5M27.3,705.0L27.5,705.0M27.3,706.5L27.5,706.5M27.6,707.4L27.8,707.4M27.6,708.1L27.8,708.1M27.3,707.4L27.3,708.1M27.3,707.4L27.6,707.4M27.3,708.1L27.6,708.1M26.3,705.8L26.3,707.7M26.3,705.8L27.3,705.8M26.3,707.7L27.3,707.7M27.6,709.0L27.8,709.0M27.6,710.0L27.8,710.0M27.5,709.0L27.5,710.0M27.5,709.0L27.6,709.0M27.5,710.0L27.6,710.0M27.7,711.0L27.8,711.0M27.8,711.7L27.8,711.7M27.8,712.6L27.8,712.6M27.7,711.7L27.7,712.6M27.7,711.7L27.8,711.7M27.7,712.6L27.8,712.6M27.7,711.0L27.7,712.1M27.7,711.0L27.7,711.0M27.7,712.1L27.7,712.1M27.7,713.6L27.8,713.6M27.7,714.4L27.8,714.4M27.7,713.6L27.7,714.4M27.7,713.6L27.7,713.6M27.7,714.4L27.7,714.4M27.5,711.6L27.5,714.0M27.5,711.6L27.7,711.6M27.5,714.0L27.7,714.0M26.9,709.5L26.9,712.8M26.9,709.5L27.5,709.5M26.9,712.8L27.5,712.8M27.5,715.1L27.8,715.1M27.6,715.7L27.8,715.7M27.6,716.3L27.8,716.3M27.5,715.7L27.5,716.3M27.5,715.7L27.6,715.7M27.5,716.3L27.6,716.3M27.3,715.1L27.3,716.0M27.3,715.1L27.5,715.1M27.3,716.0L27.5,716.0M27.3,717.1L27.8,717.1M26.9,715.6L26.9,717.1M26.9,715.6L27.3,715.6M26.9,717.1L27.3,717.1M26.3,711.2L26.3,716.3M26.3,711.2L26.9,711.2M26.3,716.3L26.9,716.3M24.9,706.8L24.9,713.7M24.9,706.8L26.3,706.8M24.9,713.7L26.3,713.7M27.7,718.0L27.8,718.0M27.8,719.0L27.8,719.0M27.8,719.8L27.8,719.8M27.7,719.0L27.7,719.8M27.7,719.0L27.8,719.0M27.7,719.8L27.8,719.8M27.7,718.0L27.7,719.4M27.7,718.0L27.7,718.0M27.7,719.4L27.7,719.4M27.7,720.3L27.8,720.3M27.7,721.1L27.8,721.1M27.7,720.3L27.7,721.1M27.7,720.3L27.7,720.3M27.7,721.1L27.7,721.1M27.4,718.7L27.4,720.7M27.4,718.7L27.7,718.7M27.4,720.7L27.7,720.7M27.7,721.9L27.8,721.9M27.7,722.6L27.8,722.6M27.7,721.9L27.7,722.6M27.7,721.9L27.7,721.9M27.7,722.6L27.7,722.6M27.8,723.2L27.8,723.2M27.8,724.0L27.8,724.0M27.7,723.2L27.7,724.0M27.7,723.2L27.8,723.2M27.7,724.0L27.8,724.0M27.7,724.8L27.8,724.8M27.7,723.6L27.7,724.8M27.7,723.6L27.7,723.6M27.7,724.8L27.7,724.8M27.4,722.3L27.4,724.2M27.4,722.3L27.7,722.3M27.4,724.2L27.7,724.2M26.5,719.7L26.5,723.2M26.5,719.7L27.4,719.7M26.5,723.2L27.4,723.2M27.6,725.3L27.8,725.3M27.6,726.0L27.8,726.0M27.4,725.3L27.4,726.0M27.4,725.3L27.6,725.3M27.4,726.0L27.6,726.0M27.7,727.0L27.8,727.0M27.7,727.8L27.8,727.8M27.7,728.6L27.8,728.6M27.7,727.8L27.7,728.6M27.7,727.8L27.7,727.8M27.7,728.6L27.7,728.6M27.4,727.0L27.4,728.2M27.4,727.0L27.7,727.0M27.4,728.2L27.7,728.2M27.1,725.7L27.1,727.6M27.1,725.7L27.4,725.7M27.1,727.6L27.4,727.6M27.4,729.6L27.8,729.6M27.4,730.5L27.8,730.5M27.1,729.6L27.1,730.5M27.1,729.6L27.4,729.6M27.1,730.5L27.4,730.5M26.5,726.6L26.5,730.1M26.5,726.6L27.1,726.6M26.5,730.1L27.1,730.1M24.9,721.5L24.9,728.3M24.9,721.5L26.5,721.5M24.9,728.3L26.5,728.3M24.3,710.2L24.3,724.9M24.3,710.2L24.9,710.2M24.3,724.9L24.9,724.9M27.6,731.4L27.8,731.4M27.6,732.0L27.8,732.0M27.4,731.4L27.4,732.0M27.4,731.4L27.6,731.4M27.4,732.0L27.6,732.0M27.4,732.6L27.8,732.6M27.0,731.7L27.0,732.6M27.0,731.7L27.4,731.7M27.0,732.6L27.4,732.6M27.7,733.2L27.8,733.2M27.7,733.8L27.8,733.8M27.7,734.6L27.8,734.6M27.7,733.8L27.7,734.6M27.7,733.8L27.7,733.8M27.7,734.6L27.7,734.6M27.4,733.2L27.4,734.2M27.4,733.2L27.7,733.2M27.4,734.2L27.7,734.2M27.4,735.6L27.8,735.6M27.0,733.7L27.0,735.6M27.0,733.7L27.4,733.7M27.0,735.6L27.4,735.6M25.7,732.1L25.7,734.6M25.7,732.1L27.0,732.1M25.7,734.6L27.0,734.6M27.7,736.4L27.8,736.4M27.7,737.0L27.8,737.0M27.5,736.4L27.5,737.0M27.5,736.4L27.7,736.4M27.5,737.0L27.7,737.0M27.5,737.8L27.8,737.8M27.1,736.7L27.1,737.8M27.1,736.7L27.5,736.7M27.1,737.8L27.5,737.8M27.7,738.7L27.8,738.7M27.7,739.5L27.8,739.5M27.6,738.7L27.6,739.5M27.6,738.7L27.7,738.7M27.6,739.5L27.7,739.5M27.7,740.3L27.8,740.3M27.8,741.4L27.8,741.4M27.8,742.5L27.8,742.5M27.7,741.4L27.7,742.5M27.7,741.4L27.8,741.4M27.7,742.5L27.8,742.5M27.6,740.3L27.6,741.9M27.6,740.3L27.7,740.3M27.6,741.9L27.7,741.9M27.1,739.1L27.1,741.1M27.1,739.1L27.6,739.1M27.1,741.1L27.6,741.1M25.7,737.2L25.7,740.1M25.7,737.2L27.1,737.2M25.7,740.1L27.1,740.1M24.1,733.4L24.1,738.7M24.1,733.4L25.7,733.4M24.1,738.7L25.7,738.7M27.7,743.3L27.8,743.3M27.8,743.8L27.8,743.8M27.8,744.4L27.8,744.4M27.7,743.8L27.7,744.4M27.7,743.8L27.8,743.8M27.7,744.4L27.8,744.4M27.6,743.3L27.6,744.1M27.6,743.3L27.7,743.3M27.6,744.1L27.7,744.1M27.7,745.1L27.8,745.1M27.7,746.0L27.8,746.0M27.6,745.1L27.6,746.0M27.6,745.1L27.7,745.1M27.6,746.0L27.7,746.0M27.1,743.7L27.1,745.6M27.1,743.7L27.6,743.7M27.1,745.6L27.6,745.6M27.5,747.0L27.8,747.0M27.5,747.9L27.8,747.9M27.1,747.0L27.1,747.9M27.1,747.0L27.5,747.0M27.1,747.9L27.5,747.9M26.4,744.6L26.4,747.4M26.4,744.6L27.1,744.6M26.4,747.4L27.1,747.4M27.7,748.6L27.8,748.6M27.7,749.3L27.8,749.3M27.6,748.6L27.6,749.3M27.6,748.6L27.7,748.6M27.6,749.3L27.7,749.3M27.6,750.2L27.8,750.2M27.4,749.0L27.4,750.2M27.4,749.0L27.6,749.0M27.4,750.2L27.6,750.2M27.7,751.1L27.8,751.1M27.7,751.8L27.8,751.8M27.7,751.1L27.7,751.8M27.7,751.1L27.7,751.1M27.7,751.8L27.7,751.8M27.7,752.4L27.8,752.4M27.5,751.5L27.5,752.4M27.5,751.5L27.7,751.5M27.5,752.4L27.7,752.4M27.8,753.1L27.8,753.1M27.8,753.7L27.8,753.7M27.7,753.1L27.7,753.7M27.7,753.1L27.8,753.1M27.7,753.7L27.8,753.7M27.7,754.5L27.8,754.5M27.5,753.4L27.5,754.5M27.5,753.4L27.7,753.4M27.5,754.5L27.7,754.5M27.4,751.9L27.4,753.9M27.4,751.9L27.5,751.9M27.4,753.9L27.5,753.9M26.4,749.6L26.4,752.9M26.4,749.6L27.4,749.6M26.4,752.9L27.4,752.9M24.1,746.0L24.1,751.3M24.1,746.0L26.4,746.0M24.1,751.3L26.4,751.3M23.5,736.0L23.5,748.7M23.5,736.0L24.1,736.0M23.5,748.7L24.1,748.7M27.8,755.2L27.8,755.2M27.8,755.8L27.8,755.8M27.7,755.2L27.7,755.8M27.7,755.2L27.8,755.2M27.7,755.8L27.8,755.8M27.7,756.6L27.8,756.6M27.7,755.5L27.7,756.6M27.7,755.5L27.7,755.5M27.7,756.6L27.7,756.6M27.7,757.3L27.8,757.3M27.3,756.0L27.3,757.3M27.3,756.0L27.7,756.0M27.3,757.3L27.7,757.3M27.5,758.2L27.8,758.2M27.6,759.3L27.8,759.3M27.6,760.4L27.8,760.4M27.5,759.3L27.5,760.4M27.5,759.3L27.6,759.3M27.5,760.4L27.6,760.4M27.3,758.2L27.3,759.8M27.3,758.2L27.5,758.2M27.3,759.8L27.5,759.8M26.1,756.7L26.1,759.0M26.1,756.7L27.3,756.7M26.1,759.0L27.3,759.0M27.7,761.5L27.8,761.5M27.8,762.5L27.8,762.5M27.8,763.4L27.8,763.4M27.7,762.5L27.7,763.4M27.7,762.5L27.8,762.5M27.7,763.4L27.8,763.4M27.6,761.5L27.6,763.0M27.6,761.5L27.7,761.5M27.6,763.0L27.7,763.0M27.8,764.4L27.8,764.4M27.8,765.1L27.8,765.1M27.7,764.4L27.7,765.1M27.7,764.4L27.8,764.4M27.7,765.1L27.8,765.1M27.8,765.7L27.8,765.7M27.8,766.4L27.8,766.4M27.8,765.7L27.8,766.4M27.8,765.7L27.8,765.7M27.8,766.4L27.8,766.4M27.8,767.1L27.8,767.1M27.8,767.8L27.8,767.8M27.8,767.1L27.8,767.8M27.8,767.1L27.8,767.1M27.8,767.8L27.8,767.8M27.7,766.1L27.7,767.5M27.7,766.1L27.8,766.1M27.7,767.5L27.8,767.5M27.6,764.8L27.6,766.8M27.6,764.8L27.7,764.8M27.6,766.8L27.7,766.8M26.9,762.2L26.9,765.8M26.9,762.2L27.6,762.2M26.9,765.8L27.6,765.8M27.7,768.6L27.8,768.6M27.7,769.4L27.8,769.4M27.7,768.6L27.7,769.4M27.7,768.6L27.7,768.6M27.7,769.4L27.7,769.4M27.7,770.1L27.8,770.1M27.7,771.0L27.8,771.0M27.7,770.1L27.7,771.0M27.7,770.1L27.7,770.1M27.7,771.0L27.7,771.0M27.5,769.0L27.5,770.6M27.5,769.0L27.7,769.0M27.5,770.6L27.7,770.6M27.8,771.9L27.8,771.9M27.8,772.7L27.8,772.7M27.7,771.9L27.7,772.7M27.7,771.9L27.8,771.9M27.7,772.7L27.8,772.7M27.7,773.7L27.8,773.7M27.5,772.3L27.5,773.7M27.5,772.3L27.7,772.3M27.5,773.7L27.7,773.7M26.9,769.8L26.9,773.0M26.9,769.8L27.5,769.8M26.9,773.0L27.5,773.0M26.1,764.0L26.1,771.4M26.1,764.0L26.9,764.0M26.1,771.4L26.9,771.4M24.2,757.8L24.2,767.7M24.2,757.8L26.1,757.8M24.2,767.7L26.1,767.7M27.7,774.4L27.8,774.4M27.7,775.1L27.8,775.1M27.7,774.4L27.7,775.1M27.7,774.4L27.7,774.4M27.7,775.1L27.7,775.1M27.7,776.0L27.8,776.0M27.5,774.8L27.5,776.0M27.5,774.8L27.7,774.8M27.5,776.0L27.7,776.0M27.6,776.8L27.8,776.8M27.6,777.6L27.8,777.6M27.5,776.8L27.5,777.6M27.5,776.8L27.6,776.8M27.5,777.6L27.6,777.6M27.2,775.4L27.2,777.2M27.2,775.4L27.5,775.4M27.2,777.2L27.5,777.2M27.8,778.3L27.8,778.3M27.8,779.2L27.8,779.2M27.8,780.2L27.8,780.2M27.8,779.2L27.8,780.2M27.8,779.2L27.8,779.2M27.8,780.2L27.8,780.2M27.7,778.3L27.7,779.7M27.7,778.3L27.8,778.3M27.7,779.7L27.8,779.7M27.8,781.1L27.8,781.1M27.8,782.0L27.8,782.0M27.7,781.1L27.7,782.0M27.7,781.1L27.8,781.1M27.7,782.0L27.8,782.0M27.6,779.0L27.6,781.5M27.6,779.0L27.7,779.0M27.6,781.5L27.7,781.5M27.7,782.9L27.8,782.9M27.7,783.9L27.8,783.9M27.6,782.9L27.6,783.9M27.6,782.9L27.7,782.9M27.6,783.9L27.7,783.9M27.2,780.3L27.2,783.4M27.2,780.3L27.6,780.3M27.2,783.4L27.6,783.4M26.2,776.3L26.2,781.8M26.2,776.3L27.2,776.3M26.2,781.8L27.2,781.8M27.7,784.9L27.8,784.9M27.7,785.9L27.8,785.9M27.6,784.9L27.6,785.9M27.6,784.9L27.7,784.9M27.6,785.9L27.7,785.9M27.7,786.7L27.8,786.7M27.7,787.3L27.8,787.3M27.6,786.7L27.6,787.3M27.6,786.7L27.7,786.7M27.6,787.3L27.7,787.3M27.4,785.4L27.4,787.0M27.4,785.4L27.6,785.4M27.4,787.0L27.6,787.0M27.8,788.1L27.8,788.1M27.8,788.9L27.8,788.9M27.8,788.1L27.8,788.9M27.8,788.1L27.8,788.1M27.8,788.9L27.8,788.9M27.8,789.6L27.8,789.6M27.8,790.3L27.8,790.3M27.8,791.1L27.8,791.1M27.8,790.3L27.8,791.1M27.8,790.3L27.8,790.3M27.8,791.1L27.8,791.1M27.8,789.6L27.8,790.7M27.8,789.6L27.8,789.6M27.8,790.7L27.8,790.7M27.7,788.5L27.7,790.2M27.7,788.5L27.8,788.5M27.7,790.2L27.8,790.2M27.7,792.0L27.8,792.0M27.7,792.9L27.8,792.9M27.7,792.0L27.7,792.9M27.7,792.0L27.7,792.0M27.7,792.9L27.7,792.9M27.4,789.3L27.4,792.4M27.4,789.3L27.7,789.3M27.4,792.4L27.7,792.4M26.2,786.2L26.2,790.9M26.2,786.2L27.4,786.2M26.2,790.9L27.4,790.9M24.2,779.1L24.2,788.5M24.2,779.1L26.2,779.1M24.2,788.5L26.2,788.5M23.6,762.8L23.6,783.8M23.6,762.8L24.2,762.8M23.6,783.8L24.2,783.8" fill="none" stroke="#000" stroke-width="0.6"/>
<text x="79.2" y="578.0" font-size="7.3" font-weight="bold" fill="#111">expression</text>
<defs><linearGradient id="hg" x1="0" y1="0" x2="0" y2="1"><stop offset="0.00" stop-color="#67001f"/><stop offset="0.10" stop-color="#b2182b"/><stop offset="0.20" stop-color="#d6604d"/><stop offset="0.30" stop-color="#f4a582"/><stop offset="0.40" stop-color="#fddbc7"/><stop offset="0.50" stop-color="#f7f7f7"/><stop offset="0.60" stop-color="#d1e5f0"/><stop offset="0.70" stop-color="#92c5de"/><stop offset="0.80" stop-color="#4393c3"/><stop offset="0.90" stop-color="#2166ac"/><stop offset="1.00" stop-color="#053061"/></linearGradient></defs>
<rect x="79.40" y="581.00" width="8.00" height="38.40" fill="url(#hg)"/>
<line x1="79.40" y1="581.80" x2="81.00" y2="581.80" stroke="#fff" stroke-width="0.6"/>
<line x1="85.80" y1="581.80" x2="87.40" y2="581.80" stroke="#fff" stroke-width="0.6"/>
<text x="88.8" y="584.2" font-size="7.0" fill="#222">2</text>
<line x1="79.40" y1="591.20" x2="81.00" y2="591.20" stroke="#fff" stroke-width="0.6"/>
<line x1="85.80" y1="591.20" x2="87.40" y2="591.20" stroke="#fff" stroke-width="0.6"/>
<text x="88.8" y="593.6" font-size="7.0" fill="#222">1</text>
<line x1="79.40" y1="599.90" x2="81.00" y2="599.90" stroke="#fff" stroke-width="0.6"/>
<line x1="85.80" y1="599.90" x2="87.40" y2="599.90" stroke="#fff" stroke-width="0.6"/>
<text x="88.8" y="602.3" font-size="7.0" fill="#222">0</text>
<line x1="79.40" y1="608.50" x2="81.00" y2="608.50" stroke="#fff" stroke-width="0.6"/>
<line x1="85.80" y1="608.50" x2="87.40" y2="608.50" stroke="#fff" stroke-width="0.6"/>
<text x="88.8" y="610.9" font-size="7.0" fill="#222">−1</text>
<line x1="79.40" y1="617.00" x2="81.00" y2="617.00" stroke="#fff" stroke-width="0.6"/>
<line x1="85.80" y1="617.00" x2="87.40" y2="617.00" stroke="#fff" stroke-width="0.6"/>
<text x="88.8" y="619.4" font-size="7.0" fill="#222">−2</text>
<text x="79.2" y="634.6" font-size="7.3" font-weight="bold" fill="#111">condition</text>
<rect x="79.80" y="635.90" width="6.60" height="7.20" fill="#c8d2db"/>
<text x="88.6" y="641.9" font-size="7.2" font-style="italic" fill="#222">gfp(RNAi)</text>
<rect x="79.80" y="644.40" width="6.60" height="7.20" fill="#fba75e"/>
<text x="88.6" y="650.4" font-size="7.2" font-style="italic" fill="#222">hnf4(RNAi)</text>
<rect x="79.80" y="653.40" width="6.60" height="7.20" fill="#d6a3c9"/>
<text x="88.6" y="659.4" font-size="7.2" font-style="italic" fill="#222">hnf4(RNAi)+foxF-1(RNAi)</text>
<rect x="79.80" y="662.00" width="6.60" height="7.20" fill="#a9d9a0"/>
<text x="88.6" y="668.0" font-size="7.2" font-style="italic" fill="#222">hnf4(RNAi)+nkx2−2(RNAi)</text>
<text x="79.2" y="698.2" font-size="7.3" font-weight="bold" fill="#111">batch</text>
<rect x="79.80" y="702.10" width="6.60" height="6.60" fill="#f8676b"/>
<text x="88.6" y="707.8" font-size="7.2" fill="#222">R1</text>
<rect x="79.80" y="708.90" width="6.60" height="6.60" fill="#6ced6c"/>
<text x="88.6" y="714.6" font-size="7.2" fill="#222">R2</text>
<rect x="79.80" y="715.70" width="6.60" height="6.60" fill="#6a6cf8"/>
<text x="88.6" y="721.4" font-size="7.2" fill="#222">R3</text>
<text x="143.3" y="519.6" font-size="14.0" font-weight="bold">I</text>
<text x="157.6" y="518.6" font-size="7.3" font-weight="bold">Overlaps of differentially expressed genes</text>
<line x1="284.60" y1="660.75" x2="457.00" y2="660.75" stroke="#e2e2e2" stroke-width="0.7"/>
<line x1="284.60" y1="617.50" x2="457.00" y2="617.50" stroke="#e2e2e2" stroke-width="0.7"/>
<line x1="284.60" y1="574.25" x2="457.00" y2="574.25" stroke="#e2e2e2" stroke-width="0.7"/>
<line x1="284.60" y1="531.00" x2="457.00" y2="531.00" stroke="#e2e2e2" stroke-width="0.7"/>
<path fill="#383838" d="M289.10 550.03h3.9V704h-3.9zM295.23 611.88h3.9V704h-3.9zM301.36 660.32h3.9V704h-3.9zM307.49 665.51h3.9V704h-3.9zM313.62 672.00h3.9V704h-3.9zM319.75 678.05h3.9V704h-3.9zM325.88 678.48h3.9V704h-3.9zM332.01 680.64h3.9V704h-3.9zM338.14 689.29h3.9V704h-3.9zM344.27 693.62h3.9V704h-3.9zM350.40 694.49h3.9V704h-3.9zM356.53 695.78h3.9V704h-3.9zM362.66 697.08h3.9V704h-3.9zM368.79 698.38h3.9V704h-3.9zM374.92 701.40h3.9V704h-3.9zM381.05 701.40h3.9V704h-3.9zM387.18 701.84h3.9V704h-3.9zM393.31 702.27h3.9V704h-3.9zM399.44 702.70h3.9V704h-3.9zM405.57 702.70h3.9V704h-3.9zM411.70 702.70h3.9V704h-3.9zM417.83 703.13h3.9V704h-3.9zM423.96 703.13h3.9V704h-3.9zM430.09 703.57h3.9V704h-3.9zM436.22 703.57h3.9V704h-3.9zM442.35 703.57h3.9V704h-3.9zM448.48 703.57h3.9V704h-3.9z"/>
<line x1="284.60" y1="528.00" x2="284.60" y2="704.60" stroke="#333" stroke-width="1.1"/>
<line x1="284.00" y1="704.30" x2="457.00" y2="704.30" stroke="#333" stroke-width="1.1"/>
<line x1="282.80" y1="704.00" x2="284.60" y2="704.00" stroke="#333" stroke-width="0.7"/>
<text x="282.0" y="706.4" font-size="7.0" text-anchor="end" fill="#555">0</text>
<line x1="282.80" y1="660.75" x2="284.60" y2="660.75" stroke="#333" stroke-width="0.7"/>
<text x="282.0" y="663.1" font-size="7.0" text-anchor="end" fill="#555">100</text>
<line x1="282.80" y1="617.50" x2="284.60" y2="617.50" stroke="#333" stroke-width="0.7"/>
<text x="282.0" y="619.9" font-size="7.0" text-anchor="end" fill="#555">200</text>
<line x1="282.80" y1="574.25" x2="284.60" y2="574.25" stroke="#333" stroke-width="0.7"/>
<text x="282.0" y="576.6" font-size="7.0" text-anchor="end" fill="#555">300</text>
<line x1="282.80" y1="531.00" x2="284.60" y2="531.00" stroke="#333" stroke-width="0.7"/>
<text x="282.0" y="533.4" font-size="7.0" text-anchor="end" fill="#555">400</text>
<text transform="translate(263.8,611.0) rotate(-90)" font-size="7.3" text-anchor="middle" fill="#222">Intersection Size (number of genes)</text>
<text x="294.4" y="547.4" font-size="7.3" text-anchor="middle" fill="#444">356</text>
<text x="300.4" y="610.0" font-size="7.3" text-anchor="middle" fill="#444">213</text>
<text x="306.6" y="632.8" font-size="7.3" text-anchor="middle" fill="#444">101</text>
<text x="311.6" y="643.4" font-size="7.3" text-anchor="middle" fill="#444">89</text>
<text x="317.6" y="652.8" font-size="7.3" text-anchor="middle" fill="#444">74</text>
<text x="323.9" y="659.1" font-size="7.3" text-anchor="middle" fill="#444">60</text>
<text x="330.0" y="666.5" font-size="7.3" text-anchor="middle" fill="#444">59</text>
<text x="342.2" y="669.6" font-size="7.3" text-anchor="middle" fill="#444">54</text>
<text x="346.3" y="677.0" font-size="7.3" text-anchor="middle" fill="#444">34</text>
<text x="346.2" y="685.4" font-size="7.3" text-anchor="middle" fill="#444">24</text>
<text x="357.0" y="682.2" font-size="7.3" text-anchor="middle" fill="#444">22</text>
<text x="358.9" y="692.8" font-size="7.3" text-anchor="middle" fill="#444">19</text>
<text x="370.1" y="684.3" font-size="7.3" text-anchor="middle" fill="#444">16</text>
<text x="371.2" y="695.4" font-size="7.3" text-anchor="middle" fill="#444">13</text>
<text x="376.9" y="699.2" font-size="7.3" text-anchor="middle" fill="#444">6</text>
<text x="383.0" y="699.2" font-size="7.3" text-anchor="middle" fill="#444">6</text>
<text x="389.1" y="699.2" font-size="7.3" text-anchor="middle" fill="#444">5</text>
<text x="395.3" y="699.2" font-size="7.3" text-anchor="middle" fill="#444">4</text>
<text x="401.4" y="699.2" font-size="7.3" text-anchor="middle" fill="#444">3</text>
<text x="407.5" y="699.2" font-size="7.3" text-anchor="middle" fill="#444">3</text>
<text x="413.7" y="699.2" font-size="7.3" text-anchor="middle" fill="#444">3</text>
<text x="419.8" y="699.2" font-size="7.3" text-anchor="middle" fill="#444">2</text>
<text x="425.9" y="699.2" font-size="7.3" text-anchor="middle" fill="#444">2</text>
<text x="432.0" y="699.2" font-size="7.3" text-anchor="middle" fill="#444">1</text>
<text x="438.2" y="699.2" font-size="7.3" text-anchor="middle" fill="#444">1</text>
<text x="444.3" y="699.2" font-size="7.3" text-anchor="middle" fill="#444">1</text>
<text x="450.4" y="699.2" font-size="7.3" text-anchor="middle" fill="#444">1</text>
<line x1="303.50" y1="634.00" x2="303.50" y2="659.00" stroke="#333" stroke-width="0.7"/>
<line x1="309.50" y1="644.70" x2="309.50" y2="664.40" stroke="#333" stroke-width="0.7"/>
<line x1="315.50" y1="655.50" x2="315.50" y2="671.50" stroke="#333" stroke-width="0.7"/>
<line x1="321.70" y1="661.50" x2="321.70" y2="677.80" stroke="#333" stroke-width="0.7"/>
<line x1="327.90" y1="668.80" x2="327.90" y2="678.20" stroke="#333" stroke-width="0.7"/>
<line x1="339.00" y1="670.40" x2="334.00" y2="678.80" stroke="#333" stroke-width="0.7"/>
<line x1="343.00" y1="677.50" x2="341.00" y2="686.70" stroke="#333" stroke-width="0.7"/>
<line x1="346.20" y1="686.00" x2="346.20" y2="692.50" stroke="#333" stroke-width="0.7"/>
<line x1="356.20" y1="683.60" x2="352.30" y2="692.50" stroke="#333" stroke-width="0.7"/>
<line x1="368.00" y1="685.40" x2="364.60" y2="695.90" stroke="#333" stroke-width="0.7"/>
<path d="M309.3,532.3 L302.4,538.8" stroke="#2a9d3a" stroke-width="1.1" fill="none"/>
<path d="M300.6,540.6 L301.2,535.8 L305.1,539.6 Z" fill="#2a9d3a"/>
<path d="M321.6,618.0 L314.8,624.4" stroke="#c04a98" stroke-width="1.1" fill="none"/>
<path d="M313.0,626.4 L313.6,621.6 L317.5,625.4 Z" fill="#c04a98"/>
<rect x="285.40" y="705.60" width="171.60" height="12.45" fill="#f2f2f2"/>
<rect x="285.40" y="730.60" width="171.60" height="12.45" fill="#f2f2f2"/>
<rect x="285.40" y="755.60" width="171.60" height="12.45" fill="#f2f2f2"/>
<path d="M291.05 711.8h0M291.05 724.3h0M291.05 736.8h0M291.05 749.3h0M297.18 711.8h0M297.18 724.3h0M297.18 736.8h0M297.18 761.8h0M303.31 711.8h0M303.31 736.8h0M303.31 749.3h0M303.31 761.8h0M309.44 711.8h0M309.44 724.3h0M309.44 749.3h0M309.44 761.8h0M315.57 711.8h0M315.57 749.3h0M321.70 711.8h0M327.83 724.3h0M327.83 736.8h0M327.83 749.3h0M327.83 761.8h0M333.96 711.8h0M333.96 724.3h0M333.96 749.3h0M340.09 711.8h0M340.09 724.3h0M340.09 736.8h0M346.22 711.8h0M346.22 736.8h0M346.22 749.3h0M352.35 711.8h0M352.35 724.3h0M358.48 724.3h0M358.48 736.8h0M358.48 761.8h0M370.74 711.8h0M370.74 749.3h0M370.74 761.8h0M376.87 711.8h0M376.87 736.8h0M376.87 761.8h0M383.00 711.8h0M383.00 724.3h0M383.00 761.8h0M389.13 724.3h0M395.26 711.8h0M395.26 736.8h0M401.39 711.8h0M401.39 761.8h0M407.52 724.3h0M407.52 736.8h0M407.52 749.3h0M413.65 749.3h0M419.78 736.8h0M419.78 761.8h0M425.91 761.8h0M432.04 736.8h0M432.04 749.3h0M432.04 761.8h0M438.17 724.3h0M438.17 761.8h0M444.30 724.3h0M444.30 749.3h0M450.43 724.3h0M450.43 736.8h0" stroke="#dcdcdc" stroke-width="3.1" stroke-linecap="round"/>
<path d="M315.57 724.3V761.8M321.70 724.3V761.8M333.96 736.8V761.8M340.09 749.3V761.8M346.22 724.3V761.8M352.35 736.8V761.8M358.48 711.8V749.3M364.61 711.8V761.8M370.74 724.3V736.8M376.87 724.3V749.3M383.00 736.8V749.3M389.13 711.8V761.8M395.26 724.3V761.8M401.39 724.3V749.3M407.52 711.8V761.8M413.65 711.8V761.8M419.78 711.8V749.3M425.91 711.8V749.3M432.04 711.8V724.3M438.17 711.8V749.3M444.30 711.8V761.8M450.43 711.8V761.8" stroke="#3a3a3a" stroke-width="0.9"/>
<path d="M291.05 761.8h0M297.18 749.3h0M303.31 724.3h0M309.44 736.8h0M315.57 724.3h0M315.57 736.8h0M315.57 761.8h0M321.70 724.3h0M321.70 736.8h0M321.70 749.3h0M321.70 761.8h0M327.83 711.8h0M333.96 736.8h0M333.96 761.8h0M340.09 749.3h0M340.09 761.8h0M346.22 724.3h0M346.22 761.8h0M352.35 736.8h0M352.35 749.3h0M352.35 761.8h0M358.48 711.8h0M358.48 749.3h0M364.61 711.8h0M364.61 724.3h0M364.61 736.8h0M364.61 749.3h0M364.61 761.8h0M370.74 724.3h0M370.74 736.8h0M376.87 724.3h0M376.87 749.3h0M383.00 736.8h0M383.00 749.3h0M389.13 711.8h0M389.13 736.8h0M389.13 749.3h0M389.13 761.8h0M395.26 724.3h0M395.26 749.3h0M395.26 761.8h0M401.39 724.3h0M401.39 736.8h0M401.39 749.3h0M407.52 711.8h0M407.52 761.8h0M413.65 711.8h0M413.65 724.3h0M413.65 736.8h0M413.65 761.8h0M419.78 711.8h0M419.78 724.3h0M419.78 749.3h0M425.91 711.8h0M425.91 724.3h0M425.91 736.8h0M425.91 749.3h0M432.04 711.8h0M432.04 724.3h0M438.17 711.8h0M438.17 736.8h0M438.17 749.3h0M444.30 711.8h0M444.30 736.8h0M444.30 761.8h0M450.43 711.8h0M450.43 749.3h0M450.43 761.8h0" stroke="#2e2e2e" stroke-width="3.2" stroke-linecap="round"/>
<text x="238.4" y="714.7" font-size="7.35" text-anchor="middle" fill="#222"><tspan font-style="italic">hnf4(RNAi)</tspan>(parenchyma)</text>
<text x="238.4" y="727.2" font-size="7.35" text-anchor="middle" fill="#222"><tspan font-style="italic">hnf4(RNAi)+foxF-1(RNAi)</tspan></text>
<text x="238.4" y="739.7" font-size="7.35" text-anchor="middle" fill="#222"><tspan font-style="italic">hnf4(RNAi)</tspan></text>
<text x="238.4" y="752.2" font-size="7.35" text-anchor="middle" fill="#222"><tspan font-style="italic">hnf4(RNAi)</tspan>(phagocytes)</text>
<text x="238.4" y="764.7" font-size="7.35" text-anchor="middle" fill="#222"><tspan font-style="italic">hnf4(RNAi)+nkx2−2(RNAi)</tspan></text>
<rect x="179.00" y="709.00" width="10.50" height="6.10" fill="#2b82c4"/>
<rect x="162.80" y="721.40" width="26.70" height="6.30" fill="#9142b4"/>
<rect x="159.10" y="733.80" width="30.40" height="6.20" fill="#e7a30e"/>
<rect x="155.60" y="746.50" width="33.90" height="6.30" fill="#7f5534"/>
<rect x="133.90" y="758.90" width="55.60" height="5.90" fill="#23a36b"/>
<line x1="131.80" y1="768.00" x2="191.20" y2="768.00" stroke="#333" stroke-width="1.0"/>
<line x1="137.70" y1="768.00" x2="137.70" y2="769.80" stroke="#333" stroke-width="0.7"/>
<text x="137.7" y="776.4" font-size="7.1" text-anchor="middle" fill="#555">600</text>
<line x1="154.30" y1="768.00" x2="154.30" y2="769.80" stroke="#333" stroke-width="0.7"/>
<text x="154.3" y="776.4" font-size="7.1" text-anchor="middle" fill="#555">400</text>
<line x1="171.10" y1="768.00" x2="171.10" y2="769.80" stroke="#333" stroke-width="0.7"/>
<text x="171.1" y="776.4" font-size="7.1" text-anchor="middle" fill="#555">200</text>
<line x1="188.80" y1="768.00" x2="188.80" y2="769.80" stroke="#333" stroke-width="0.7"/>
<text x="188.8" y="776.4" font-size="7.1" text-anchor="middle" fill="#555">0</text>
<text x="135.8" y="784.4" font-size="7.3" fill="#222">Set Size (number</text>
<text x="135.8" y="793.0" font-size="7.3" fill="#222">of genes)</text>
<text x="472.6" y="520.0" font-size="14.0" font-weight="bold">J</text>
<text x="521.4" y="531.8" font-size="7.3" text-anchor="middle" fill="#222">Interaction score</text>
<text x="521.4" y="539.2" font-size="7.3" text-anchor="middle" fill="#222">of <tspan font-style="italic">foxF-1</tspan> predicted targets</text>
<text x="521.4" y="546.1" font-size="7.3" text-anchor="middle" fill="#222">(double RNAi with <tspan font-style="italic">hnf4</tspan>)</text>
<line x1="502.00" y1="566.40" x2="502.00" y2="653.40" stroke="#222" stroke-width="1.0"/>
<line x1="497.70" y1="653.40" x2="502.00" y2="653.40" stroke="#222" stroke-width="1.0"/>
<text x="493.7" y="656.1" font-size="7.5" text-anchor="end" fill="#333">0.5</text>
<line x1="497.70" y1="631.65" x2="502.00" y2="631.65" stroke="#222" stroke-width="1.0"/>
<text x="493.7" y="634.4" font-size="7.5" text-anchor="end" fill="#333">0.6</text>
<line x1="497.70" y1="609.90" x2="502.00" y2="609.90" stroke="#222" stroke-width="1.0"/>
<text x="493.7" y="612.6" font-size="7.5" text-anchor="end" fill="#333">0.7</text>
<line x1="497.70" y1="588.15" x2="502.00" y2="588.15" stroke="#222" stroke-width="1.0"/>
<text x="493.7" y="590.9" font-size="7.5" text-anchor="end" fill="#333">0.8</text>
<line x1="497.70" y1="566.40" x2="502.00" y2="566.40" stroke="#222" stroke-width="1.0"/>
<text x="493.7" y="569.1" font-size="7.5" text-anchor="end" fill="#333">0.9</text>
<text transform="translate(479.4,608.3) rotate(-90)" font-size="7.4" text-anchor="middle" fill="#222">Interaction score</text>
<rect x="504.60" y="595.76" width="11.40" height="38.06" fill="#c7d3db" stroke="#3f5564" stroke-width="0.9"/>
<path d="M511.0 607.6h0M511.9 625.6h0M510.3 648.1h0M509.6 633.7h0M511.9 592.9h0M507.8 625.0h0M512.3 641.5h0M509.4 594.4h0M512.7 629.4h0M512.0 627.9h0M510.0 598.5h0M510.2 581.6h0M512.3 632.4h0M508.7 604.1h0M511.7 636.9h0M511.5 571.8h0M512.1 615.7h0M512.4 598.7h0M510.0 619.9h0M509.7 596.0h0M511.5 630.3h0M510.3 648.6h0M508.8 564.8h0M511.0 572.8h0M509.5 627.4h0M510.8 653.0h0M508.0 629.9h0M509.6 640.4h0M512.5 567.8h0M512.9 651.2h0M512.4 645.8h0M508.9 619.5h0M508.0 658.4h0M510.2 640.5h0M509.0 661.7h0M508.5 617.9h0M512.5 621.0h0M510.2 641.3h0M510.4 597.3h0M508.7 594.6h0M512.4 639.8h0M510.7 578.2h0M510.5 654.1h0M507.7 604.6h0M507.7 556.3h0M512.2 569.2h0M509.8 585.1h0M508.3 636.6h0M507.7 630.2h0M512.3 628.5h0M510.5 590.5h0M508.8 615.0h0M509.6 626.8h0M507.8 573.0h0M511.8 559.6h0M510.1 595.4h0M508.5 604.7h0M511.4 585.3h0M509.7 632.2h0M509.2 599.5h0M512.7 573.1h0M510.3 610.9h0M509.3 555.8h0M510.6 574.0h0M512.9 602.8h0M513.0 621.7h0M508.0 630.9h0M510.0 640.9h0M511.1 594.9h0M509.7 614.1h0M507.9 625.2h0M511.4 624.4h0M510.1 641.9h0M510.2 619.2h0M508.1 556.0h0M511.5 615.1h0M511.0 640.3h0M512.2 568.2h0M508.9 567.5h0M510.9 651.9h0M512.9 634.9h0M509.3 621.9h0M510.6 628.3h0M512.7 622.3h0M508.2 576.7h0M508.7 642.5h0M511.3 609.4h0M509.3 597.6h0M508.4 601.6h0M510.8 587.5h0M512.7 619.4h0M510.9 617.2h0M509.7 627.2h0M512.8 626.7h0M512.6 603.0h0M510.3 595.0h0M511.4 610.7h0M510.5 633.5h0M510.1 622.1h0M508.3 652.3h0M510.5 561.8h0M509.8 626.7h0M511.9 586.5h0M512.4 636.0h0M508.0 611.7h0M511.7 641.3h0M512.0 631.6h0M510.1 570.1h0M509.1 653.3h0M511.0 622.5h0M508.0 661.1h0M508.6 567.7h0M507.8 631.6h0M511.1 607.9h0M512.6 629.9h0M511.3 578.9h0M508.0 574.1h0M507.8 656.9h0M511.0 613.6h0M510.3 606.8h0M512.0 601.4h0M508.8 643.2h0M510.5 558.5h0M509.7 634.7h0M511.9 635.7h0M510.9 620.4h0M511.1 564.5h0M510.5 598.4h0M513.0 657.1h0M511.6 563.7h0M508.0 652.5h0M510.5 627.0h0M508.3 652.6h0M510.7 617.7h0M508.7 608.5h0M510.4 598.5h0M508.3 648.1h0M511.1 617.7h0M511.1 564.7h0M509.6 617.5h0M510.5 623.7h0M512.0 632.5h0M511.6 562.6h0M509.6 554.7h0M511.2 633.7h0M513.0 571.9h0M511.6 625.2h0M507.9 649.0h0M510.3 602.4h0M511.0 619.0h0M512.3 567.1h0M509.0 580.3h0M512.6 563.0h0M512.4 601.6h0M511.0 622.1h0M509.0 602.2h0M508.8 583.5h0M511.5 614.9h0M509.4 607.7h0M508.6 580.5h0M511.4 631.6h0M512.4 629.1h0M511.5 594.9h0M510.3 577.4h0M511.0 652.2h0M509.5 580.6h0M510.1 569.5h0M511.9 586.5h0M510.1 609.3h0M510.7 611.5h0M508.5 615.2h0M509.4 582.3h0M508.6 632.0h0M512.2 610.1h0M510.5 629.6h0M511.7 618.4h0M510.5 607.2h0M510.8 624.6h0M510.7 626.1h0M511.2 647.9h0M509.3 622.3h0M511.8 652.7h0M512.4 614.9h0M508.6 571.8h0M512.8 660.8h0M510.5 566.0h0M511.2 620.9h0M511.9 579.7h0M508.1 622.9h0M511.7 603.6h0M508.2 622.1h0M508.9 577.5h0M509.9 600.9h0M510.2 569.8h0M508.7 580.7h0M509.4 622.2h0M509.9 599.1h0M508.8 632.6h0M511.2 653.3h0M510.0 609.1h0M509.6 573.9h0M512.1 611.2h0M509.4 575.9h0M508.4 638.3h0M511.2 563.9h0M508.9 637.4h0M509.7 653.6h0M509.7 658.3h0M509.0 584.5h0M511.6 570.5h0M512.4 559.7h0M510.3 634.5h0M512.8 574.5h0M511.2 578.0h0M509.7 628.9h0M508.1 633.7h0M507.9 604.8h0M510.4 591.2h0M511.4 616.9h0M511.5 618.9h0M511.4 620.5h0M509.0 634.4h0M511.4 582.8h0M509.5 659.2h0M511.0 652.8h0M511.8 655.0h0M508.5 620.9h0M507.7 625.7h0M510.7 658.1h0M512.2 560.7h0M511.7 588.8h0M509.3 598.5h0M509.7 625.6h0M511.6 560.4h0M509.3 585.7h0M512.3 617.3h0M512.8 660.7h0M511.3 649.7h0M510.9 588.0h0M512.5 637.3h0M510.2 606.6h0M510.6 658.3h0M511.5 603.2h0M508.4 622.0h0M507.9 569.7h0M510.0 634.8h0M510.9 580.7h0M511.6 617.0h0M511.7 622.5h0M512.5 631.2h0M509.3 618.2h0M510.5 620.4h0M507.9 613.5h0M508.9 626.1h0M512.1 622.7h0M511.8 576.2h0M510.9 582.7h0M511.7 573.7h0M509.0 557.4h0M510.5 555.4h0M511.5 660.4h0M509.9 605.3h0M509.0 585.5h0M511.0 644.3h0M512.8 622.7h0M511.4 613.4h0M512.8 572.9h0M509.9 586.0h0M511.2 607.8h0M509.9 607.5h0M509.6 622.7h0M513.0 608.3h0M512.2 644.7h0M512.4 611.5h0M509.6 620.0h0M507.9 617.5h0M508.9 556.2h0M511.9 621.1h0M508.5 604.5h0M511.2 566.0h0M512.2 597.4h0M510.8 601.1h0M512.0 618.7h0M508.5 632.2h0M511.1 611.5h0M512.8 618.5h0M508.7 608.2h0M508.2 588.3h0M509.7 629.4h0M511.9 573.1h0M511.5 630.6h0M512.9 605.2h0M509.5 585.4h0M508.1 621.7h0M512.0 608.9h0M511.9 559.2h0M507.9 609.3h0M509.0 566.5h0M511.9 623.5h0M512.6 604.1h0M509.4 580.1h0M508.6 636.6h0M511.7 603.8h0M512.8 616.8h0M511.2 623.4h0M510.1 635.4h0M509.4 555.6h0M511.8 623.9h0M512.6 613.0h0M510.5 609.9h0M510.3 648.1h0M508.4 641.1h0M512.8 651.5h0M509.8 648.7h0M508.7 623.3h0M507.9 606.0h0M511.6 571.1h0M509.1 557.4h0M509.1 611.7h0M511.3 636.1h0M510.2 656.0h0M509.6 620.7h0M507.7 608.9h0M512.8 590.5h0M509.3 571.4h0M512.5 566.4h0M511.0 584.6h0M509.3 605.5h0M510.8 590.3h0M509.0 632.4h0M510.4 651.8h0M509.0 555.3h0M511.9 563.5h0M511.8 615.8h0M511.0 615.3h0M511.2 656.0h0M510.2 627.9h0M512.7 569.3h0M510.2 613.6h0M508.4 598.9h0M511.1 632.3h0M512.6 586.5h0M512.7 587.4h0M512.3 654.0h0M509.9 620.6h0M509.7 654.4h0M508.6 602.6h0M510.6 653.2h0M510.5 655.4h0M509.8 571.9h0M508.4 582.8h0M510.7 610.8h0M511.2 589.3h0M512.1 613.8h0M511.1 577.8h0M510.4 600.6h0M512.7 615.5h0M509.0 650.7h0M507.7 654.8h0M511.2 615.9h0M511.5 621.1h0M511.4 627.1h0M510.2 607.4h0M512.9 648.2h0M510.2 642.0h0M508.0 580.2h0M511.7 639.5h0M513.0 647.0h0M508.0 596.5h0M512.0 612.1h0M509.6 563.1h0M510.8 562.8h0M507.6 608.8h0M511.7 629.5h0M508.0 606.5h0M512.6 607.4h0M509.7 610.4h0M507.7 592.6h0M510.2 599.9h0M511.3 590.2h0M511.8 657.4h0M510.7 634.1h0M511.8 581.5h0M511.0 610.1h0M508.1 640.1h0M509.7 620.2h0M510.6 585.0h0M511.1 622.2h0M508.3 596.5h0M510.1 644.5h0M511.9 609.2h0M510.5 606.7h0M509.3 601.1h0M512.3 604.8h0M512.2 652.4h0M509.9 612.8h0M511.2 642.0h0M510.0 653.0h0M508.7 620.5h0M512.5 590.4h0M508.2 577.3h0M508.4 612.4h0M509.9 652.6h0M509.1 619.6h0M509.6 661.1h0M509.4 575.9h0M509.3 631.4h0M509.9 604.6h0M509.1 608.9h0M510.9 587.7h0M512.3 568.7h0M508.9 554.9h0M509.6 650.1h0M512.8 598.8h0M508.2 654.3h0M511.4 608.2h0M513.0 633.7h0M510.1 632.2h0M510.5 602.8h0M508.3 557.4h0M510.9 603.9h0M510.9 620.3h0M512.6 635.3h0M507.8 659.3h0M510.4 655.9h0M510.0 596.8h0M512.5 626.1h0M512.8 659.1h0M510.6 606.1h0M507.8 648.8h0M509.8 560.6h0M509.5 650.1h0M510.3 625.1h0M511.7 645.8h0M510.7 619.8h0M512.3 633.5h0M512.9 608.7h0M509.4 623.6h0M508.4 555.3h0M509.1 599.7h0M507.6 565.9h0M512.6 604.9h0M508.1 576.5h0M509.4 591.2h0M510.1 614.2h0M508.0 625.4h0M512.9 629.0h0M510.1 606.6h0M512.9 583.2h0M509.9 651.3h0M512.3 658.6h0M510.5 572.3h0M508.9 592.0h0M508.1 625.4h0M511.6 578.4h0M508.9 598.0h0M511.9 578.3h0M510.0 613.0h0M510.5 586.1h0M512.8 660.2h0M508.0 650.0h0M507.6 597.2h0M508.2 563.5h0M508.1 589.6h0M511.2 583.4h0M512.6 586.3h0M509.1 603.3h0M510.1 645.4h0M512.2 601.2h0M512.6 645.9h0M509.4 643.6h0M512.0 581.6h0M512.4 559.9h0M509.4 587.4h0M508.5 621.1h0M508.2 603.6h0M511.8 636.1h0M510.1 622.8h0M507.7 557.5h0M507.7 602.5h0M512.9 657.7h0M512.1 610.8h0M510.1 651.0h0M509.2 585.2h0M512.1 637.3h0M508.2 620.8h0M508.6 661.8h0M513.0 616.4h0M509.0 624.2h0M508.5 581.0h0M508.5 558.6h0M512.6 618.3h0M511.1 628.6h0M507.8 577.1h0M508.0 591.6h0M508.2 598.2h0M508.7 602.6h0M510.6 603.6h0M513.0 613.4h0M507.7 634.9h0M507.7 614.7h0M510.6 654.6h0M511.7 650.7h0M511.5 616.9h0M512.2 626.8h0M509.3 599.1h0M511.2 659.5h0M509.8 644.8h0M512.0 634.8h0M510.9 630.4h0M510.6 631.5h0M512.0 655.2h0M508.0 635.5h0M512.8 597.5h0M511.4 626.9h0M508.5 629.9h0M512.1 580.4h0M511.9 599.7h0M511.3 610.8h0M510.0 598.3h0M507.7 560.5h0M511.6 632.7h0M511.5 606.5h0M509.8 657.9h0M508.5 577.4h0M510.0 562.9h0M509.8 628.8h0M512.8 652.8h0M511.8 615.7h0M509.9 638.4h0M510.5 628.9h0M509.3 657.6h0M510.2 616.5h0M512.6 643.5h0M511.4 617.2h0M511.0 612.1h0M511.8 626.1h0M509.9 609.6h0M509.7 600.5h0M510.6 639.1h0M512.8 621.1h0M508.7 611.4h0M512.4 567.3h0M511.9 591.2h0M510.4 556.8h0M510.6 617.0h0M512.3 569.6h0M512.2 587.3h0M510.1 589.2h0M508.3 646.2h0M508.7 641.7h0M510.7 560.1h0M507.7 647.4h0M512.5 561.5h0M511.9 556.8h0M508.5 631.5h0M512.0 598.6h0M510.0 640.4h0M508.5 594.7h0M509.3 631.8h0M508.6 589.1h0M512.1 616.4h0M511.5 607.0h0M510.3 639.8h0M509.1 627.4h0M510.3 611.0h0M511.6 627.4h0M508.4 642.6h0M510.5 562.7h0M510.2 560.1h0M512.1 588.8h0M511.0 587.9h0M509.3 650.1h0M512.8 554.6h0M509.6 615.3h0M509.2 613.0h0M510.6 602.3h0M508.6 657.2h0M509.1 607.0h0M512.9 609.6h0M512.6 556.2h0M511.7 586.7h0M509.6 631.2h0M509.8 569.6h0M510.8 627.3h0M511.6 613.2h0M512.6 559.9h0M510.3 580.9h0M511.5 627.1h0M509.7 633.0h0M507.7 631.5h0M512.1 562.5h0M511.0 586.4h0M509.4 625.0h0M512.9 629.6h0M511.3 596.9h0M511.3 591.2h0M510.0 614.5h0M507.6 660.2h0M511.1 574.1h0M511.5 619.7h0M507.6 582.7h0M509.1 599.9h0M508.7 622.7h0M510.5 593.7h0M510.8 573.6h0M511.6 618.9h0M508.6 602.4h0M511.2 599.7h0M509.1 619.9h0M512.1 580.7h0M510.5 561.4h0M510.0 607.7h0M508.6 616.7h0M512.8 623.7h0M510.7 577.8h0M509.0 612.4h0M510.0 639.9h0M511.8 580.4h0M508.2 636.0h0M508.2 656.8h0M508.2 609.2h0M511.8 555.8h0M509.4 658.5h0M512.4 619.7h0M510.6 655.4h0M510.0 555.6h0M508.4 630.0h0M511.3 630.3h0M511.5 632.2h0M510.7 605.1h0M512.2 631.1h0M508.0 585.0h0M511.6 557.3h0M508.3 634.0h0M508.2 616.1h0M509.0 602.8h0M512.0 655.7h0M507.8 629.3h0M511.3 594.8h0M509.7 599.4h0M509.6 641.1h0M510.8 571.0h0M510.4 628.0h0M512.9 577.9h0M510.6 599.2h0M508.6 612.4h0M511.8 615.6h0M512.3 661.1h0M508.0 658.7h0M508.3 632.6h0M510.8 587.1h0M511.0 608.5h0M512.6 607.8h0M511.3 662.0h0M510.1 618.0h0M508.3 609.9h0M511.0 660.2h0M508.2 594.4h0M508.4 619.0h0M512.0 625.0h0M508.2 605.0h0M512.4 640.6h0M509.8 596.7h0M508.4 561.5h0M508.8 607.4h0M508.5 615.0h0M508.1 626.1h0M511.6 638.4h0M510.5 598.7h0M509.5 594.9h0M512.8 608.8h0M512.1 582.6h0M507.8 603.2h0M512.9 641.0h0M509.8 608.8h0M510.1 573.5h0M509.1 635.6h0M509.4 596.0h0M509.2 613.0h0M510.0 623.4h0M512.6 564.2h0M511.8 655.3h0M510.2 569.9h0M512.7 646.6h0M508.3 620.2h0M509.3 576.8h0M509.3 615.4h0M507.7 610.1h0M511.2 613.9h0M509.9 565.5h0M510.3 640.6h0M509.1 562.5h0M510.3 614.8h0M512.6 614.7h0M511.4 647.3h0M512.0 631.1h0M510.9 570.5h0M510.7 654.3h0M512.5 567.4h0M507.8 603.5h0M511.9 620.4h0M510.6 646.9h0M509.6 594.7h0M509.3 632.0h0M508.6 628.9h0M512.2 608.7h0M511.4 603.9h0M512.3 626.2h0M510.8 610.0h0M512.0 640.4h0M512.4 606.3h0M508.0 556.2h0M509.2 597.0h0M509.6 622.6h0M509.0 614.6h0M509.5 557.3h0M511.4 598.9h0M512.9 557.9h0M511.6 633.8h0M512.5 579.7h0M510.9 646.4h0M509.2 626.8h0M510.4 575.3h0M508.2 557.1h0M508.8 604.5h0M511.2 574.8h0M510.9 579.3h0M510.1 638.5h0M512.6 583.8h0M511.7 612.2h0M510.4 647.3h0M509.6 564.5h0M508.0 585.2h0M509.8 627.0h0M511.3 604.1h0M509.8 627.0h0M511.3 638.6h0M510.3 602.0h0M511.2 599.6h0M510.2 631.2h0M510.5 577.7h0M509.8 610.8h0M510.8 625.8h0M510.9 647.5h0M511.4 566.4h0M510.3 597.1h0M511.7 606.3h0M507.8 611.0h0M512.0 567.9h0M509.8 598.8h0M509.3 630.4h0M508.1 625.0h0M512.6 559.1h0M510.4 614.8h0M509.9 565.7h0M507.7 621.8h0M510.7 555.7h0M512.9 572.2h0M509.4 612.1h0M511.8 625.5h0M512.2 623.6h0M512.6 626.7h0M508.3 587.4h0M513.0 561.4h0M508.1 641.1h0M510.5 577.7h0M510.4 633.3h0M512.8 584.6h0M512.6 600.5h0M510.9 602.3h0M510.6 617.2h0M510.2 640.9h0M510.6 627.1h0M510.8 644.6h0M512.2 596.4h0M512.0 568.4h0M509.1 609.9h0M512.8 583.1h0M510.7 573.9h0M507.7 584.7h0M510.1 622.6h0M512.9 626.0h0M508.4 605.3h0M510.0 607.5h0M510.3 662.6h0M511.5 586.6h0M508.4 629.7h0M511.8 618.5h0M509.4 623.0h0M512.1 600.7h0M512.5 608.7h0M507.7 618.5h0M510.1 629.1h0M509.7 605.9h0M510.1 612.8h0M508.9 565.0h0M512.8 606.4h0M509.4 570.5h0M510.3 621.8h0" stroke="#36505e" stroke-opacity="0.62" stroke-width="1.4" stroke-linecap="round"/>
<line x1="510.30" y1="554.44" x2="510.30" y2="595.76" stroke="#3f5564" stroke-width="0.7" stroke-dasharray="1.5,1"/>
<line x1="510.30" y1="633.82" x2="510.30" y2="663.19" stroke="#3f5564" stroke-width="0.7" stroke-dasharray="1.5,1"/>
<line x1="508.70" y1="554.44" x2="511.90" y2="554.44" stroke="#3f5564" stroke-width="0.8"/>
<line x1="508.70" y1="663.19" x2="511.90" y2="663.19" stroke="#3f5564" stroke-width="0.8"/>
<rect x="504.60" y="595.76" width="11.40" height="38.06" fill="none" stroke="#3f5564" stroke-width="0.9"/>
<line x1="504.60" y1="615.34" x2="516.00" y2="615.34" stroke="#3f5564" stroke-width="1.6"/>
<rect x="517.80" y="581.62" width="11.70" height="33.71" fill="#e5a9cf" stroke="#7e2a63" stroke-width="0.9"/>
<path d="M521.1 604.5h0M522.8 586.1h0M522.9 651.4h0M524.6 641.9h0M522.0 571.1h0M524.0 586.2h0M525.7 554.9h0M524.1 578.6h0M521.1 611.9h0M525.7 602.8h0M522.7 619.1h0M522.9 645.0h0M524.6 580.5h0M525.0 595.5h0M523.7 593.5h0M522.7 589.0h0M522.9 601.4h0M523.1 653.3h0M522.8 569.0h0M523.8 603.5h0M523.8 554.5h0M523.5 589.8h0M525.4 591.8h0M521.3 586.4h0M525.8 602.6h0M522.3 603.7h0M524.2 596.5h0M524.8 657.3h0M524.8 634.1h0M522.7 620.8h0M521.8 587.0h0M523.1 582.8h0M523.5 601.0h0M523.4 578.7h0M525.6 583.0h0M526.3 604.6h0M521.0 591.8h0M524.6 593.6h0M523.1 575.5h0M523.8 649.9h0M525.3 558.3h0M524.9 572.5h0M524.9 659.6h0M524.4 602.3h0M525.3 619.9h0M523.7 621.9h0M524.1 556.8h0M524.6 601.9h0M525.5 611.6h0M525.2 581.1h0M524.4 571.3h0M524.7 610.6h0M523.3 564.8h0M526.0 611.0h0M523.7 601.3h0M522.0 604.5h0M521.9 584.0h0M525.2 606.2h0M524.4 632.7h0M524.5 580.8h0M525.9 621.0h0M526.3 591.3h0M526.2 605.6h0M524.6 610.2h0M522.3 594.4h0M523.3 595.5h0M522.3 566.5h0M521.4 612.7h0M521.0 572.6h0M524.3 586.5h0M525.8 588.7h0M524.6 609.2h0M523.6 574.4h0M525.5 602.4h0M525.8 564.4h0M521.1 631.1h0M523.5 582.6h0M523.9 592.7h0M522.5 566.5h0M523.2 610.9h0M521.2 578.0h0M525.1 564.3h0M523.8 612.4h0M522.1 584.8h0M522.5 632.4h0M522.4 579.8h0M524.0 580.5h0M525.1 617.1h0M522.9 648.1h0M521.4 613.2h0M522.7 608.0h0M525.5 599.1h0M525.3 599.5h0M526.2 591.0h0M525.5 649.9h0M521.7 652.0h0M522.1 563.6h0M526.2 640.9h0M521.7 562.0h0M522.1 642.0h0M525.7 593.1h0M525.1 556.7h0M525.9 609.5h0M524.6 583.1h0M522.0 565.7h0M521.5 593.0h0M522.1 588.4h0M523.3 607.8h0M522.4 597.7h0M525.4 584.4h0M523.9 569.6h0M522.9 653.3h0M522.6 600.0h0M524.5 571.8h0M523.3 565.6h0M524.4 611.1h0M525.8 605.8h0M524.3 611.7h0M524.2 602.4h0M522.6 557.2h0M522.3 622.8h0M523.8 610.1h0M522.2 640.9h0M525.9 560.2h0M523.9 576.4h0M521.5 575.9h0M525.7 649.7h0M525.8 581.6h0M524.7 654.5h0M521.7 585.2h0M524.1 561.3h0M526.2 654.7h0M521.2 578.6h0M523.0 611.3h0M525.6 605.4h0M521.6 573.9h0M521.3 604.8h0M522.7 581.9h0M521.8 660.5h0M525.7 597.3h0M525.3 645.7h0M522.5 597.7h0M523.0 593.7h0M521.2 604.0h0M524.0 584.3h0M523.8 599.4h0M522.4 597.0h0M522.8 607.7h0M523.6 580.3h0M521.7 558.6h0M521.6 572.4h0M526.3 562.2h0M526.0 591.6h0M521.6 562.8h0M522.0 602.0h0M524.4 602.9h0M523.7 567.5h0M522.7 561.6h0M522.9 610.7h0M521.5 591.8h0M525.5 590.3h0M523.9 596.6h0M521.3 598.6h0M525.8 651.5h0M521.9 643.6h0M521.3 584.1h0M522.9 606.4h0M525.9 642.2h0M522.9 581.4h0M522.2 609.0h0M524.0 585.5h0M524.3 605.4h0M521.8 614.5h0M524.7 630.3h0M521.1 594.5h0M524.3 558.9h0M525.2 562.8h0M524.4 611.5h0M521.1 556.1h0M521.2 556.9h0M525.4 564.1h0M525.2 563.1h0M524.8 614.9h0M521.5 611.4h0M523.5 620.9h0M521.6 573.8h0M521.2 574.2h0M524.5 581.5h0M522.9 605.7h0M521.4 564.2h0M526.1 597.1h0M525.4 588.0h0M521.7 574.9h0M523.6 575.6h0M526.1 594.8h0M525.1 612.9h0M522.4 596.4h0M525.4 632.9h0M524.6 608.6h0M526.3 613.2h0M523.2 658.7h0M524.2 613.3h0M525.8 555.5h0M524.5 614.3h0M522.2 611.2h0M522.7 583.9h0M524.8 635.9h0M525.5 575.5h0M522.6 658.8h0M525.2 595.0h0M526.3 640.3h0M523.3 562.0h0M525.3 565.7h0M522.4 572.7h0M523.9 606.2h0M522.4 615.7h0M522.8 596.1h0M525.6 608.3h0M524.2 613.7h0M524.9 585.1h0M521.4 604.7h0M525.4 588.3h0M524.1 640.8h0M526.1 574.3h0M522.1 583.8h0M521.2 568.5h0M521.5 566.2h0M524.3 622.1h0M521.2 585.7h0M525.2 626.2h0M523.0 632.2h0M523.7 601.8h0M523.6 564.2h0M525.8 581.0h0M524.9 605.0h0M521.4 603.3h0M522.6 568.8h0M526.2 596.0h0M521.6 572.9h0M522.0 609.2h0M522.7 571.3h0M525.8 590.6h0M523.4 574.6h0M521.6 605.7h0M523.8 592.6h0M525.2 558.3h0M524.2 593.8h0M525.5 560.7h0M523.4 588.6h0M525.5 641.8h0M521.2 583.4h0M521.5 627.3h0M523.3 606.2h0M523.8 609.6h0M521.3 572.3h0M526.2 614.8h0M525.8 575.2h0M521.1 583.4h0M525.1 613.0h0M523.0 602.0h0" stroke="#74285c" stroke-opacity="0.62" stroke-width="1.4" stroke-linecap="round"/>
<line x1="523.65" y1="554.44" x2="523.65" y2="581.62" stroke="#7e2a63" stroke-width="0.7" stroke-dasharray="1.5,1"/>
<line x1="523.65" y1="615.34" x2="523.65" y2="663.19" stroke="#7e2a63" stroke-width="0.7" stroke-dasharray="1.5,1"/>
<line x1="522.05" y1="554.44" x2="525.25" y2="554.44" stroke="#7e2a63" stroke-width="0.8"/>
<line x1="522.05" y1="663.19" x2="525.25" y2="663.19" stroke="#7e2a63" stroke-width="0.8"/>
<rect x="517.80" y="581.62" width="11.70" height="33.71" fill="none" stroke="#7e2a63" stroke-width="0.9"/>
<line x1="517.80" y1="600.11" x2="529.50" y2="600.11" stroke="#7e2a63" stroke-width="1.6"/>
<rect x="532.10" y="575.75" width="11.40" height="36.32" fill="#d874b2" stroke="#6e1650" stroke-width="0.9"/>
<path d="M538.3 558.4h0M538.8 609.8h0M535.7 593.9h0M540.3 578.9h0M539.9 596.7h0M538.9 568.8h0M540.0 607.3h0M539.8 577.1h0M537.4 556.2h0M535.1 572.4h0M537.1 607.1h0M539.2 599.4h0M538.0 565.5h0M537.6 637.6h0M536.6 575.0h0M535.2 593.5h0M537.6 559.4h0M537.1 638.4h0M537.0 597.3h0M535.7 558.1h0M537.2 564.4h0M537.2 577.0h0M540.0 591.7h0M537.1 554.8h0M540.0 558.2h0M536.6 635.9h0M535.6 561.9h0M536.5 560.2h0M535.1 586.8h0M537.9 625.7h0M539.5 568.9h0M535.1 587.1h0M535.1 578.6h0M538.0 584.8h0M535.7 580.6h0M539.5 587.9h0M535.8 565.1h0M537.8 591.9h0M539.2 576.4h0M540.2 651.9h0M540.2 636.0h0M536.4 615.7h0M539.9 610.2h0M535.2 593.7h0M540.0 557.2h0M538.9 605.1h0M538.4 573.2h0M539.0 586.3h0M535.3 605.0h0M538.4 663.0h0M538.6 555.7h0M538.5 613.7h0M536.9 609.2h0M537.2 591.8h0M538.0 618.1h0M539.4 592.9h0M535.2 650.3h0M535.3 569.3h0M536.1 594.9h0M538.0 561.3h0M537.8 598.8h0M536.5 586.0h0M537.5 593.5h0M536.6 583.0h0M539.7 583.0h0M535.4 557.6h0M539.0 579.0h0M539.2 576.9h0M539.5 643.5h0M540.3 597.6h0M536.6 657.4h0M537.7 580.7h0M535.9 621.7h0M536.0 605.1h0M540.4 591.5h0M537.3 644.9h0M538.9 602.1h0M536.6 597.5h0M535.2 576.8h0M538.3 627.8h0M536.4 560.2h0M538.2 576.8h0M536.4 556.8h0M538.8 580.1h0M539.4 608.4h0M540.2 583.5h0M539.4 600.2h0M539.7 603.1h0M538.3 589.0h0M536.8 571.1h0M535.9 577.6h0M540.4 559.1h0M538.2 607.7h0M538.9 630.5h0M537.8 580.2h0M538.6 574.9h0M540.2 605.5h0M539.9 579.4h0M535.3 589.2h0M535.1 587.4h0M536.4 556.4h0M535.2 629.8h0M536.3 602.1h0M538.6 607.4h0M535.6 567.3h0M536.6 568.5h0M535.6 560.7h0M538.4 556.2h0M537.2 603.0h0M540.0 591.8h0M538.5 591.1h0M540.0 561.5h0M538.0 611.7h0M539.5 609.3h0M538.3 612.0h0M538.7 569.6h0M536.3 579.0h0M537.2 593.4h0M539.5 562.4h0M537.2 583.6h0M537.4 610.9h0M537.9 558.4h0M537.7 632.7h0M536.9 588.6h0M535.9 582.9h0M539.9 628.9h0M538.5 570.3h0M539.0 561.5h0M536.6 592.9h0M537.4 610.6h0M538.7 558.1h0M539.5 609.9h0M539.6 629.7h0M538.3 581.2h0M535.3 586.1h0M539.4 661.9h0M540.2 577.0h0M537.3 584.4h0M537.7 586.7h0M540.1 565.4h0M539.4 603.4h0M535.3 564.6h0M540.3 604.2h0M537.2 652.6h0M539.8 607.3h0M537.6 584.4h0M537.4 581.5h0M539.9 599.9h0M536.3 604.9h0M535.9 586.2h0" stroke="#6a1650" stroke-opacity="0.62" stroke-width="1.4" stroke-linecap="round"/>
<line x1="537.80" y1="554.44" x2="537.80" y2="575.75" stroke="#6e1650" stroke-width="0.7" stroke-dasharray="1.5,1"/>
<line x1="537.80" y1="612.08" x2="537.80" y2="663.19" stroke="#6e1650" stroke-width="0.7" stroke-dasharray="1.5,1"/>
<line x1="536.20" y1="554.44" x2="539.40" y2="554.44" stroke="#6e1650" stroke-width="0.8"/>
<line x1="536.20" y1="663.19" x2="539.40" y2="663.19" stroke="#6e1650" stroke-width="0.8"/>
<rect x="532.10" y="575.75" width="11.40" height="36.32" fill="none" stroke="#6e1650" stroke-width="0.9"/>
<line x1="532.10" y1="594.67" x2="543.50" y2="594.67" stroke="#6e1650" stroke-width="1.6"/>
<line x1="510.30" y1="667.20" x2="537.80" y2="667.20" stroke="#222" stroke-width="1.0"/>
<line x1="510.30" y1="667.20" x2="510.30" y2="670.80" stroke="#222" stroke-width="0.8"/>
<text transform="translate(512.8,675.8) rotate(-90)" font-size="7.3" text-anchor="end" fill="#222">none</text>
<line x1="524.00" y1="667.20" x2="524.00" y2="670.80" stroke="#222" stroke-width="0.8"/>
<text transform="translate(526.5,675.8) rotate(-90)" font-size="7.3" text-anchor="end" fill="#222"><tspan font-style="italic">hnf4(RNAi)+foxF-1(RNAi)</tspan></text>
<line x1="537.80" y1="667.20" x2="537.80" y2="670.80" stroke="#222" stroke-width="0.8"/>
<text transform="translate(540.3,675.8) rotate(-90)" font-size="7.3" text-anchor="end" fill="#222"><tspan font-style="italic">hnf4(RNAi)+foxF-1(RNAi)</tspan> only</text>
<path d="M537.8,789.2 L537.8,781.0" stroke="#c0529a" stroke-width="1.0"/>
<path d="M535.4,781.8 L537.8,777.6 L540.2,781.8 Z" fill="#c0529a"/>
<text x="567.2" y="520.0" font-size="14.0" font-weight="bold">K</text>
<text x="619.8" y="531.8" font-size="7.3" text-anchor="middle" fill="#222">Interaction score</text>
<text x="619.8" y="539.2" font-size="7.3" text-anchor="middle" fill="#222">of <tspan font-style="italic">nkx2−2</tspan> predicted targets</text>
<text x="619.8" y="546.1" font-size="7.3" text-anchor="middle" fill="#222">(double RNAi with <tspan font-style="italic">hnf4</tspan>)</text>
<line x1="597.50" y1="566.40" x2="597.50" y2="653.40" stroke="#222" stroke-width="1.0"/>
<line x1="593.20" y1="653.40" x2="597.50" y2="653.40" stroke="#222" stroke-width="1.0"/>
<text x="589.2" y="656.1" font-size="7.5" text-anchor="end" fill="#333">0.5</text>
<line x1="593.20" y1="631.65" x2="597.50" y2="631.65" stroke="#222" stroke-width="1.0"/>
<text x="589.2" y="634.4" font-size="7.5" text-anchor="end" fill="#333">0.6</text>
<line x1="593.20" y1="609.90" x2="597.50" y2="609.90" stroke="#222" stroke-width="1.0"/>
<text x="589.2" y="612.6" font-size="7.5" text-anchor="end" fill="#333">0.7</text>
<line x1="593.20" y1="588.15" x2="597.50" y2="588.15" stroke="#222" stroke-width="1.0"/>
<text x="589.2" y="590.9" font-size="7.5" text-anchor="end" fill="#333">0.8</text>
<line x1="593.20" y1="566.40" x2="597.50" y2="566.40" stroke="#222" stroke-width="1.0"/>
<text x="589.2" y="569.1" font-size="7.5" text-anchor="end" fill="#333">0.9</text>
<text transform="translate(574.9,608.3) rotate(-90)" font-size="7.4" text-anchor="middle" fill="#222">Interaction score</text>
<rect x="600.20" y="595.76" width="11.20" height="38.06" fill="#c7d3db" stroke="#3f5564" stroke-width="0.9"/>
<path d="M603.2 659.1h0M603.8 657.8h0M607.9 581.5h0M604.8 597.3h0M606.8 557.2h0M603.4 642.4h0M604.8 645.9h0M606.2 601.5h0M608.3 640.5h0M606.4 566.9h0M604.8 597.4h0M606.6 556.3h0M606.7 602.4h0M606.0 632.0h0M605.8 598.6h0M606.7 578.8h0M605.1 654.2h0M606.3 583.5h0M606.7 577.8h0M608.5 592.1h0M605.3 617.4h0M605.9 635.2h0M607.9 630.1h0M605.0 613.0h0M604.1 620.2h0M607.4 613.4h0M606.8 587.4h0M607.6 618.2h0M607.7 649.7h0M606.3 613.9h0M605.7 641.4h0M605.0 569.2h0M606.4 561.9h0M605.8 662.7h0M604.0 581.7h0M604.6 577.8h0M605.0 597.0h0M604.5 625.6h0M604.6 657.9h0M604.2 615.9h0M608.1 605.9h0M605.1 662.1h0M604.2 662.2h0M607.2 619.3h0M604.4 576.6h0M603.5 623.7h0M607.9 589.2h0M605.8 593.4h0M605.7 594.0h0M603.1 604.7h0M607.7 555.0h0M603.9 613.5h0M607.5 600.9h0M606.6 619.4h0M607.9 603.3h0M607.7 580.8h0M604.6 588.0h0M605.9 601.9h0M608.4 562.0h0M607.8 618.4h0M606.6 579.8h0M603.4 627.7h0M605.9 624.8h0M606.1 658.7h0M605.9 645.6h0M608.2 594.9h0M607.6 562.4h0M604.1 631.3h0M608.0 557.0h0M607.1 610.1h0M608.2 596.9h0M607.4 558.5h0M604.6 582.5h0M608.1 631.6h0M604.8 632.9h0M604.9 616.9h0M605.3 615.7h0M604.8 602.9h0M608.3 559.5h0M608.2 632.3h0M603.8 586.8h0M603.8 622.0h0M607.5 596.0h0M607.4 615.5h0M604.9 592.9h0M606.2 599.0h0M603.4 609.8h0M606.7 562.4h0M603.2 622.9h0M605.5 627.9h0M605.7 586.8h0M603.2 569.7h0M604.7 646.0h0M608.1 607.6h0M606.1 618.7h0M608.1 618.4h0M604.5 561.8h0M604.3 640.2h0M606.2 567.6h0M606.1 585.8h0M605.1 603.5h0M604.3 646.1h0M607.1 629.0h0M604.8 610.8h0M606.8 590.5h0M603.8 586.1h0M604.5 609.1h0M607.5 617.0h0M605.8 598.0h0M605.1 630.0h0M603.6 627.1h0M605.5 585.3h0M606.2 607.3h0M607.7 627.0h0M603.5 629.1h0M608.1 647.3h0M605.4 581.9h0M607.4 586.2h0M605.0 632.2h0M608.0 589.7h0M608.0 648.2h0M604.0 573.5h0M605.5 636.2h0M606.4 631.0h0M604.7 651.8h0M604.0 563.0h0M603.3 609.4h0M607.6 653.9h0M603.2 627.5h0M607.2 623.9h0M604.8 569.7h0M605.1 565.5h0M604.3 616.0h0M603.5 619.0h0M608.0 654.9h0M608.0 595.3h0M607.9 647.8h0M603.9 632.9h0M607.6 601.2h0M603.7 620.5h0M605.3 620.4h0M604.4 608.8h0M605.4 649.1h0M604.5 581.5h0M604.4 622.6h0M606.9 581.1h0M604.7 631.2h0M604.2 599.2h0M604.5 627.9h0M604.3 635.8h0M606.3 615.3h0M607.3 617.9h0M606.8 606.5h0M605.6 575.6h0M605.9 590.1h0M603.3 621.6h0M606.0 631.7h0M605.8 612.7h0M606.3 629.0h0M605.8 567.2h0M604.8 594.7h0M603.7 652.1h0M603.6 602.1h0M607.8 614.9h0M607.2 624.4h0M606.3 622.6h0M604.9 637.9h0M603.8 620.0h0M608.4 604.6h0M607.1 631.1h0M605.3 639.9h0M607.1 564.3h0M607.3 595.8h0M603.6 617.4h0M605.7 602.7h0M603.6 563.6h0M605.8 615.4h0M607.4 557.0h0M606.0 567.5h0M606.3 645.7h0M607.2 617.9h0M607.0 599.4h0M606.2 642.4h0M606.7 633.1h0M607.2 565.9h0M604.6 607.8h0M605.3 600.8h0M604.1 631.9h0M605.9 625.6h0M603.6 630.4h0M607.2 555.7h0M607.3 590.4h0M605.9 630.9h0M607.8 654.1h0M607.1 597.0h0M607.5 634.3h0M606.0 614.2h0M606.2 586.3h0M605.5 626.8h0M605.0 646.9h0M605.3 620.2h0M604.3 622.0h0M606.5 608.2h0M606.7 557.6h0M605.9 618.5h0M603.6 573.9h0M607.3 608.9h0M603.3 625.7h0M603.7 564.8h0M606.1 571.1h0M603.2 630.3h0M605.4 599.7h0M606.3 639.0h0M607.6 612.4h0M608.0 627.9h0M605.3 580.1h0M607.3 612.2h0M607.1 607.3h0M608.3 609.5h0M606.7 588.2h0M606.9 563.7h0M604.2 634.5h0M608.4 632.1h0M606.4 617.6h0M605.8 627.3h0M607.0 615.2h0M606.5 616.8h0M607.9 562.7h0M605.7 658.3h0M605.2 607.2h0M607.4 649.0h0M605.3 610.5h0M603.6 660.2h0M605.4 582.3h0M606.5 596.3h0M607.7 638.5h0M605.9 622.8h0M605.7 637.3h0M603.3 640.8h0M603.3 563.0h0M605.8 609.3h0M604.5 592.0h0M605.7 652.9h0M605.3 584.1h0M607.6 559.9h0M607.2 614.7h0M606.5 647.6h0M607.9 568.2h0M603.8 634.1h0M604.6 579.7h0M607.9 599.2h0M604.2 575.2h0M604.0 640.9h0M604.5 554.6h0M605.1 620.0h0M604.4 609.9h0M607.7 576.4h0M603.9 560.3h0M604.7 563.8h0M607.3 630.0h0M604.4 661.2h0M606.6 631.2h0M604.1 638.5h0M603.9 640.1h0M607.8 635.9h0M606.0 562.0h0M605.8 608.0h0M607.9 628.7h0M603.2 661.7h0M607.8 583.7h0M603.4 606.7h0M605.4 587.5h0M604.4 621.5h0M603.9 631.9h0M604.8 601.3h0M604.0 636.7h0M605.5 634.2h0M605.7 608.2h0M604.3 605.9h0M604.8 633.0h0M604.1 659.1h0M603.1 622.5h0M607.4 626.2h0M606.9 562.4h0M606.9 655.6h0M605.5 597.3h0M608.3 563.7h0M606.6 582.2h0M604.4 556.9h0M604.0 566.0h0M606.3 612.4h0M603.9 610.3h0M607.6 573.7h0M606.1 592.5h0M606.8 613.8h0M606.0 595.4h0M605.8 614.5h0M604.7 604.8h0M604.2 624.5h0M607.4 589.2h0M607.3 629.5h0M606.6 622.6h0M606.1 607.1h0M607.6 654.0h0M603.5 648.5h0M603.1 602.9h0M607.1 574.2h0M603.7 598.2h0M606.1 622.2h0M605.5 619.1h0M604.6 662.4h0M607.3 606.6h0M607.9 604.0h0M607.4 611.2h0M606.9 656.6h0M608.0 620.0h0M605.5 573.7h0M606.1 632.6h0M603.3 659.7h0M605.4 561.8h0M606.6 609.3h0M606.0 602.9h0M605.1 586.0h0M607.7 568.1h0M603.2 642.0h0M607.3 608.5h0M606.2 631.5h0M604.3 614.2h0M606.1 662.3h0M603.9 644.3h0M606.5 561.6h0M605.2 639.3h0M605.7 607.5h0M607.0 650.1h0M607.8 605.1h0M606.7 640.4h0M604.6 621.3h0M605.1 611.6h0M608.5 558.9h0M606.2 610.6h0M607.9 605.9h0M604.0 609.6h0M607.5 620.3h0M605.9 637.6h0M606.0 568.9h0M608.3 623.6h0M605.0 591.0h0M605.2 629.1h0M605.8 633.1h0M605.3 649.6h0M604.9 623.7h0M608.0 617.5h0M605.8 600.3h0M605.2 575.8h0M604.1 645.8h0M606.2 618.9h0M604.7 623.7h0M607.8 641.5h0M606.0 659.0h0M606.0 575.6h0M604.0 569.6h0M603.3 623.5h0M603.7 632.3h0M607.0 587.7h0M606.1 602.0h0M605.4 650.7h0M605.4 643.1h0M606.6 641.8h0M603.7 600.0h0M604.1 620.9h0M605.8 615.4h0M606.9 560.0h0M603.9 650.5h0M604.0 554.6h0M608.4 579.8h0M605.0 615.6h0M603.1 605.5h0M605.6 597.0h0M606.6 610.3h0M608.2 637.2h0M606.9 621.7h0M603.3 619.5h0M605.1 628.7h0M604.7 587.8h0M606.3 618.3h0M606.0 569.0h0M607.6 562.7h0M605.7 598.4h0M605.6 640.8h0M607.3 630.1h0M606.9 631.9h0M603.5 567.8h0M603.2 641.2h0M604.4 582.3h0M603.3 555.1h0M603.6 635.8h0M604.8 662.8h0M604.0 627.1h0M608.3 577.8h0M603.5 592.7h0M607.4 602.8h0M607.0 637.8h0M607.5 561.0h0M606.0 637.4h0M606.9 610.1h0M607.9 641.3h0M608.1 653.6h0M605.5 577.8h0M607.0 618.1h0M606.6 617.2h0M606.1 641.7h0M608.1 608.7h0M604.6 619.1h0M603.1 568.2h0M603.8 651.2h0M604.4 631.1h0M603.8 607.0h0M605.5 608.8h0M605.6 616.6h0M604.8 571.4h0M608.3 560.5h0M603.1 583.6h0M608.4 596.1h0M604.2 587.8h0M608.2 617.3h0M606.1 602.8h0M603.4 616.6h0M604.8 558.4h0M605.0 654.7h0M603.3 586.9h0M604.0 615.2h0M604.1 629.5h0M607.9 609.1h0M606.1 586.3h0M607.0 652.6h0M607.7 604.7h0M606.3 558.7h0M605.2 575.5h0M607.3 612.5h0M603.3 608.3h0M608.1 566.2h0M606.8 568.8h0M606.8 567.1h0M608.2 652.7h0M603.4 632.1h0M603.8 560.4h0M606.7 648.5h0M605.6 596.0h0M603.3 610.1h0M603.8 561.1h0M604.2 623.4h0M605.6 562.1h0M607.5 558.3h0M604.1 599.8h0M604.8 660.7h0M603.7 612.4h0M606.7 588.9h0M603.9 622.0h0M604.9 587.8h0M607.0 637.3h0M607.6 560.9h0M605.3 641.1h0M606.1 579.5h0M606.7 627.9h0M607.8 630.1h0M607.4 634.6h0M605.9 610.8h0M606.4 627.8h0M608.1 611.9h0M608.4 627.8h0M606.1 619.8h0M604.0 619.2h0M607.0 656.6h0M603.5 614.6h0M607.8 662.8h0M605.5 619.3h0M608.5 584.8h0M607.1 625.5h0M608.2 570.7h0M607.9 654.2h0M605.9 661.5h0M604.9 651.4h0M603.2 601.7h0M608.3 566.5h0M606.6 584.7h0M607.3 590.4h0M606.6 571.4h0M603.9 589.6h0M604.3 621.7h0M603.8 591.8h0M605.7 563.2h0M606.1 598.5h0M608.0 641.1h0M607.8 641.2h0M608.1 555.5h0M608.2 615.6h0M605.4 570.2h0M603.1 617.6h0M605.5 616.4h0M607.2 571.3h0M603.3 562.9h0M607.1 598.0h0M604.0 634.7h0M604.8 600.1h0M603.5 588.0h0M607.3 641.6h0M607.6 646.8h0M605.6 576.9h0M607.7 617.1h0M604.2 597.8h0M603.3 583.5h0M605.3 588.3h0M605.0 649.9h0M607.5 633.2h0M607.2 622.2h0M608.3 586.3h0M608.4 621.2h0M607.6 616.1h0M603.4 585.4h0M607.1 628.3h0M604.6 613.6h0M606.7 596.3h0M603.4 569.7h0M604.3 637.6h0M604.0 634.9h0M607.1 661.9h0M605.5 659.0h0M603.4 613.5h0M604.1 626.7h0M603.9 585.9h0M606.7 619.4h0M606.8 571.8h0M603.4 607.9h0M606.6 612.3h0M603.7 596.4h0M606.3 647.2h0M605.5 631.5h0M607.5 565.1h0M603.7 614.3h0M607.4 617.8h0M606.5 631.9h0M606.8 592.8h0M606.5 601.3h0M607.6 619.4h0M605.4 662.1h0M608.2 597.1h0M604.5 601.5h0M604.8 657.8h0M605.7 565.1h0M604.0 632.6h0M604.1 609.0h0M604.8 644.1h0M604.5 560.8h0M607.6 569.3h0M607.8 593.2h0M603.7 610.6h0M607.5 561.6h0M606.0 558.0h0M603.8 654.9h0M607.3 618.6h0M607.3 583.3h0M606.8 651.6h0M604.2 618.9h0M605.2 630.8h0M604.3 588.1h0M604.4 653.0h0M607.8 632.5h0M607.9 555.9h0M604.5 556.6h0M603.9 562.2h0M604.3 634.6h0M604.1 629.8h0M604.3 603.4h0M607.5 607.9h0M606.8 603.8h0M603.4 616.0h0M607.1 633.7h0M604.2 588.6h0M607.2 583.8h0M603.7 564.0h0M607.0 597.9h0M603.4 595.8h0M604.8 590.4h0M603.4 618.9h0M604.0 608.0h0M607.3 596.7h0M606.2 605.8h0M608.3 562.8h0M604.2 602.5h0M607.3 559.2h0M606.2 600.0h0M605.5 639.6h0M607.9 628.8h0M604.7 630.7h0M606.9 625.0h0M605.2 601.3h0M604.5 638.9h0M604.0 567.8h0M603.2 600.7h0M607.6 628.8h0M605.8 574.7h0M607.6 657.0h0M606.8 623.8h0M606.8 611.8h0M605.3 619.0h0M605.5 640.3h0M607.1 604.2h0M607.8 603.0h0M605.7 608.3h0M606.0 631.4h0M606.6 578.7h0M607.1 602.2h0M603.1 629.8h0M603.3 624.4h0M605.9 598.4h0M604.7 578.0h0M606.8 612.3h0M606.3 576.6h0M607.8 598.2h0M606.9 601.1h0M607.5 604.4h0M605.7 626.3h0M606.9 628.2h0M608.0 618.6h0M603.4 583.6h0M606.1 608.5h0M606.4 647.4h0M605.8 574.6h0M606.9 615.0h0M605.1 605.4h0M606.1 578.6h0M603.3 591.2h0M603.9 625.0h0M605.5 577.0h0M608.1 590.9h0M607.2 585.2h0M605.0 663.1h0M604.0 582.0h0M607.0 622.8h0M608.4 581.4h0M608.0 613.0h0M605.2 650.8h0M606.0 573.9h0M604.0 587.8h0M605.6 586.2h0M604.0 620.2h0M604.0 599.4h0M604.7 621.1h0M606.8 630.7h0M607.2 662.9h0M607.2 565.1h0M607.7 622.6h0M604.5 563.6h0M604.0 636.9h0M603.4 554.5h0M606.9 599.3h0M608.0 627.4h0M603.3 595.9h0M606.3 614.9h0M608.2 651.0h0M608.5 620.3h0M603.5 615.0h0M607.7 574.3h0M603.4 578.6h0M605.2 615.3h0M604.3 624.8h0M605.1 639.9h0M606.6 660.8h0M605.8 622.8h0M604.4 583.5h0M608.1 602.4h0M608.3 641.7h0M605.1 600.4h0M607.7 625.9h0M604.8 592.3h0M608.3 634.0h0M607.9 635.9h0M606.1 624.1h0M604.6 612.9h0M606.7 617.5h0M608.4 629.5h0M607.6 611.8h0M607.9 577.6h0M603.8 613.4h0M607.6 583.5h0M604.0 626.8h0M607.8 614.9h0M603.5 641.1h0M603.8 585.4h0M603.5 604.4h0M605.1 653.6h0M605.4 657.9h0M604.4 644.6h0M606.5 602.7h0M604.6 657.9h0M608.4 582.7h0M605.8 629.3h0M608.2 619.2h0M606.7 578.0h0M608.3 661.5h0M604.2 651.1h0M603.7 573.0h0M606.3 574.8h0M605.5 613.1h0M607.0 642.2h0M607.6 586.2h0M606.0 597.4h0M605.6 618.8h0M605.3 589.3h0M603.7 612.5h0M605.8 632.9h0M606.7 615.6h0M604.7 620.9h0M605.1 621.9h0M608.1 662.6h0M607.2 644.5h0M604.0 578.3h0M606.8 610.8h0M604.7 555.1h0M607.8 584.4h0M607.8 610.8h0M605.3 596.7h0M608.0 654.3h0M608.0 602.5h0M607.2 565.0h0M606.5 639.3h0M604.5 571.6h0M603.7 598.6h0M604.3 626.7h0M603.8 613.2h0M603.8 645.4h0M608.3 605.6h0M604.5 633.0h0M607.0 580.5h0M603.6 596.4h0M607.8 574.9h0M605.0 620.1h0M605.0 643.1h0M603.6 619.6h0M608.3 638.0h0M603.6 593.5h0M604.8 615.7h0M605.5 637.0h0M605.5 620.0h0M607.6 630.1h0M604.7 554.5h0M605.4 604.0h0M604.7 641.4h0M608.1 577.5h0M604.8 624.6h0M607.7 629.2h0M607.2 562.9h0M607.8 579.4h0M603.5 599.8h0M606.0 555.8h0M605.4 615.7h0M604.2 617.6h0M606.2 613.2h0M603.5 595.1h0M607.2 630.9h0M606.0 587.1h0M606.6 620.7h0M603.4 630.5h0M606.5 560.7h0M605.8 573.9h0M605.4 573.2h0M605.7 619.2h0M605.2 593.5h0M607.2 650.8h0M606.1 555.8h0M608.3 612.3h0M605.1 644.0h0M607.4 592.1h0M607.3 582.7h0M607.7 637.2h0M606.0 575.2h0M605.6 622.3h0M606.8 616.4h0M607.9 600.4h0M607.8 646.3h0M603.7 627.6h0M605.0 633.2h0M603.6 648.1h0M606.8 570.5h0M605.2 623.8h0M605.7 561.6h0M605.2 573.5h0M607.9 598.1h0M607.5 571.5h0M605.9 631.7h0M604.7 628.0h0M603.4 640.9h0M606.7 604.1h0M607.9 612.3h0M604.7 598.1h0M605.7 615.7h0M606.9 624.4h0M605.5 631.0h0M606.6 560.5h0M606.4 559.2h0" stroke="#36505e" stroke-opacity="0.62" stroke-width="1.4" stroke-linecap="round"/>
<line x1="605.80" y1="554.44" x2="605.80" y2="595.76" stroke="#3f5564" stroke-width="0.7" stroke-dasharray="1.5,1"/>
<line x1="605.80" y1="633.82" x2="605.80" y2="663.19" stroke="#3f5564" stroke-width="0.7" stroke-dasharray="1.5,1"/>
<line x1="604.20" y1="554.44" x2="607.40" y2="554.44" stroke="#3f5564" stroke-width="0.8"/>
<line x1="604.20" y1="663.19" x2="607.40" y2="663.19" stroke="#3f5564" stroke-width="0.8"/>
<rect x="600.20" y="595.76" width="11.20" height="38.06" fill="none" stroke="#3f5564" stroke-width="0.9"/>
<line x1="600.20" y1="615.34" x2="611.40" y2="615.34" stroke="#3f5564" stroke-width="1.6"/>
<rect x="614.50" y="571.40" width="11.00" height="34.80" fill="#8fdd82" stroke="#1e6b1e" stroke-width="0.9"/>
<path d="M619.6 561.0h0M622.4 563.7h0M618.1 555.8h0M620.1 567.8h0M621.6 605.2h0M620.5 566.1h0M618.9 649.1h0M622.0 606.4h0M618.2 596.8h0M619.9 600.0h0M618.5 571.3h0M618.8 558.2h0M618.4 644.5h0M622.5 589.3h0M620.6 576.1h0M622.3 613.3h0M619.9 560.5h0M618.0 583.0h0M619.6 572.4h0M619.1 584.7h0M619.4 581.1h0M619.2 629.0h0M617.8 583.7h0M621.0 646.5h0M618.3 585.8h0M622.5 564.0h0M621.4 573.3h0M619.7 578.6h0M621.7 580.4h0M618.1 581.6h0M622.5 608.9h0M621.0 581.0h0M620.8 602.9h0M620.5 620.9h0M622.5 645.0h0M618.6 577.7h0M622.4 564.6h0M618.1 558.4h0M621.4 640.8h0M618.1 603.6h0M618.6 606.0h0M619.9 598.6h0M618.8 582.9h0M620.6 589.4h0M620.9 604.0h0M620.5 568.5h0M618.9 585.0h0M620.6 569.9h0M620.1 606.2h0M618.9 576.4h0M620.8 592.0h0M620.8 559.4h0M619.1 624.4h0M618.8 632.2h0M620.5 581.4h0M618.1 573.2h0M619.6 561.5h0M620.2 584.1h0M620.0 594.2h0M622.1 594.7h0M618.3 554.5h0M619.1 561.0h0M620.2 557.9h0M621.6 596.2h0M621.0 601.8h0M619.7 556.8h0M618.9 572.4h0M619.5 569.9h0M617.5 588.3h0M621.3 608.0h0M622.5 610.2h0M617.8 634.0h0M620.0 604.3h0M618.5 611.7h0M621.6 566.8h0M620.3 602.5h0M620.0 633.3h0M621.2 626.0h0M619.8 565.1h0M618.7 569.0h0M619.7 583.2h0M621.3 564.8h0M617.6 570.1h0M622.6 643.9h0M617.5 596.5h0M617.6 561.4h0M619.9 570.6h0M622.0 652.8h0M620.6 566.1h0M622.6 582.2h0M617.4 605.5h0M622.7 583.4h0M620.6 614.7h0M618.0 560.7h0M618.1 635.9h0M617.8 615.4h0M621.7 570.8h0M621.0 590.6h0M620.5 570.6h0M622.0 595.1h0M618.7 559.0h0M620.0 588.2h0M618.4 576.5h0M620.4 588.3h0M622.7 640.5h0M619.0 590.8h0M619.4 597.8h0M621.3 599.0h0M619.2 574.5h0M621.9 600.2h0M619.6 555.7h0M619.8 591.8h0M621.1 555.1h0M619.8 638.6h0M622.2 575.1h0M619.2 565.6h0M619.9 565.6h0M622.3 577.9h0M622.3 556.2h0M621.0 605.0h0M618.7 593.8h0M619.0 556.8h0M621.8 563.8h0M617.7 555.1h0M621.5 638.7h0M622.1 596.3h0M620.6 568.7h0M620.1 554.8h0M617.4 559.9h0M620.1 573.3h0M619.1 597.6h0M620.1 596.3h0M617.7 603.0h0M618.8 600.1h0M621.0 592.9h0M621.9 595.8h0M617.9 573.1h0M621.5 573.7h0M619.1 590.8h0M621.4 570.8h0M618.0 576.3h0M620.9 577.4h0M617.6 583.1h0M622.5 600.6h0M620.7 610.5h0M618.9 640.3h0M621.6 614.7h0M617.4 560.1h0M621.9 593.9h0M620.9 584.5h0M619.0 592.7h0M618.3 588.5h0M619.5 642.2h0M620.9 595.7h0M620.8 557.4h0M621.6 572.2h0M621.6 556.0h0M619.8 572.0h0M618.3 599.6h0M619.4 580.3h0M617.4 567.6h0M620.4 645.7h0M617.8 596.9h0M619.1 562.7h0M619.1 556.0h0M617.9 558.8h0M621.6 559.0h0M620.3 573.3h0M621.8 588.1h0M617.6 601.7h0M620.8 606.0h0M618.8 583.7h0M617.7 594.2h0M620.0 600.1h0M620.5 599.7h0M617.9 561.3h0M620.9 580.7h0M622.3 618.9h0M620.1 590.5h0M618.4 604.8h0M618.5 578.3h0M621.8 563.2h0M618.0 600.9h0M618.9 595.0h0M617.5 602.1h0M620.6 578.4h0M620.9 557.4h0M619.8 588.2h0M621.3 557.5h0M619.0 562.7h0M620.2 604.7h0M622.4 574.6h0M619.0 585.1h0M622.4 555.7h0M620.2 595.2h0M619.7 570.3h0M621.9 558.0h0M619.7 560.7h0M619.4 563.8h0M622.3 557.5h0M617.7 560.9h0M621.6 652.0h0M619.4 586.4h0M620.2 570.6h0M619.1 565.6h0M621.2 611.5h0M620.9 562.9h0M617.4 651.1h0M618.8 631.2h0M619.9 599.5h0M622.5 599.1h0M618.7 611.1h0M621.6 575.9h0M618.2 577.6h0M619.2 621.8h0M621.5 622.3h0M621.9 570.6h0M622.4 649.2h0M621.7 609.8h0M622.3 569.0h0M618.9 578.4h0M620.0 654.2h0M620.3 623.6h0M619.2 616.2h0M621.6 559.2h0M622.5 591.2h0M620.6 586.4h0M619.2 599.3h0M621.2 571.9h0M620.2 586.7h0M621.9 608.4h0M621.9 619.6h0M618.8 614.9h0M619.9 570.6h0M619.3 578.0h0M622.3 597.8h0M617.9 560.8h0M621.3 566.0h0M619.9 614.7h0M618.5 575.1h0M620.9 569.6h0M620.0 598.3h0M622.4 578.8h0M622.1 597.8h0M618.8 642.9h0M621.5 587.3h0M620.3 581.2h0M622.3 587.4h0M619.0 606.1h0M618.5 561.0h0M622.2 556.0h0M618.2 574.0h0M620.4 572.4h0M617.7 565.6h0M621.8 597.8h0M618.6 604.8h0M622.0 643.3h0M618.5 555.4h0M622.5 575.0h0M622.3 602.0h0M621.2 643.3h0M620.4 586.9h0M618.4 628.5h0M617.7 594.5h0M618.4 600.3h0M620.2 569.2h0M617.7 651.0h0M618.6 555.0h0M617.6 561.0h0M619.6 577.8h0M618.2 630.4h0M617.8 605.0h0M620.7 572.1h0M620.1 571.8h0M622.3 585.1h0M621.5 591.5h0M620.2 558.8h0M620.5 581.1h0M618.6 566.8h0M618.0 587.8h0M622.4 577.2h0M619.8 580.9h0M620.5 627.2h0M617.4 643.5h0M617.9 578.4h0M621.9 563.0h0M618.7 596.4h0M621.4 580.1h0M620.8 621.0h0M619.9 568.4h0M621.1 577.8h0M622.0 558.8h0M622.0 574.2h0M618.6 650.3h0M619.4 606.1h0M619.9 585.7h0M618.5 559.8h0M618.0 564.3h0M618.5 557.5h0M619.1 590.0h0M622.3 599.3h0M621.3 604.5h0M619.2 588.8h0M617.8 596.8h0M617.9 654.0h0M622.3 572.7h0M618.2 590.3h0M621.6 603.5h0M619.7 564.7h0M618.8 574.9h0M621.7 593.8h0M618.3 623.7h0M619.7 609.6h0M619.7 562.8h0M621.2 567.4h0M619.3 590.7h0M618.2 650.5h0M621.2 567.9h0M618.6 586.3h0M622.3 572.5h0" stroke="#1f5e1f" stroke-opacity="0.62" stroke-width="1.4" stroke-linecap="round"/>
<line x1="620.00" y1="554.44" x2="620.00" y2="571.40" stroke="#1e6b1e" stroke-width="0.7" stroke-dasharray="1.5,1"/>
<line x1="620.00" y1="606.20" x2="620.00" y2="654.49" stroke="#1e6b1e" stroke-width="0.7" stroke-dasharray="1.5,1"/>
<line x1="618.40" y1="554.44" x2="621.60" y2="554.44" stroke="#1e6b1e" stroke-width="0.8"/>
<line x1="618.40" y1="654.49" x2="621.60" y2="654.49" stroke="#1e6b1e" stroke-width="0.8"/>
<rect x="614.50" y="571.40" width="11.00" height="34.80" fill="none" stroke="#1e6b1e" stroke-width="0.9"/>
<line x1="614.50" y1="590.32" x2="625.50" y2="590.32" stroke="#1e6b1e" stroke-width="1.6"/>
<rect x="628.40" y="576.62" width="11.40" height="36.98" fill="#3fae44" stroke="#135c13" stroke-width="0.9"/>
<path d="M633.9 589.6h0M635.2 644.0h0M634.5 572.4h0M636.3 588.4h0M633.7 659.7h0M631.8 586.2h0M632.8 564.0h0M635.6 614.9h0M634.6 626.6h0M633.2 630.5h0M635.4 608.0h0M633.7 576.7h0M635.8 562.5h0M635.8 608.8h0M632.0 592.9h0M636.4 599.3h0M636.7 593.9h0M636.3 576.4h0M636.2 652.1h0M636.0 566.2h0M636.5 610.6h0M634.4 572.7h0M634.6 589.8h0M635.0 593.3h0M636.1 633.7h0M632.2 606.9h0M632.7 586.7h0M634.9 611.9h0M633.8 655.3h0M633.8 568.7h0M635.9 574.9h0M636.8 585.0h0M635.3 563.3h0M633.2 632.9h0M634.3 609.8h0M633.6 653.9h0M634.4 586.8h0M636.1 558.4h0M636.7 573.0h0M632.6 599.9h0M632.4 622.5h0M634.3 601.3h0M635.1 598.1h0M634.1 605.2h0M634.8 561.3h0M632.0 632.1h0M636.4 566.4h0M634.6 598.7h0M634.7 597.1h0M635.4 643.9h0M632.0 647.6h0M633.6 610.4h0M636.6 570.7h0M633.4 573.3h0M633.7 567.6h0M632.7 594.6h0M635.1 564.9h0M633.8 622.2h0M633.4 607.9h0M633.4 592.0h0M635.7 586.0h0M634.1 605.8h0M635.8 597.8h0M632.7 591.2h0M632.7 660.0h0M635.7 585.1h0M632.7 570.2h0M636.3 589.2h0M635.2 581.1h0M632.6 586.3h0M632.6 568.3h0M632.0 574.6h0M635.2 619.3h0M633.5 573.9h0M634.5 624.9h0M636.1 642.7h0M635.4 580.4h0M632.2 594.3h0M632.3 585.6h0M631.6 565.9h0M633.8 570.2h0M632.2 626.5h0M631.7 586.5h0M633.8 597.3h0M633.0 624.8h0M631.9 609.6h0M632.7 601.6h0M633.6 597.4h0M631.5 625.9h0M632.8 613.3h0M635.9 576.1h0M634.6 562.9h0M635.5 560.8h0M633.1 658.8h0M635.9 561.9h0M634.5 566.7h0M636.2 558.6h0M633.4 585.8h0M635.5 565.6h0M636.6 584.2h0M634.4 658.8h0M635.2 594.1h0M632.3 572.5h0M634.4 616.0h0M633.1 609.0h0M634.3 606.7h0M635.4 593.3h0M636.4 572.7h0M632.9 605.3h0M633.7 637.7h0M631.7 575.3h0M632.6 568.2h0M636.6 619.5h0M633.7 571.5h0M632.2 595.9h0M632.0 561.4h0M632.1 591.0h0M632.7 562.5h0M634.0 652.7h0M635.4 567.6h0M634.6 588.2h0M635.2 576.5h0M632.6 595.2h0M632.3 569.1h0M635.8 562.8h0M632.1 616.5h0M635.4 565.3h0M633.0 604.6h0M636.3 562.4h0M631.9 569.9h0M636.8 609.3h0M633.5 564.2h0M636.0 577.7h0M636.6 612.9h0M631.7 603.7h0M636.4 603.2h0M634.5 619.1h0M636.5 603.1h0M634.1 587.2h0M636.2 605.2h0M635.8 561.2h0M633.1 603.0h0M636.1 558.7h0M635.4 569.5h0M632.3 570.5h0M635.9 558.7h0M632.4 585.4h0M634.8 558.0h0M634.3 587.3h0M631.9 587.3h0M632.8 571.9h0M634.9 568.7h0M631.7 613.0h0M635.9 561.1h0M631.9 648.3h0M635.2 605.0h0M632.3 567.4h0M634.8 605.0h0M635.1 614.1h0M636.3 590.8h0M636.3 590.1h0M632.6 588.6h0M632.6 592.1h0M631.4 638.1h0M636.4 624.3h0M632.7 602.1h0M633.9 608.0h0M633.3 600.3h0M633.0 631.4h0M631.9 560.5h0M631.7 660.6h0M631.7 609.8h0M631.5 626.7h0M632.6 599.4h0M633.2 634.8h0M635.1 655.7h0M632.6 597.4h0M633.5 571.0h0M635.9 589.6h0M635.5 582.0h0M635.9 562.9h0M634.6 559.6h0M633.9 657.9h0M632.9 567.3h0M632.6 576.2h0M634.4 647.9h0M632.1 610.4h0M636.2 610.2h0M632.2 601.7h0M635.4 603.9h0M632.3 600.7h0M633.4 650.2h0M636.4 652.9h0M632.3 572.8h0M632.3 629.5h0M633.2 645.6h0M631.7 603.2h0M632.5 563.8h0M635.8 569.5h0M633.0 574.3h0M634.2 570.1h0M634.7 557.8h0M632.8 570.8h0M635.1 577.0h0M632.7 596.5h0M631.5 646.6h0M632.2 559.2h0M631.5 572.7h0M635.3 593.7h0M632.2 577.8h0M631.9 579.8h0M636.3 590.9h0M636.8 605.9h0M631.9 582.6h0M634.6 584.7h0M635.9 592.2h0M633.7 602.0h0M636.4 585.7h0M635.4 565.0h0M634.5 633.6h0M634.4 605.3h0M633.3 575.0h0M631.4 599.0h0M633.4 622.6h0M636.4 609.1h0M636.7 605.1h0M634.5 558.6h0M632.8 604.6h0M636.5 622.5h0M634.5 596.4h0M634.0 580.1h0M635.3 560.8h0M633.3 567.8h0M635.8 657.5h0M631.9 585.7h0M636.6 635.1h0M632.5 658.3h0M631.7 602.4h0M631.8 572.6h0M632.3 638.3h0M632.3 613.3h0M631.4 579.7h0M635.5 614.5h0M636.5 631.8h0M633.5 616.6h0M632.4 592.2h0M636.7 605.9h0M632.4 572.2h0M635.3 600.9h0M633.6 581.4h0M631.9 596.7h0M632.0 578.6h0M636.2 583.5h0M632.2 610.2h0M635.5 605.4h0M635.1 652.8h0M635.6 562.1h0M635.5 617.6h0M635.7 576.4h0M635.6 607.0h0M636.7 643.8h0M635.5 594.2h0M632.3 606.2h0M631.8 562.4h0M634.2 648.9h0M633.0 578.7h0M635.5 557.9h0M633.1 633.0h0M634.1 587.6h0M631.4 591.4h0M633.5 561.0h0M632.6 564.1h0M634.0 603.0h0M634.4 559.4h0M636.0 585.7h0M632.2 581.6h0M631.7 617.3h0M634.7 558.0h0M632.5 590.2h0M635.0 600.2h0M636.5 567.8h0M635.7 599.4h0M633.3 601.2h0M631.5 565.1h0M635.7 608.9h0M633.6 599.0h0M632.3 565.8h0M632.4 656.0h0M635.1 594.7h0M636.5 583.7h0M632.1 567.4h0M632.9 577.0h0M634.8 612.9h0M633.2 585.9h0M634.6 612.1h0M633.7 650.4h0M633.8 585.1h0M635.1 618.7h0M632.5 581.8h0M635.5 608.3h0M631.8 580.3h0M633.2 574.1h0M632.5 579.2h0M632.9 574.7h0M635.9 557.8h0M636.7 588.1h0M636.8 609.2h0M635.8 585.8h0M635.5 614.8h0M634.3 574.2h0M635.3 656.3h0M634.8 601.9h0M632.3 606.0h0M634.4 631.1h0M636.5 593.0h0M632.3 573.3h0M633.0 617.5h0M636.6 611.1h0M634.4 577.3h0M635.9 573.5h0M633.4 599.4h0M634.0 584.4h0M631.6 609.2h0M633.1 639.1h0M635.0 596.1h0M632.0 636.4h0M636.5 608.7h0M633.2 577.4h0M636.3 581.3h0M636.3 559.3h0M635.2 641.6h0M631.7 560.1h0M634.6 588.5h0M635.4 563.9h0M633.4 568.3h0M635.5 620.2h0M635.1 585.1h0M636.1 650.1h0M631.4 579.9h0M633.7 567.6h0M632.2 648.6h0M631.8 582.8h0M633.3 613.7h0M632.2 565.6h0M633.5 582.0h0M636.4 605.3h0M635.1 590.7h0M632.4 595.0h0M635.4 650.8h0M633.0 597.5h0M634.8 650.8h0M634.5 613.2h0M633.3 566.0h0M635.2 595.5h0M635.6 596.0h0M633.1 606.8h0M635.9 574.0h0M634.7 617.3h0M636.7 562.1h0M634.7 564.7h0M631.4 567.1h0M635.0 602.9h0M635.5 566.7h0M634.7 584.2h0M632.0 583.9h0M631.6 577.4h0M631.9 617.5h0M635.7 590.5h0M632.7 605.9h0M635.0 605.8h0M632.4 576.1h0M634.0 594.8h0M636.2 599.2h0M636.1 575.4h0M634.4 580.5h0M633.7 560.3h0M634.8 577.0h0M635.5 562.8h0M635.5 583.6h0M636.7 605.6h0M635.1 581.2h0M631.8 579.8h0M635.9 652.1h0M636.0 634.8h0M632.8 624.7h0M632.8 599.8h0M633.7 574.8h0M634.5 563.9h0M634.3 630.5h0M634.9 577.9h0M635.1 598.0h0M635.3 563.9h0M633.8 610.5h0M633.4 559.6h0M633.9 571.8h0M633.4 568.7h0M632.8 607.6h0M635.4 609.2h0M636.1 616.3h0M636.0 569.4h0M632.1 600.7h0M634.0 571.4h0M632.7 643.0h0M633.6 594.9h0M635.8 585.0h0M636.6 612.3h0M631.4 567.2h0M635.0 598.0h0M633.4 657.1h0M631.7 611.2h0M636.7 567.7h0M632.8 575.5h0M634.7 600.2h0M635.5 565.2h0M635.9 638.0h0M636.0 580.0h0M632.7 580.1h0M636.5 580.8h0M632.5 569.2h0M636.0 604.0h0" stroke="#174f17" stroke-opacity="0.62" stroke-width="1.4" stroke-linecap="round"/>
<line x1="634.10" y1="557.70" x2="634.10" y2="576.62" stroke="#135c13" stroke-width="0.7" stroke-dasharray="1.5,1"/>
<line x1="634.10" y1="613.60" x2="634.10" y2="661.01" stroke="#135c13" stroke-width="0.7" stroke-dasharray="1.5,1"/>
<line x1="632.50" y1="557.70" x2="635.70" y2="557.70" stroke="#135c13" stroke-width="0.8"/>
<line x1="632.50" y1="661.01" x2="635.70" y2="661.01" stroke="#135c13" stroke-width="0.8"/>
<rect x="628.40" y="576.62" width="11.40" height="36.98" fill="none" stroke="#135c13" stroke-width="0.9"/>
<line x1="628.40" y1="596.20" x2="639.80" y2="596.20" stroke="#135c13" stroke-width="1.6"/>
<line x1="605.60" y1="667.20" x2="634.60" y2="667.20" stroke="#222" stroke-width="1.0"/>
<line x1="605.60" y1="667.20" x2="605.60" y2="670.80" stroke="#222" stroke-width="0.8"/>
<text transform="translate(608.1,675.8) rotate(-90)" font-size="7.3" text-anchor="end" fill="#222">none</text>
<line x1="619.80" y1="667.20" x2="619.80" y2="670.80" stroke="#222" stroke-width="0.8"/>
<text transform="translate(622.3,675.8) rotate(-90)" font-size="7.3" text-anchor="end" fill="#222"><tspan font-style="italic">hnf4(RNAi)+nkx2-2(RNAi)</tspan></text>
<line x1="634.60" y1="667.20" x2="634.60" y2="670.80" stroke="#222" stroke-width="0.8"/>
<text transform="translate(637.1,675.8) rotate(-90)" font-size="7.3" text-anchor="end" fill="#222"><tspan font-style="italic">hnf4(RNAi)+nkx2-2(RNAi)</tspan> only</text>
<path d="M634.6,789.2 L634.6,781.0" stroke="#2b9a2b" stroke-width="1.0"/>
<path d="M632.2,781.8 L634.6,777.6 L637.0,781.8 Z" fill="#2b9a2b"/>
</svg></body></html>
